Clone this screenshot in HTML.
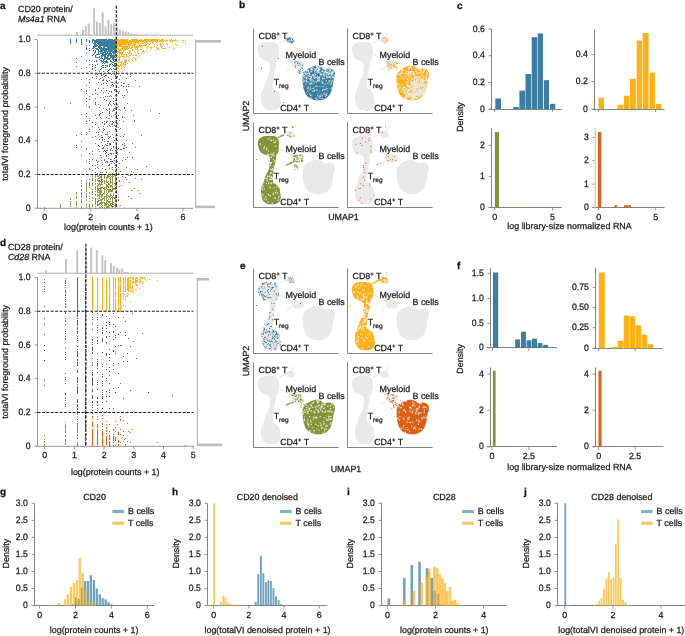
<!DOCTYPE html>
<html><head><meta charset="utf-8"><style>
html,body{margin:0;padding:0;background:#fff;width:685px;height:636px;overflow:hidden}
svg{display:block;will-change:transform}
text{font-family:"Liberation Sans",sans-serif;text-rendering:geometricPrecision;stroke:#1a1a1a;stroke-width:0.25px}
</style></head><body><svg width="685" height="636" viewBox="0 0 685 636" font-family="Liberation Sans, sans-serif"><line x1="37.5" y1="39.6" x2="37.5" y2="208.3" stroke="#7c7c7c" stroke-width="0.8"/><line x1="34.5" y1="208.2" x2="37.5" y2="208.2" stroke="#7c7c7c" stroke-width="0.8"/><text transform="translate(30.5 210.7) scale(0.93 1)" font-size="9.3" text-anchor="end" fill="#1a1a1a">0</text><line x1="34.5" y1="174.48" x2="37.5" y2="174.48" stroke="#7c7c7c" stroke-width="0.8"/><text transform="translate(30.5 176.98) scale(0.93 1)" font-size="9.3" text-anchor="end" fill="#1a1a1a">0.2</text><line x1="34.5" y1="140.76" x2="37.5" y2="140.76" stroke="#7c7c7c" stroke-width="0.8"/><text transform="translate(30.5 143.26) scale(0.93 1)" font-size="9.3" text-anchor="end" fill="#1a1a1a">0.4</text><line x1="34.5" y1="107.04" x2="37.5" y2="107.04" stroke="#7c7c7c" stroke-width="0.8"/><text transform="translate(30.5 109.54) scale(0.93 1)" font-size="9.3" text-anchor="end" fill="#1a1a1a">0.6</text><line x1="34.5" y1="73.32" x2="37.5" y2="73.32" stroke="#7c7c7c" stroke-width="0.8"/><text transform="translate(30.5 75.82) scale(0.93 1)" font-size="9.3" text-anchor="end" fill="#1a1a1a">0.8</text><line x1="34.5" y1="39.6" x2="37.5" y2="39.6" stroke="#7c7c7c" stroke-width="0.8"/><text transform="translate(30.5 42.1) scale(0.93 1)" font-size="9.3" text-anchor="end" fill="#1a1a1a">1.0</text><line x1="37.5" y1="208.3" x2="193.2" y2="208.3" stroke="#7c7c7c" stroke-width="0.8"/><line x1="44.7" y1="208.2" x2="44.7" y2="211.2" stroke="#7c7c7c" stroke-width="0.8"/><text x="44.7" y="220.2" font-size="8.9" text-anchor="middle" fill="#1a1a1a">0</text><line x1="90.8" y1="208.2" x2="90.8" y2="211.2" stroke="#7c7c7c" stroke-width="0.8"/><text x="90.8" y="220.2" font-size="8.9" text-anchor="middle" fill="#1a1a1a">2</text><line x1="136.9" y1="208.2" x2="136.9" y2="211.2" stroke="#7c7c7c" stroke-width="0.8"/><text x="136.9" y="220.2" font-size="8.9" text-anchor="middle" fill="#1a1a1a">4</text><line x1="183" y1="208.2" x2="183" y2="211.2" stroke="#7c7c7c" stroke-width="0.8"/><text x="183" y="220.2" font-size="8.9" text-anchor="middle" fill="#1a1a1a">6</text><text x="108.4" y="230" font-size="8.9" text-anchor="middle" fill="#1a1a1a">log(protein counts + 1)</text><text x="8.4" y="123.9" font-size="8.9" text-anchor="middle" transform="rotate(-90 8.4 123.9)" fill="#1a1a1a">totalVI foreground probability</text><rect x="67.85" y="34.7" width="1.9" height="0.5" fill="#c2c2c2"/><rect x="76.05" y="31.9" width="1.9" height="3.3" fill="#c2c2c2"/><rect x="82.05" y="29.9" width="1.9" height="5.3" fill="#c2c2c2"/><rect x="84.85" y="26.2" width="1.9" height="9" fill="#c2c2c2"/><rect x="87.75" y="23.6" width="1.9" height="11.6" fill="#c2c2c2"/><rect x="93.15" y="8.2" width="1.9" height="27" fill="#c2c2c2"/><rect x="96.05" y="21.7" width="1.9" height="13.5" fill="#c2c2c2"/><rect x="98.95" y="23" width="1.9" height="12.2" fill="#c2c2c2"/><rect x="101.75" y="12.5" width="1.9" height="22.7" fill="#c2c2c2"/><rect x="104.65" y="26.2" width="1.9" height="9" fill="#c2c2c2"/><rect x="107.45" y="20" width="1.9" height="15.2" fill="#c2c2c2"/><rect x="110.25" y="24.2" width="1.9" height="11" fill="#c2c2c2"/><rect x="113.15" y="23.2" width="1.9" height="12" fill="#c2c2c2"/><rect x="116.25" y="27.2" width="1.9" height="8" fill="#c2c2c2"/><rect x="118.95" y="29.4" width="1.9" height="5.8" fill="#c2c2c2"/><rect x="121.85" y="30.8" width="1.9" height="4.4" fill="#c2c2c2"/><rect x="124.65" y="31.6" width="1.9" height="3.6" fill="#c2c2c2"/><rect x="127.55" y="32.2" width="1.9" height="3" fill="#c2c2c2"/><rect x="130.35" y="33.2" width="1.9" height="2" fill="#c2c2c2"/><rect x="133.25" y="33.9" width="1.9" height="1.3" fill="#c2c2c2"/><rect x="136.05" y="34.2" width="1.9" height="1" fill="#c2c2c2"/><rect x="139.05" y="34.6" width="1.9" height="0.6" fill="#c2c2c2"/><rect x="142.05" y="34.8" width="1.9" height="0.4" fill="#c2c2c2"/><line x1="37.2" y1="35.2" x2="193.2" y2="35.2" stroke="#b0b0b0" stroke-width="1"/><line x1="195.6" y1="39.6" x2="195.6" y2="208.2" stroke="#b4b4b4" stroke-width="1.1"/><rect x="195.6" y="40" width="25.4" height="2.6" fill="#bdbdbd"/><rect x="195.6" y="205.6" width="19.4" height="2.6" fill="#bdbdbd"/><text x="18" y="12.4" font-size="8.9" text-anchor="start" fill="#1a1a1a">CD20 protein/</text><text x="18" y="22.4" font-size="8.9" fill="#1a1a1a"><tspan font-style="italic">Ms4a1</tspan> RNA</text><path d="M103 108h1v1h-1zM112 167h1v1h-1zM95 168h1v1h-1zM104 123h1v1h-1zM118 167h1v1h-1zM109 165h1v1h-1zM86 161h1v1h-1zM116 151h1v1h-1zM86 116h1v1h-1zM86 134h1v1h-1zM110 87h1v1h-1zM106 145h1v1h-1zM110 143h1v1h-1zM111 91h1v1h-1zM113 109h1v1h-1zM120 136h1v1h-1zM102 168h1v1h-1zM105 153h1v1h-1zM101 142h1v1h-1zM95 115h1v1h-1zM97 94h1v1h-1zM109 103h1v1h-1zM107 121h1v1h-1zM121 85h1v1h-1zM105 75h1v1h-1zM97 162h1v1h-1zM89 159h1v1h-1zM116 125h1v1h-1zM123 97h1v1h-1zM111 116h1v1h-1zM114 104h1v1h-1zM99 114h1v1h-1zM95 89h1v1h-1zM100 78h1v1h-1zM89 168h1v1h-1zM109 103h1v1h-1zM86 91h1v1h-1zM76 145h1v1h-1zM95 172h1v1h-1zM118 127h1v1h-1zM109 168h1v1h-1zM111 96h1v1h-1zM112 134h1v1h-1zM113 86h1v1h-1zM117 118h1v1h-1zM113 85h1v1h-1zM116 146h1v1h-1zM86 132h1v1h-1zM92 77h1v1h-1zM125 159h1v1h-1zM110 150h1v1h-1zM114 125h1v1h-1zM99 174h1v1h-1zM102 132h1v1h-1zM96 78h1v1h-1zM117 104h1v1h-1zM89 106h1v1h-1zM105 169h1v1h-1zM123 86h1v1h-1zM95 93h1v1h-1zM97 164h1v1h-1zM114 110h1v1h-1zM110 153h1v1h-1zM108 158h1v1h-1zM104 174h1v1h-1zM110 159h1v1h-1zM115 171h1v1h-1zM113 86h1v1h-1zM102 148h1v1h-1zM102 139h1v1h-1zM103 88h1v1h-1zM111 74h1v1h-1zM95 165h1v1h-1zM109 164h1v1h-1zM101 90h1v1h-1zM114 158h1v1h-1zM134 121h1v1h-1zM111 159h1v1h-1zM104 121h1v1h-1zM106 75h1v1h-1zM118 148h1v1h-1zM92 137h1v1h-1zM116 120h1v1h-1zM124 95h1v1h-1zM103 92h1v1h-1zM114 74h1v1h-1zM119 91h1v1h-1zM89 99h1v1h-1zM108 138h1v1h-1zM120 171h1v1h-1zM116 148h1v1h-1zM108 104h1v1h-1zM119 79h1v1h-1zM103 74h1v1h-1zM117 152h1v1h-1zM103 151h1v1h-1zM109 111h1v1h-1zM114 83h1v1h-1zM114 108h1v1h-1zM95 93h1v1h-1zM121 82h1v1h-1zM115 95h1v1h-1zM106 156h1v1h-1zM92 94h1v1h-1zM96 76h1v1h-1zM124 134h1v1h-1zM86 101h1v1h-1zM123 157h1v1h-1zM111 82h1v1h-1zM111 92h1v1h-1zM120 75h1v1h-1zM124 107h1v1h-1zM98 161h1v1h-1zM118 173h1v1h-1zM123 121h1v1h-1zM103 80h1v1h-1zM86 90h1v1h-1zM116 153h1v1h-1zM106 150h1v1h-1zM116 115h1v1h-1zM106 161h1v1h-1zM118 82h1v1h-1zM99 115h1v1h-1zM117 83h1v1h-1zM86 123h1v1h-1zM119 120h1v1h-1zM104 129h1v1h-1zM106 155h1v1h-1zM127 157h1v1h-1zM107 126h1v1h-1zM104 141h1v1h-1zM92 122h1v1h-1zM89 163h1v1h-1zM100 117h1v1h-1zM107 96h1v1h-1zM116 123h1v1h-1zM89 82h1v1h-1zM99 129h1v1h-1zM95 122h1v1h-1zM98 104h1v1h-1zM92 126h1v1h-1zM111 79h1v1h-1zM99 79h1v1h-1zM86 148h1v1h-1zM81 89h1v1h-1zM96 160h1v1h-1zM115 167h1v1h-1zM115 150h1v1h-1zM122 95h1v1h-1zM114 83h1v1h-1zM117 107h1v1h-1zM122 160h1v1h-1zM129 152h1v1h-1zM86 78h1v1h-1zM95 74h1v1h-1zM114 90h1v1h-1zM113 122h1v1h-1zM117 140h1v1h-1zM110 101h1v1h-1zM116 172h1v1h-1zM95 172h1v1h-1zM102 140h1v1h-1zM97 167h1v1h-1zM97 74h1v1h-1zM114 163h1v1h-1zM76 147h1v1h-1zM126 147h1v1h-1zM111 161h1v1h-1zM86 91h1v1h-1zM118 148h1v1h-1zM122 116h1v1h-1zM127 103h1v1h-1zM110 104h1v1h-1zM109 131h1v1h-1zM131 110h1v1h-1zM118 93h1v1h-1zM126 167h1v1h-1zM118 87h1v1h-1zM96 118h1v1h-1zM109 80h1v1h-1zM106 121h1v1h-1zM112 150h1v1h-1zM112 169h1v1h-1zM111 154h1v1h-1zM103 97h1v1h-1zM116 145h1v1h-1zM99 139h1v1h-1zM106 172h1v1h-1zM106 100h1v1h-1zM108 118h1v1h-1zM111 79h1v1h-1zM119 163h1v1h-1zM112 124h1v1h-1zM95 90h1v1h-1zM95 104h1v1h-1zM115 75h1v1h-1zM95 102h1v1h-1zM125 110h1v1h-1zM98 168h1v1h-1zM112 161h1v1h-1zM124 148h1v1h-1zM115 157h1v1h-1zM126 86h1v1h-1zM118 106h1v1h-1zM105 144h1v1h-1zM115 128h1v1h-1zM113 147h1v1h-1zM117 77h1v1h-1zM121 149h1v1h-1zM104 76h1v1h-1zM102 174h1v1h-1zM117 135h1v1h-1zM92 154h1v1h-1zM109 123h1v1h-1zM115 165h1v1h-1zM107 134h1v1h-1zM109 143h1v1h-1zM107 150h1v1h-1zM95 98h1v1h-1zM99 107h1v1h-1zM101 135h1v1h-1zM81 141h1v1h-1zM113 101h1v1h-1zM106 109h1v1h-1zM128 84h1v1h-1zM112 111h1v1h-1zM104 160h1v1h-1zM86 121h1v1h-1zM86 93h1v1h-1zM106 90h1v1h-1zM86 105h1v1h-1zM95 104h1v1h-1zM107 161h1v1h-1zM109 137h1v1h-1zM124 117h1v1h-1zM120 110h1v1h-1zM95 124h1v1h-1zM95 174h1v1h-1zM112 123h1v1h-1zM89 120h1v1h-1zM104 99h1v1h-1zM103 148h1v1h-1zM115 100h1v1h-1zM111 153h1v1h-1zM104 124h1v1h-1zM76 135h1v1h-1zM89 96h1v1h-1zM109 112h1v1h-1zM104 159h1v1h-1zM103 148h1v1h-1zM106 117h1v1h-1zM97 173h1v1h-1zM115 106h1v1h-1zM110 104h1v1h-1zM102 122h1v1h-1zM98 127h1v1h-1zM101 84h1v1h-1zM108 154h1v1h-1zM133 172h1v1h-1zM103 128h1v1h-1zM119 129h1v1h-1zM81 147h1v1h-1zM113 153h1v1h-1zM133 115h1v1h-1zM115 78h1v1h-1zM117 161h1v1h-1zM112 84h1v1h-1zM95 103h1v1h-1zM109 125h1v1h-1zM131 171h1v1h-1zM120 128h1v1h-1zM107 143h1v1h-1zM113 142h1v1h-1zM115 89h1v1h-1zM126 89h1v1h-1zM107 162h1v1h-1zM123 83h1v1h-1zM98 145h1v1h-1zM98 73h1v1h-1zM115 114h1v1h-1zM99 146h1v1h-1zM116 169h1v1h-1zM124 145h1v1h-1zM119 79h1v1h-1zM106 122h1v1h-1zM115 155h1v1h-1zM86 85h1v1h-1zM127 92h1v1h-1zM89 79h1v1h-1zM89 118h1v1h-1zM106 100h1v1h-1zM103 128h1v1h-1zM107 145h1v1h-1zM89 169h1v1h-1zM112 126h1v1h-1zM104 139h1v1h-1zM101 75h1v1h-1zM124 148h1v1h-1zM101 118h1v1h-1zM98 134h1v1h-1zM110 153h1v1h-1zM112 82h1v1h-1zM98 82h1v1h-1zM107 73h1v1h-1zM100 155h1v1h-1zM108 165h1v1h-1zM104 150h1v1h-1zM111 148h1v1h-1zM86 98h1v1h-1zM96 132h1v1h-1zM95 136h1v1h-1zM114 140h1v1h-1zM115 76h1v1h-1zM110 161h1v1h-1zM89 87h1v1h-1zM106 152h1v1h-1zM105 134h1v1h-1zM115 129h1v1h-1zM128 86h1v1h-1zM100 172h1v1h-1zM124 83h1v1h-1zM110 126h1v1h-1zM106 134h1v1h-1zM106 80h1v1h-1zM117 76h1v1h-1zM86 149h1v1h-1zM112 121h1v1h-1zM111 105h1v1h-1zM124 108h1v1h-1zM100 97h1v1h-1zM92 170h1v1h-1zM110 95h1v1h-1zM109 109h1v1h-1zM132 143h1v1h-1zM113 110h1v1h-1zM113 103h1v1h-1zM110 121h1v1h-1zM109 115h1v1h-1zM100 113h1v1h-1zM112 173h1v1h-1zM102 77h1v1h-1zM119 109h1v1h-1zM116 150h1v1h-1zM98 149h1v1h-1zM124 143h1v1h-1zM102 172h1v1h-1zM89 131h1v1h-1zM107 148h1v1h-1zM92 151h1v1h-1zM86 171h1v1h-1zM100 105h1v1h-1zM117 154h1v1h-1zM112 123h1v1h-1zM89 153h1v1h-1zM116 91h1v1h-1zM105 151h1v1h-1zM110 144h1v1h-1zM126 78h1v1h-1zM99 151h1v1h-1zM107 132h1v1h-1zM92 159h1v1h-1zM81 134h1v1h-1zM114 160h1v1h-1zM137 169h1v1h-1zM117 83h1v1h-1zM111 85h1v1h-1zM102 80h1v1h-1zM103 79h1v1h-1zM113 98h1v1h-1zM123 136h1v1h-1zM110 136h1v1h-1zM103 174h1v1h-1zM113 146h1v1h-1zM89 161h1v1h-1zM130 76h1v1h-1zM109 91h1v1h-1zM117 91h1v1h-1zM103 126h1v1h-1zM108 136h1v1h-1zM113 137h1v1h-1zM103 83h1v1h-1zM118 92h1v1h-1zM109 96h1v1h-1zM109 168h1v1h-1zM107 81h1v1h-1zM106 83h1v1h-1zM126 140h1v1h-1zM102 112h1v1h-1zM135 147h1v1h-1zM104 146h1v1h-1zM97 174h1v1h-1zM107 110h1v1h-1zM81 79h1v1h-1zM115 126h1v1h-1zM108 77h1v1h-1zM117 149h1v1h-1zM103 130h1v1h-1zM81 155h1v1h-1zM108 93h1v1h-1zM105 96h1v1h-1zM86 113h1v1h-1zM102 137h1v1h-1zM115 95h1v1h-1zM113 98h1v1h-1zM110 149h1v1h-1zM109 118h1v1h-1zM108 141h1v1h-1zM130 74h1v1h-1zM103 147h1v1h-1zM111 124h1v1h-1zM109 102h1v1h-1zM98 132h1v1h-1zM109 111h1v1h-1zM98 88h1v1h-1zM89 107h1v1h-1zM122 144h1v1h-1zM122 117h1v1h-1zM92 154h1v1h-1zM120 149h1v1h-1zM107 85h1v1h-1zM113 115h1v1h-1zM101 74h1v1h-1zM117 123h1v1h-1zM109 108h1v1h-1zM127 74h1v1h-1zM117 91h1v1h-1zM114 89h1v1h-1zM109 144h1v1h-1zM105 162h1v1h-1zM118 115h1v1h-1zM135 80h1v1h-1zM89 129h1v1h-1zM123 148h1v1h-1zM111 163h1v1h-1zM81 114h1v1h-1zM101 137h1v1h-1zM101 160h1v1h-1zM109 113h1v1h-1zM115 108h1v1h-1zM107 141h1v1h-1zM108 105h1v1h-1zM110 153h1v1h-1zM116 94h1v1h-1zM102 164h1v1h-1zM105 134h1v1h-1zM92 165h1v1h-1zM101 157h1v1h-1zM102 145h1v1h-1zM95 143h1v1h-1zM116 117h1v1h-1zM44 107h1v1h-1zM159 113h1v1h-1zM141 135h1v1h-1zM150 110h1v1h-1zM139 86h1v1h-1zM134 120h1v1h-1zM70 103h1v1h-1zM146 166h1v1h-1zM132 157h1v1h-1z" fill="#707070"/><path d="M60 204h1v1h-1zM60 206h1v1h-1zM60 207h1v1h-1zM60 204h1v1h-1zM60 204h1v1h-1zM60 205h1v1h-1zM70 203h1v1h-1zM70 201h1v1h-1zM70 202h1v1h-1zM70 204h1v1h-1zM70 206h1v1h-1zM70 203h1v1h-1zM70 203h1v1h-1zM70 199h1v1h-1zM70 198h1v1h-1zM70 202h1v1h-1zM76 203h1v1h-1zM76 204h1v1h-1zM76 198h1v1h-1zM76 196h1v1h-1zM76 204h1v1h-1zM76 197h1v1h-1zM76 192h1v1h-1zM76 202h1v1h-1zM76 193h1v1h-1zM76 201h1v1h-1zM76 198h1v1h-1zM76 194h1v1h-1zM76 205h1v1h-1zM76 202h1v1h-1zM76 193h1v1h-1zM76 207h1v1h-1zM81 199h1v1h-1zM81 194h1v1h-1zM81 186h1v1h-1zM81 190h1v1h-1zM81 181h1v1h-1zM81 189h1v1h-1zM81 208h1v1h-1zM81 206h1v1h-1zM81 207h1v1h-1zM81 195h1v1h-1zM81 207h1v1h-1zM81 193h1v1h-1zM81 190h1v1h-1zM81 202h1v1h-1zM81 183h1v1h-1zM81 196h1v1h-1zM81 180h1v1h-1zM81 197h1v1h-1zM81 190h1v1h-1zM81 192h1v1h-1zM81 200h1v1h-1zM81 185h1v1h-1zM81 208h1v1h-1zM81 201h1v1h-1zM86 199h1v1h-1zM86 183h1v1h-1zM86 194h1v1h-1zM86 207h1v1h-1zM86 199h1v1h-1zM86 191h1v1h-1zM86 185h1v1h-1zM86 205h1v1h-1zM86 186h1v1h-1zM86 197h1v1h-1zM86 193h1v1h-1zM86 196h1v1h-1zM86 195h1v1h-1zM86 180h1v1h-1zM86 182h1v1h-1zM86 182h1v1h-1zM86 187h1v1h-1zM86 188h1v1h-1zM86 204h1v1h-1zM86 207h1v1h-1zM86 184h1v1h-1zM86 189h1v1h-1zM86 190h1v1h-1zM86 199h1v1h-1zM86 200h1v1h-1zM86 182h1v1h-1zM89 192h1v1h-1zM89 207h1v1h-1zM89 198h1v1h-1zM89 198h1v1h-1zM89 206h1v1h-1zM89 179h1v1h-1zM89 182h1v1h-1zM89 184h1v1h-1zM89 208h1v1h-1zM89 196h1v1h-1zM89 204h1v1h-1zM89 187h1v1h-1zM89 184h1v1h-1zM89 185h1v1h-1zM89 185h1v1h-1zM89 204h1v1h-1zM89 207h1v1h-1zM89 205h1v1h-1zM89 183h1v1h-1zM89 184h1v1h-1zM89 193h1v1h-1zM89 201h1v1h-1zM89 183h1v1h-1zM89 204h1v1h-1zM89 198h1v1h-1zM89 208h1v1h-1zM89 179h1v1h-1zM89 196h1v1h-1zM89 185h1v1h-1zM89 184h1v1h-1zM92 189h1v1h-1zM92 176h1v1h-1zM92 183h1v1h-1zM92 178h1v1h-1zM92 176h1v1h-1zM92 205h1v1h-1zM92 183h1v1h-1zM92 200h1v1h-1zM92 197h1v1h-1zM92 197h1v1h-1zM92 176h1v1h-1zM92 206h1v1h-1zM92 194h1v1h-1zM92 204h1v1h-1zM92 175h1v1h-1zM92 192h1v1h-1zM92 185h1v1h-1zM92 191h1v1h-1zM92 183h1v1h-1zM92 197h1v1h-1zM92 194h1v1h-1zM92 184h1v1h-1zM92 185h1v1h-1zM92 179h1v1h-1zM92 198h1v1h-1zM92 180h1v1h-1zM92 184h1v1h-1zM92 189h1v1h-1zM92 194h1v1h-1zM92 189h1v1h-1zM92 205h1v1h-1zM92 205h1v1h-1zM92 198h1v1h-1zM92 204h1v1h-1zM95 206h1v1h-1zM95 184h1v1h-1zM95 183h1v1h-1zM95 187h1v1h-1zM95 201h1v1h-1zM95 183h1v1h-1zM95 180h1v1h-1zM95 187h1v1h-1zM95 200h1v1h-1zM95 189h1v1h-1zM95 194h1v1h-1zM95 199h1v1h-1zM95 203h1v1h-1zM95 179h1v1h-1zM95 186h1v1h-1zM95 176h1v1h-1zM95 202h1v1h-1zM95 199h1v1h-1zM95 191h1v1h-1zM95 206h1v1h-1zM95 198h1v1h-1zM95 189h1v1h-1zM95 191h1v1h-1zM95 177h1v1h-1zM95 188h1v1h-1zM95 186h1v1h-1zM95 188h1v1h-1zM95 181h1v1h-1zM95 195h1v1h-1zM95 208h1v1h-1zM95 175h1v1h-1zM95 181h1v1h-1zM95 203h1v1h-1zM95 204h1v1h-1zM95 200h1v1h-1zM95 186h1v1h-1zM44 207h1v1h-1zM97 179h1v1h-1zM97 191h1v1h-1zM97 189h1v1h-1zM97 195h1v1h-1zM97 191h1v1h-1zM97 185h1v1h-1zM97 203h1v1h-1zM97 196h1v1h-1zM97 203h1v1h-1zM97 183h1v1h-1zM98 185h1v1h-1zM97 205h1v1h-1zM98 192h1v1h-1zM97 180h1v1h-1zM98 178h1v1h-1zM97 176h1v1h-1zM98 189h1v1h-1zM97 208h1v1h-1zM97 187h1v1h-1zM97 187h1v1h-1zM98 190h1v1h-1zM97 201h1v1h-1zM97 205h1v1h-1zM97 202h1v1h-1zM97 204h1v1h-1zM98 198h1v1h-1zM97 199h1v1h-1zM97 185h1v1h-1zM97 199h1v1h-1zM98 204h1v1h-1zM97 202h1v1h-1zM97 203h1v1h-1zM97 190h1v1h-1zM97 191h1v1h-1zM97 201h1v1h-1zM97 203h1v1h-1zM97 192h1v1h-1zM97 186h1v1h-1zM97 175h1v1h-1zM97 188h1v1h-1zM99 207h1v1h-1zM99 188h1v1h-1zM99 204h1v1h-1zM99 200h1v1h-1zM100 190h1v1h-1zM99 195h1v1h-1zM100 189h1v1h-1zM99 182h1v1h-1zM99 175h1v1h-1zM99 200h1v1h-1zM100 193h1v1h-1zM99 193h1v1h-1zM100 200h1v1h-1zM99 191h1v1h-1zM100 194h1v1h-1zM99 183h1v1h-1zM100 181h1v1h-1zM99 184h1v1h-1zM100 184h1v1h-1zM99 193h1v1h-1zM99 191h1v1h-1zM100 202h1v1h-1zM99 198h1v1h-1zM100 191h1v1h-1zM99 178h1v1h-1zM100 193h1v1h-1zM99 192h1v1h-1zM99 190h1v1h-1zM100 187h1v1h-1zM100 207h1v1h-1zM99 175h1v1h-1zM99 203h1v1h-1zM99 197h1v1h-1zM100 191h1v1h-1zM99 203h1v1h-1zM99 177h1v1h-1zM99 194h1v1h-1zM100 203h1v1h-1zM100 188h1v1h-1zM99 186h1v1h-1zM101 196h1v1h-1zM101 183h1v1h-1zM101 190h1v1h-1zM101 177h1v1h-1zM101 195h1v1h-1zM102 198h1v1h-1zM101 201h1v1h-1zM101 200h1v1h-1zM101 202h1v1h-1zM101 176h1v1h-1zM102 181h1v1h-1zM101 174h1v1h-1zM101 181h1v1h-1zM101 182h1v1h-1zM101 196h1v1h-1zM101 192h1v1h-1zM102 195h1v1h-1zM101 177h1v1h-1zM101 206h1v1h-1zM101 184h1v1h-1zM101 188h1v1h-1zM101 200h1v1h-1zM101 192h1v1h-1zM101 194h1v1h-1zM101 191h1v1h-1zM101 179h1v1h-1zM101 188h1v1h-1zM101 199h1v1h-1zM101 177h1v1h-1zM101 187h1v1h-1zM102 203h1v1h-1zM101 203h1v1h-1zM101 197h1v1h-1zM101 177h1v1h-1zM102 205h1v1h-1zM102 199h1v1h-1zM101 199h1v1h-1zM101 203h1v1h-1zM101 178h1v1h-1zM102 202h1v1h-1zM104 192h1v1h-1zM104 181h1v1h-1zM104 203h1v1h-1zM104 207h1v1h-1zM104 204h1v1h-1zM104 193h1v1h-1zM104 200h1v1h-1zM104 200h1v1h-1zM104 197h1v1h-1zM104 182h1v1h-1zM104 204h1v1h-1zM104 180h1v1h-1zM104 190h1v1h-1zM104 192h1v1h-1zM104 180h1v1h-1zM104 180h1v1h-1zM104 204h1v1h-1zM104 196h1v1h-1zM104 199h1v1h-1zM104 175h1v1h-1zM104 204h1v1h-1zM104 175h1v1h-1zM104 188h1v1h-1zM104 200h1v1h-1zM104 208h1v1h-1zM104 187h1v1h-1zM104 175h1v1h-1zM104 175h1v1h-1zM104 188h1v1h-1zM104 178h1v1h-1zM104 205h1v1h-1zM104 177h1v1h-1zM104 202h1v1h-1zM104 187h1v1h-1zM104 204h1v1h-1zM104 202h1v1h-1zM104 205h1v1h-1zM104 198h1v1h-1zM104 189h1v1h-1zM104 192h1v1h-1zM106 188h1v1h-1zM106 205h1v1h-1zM106 179h1v1h-1zM106 185h1v1h-1zM106 188h1v1h-1zM106 202h1v1h-1zM106 188h1v1h-1zM106 184h1v1h-1zM106 178h1v1h-1zM106 197h1v1h-1zM106 180h1v1h-1zM106 177h1v1h-1zM106 198h1v1h-1zM106 203h1v1h-1zM106 190h1v1h-1zM106 195h1v1h-1zM106 200h1v1h-1zM106 199h1v1h-1zM106 177h1v1h-1zM106 199h1v1h-1zM106 188h1v1h-1zM106 207h1v1h-1zM106 196h1v1h-1zM106 199h1v1h-1zM106 202h1v1h-1zM106 200h1v1h-1zM106 185h1v1h-1zM106 204h1v1h-1zM106 179h1v1h-1zM106 186h1v1h-1zM106 177h1v1h-1zM106 192h1v1h-1zM106 198h1v1h-1zM106 206h1v1h-1zM106 194h1v1h-1zM106 196h1v1h-1zM106 205h1v1h-1zM106 191h1v1h-1zM106 196h1v1h-1zM106 182h1v1h-1zM108 195h1v1h-1zM108 184h1v1h-1zM108 186h1v1h-1zM108 206h1v1h-1zM109 190h1v1h-1zM108 187h1v1h-1zM108 196h1v1h-1zM108 189h1v1h-1zM108 201h1v1h-1zM108 199h1v1h-1zM109 196h1v1h-1zM108 202h1v1h-1zM108 207h1v1h-1zM108 176h1v1h-1zM109 178h1v1h-1zM108 187h1v1h-1zM108 202h1v1h-1zM108 177h1v1h-1zM109 184h1v1h-1zM108 177h1v1h-1zM108 205h1v1h-1zM109 176h1v1h-1zM109 174h1v1h-1zM108 184h1v1h-1zM108 181h1v1h-1zM108 191h1v1h-1zM108 199h1v1h-1zM108 184h1v1h-1zM109 189h1v1h-1zM109 197h1v1h-1zM108 202h1v1h-1zM108 191h1v1h-1zM109 205h1v1h-1zM108 192h1v1h-1zM108 199h1v1h-1zM108 204h1v1h-1zM108 191h1v1h-1zM108 206h1v1h-1zM109 191h1v1h-1zM108 190h1v1h-1zM110 205h1v1h-1zM111 203h1v1h-1zM110 198h1v1h-1zM110 189h1v1h-1zM111 191h1v1h-1zM111 176h1v1h-1zM110 185h1v1h-1zM111 206h1v1h-1zM110 186h1v1h-1zM110 191h1v1h-1zM110 198h1v1h-1zM110 186h1v1h-1zM110 198h1v1h-1zM110 199h1v1h-1zM111 195h1v1h-1zM110 182h1v1h-1zM110 191h1v1h-1zM111 205h1v1h-1zM110 205h1v1h-1zM110 190h1v1h-1zM111 185h1v1h-1zM110 181h1v1h-1zM110 196h1v1h-1zM110 198h1v1h-1zM110 204h1v1h-1zM110 198h1v1h-1zM110 175h1v1h-1zM110 195h1v1h-1zM110 179h1v1h-1zM110 183h1v1h-1zM110 205h1v1h-1zM110 195h1v1h-1zM111 197h1v1h-1zM110 190h1v1h-1zM110 178h1v1h-1zM110 201h1v1h-1zM110 191h1v1h-1zM110 177h1v1h-1zM110 191h1v1h-1zM110 201h1v1h-1zM112 206h1v1h-1zM112 203h1v1h-1zM112 180h1v1h-1zM112 176h1v1h-1zM112 189h1v1h-1zM112 178h1v1h-1zM112 197h1v1h-1zM112 198h1v1h-1zM112 206h1v1h-1zM113 197h1v1h-1zM112 188h1v1h-1zM112 196h1v1h-1zM113 195h1v1h-1zM112 190h1v1h-1zM113 189h1v1h-1zM112 186h1v1h-1zM113 174h1v1h-1zM112 203h1v1h-1zM112 181h1v1h-1zM113 206h1v1h-1zM113 176h1v1h-1zM112 179h1v1h-1zM112 175h1v1h-1zM112 179h1v1h-1zM113 204h1v1h-1zM113 193h1v1h-1zM113 197h1v1h-1zM112 206h1v1h-1zM112 184h1v1h-1zM112 201h1v1h-1zM112 206h1v1h-1zM112 202h1v1h-1zM112 177h1v1h-1zM112 197h1v1h-1zM112 198h1v1h-1zM113 194h1v1h-1zM112 198h1v1h-1zM113 188h1v1h-1zM112 183h1v1h-1zM113 193h1v1h-1zM115 204h1v1h-1zM115 196h1v1h-1zM115 178h1v1h-1zM115 200h1v1h-1zM115 181h1v1h-1zM115 192h1v1h-1zM115 205h1v1h-1zM115 185h1v1h-1zM115 178h1v1h-1zM115 183h1v1h-1zM115 192h1v1h-1zM115 204h1v1h-1zM115 205h1v1h-1zM115 179h1v1h-1zM115 197h1v1h-1zM115 207h1v1h-1zM115 206h1v1h-1zM115 175h1v1h-1zM115 176h1v1h-1zM115 207h1v1h-1zM115 201h1v1h-1zM115 178h1v1h-1zM115 187h1v1h-1zM115 203h1v1h-1zM115 185h1v1h-1zM115 198h1v1h-1zM115 198h1v1h-1zM115 188h1v1h-1zM115 180h1v1h-1zM115 206h1v1h-1zM115 201h1v1h-1zM115 189h1v1h-1zM115 206h1v1h-1zM115 191h1v1h-1zM115 195h1v1h-1zM115 201h1v1h-1zM115 200h1v1h-1zM115 207h1v1h-1zM115 175h1v1h-1zM115 196h1v1h-1zM107 197h1v1h-1zM115 184h1v1h-1zM98 184h1v1h-1zM107 195h1v1h-1zM110 178h1v1h-1zM98 176h1v1h-1zM111 186h1v1h-1zM111 176h1v1h-1zM98 185h1v1h-1zM107 203h1v1h-1zM113 174h1v1h-1zM106 195h1v1h-1zM112 200h1v1h-1zM115 204h1v1h-1zM107 193h1v1h-1zM100 194h1v1h-1zM112 178h1v1h-1zM115 200h1v1h-1zM114 205h1v1h-1zM99 181h1v1h-1zM108 192h1v1h-1zM98 192h1v1h-1zM104 191h1v1h-1zM99 193h1v1h-1zM108 192h1v1h-1zM98 195h1v1h-1zM106 188h1v1h-1zM107 200h1v1h-1zM106 206h1v1h-1zM99 203h1v1h-1zM107 207h1v1h-1zM106 187h1v1h-1zM108 176h1v1h-1zM103 193h1v1h-1zM112 187h1v1h-1zM101 175h1v1h-1zM102 187h1v1h-1zM107 203h1v1h-1zM98 188h1v1h-1zM99 195h1v1h-1zM111 176h1v1h-1zM112 207h1v1h-1zM104 183h1v1h-1zM99 194h1v1h-1zM101 201h1v1h-1zM110 181h1v1h-1zM105 187h1v1h-1zM99 191h1v1h-1zM104 187h1v1h-1zM107 182h1v1h-1zM110 187h1v1h-1zM104 192h1v1h-1zM101 203h1v1h-1zM106 201h1v1h-1zM108 175h1v1h-1zM102 194h1v1h-1zM112 191h1v1h-1zM97 194h1v1h-1zM113 193h1v1h-1zM106 179h1v1h-1zM111 182h1v1h-1zM101 196h1v1h-1zM112 198h1v1h-1zM100 176h1v1h-1zM99 196h1v1h-1zM114 205h1v1h-1zM100 185h1v1h-1zM114 197h1v1h-1zM109 201h1v1h-1zM115 189h1v1h-1zM112 204h1v1h-1zM109 207h1v1h-1zM108 181h1v1h-1zM105 189h1v1h-1zM113 202h1v1h-1zM111 190h1v1h-1zM105 205h1v1h-1zM111 203h1v1h-1zM107 206h1v1h-1zM115 182h1v1h-1zM107 177h1v1h-1zM98 190h1v1h-1zM98 180h1v1h-1zM102 205h1v1h-1zM110 203h1v1h-1zM106 181h1v1h-1zM97 183h1v1h-1zM110 186h1v1h-1zM114 189h1v1h-1zM112 203h1v1h-1zM99 184h1v1h-1zM98 201h1v1h-1zM102 184h1v1h-1zM101 197h1v1h-1zM106 203h1v1h-1zM105 204h1v1h-1zM111 190h1v1h-1zM99 191h1v1h-1zM98 200h1v1h-1zM109 202h1v1h-1zM101 204h1v1h-1zM110 196h1v1h-1zM98 205h1v1h-1zM104 176h1v1h-1zM104 196h1v1h-1zM102 196h1v1h-1zM115 177h1v1h-1zM114 188h1v1h-1zM115 199h1v1h-1zM101 180h1v1h-1zM112 203h1v1h-1zM112 199h1v1h-1zM99 207h1v1h-1zM107 189h1v1h-1zM111 174h1v1h-1zM100 177h1v1h-1zM110 191h1v1h-1zM100 192h1v1h-1zM108 183h1v1h-1zM97 175h1v1h-1zM102 182h1v1h-1zM115 183h1v1h-1zM112 184h1v1h-1zM115 192h1v1h-1zM111 191h1v1h-1zM107 193h1v1h-1zM100 191h1v1h-1zM100 199h1v1h-1zM99 194h1v1h-1zM98 181h1v1h-1zM102 207h1v1h-1zM107 201h1v1h-1zM104 176h1v1h-1zM114 175h1v1h-1zM103 202h1v1h-1zM107 175h1v1h-1zM108 190h1v1h-1zM107 176h1v1h-1zM106 202h1v1h-1zM103 198h1v1h-1zM99 186h1v1h-1zM101 190h1v1h-1zM114 198h1v1h-1zM105 196h1v1h-1zM98 198h1v1h-1zM105 203h1v1h-1zM103 188h1v1h-1zM105 203h1v1h-1zM107 193h1v1h-1zM107 185h1v1h-1zM115 196h1v1h-1zM97 205h1v1h-1zM110 194h1v1h-1zM99 180h1v1h-1zM107 186h1v1h-1zM112 182h1v1h-1zM110 180h1v1h-1zM114 183h1v1h-1zM98 205h1v1h-1zM102 179h1v1h-1z" fill="#8c9b48"/><path d="M118.9 180.9h1.2v1.2h-1.2zM138.9 192.9h1.2v1.2h-1.2zM117.9 176.9h1.2v1.2h-1.2zM119.9 204.9h1.2v1.2h-1.2zM120.9 184.9h1.2v1.2h-1.2zM117.9 198.9h1.2v1.2h-1.2zM115.9 182.9h1.2v1.2h-1.2zM125.9 178.9h1.2v1.2h-1.2zM115.9 205.9h1.2v1.2h-1.2zM130.9 189.9h1.2v1.2h-1.2zM130.9 197.9h1.2v1.2h-1.2zM116.9 173.9h1.2v1.2h-1.2zM127.9 174.9h1.2v1.2h-1.2zM134.9 177.9h1.2v1.2h-1.2zM115.9 184.9h1.2v1.2h-1.2zM121.9 175.9h1.2v1.2h-1.2zM140.9 178.9h1.2v1.2h-1.2zM130.9 197.9h1.2v1.2h-1.2zM127.9 195.9h1.2v1.2h-1.2zM128.9 181.9h1.2v1.2h-1.2zM133.9 187.9h1.2v1.2h-1.2zM129.9 174.9h1.2v1.2h-1.2zM118.9 179.9h1.2v1.2h-1.2zM120.9 184.9h1.2v1.2h-1.2zM124.9 176.9h1.2v1.2h-1.2zM118.9 185.9h1.2v1.2h-1.2zM117.9 199.9h1.2v1.2h-1.2zM115.9 183.9h1.2v1.2h-1.2zM137.9 189.9h1.2v1.2h-1.2zM117.9 196.9h1.2v1.2h-1.2z" fill="#db6018"/><path d="M81 40h1.1v1.1h-1.1zM70 39h1.1v1.1h-1.1zM81 41h1.1v1.1h-1.1zM70 40h1.1v1.1h-1.1zM76 40h1.1v1.1h-1.1zM81 41h1.1v1.1h-1.1zM76 40h1.1v1.1h-1.1zM95 70h1.1v1.1h-1.1zM89 48h1.1v1.1h-1.1zM76 39h1.1v1.1h-1.1zM81 39h1.1v1.1h-1.1zM86 40h1.1v1.1h-1.1zM95 46h1.1v1.1h-1.1zM81 44h1.1v1.1h-1.1zM86 41h1.1v1.1h-1.1zM89 60h1.1v1.1h-1.1zM92 40h1.1v1.1h-1.1zM95 52h1.1v1.1h-1.1zM89 45h1.1v1.1h-1.1zM76 40h1.1v1.1h-1.1zM70 41h1.1v1.1h-1.1zM70 39h1.1v1.1h-1.1zM92 66h1.1v1.1h-1.1zM89 50h1.1v1.1h-1.1zM92 69h1.1v1.1h-1.1zM89 41h1.1v1.1h-1.1zM92 42h1.1v1.1h-1.1zM89 41h1.1v1.1h-1.1zM89 40h1.1v1.1h-1.1zM70 41h1.1v1.1h-1.1zM86 47h1.1v1.1h-1.1zM86 45h1.1v1.1h-1.1zM86 39h1.1v1.1h-1.1zM76 42h1.1v1.1h-1.1zM89 42h1.1v1.1h-1.1zM70 42h1.1v1.1h-1.1zM81 56h1.1v1.1h-1.1zM70 43h1.1v1.1h-1.1zM92 68h1.1v1.1h-1.1zM95 42h1.1v1.1h-1.1zM89 45h1.1v1.1h-1.1zM76 40h1.1v1.1h-1.1zM95 67h1.1v1.1h-1.1zM95 65h1.1v1.1h-1.1zM95 40h1.1v1.1h-1.1zM95 40h1.1v1.1h-1.1zM95 42h1.1v1.1h-1.1zM81 40h1.1v1.1h-1.1zM81 40h1.1v1.1h-1.1zM76 40h1.1v1.1h-1.1zM76 39h1.1v1.1h-1.1zM81 40h1.1v1.1h-1.1zM95 40h1.1v1.1h-1.1zM95 40h1.1v1.1h-1.1zM95 41h1.1v1.1h-1.1zM89 40h1.1v1.1h-1.1zM89 40h1.1v1.1h-1.1zM86 60h1.1v1.1h-1.1zM86 53h1.1v1.1h-1.1zM81 40h1.1v1.1h-1.1zM89 71h1.1v1.1h-1.1zM95 40h1.1v1.1h-1.1zM81 42h1.1v1.1h-1.1zM92 48h1.1v1.1h-1.1zM92 39h1.1v1.1h-1.1zM76 41h1.1v1.1h-1.1zM81 68h1.1v1.1h-1.1zM76 41h1.1v1.1h-1.1zM70 41h1.1v1.1h-1.1zM70 39h1.1v1.1h-1.1zM89 41h1.1v1.1h-1.1zM76 40h1.1v1.1h-1.1zM95 42h1.1v1.1h-1.1zM76 58h1.1v1.1h-1.1zM70 43h1.1v1.1h-1.1zM95 40h1.1v1.1h-1.1zM70 43h1.1v1.1h-1.1zM95 41h1.1v1.1h-1.1zM86 41h1.1v1.1h-1.1zM89 64h1.1v1.1h-1.1zM70 41h1.1v1.1h-1.1zM76 40h1.1v1.1h-1.1zM95 41h1.1v1.1h-1.1zM76 41h1.1v1.1h-1.1zM76 41h1.1v1.1h-1.1zM86 67h1.1v1.1h-1.1zM81 41h1.1v1.1h-1.1zM92 42h1.1v1.1h-1.1zM92 41h1.1v1.1h-1.1zM86 48h1.1v1.1h-1.1zM86 40h1.1v1.1h-1.1zM70 40h1.1v1.1h-1.1zM92 41h1.1v1.1h-1.1zM92 64h1.1v1.1h-1.1zM70 42h1.1v1.1h-1.1zM89 41h1.1v1.1h-1.1zM81 43h1.1v1.1h-1.1zM76 40h1.1v1.1h-1.1zM76 66h1.1v1.1h-1.1zM76 62h1.1v1.1h-1.1zM86 39h1.1v1.1h-1.1zM76 42h1.1v1.1h-1.1zM92 55h1.1v1.1h-1.1zM86 49h1.1v1.1h-1.1zM95 43h1.1v1.1h-1.1zM92 42h1.1v1.1h-1.1zM86 41h1.1v1.1h-1.1zM70 39h1.1v1.1h-1.1zM70 40h1.1v1.1h-1.1zM76 39h1.1v1.1h-1.1zM112 58h1.1v1.1h-1.1zM114 52h1.1v1.1h-1.1zM99 39h1.1v1.1h-1.1zM107 49h1.1v1.1h-1.1zM105 49h1.1v1.1h-1.1zM94 43h1.1v1.1h-1.1zM108 58h1.1v1.1h-1.1zM95 45h1.1v1.1h-1.1zM108 41h1.1v1.1h-1.1zM114 63h1.1v1.1h-1.1zM114 46h1.1v1.1h-1.1zM98 47h1.1v1.1h-1.1zM98 40h1.1v1.1h-1.1zM114 56h1.1v1.1h-1.1zM112 50h1.1v1.1h-1.1zM108 40h1.1v1.1h-1.1zM110 49h1.1v1.1h-1.1zM108 51h1.1v1.1h-1.1zM100 69h1.1v1.1h-1.1zM109 41h1.1v1.1h-1.1zM108 51h1.1v1.1h-1.1zM115 41h1.1v1.1h-1.1zM101 44h1.1v1.1h-1.1zM99 44h1.1v1.1h-1.1zM110 40h1.1v1.1h-1.1zM115 60h1.1v1.1h-1.1zM111 39h1.1v1.1h-1.1zM99 40h1.1v1.1h-1.1zM112 47h1.1v1.1h-1.1zM101 39h1.1v1.1h-1.1zM113 48h1.1v1.1h-1.1zM107 43h1.1v1.1h-1.1zM105 39h1.1v1.1h-1.1zM107 43h1.1v1.1h-1.1zM113 58h1.1v1.1h-1.1zM113 56h1.1v1.1h-1.1zM104 49h1.1v1.1h-1.1zM95 55h1.1v1.1h-1.1zM111 41h1.1v1.1h-1.1zM101 39h1.1v1.1h-1.1zM115 45h1.1v1.1h-1.1zM99 43h1.1v1.1h-1.1zM110 60h1.1v1.1h-1.1zM105 48h1.1v1.1h-1.1zM107 46h1.1v1.1h-1.1zM99 39h1.1v1.1h-1.1zM104 59h1.1v1.1h-1.1zM106 42h1.1v1.1h-1.1zM114 40h1.1v1.1h-1.1zM105 58h1.1v1.1h-1.1zM113 45h1.1v1.1h-1.1zM114 47h1.1v1.1h-1.1zM105 53h1.1v1.1h-1.1zM114 49h1.1v1.1h-1.1zM109 45h1.1v1.1h-1.1zM114 40h1.1v1.1h-1.1zM114 59h1.1v1.1h-1.1zM104 42h1.1v1.1h-1.1zM107 44h1.1v1.1h-1.1zM112 51h1.1v1.1h-1.1zM112 44h1.1v1.1h-1.1zM96 57h1.1v1.1h-1.1zM110 46h1.1v1.1h-1.1zM111 49h1.1v1.1h-1.1zM104 41h1.1v1.1h-1.1zM99 46h1.1v1.1h-1.1zM110 52h1.1v1.1h-1.1zM112 59h1.1v1.1h-1.1zM99 47h1.1v1.1h-1.1zM93 47h1.1v1.1h-1.1zM98 50h1.1v1.1h-1.1zM112 43h1.1v1.1h-1.1zM107 58h1.1v1.1h-1.1zM107 56h1.1v1.1h-1.1zM110 52h1.1v1.1h-1.1zM98 44h1.1v1.1h-1.1zM98 49h1.1v1.1h-1.1zM115 43h1.1v1.1h-1.1zM101 57h1.1v1.1h-1.1zM102 49h1.1v1.1h-1.1zM112 40h1.1v1.1h-1.1zM105 41h1.1v1.1h-1.1zM114 69h1.1v1.1h-1.1zM106 40h1.1v1.1h-1.1zM100 46h1.1v1.1h-1.1zM108 54h1.1v1.1h-1.1zM99 57h1.1v1.1h-1.1zM101 41h1.1v1.1h-1.1zM108 44h1.1v1.1h-1.1zM101 40h1.1v1.1h-1.1zM105 51h1.1v1.1h-1.1zM109 49h1.1v1.1h-1.1zM112 41h1.1v1.1h-1.1zM111 51h1.1v1.1h-1.1zM115 43h1.1v1.1h-1.1zM102 40h1.1v1.1h-1.1zM109 69h1.1v1.1h-1.1zM104 41h1.1v1.1h-1.1zM113 51h1.1v1.1h-1.1zM111 46h1.1v1.1h-1.1zM113 62h1.1v1.1h-1.1zM103 50h1.1v1.1h-1.1zM104 43h1.1v1.1h-1.1zM108 54h1.1v1.1h-1.1zM97 45h1.1v1.1h-1.1zM100 43h1.1v1.1h-1.1zM99 59h1.1v1.1h-1.1zM109 51h1.1v1.1h-1.1zM110 52h1.1v1.1h-1.1zM110 40h1.1v1.1h-1.1zM109 49h1.1v1.1h-1.1zM110 50h1.1v1.1h-1.1zM100 41h1.1v1.1h-1.1zM101 53h1.1v1.1h-1.1zM96 61h1.1v1.1h-1.1zM112 43h1.1v1.1h-1.1zM111 46h1.1v1.1h-1.1zM99 41h1.1v1.1h-1.1zM110 57h1.1v1.1h-1.1zM106 39h1.1v1.1h-1.1zM114 45h1.1v1.1h-1.1zM115 41h1.1v1.1h-1.1zM102 55h1.1v1.1h-1.1zM111 47h1.1v1.1h-1.1zM102 43h1.1v1.1h-1.1zM96 57h1.1v1.1h-1.1zM100 44h1.1v1.1h-1.1zM105 45h1.1v1.1h-1.1zM99 40h1.1v1.1h-1.1zM100 51h1.1v1.1h-1.1zM102 40h1.1v1.1h-1.1zM114 48h1.1v1.1h-1.1zM98 39h1.1v1.1h-1.1zM111 40h1.1v1.1h-1.1zM101 56h1.1v1.1h-1.1zM105 46h1.1v1.1h-1.1zM102 67h1.1v1.1h-1.1zM108 41h1.1v1.1h-1.1zM99 51h1.1v1.1h-1.1zM106 54h1.1v1.1h-1.1zM109 66h1.1v1.1h-1.1zM112 59h1.1v1.1h-1.1zM113 47h1.1v1.1h-1.1zM104 47h1.1v1.1h-1.1zM103 54h1.1v1.1h-1.1zM112 40h1.1v1.1h-1.1zM104 51h1.1v1.1h-1.1zM114 61h1.1v1.1h-1.1zM104 45h1.1v1.1h-1.1zM101 48h1.1v1.1h-1.1zM108 54h1.1v1.1h-1.1zM108 42h1.1v1.1h-1.1zM102 43h1.1v1.1h-1.1zM99 48h1.1v1.1h-1.1zM110 43h1.1v1.1h-1.1zM107 65h1.1v1.1h-1.1zM107 40h1.1v1.1h-1.1zM110 40h1.1v1.1h-1.1zM99 51h1.1v1.1h-1.1zM115 66h1.1v1.1h-1.1zM100 50h1.1v1.1h-1.1zM100 53h1.1v1.1h-1.1zM98 50h1.1v1.1h-1.1zM113 57h1.1v1.1h-1.1zM95 45h1.1v1.1h-1.1zM115 44h1.1v1.1h-1.1zM114 55h1.1v1.1h-1.1zM103 55h1.1v1.1h-1.1zM113 55h1.1v1.1h-1.1zM109 50h1.1v1.1h-1.1zM103 44h1.1v1.1h-1.1zM98 47h1.1v1.1h-1.1zM113 41h1.1v1.1h-1.1zM108 41h1.1v1.1h-1.1zM100 41h1.1v1.1h-1.1zM110 52h1.1v1.1h-1.1zM100 52h1.1v1.1h-1.1zM111 54h1.1v1.1h-1.1zM111 46h1.1v1.1h-1.1zM111 39h1.1v1.1h-1.1zM108 45h1.1v1.1h-1.1zM114 40h1.1v1.1h-1.1zM113 44h1.1v1.1h-1.1zM112 40h1.1v1.1h-1.1zM111 43h1.1v1.1h-1.1zM112 59h1.1v1.1h-1.1zM98 54h1.1v1.1h-1.1zM107 53h1.1v1.1h-1.1zM107 59h1.1v1.1h-1.1zM107 41h1.1v1.1h-1.1zM110 53h1.1v1.1h-1.1zM96 49h1.1v1.1h-1.1zM114 40h1.1v1.1h-1.1zM104 48h1.1v1.1h-1.1zM102 50h1.1v1.1h-1.1zM113 51h1.1v1.1h-1.1zM105 42h1.1v1.1h-1.1zM105 43h1.1v1.1h-1.1zM102 50h1.1v1.1h-1.1zM100 50h1.1v1.1h-1.1zM114 46h1.1v1.1h-1.1zM112 55h1.1v1.1h-1.1zM109 43h1.1v1.1h-1.1zM108 44h1.1v1.1h-1.1zM103 67h1.1v1.1h-1.1zM94 47h1.1v1.1h-1.1zM99 44h1.1v1.1h-1.1zM104 46h1.1v1.1h-1.1zM98 57h1.1v1.1h-1.1zM100 39h1.1v1.1h-1.1zM110 40h1.1v1.1h-1.1zM95 51h1.1v1.1h-1.1zM112 42h1.1v1.1h-1.1zM95 50h1.1v1.1h-1.1zM101 43h1.1v1.1h-1.1zM115 57h1.1v1.1h-1.1zM106 53h1.1v1.1h-1.1zM112 47h1.1v1.1h-1.1zM110 68h1.1v1.1h-1.1zM111 56h1.1v1.1h-1.1zM105 52h1.1v1.1h-1.1zM112 48h1.1v1.1h-1.1zM110 61h1.1v1.1h-1.1zM106 40h1.1v1.1h-1.1zM95 41h1.1v1.1h-1.1zM98 53h1.1v1.1h-1.1zM108 46h1.1v1.1h-1.1zM107 42h1.1v1.1h-1.1zM107 51h1.1v1.1h-1.1zM101 44h1.1v1.1h-1.1zM105 40h1.1v1.1h-1.1zM107 43h1.1v1.1h-1.1zM99 56h1.1v1.1h-1.1zM104 52h1.1v1.1h-1.1zM112 40h1.1v1.1h-1.1zM109 55h1.1v1.1h-1.1zM111 41h1.1v1.1h-1.1zM112 62h1.1v1.1h-1.1zM108 47h1.1v1.1h-1.1zM111 41h1.1v1.1h-1.1zM113 54h1.1v1.1h-1.1zM114 49h1.1v1.1h-1.1zM102 65h1.1v1.1h-1.1zM103 55h1.1v1.1h-1.1zM115 44h1.1v1.1h-1.1zM113 49h1.1v1.1h-1.1zM108 56h1.1v1.1h-1.1zM105 57h1.1v1.1h-1.1zM106 50h1.1v1.1h-1.1zM110 49h1.1v1.1h-1.1zM112 55h1.1v1.1h-1.1zM100 60h1.1v1.1h-1.1zM115 44h1.1v1.1h-1.1zM97 43h1.1v1.1h-1.1zM110 52h1.1v1.1h-1.1zM105 44h1.1v1.1h-1.1zM110 45h1.1v1.1h-1.1zM107 48h1.1v1.1h-1.1zM113 47h1.1v1.1h-1.1zM111 40h1.1v1.1h-1.1zM112 47h1.1v1.1h-1.1zM107 62h1.1v1.1h-1.1zM102 44h1.1v1.1h-1.1zM107 45h1.1v1.1h-1.1zM111 61h1.1v1.1h-1.1zM102 49h1.1v1.1h-1.1zM103 52h1.1v1.1h-1.1zM97 42h1.1v1.1h-1.1zM114 46h1.1v1.1h-1.1zM115 46h1.1v1.1h-1.1zM108 46h1.1v1.1h-1.1zM105 45h1.1v1.1h-1.1zM113 42h1.1v1.1h-1.1zM107 46h1.1v1.1h-1.1zM102 40h1.1v1.1h-1.1zM114 43h1.1v1.1h-1.1zM113 40h1.1v1.1h-1.1zM102 43h1.1v1.1h-1.1zM108 49h1.1v1.1h-1.1zM113 51h1.1v1.1h-1.1zM108 44h1.1v1.1h-1.1zM108 46h1.1v1.1h-1.1zM115 49h1.1v1.1h-1.1zM112 43h1.1v1.1h-1.1zM114 63h1.1v1.1h-1.1zM110 47h1.1v1.1h-1.1zM109 65h1.1v1.1h-1.1zM112 55h1.1v1.1h-1.1zM114 45h1.1v1.1h-1.1zM112 59h1.1v1.1h-1.1zM111 44h1.1v1.1h-1.1zM103 39h1.1v1.1h-1.1zM113 56h1.1v1.1h-1.1zM105 61h1.1v1.1h-1.1zM105 43h1.1v1.1h-1.1zM98 50h1.1v1.1h-1.1zM101 60h1.1v1.1h-1.1zM102 67h1.1v1.1h-1.1zM112 64h1.1v1.1h-1.1zM113 40h1.1v1.1h-1.1zM114 50h1.1v1.1h-1.1zM114 50h1.1v1.1h-1.1zM109 40h1.1v1.1h-1.1zM100 41h1.1v1.1h-1.1zM105 40h1.1v1.1h-1.1zM106 62h1.1v1.1h-1.1zM115 47h1.1v1.1h-1.1zM108 51h1.1v1.1h-1.1zM110 44h1.1v1.1h-1.1zM93 54h1.1v1.1h-1.1zM110 55h1.1v1.1h-1.1zM108 72h1.1v1.1h-1.1zM113 40h1.1v1.1h-1.1zM114 40h1.1v1.1h-1.1zM108 55h1.1v1.1h-1.1zM110 41h1.1v1.1h-1.1zM100 49h1.1v1.1h-1.1zM96 42h1.1v1.1h-1.1zM109 43h1.1v1.1h-1.1zM102 39h1.1v1.1h-1.1zM113 45h1.1v1.1h-1.1zM96 48h1.1v1.1h-1.1zM106 60h1.1v1.1h-1.1zM101 41h1.1v1.1h-1.1zM104 44h1.1v1.1h-1.1zM105 51h1.1v1.1h-1.1zM108 59h1.1v1.1h-1.1zM101 42h1.1v1.1h-1.1zM107 71h1.1v1.1h-1.1zM107 48h1.1v1.1h-1.1zM107 55h1.1v1.1h-1.1zM102 51h1.1v1.1h-1.1zM114 42h1.1v1.1h-1.1zM110 61h1.1v1.1h-1.1zM113 68h1.1v1.1h-1.1zM99 56h1.1v1.1h-1.1zM97 57h1.1v1.1h-1.1zM113 41h1.1v1.1h-1.1zM108 55h1.1v1.1h-1.1zM104 39h1.1v1.1h-1.1zM108 50h1.1v1.1h-1.1zM107 44h1.1v1.1h-1.1zM97 49h1.1v1.1h-1.1zM109 54h1.1v1.1h-1.1zM112 43h1.1v1.1h-1.1zM114 46h1.1v1.1h-1.1zM104 45h1.1v1.1h-1.1zM110 45h1.1v1.1h-1.1zM93 46h1.1v1.1h-1.1zM101 50h1.1v1.1h-1.1zM106 46h1.1v1.1h-1.1zM107 53h1.1v1.1h-1.1zM98 44h1.1v1.1h-1.1zM102 41h1.1v1.1h-1.1zM110 48h1.1v1.1h-1.1zM101 40h1.1v1.1h-1.1zM109 40h1.1v1.1h-1.1zM99 59h1.1v1.1h-1.1zM111 55h1.1v1.1h-1.1zM102 40h1.1v1.1h-1.1zM109 40h1.1v1.1h-1.1zM105 62h1.1v1.1h-1.1zM107 41h1.1v1.1h-1.1zM102 48h1.1v1.1h-1.1zM109 45h1.1v1.1h-1.1zM114 71h1.1v1.1h-1.1zM110 46h1.1v1.1h-1.1zM105 49h1.1v1.1h-1.1zM104 55h1.1v1.1h-1.1zM96 60h1.1v1.1h-1.1zM108 40h1.1v1.1h-1.1zM94 61h1.1v1.1h-1.1zM112 46h1.1v1.1h-1.1zM110 52h1.1v1.1h-1.1zM104 55h1.1v1.1h-1.1zM107 58h1.1v1.1h-1.1zM101 49h1.1v1.1h-1.1zM96 44h1.1v1.1h-1.1zM107 51h1.1v1.1h-1.1zM101 43h1.1v1.1h-1.1zM103 59h1.1v1.1h-1.1zM101 47h1.1v1.1h-1.1zM112 41h1.1v1.1h-1.1zM115 54h1.1v1.1h-1.1zM104 63h1.1v1.1h-1.1zM102 61h1.1v1.1h-1.1zM113 52h1.1v1.1h-1.1zM111 40h1.1v1.1h-1.1zM113 68h1.1v1.1h-1.1zM110 41h1.1v1.1h-1.1zM99 54h1.1v1.1h-1.1zM110 58h1.1v1.1h-1.1zM108 48h1.1v1.1h-1.1zM103 46h1.1v1.1h-1.1zM105 45h1.1v1.1h-1.1zM109 48h1.1v1.1h-1.1zM99 45h1.1v1.1h-1.1zM94 53h1.1v1.1h-1.1zM111 69h1.1v1.1h-1.1zM104 52h1.1v1.1h-1.1zM112 46h1.1v1.1h-1.1zM99 71h1.1v1.1h-1.1zM115 53h1.1v1.1h-1.1zM104 61h1.1v1.1h-1.1zM109 46h1.1v1.1h-1.1zM112 43h1.1v1.1h-1.1zM104 39h1.1v1.1h-1.1zM115 55h1.1v1.1h-1.1zM103 46h1.1v1.1h-1.1zM109 52h1.1v1.1h-1.1zM112 42h1.1v1.1h-1.1zM102 40h1.1v1.1h-1.1zM109 47h1.1v1.1h-1.1zM98 49h1.1v1.1h-1.1zM113 53h1.1v1.1h-1.1zM103 42h1.1v1.1h-1.1zM103 52h1.1v1.1h-1.1zM110 45h1.1v1.1h-1.1zM112 51h1.1v1.1h-1.1zM113 43h1.1v1.1h-1.1zM115 53h1.1v1.1h-1.1zM99 41h1.1v1.1h-1.1zM107 61h1.1v1.1h-1.1zM111 48h1.1v1.1h-1.1zM106 45h1.1v1.1h-1.1zM109 45h1.1v1.1h-1.1zM103 47h1.1v1.1h-1.1zM108 42h1.1v1.1h-1.1zM102 52h1.1v1.1h-1.1zM107 46h1.1v1.1h-1.1zM105 67h1.1v1.1h-1.1zM115 48h1.1v1.1h-1.1zM100 45h1.1v1.1h-1.1zM107 48h1.1v1.1h-1.1zM108 55h1.1v1.1h-1.1zM111 50h1.1v1.1h-1.1zM102 42h1.1v1.1h-1.1zM103 45h1.1v1.1h-1.1zM107 55h1.1v1.1h-1.1zM103 48h1.1v1.1h-1.1zM114 42h1.1v1.1h-1.1zM114 50h1.1v1.1h-1.1zM110 47h1.1v1.1h-1.1zM108 48h1.1v1.1h-1.1zM113 43h1.1v1.1h-1.1zM114 41h1.1v1.1h-1.1zM106 42h1.1v1.1h-1.1zM96 45h1.1v1.1h-1.1zM108 51h1.1v1.1h-1.1zM108 53h1.1v1.1h-1.1zM107 41h1.1v1.1h-1.1zM109 66h1.1v1.1h-1.1zM102 45h1.1v1.1h-1.1zM110 56h1.1v1.1h-1.1zM114 64h1.1v1.1h-1.1zM103 42h1.1v1.1h-1.1zM111 51h1.1v1.1h-1.1zM103 53h1.1v1.1h-1.1zM106 51h1.1v1.1h-1.1zM115 43h1.1v1.1h-1.1zM115 48h1.1v1.1h-1.1zM108 44h1.1v1.1h-1.1zM102 44h1.1v1.1h-1.1zM102 39h1.1v1.1h-1.1zM113 40h1.1v1.1h-1.1zM115 41h1.1v1.1h-1.1zM103 62h1.1v1.1h-1.1zM113 65h1.1v1.1h-1.1zM113 44h1.1v1.1h-1.1zM110 42h1.1v1.1h-1.1zM104 56h1.1v1.1h-1.1zM104 50h1.1v1.1h-1.1zM102 56h1.1v1.1h-1.1zM110 64h1.1v1.1h-1.1zM102 53h1.1v1.1h-1.1zM112 45h1.1v1.1h-1.1zM102 40h1.1v1.1h-1.1zM107 46h1.1v1.1h-1.1zM111 43h1.1v1.1h-1.1zM108 42h1.1v1.1h-1.1zM105 56h1.1v1.1h-1.1zM97 48h1.1v1.1h-1.1zM110 53h1.1v1.1h-1.1zM106 50h1.1v1.1h-1.1zM110 41h1.1v1.1h-1.1zM102 63h1.1v1.1h-1.1zM115 42h1.1v1.1h-1.1zM108 39h1.1v1.1h-1.1zM114 41h1.1v1.1h-1.1zM104 57h1.1v1.1h-1.1zM102 56h1.1v1.1h-1.1zM98 52h1.1v1.1h-1.1zM113 48h1.1v1.1h-1.1zM104 58h1.1v1.1h-1.1zM99 43h1.1v1.1h-1.1zM111 43h1.1v1.1h-1.1zM101 68h1.1v1.1h-1.1zM108 54h1.1v1.1h-1.1zM114 42h1.1v1.1h-1.1zM103 71h1.1v1.1h-1.1zM103 49h1.1v1.1h-1.1zM101 39h1.1v1.1h-1.1zM113 47h1.1v1.1h-1.1zM112 50h1.1v1.1h-1.1zM107 47h1.1v1.1h-1.1zM110 54h1.1v1.1h-1.1zM105 48h1.1v1.1h-1.1zM114 44h1.1v1.1h-1.1zM102 44h1.1v1.1h-1.1zM115 54h1.1v1.1h-1.1zM110 47h1.1v1.1h-1.1zM104 54h1.1v1.1h-1.1zM95 44h1.1v1.1h-1.1zM112 45h1.1v1.1h-1.1zM108 51h1.1v1.1h-1.1zM111 43h1.1v1.1h-1.1zM109 47h1.1v1.1h-1.1zM107 52h1.1v1.1h-1.1zM115 51h1.1v1.1h-1.1zM112 42h1.1v1.1h-1.1zM113 48h1.1v1.1h-1.1zM112 56h1.1v1.1h-1.1zM108 50h1.1v1.1h-1.1zM104 42h1.1v1.1h-1.1zM109 40h1.1v1.1h-1.1zM103 60h1.1v1.1h-1.1zM94 45h1.1v1.1h-1.1zM104 39h1.1v1.1h-1.1zM115 61h1.1v1.1h-1.1zM113 45h1.1v1.1h-1.1zM103 46h1.1v1.1h-1.1zM97 43h1.1v1.1h-1.1zM115 44h1.1v1.1h-1.1zM103 50h1.1v1.1h-1.1zM98 57h1.1v1.1h-1.1zM110 43h1.1v1.1h-1.1zM98 46h1.1v1.1h-1.1zM97 64h1.1v1.1h-1.1zM97 54h1.1v1.1h-1.1zM110 45h1.1v1.1h-1.1zM107 42h1.1v1.1h-1.1zM108 46h1.1v1.1h-1.1zM112 41h1.1v1.1h-1.1zM104 42h1.1v1.1h-1.1zM110 40h1.1v1.1h-1.1zM95 42h1.1v1.1h-1.1zM100 43h1.1v1.1h-1.1zM100 40h1.1v1.1h-1.1zM105 51h1.1v1.1h-1.1zM101 60h1.1v1.1h-1.1zM114 43h1.1v1.1h-1.1zM107 52h1.1v1.1h-1.1zM102 44h1.1v1.1h-1.1zM111 44h1.1v1.1h-1.1zM105 52h1.1v1.1h-1.1zM106 62h1.1v1.1h-1.1zM107 41h1.1v1.1h-1.1zM107 47h1.1v1.1h-1.1zM99 44h1.1v1.1h-1.1zM107 46h1.1v1.1h-1.1zM104 54h1.1v1.1h-1.1zM111 45h1.1v1.1h-1.1zM101 55h1.1v1.1h-1.1zM101 51h1.1v1.1h-1.1zM100 47h1.1v1.1h-1.1zM101 44h1.1v1.1h-1.1zM114 44h1.1v1.1h-1.1zM102 58h1.1v1.1h-1.1zM110 45h1.1v1.1h-1.1zM103 41h1.1v1.1h-1.1zM98 40h1.1v1.1h-1.1zM112 55h1.1v1.1h-1.1zM107 42h1.1v1.1h-1.1zM107 42h1.1v1.1h-1.1zM93 48h1.1v1.1h-1.1zM96 45h1.1v1.1h-1.1zM110 45h1.1v1.1h-1.1zM109 58h1.1v1.1h-1.1zM105 44h1.1v1.1h-1.1zM107 40h1.1v1.1h-1.1zM105 40h1.1v1.1h-1.1zM107 40h1.1v1.1h-1.1zM111 42h1.1v1.1h-1.1zM107 52h1.1v1.1h-1.1zM102 50h1.1v1.1h-1.1zM101 61h1.1v1.1h-1.1zM101 49h1.1v1.1h-1.1zM101 57h1.1v1.1h-1.1zM103 61h1.1v1.1h-1.1zM108 70h1.1v1.1h-1.1zM109 43h1.1v1.1h-1.1zM107 43h1.1v1.1h-1.1zM94 46h1.1v1.1h-1.1zM107 48h1.1v1.1h-1.1zM113 52h1.1v1.1h-1.1zM100 41h1.1v1.1h-1.1zM111 57h1.1v1.1h-1.1zM115 54h1.1v1.1h-1.1zM106 58h1.1v1.1h-1.1zM106 44h1.1v1.1h-1.1zM102 48h1.1v1.1h-1.1zM94 41h1.1v1.1h-1.1zM109 43h1.1v1.1h-1.1zM114 65h1.1v1.1h-1.1zM110 40h1.1v1.1h-1.1zM108 49h1.1v1.1h-1.1zM106 51h1.1v1.1h-1.1zM105 40h1.1v1.1h-1.1zM115 50h1.1v1.1h-1.1zM101 49h1.1v1.1h-1.1zM114 45h1.1v1.1h-1.1zM108 41h1.1v1.1h-1.1zM114 50h1.1v1.1h-1.1zM98 42h1.1v1.1h-1.1zM103 47h1.1v1.1h-1.1zM110 40h1.1v1.1h-1.1zM112 71h1.1v1.1h-1.1zM109 49h1.1v1.1h-1.1zM103 39h1.1v1.1h-1.1zM100 46h1.1v1.1h-1.1zM102 55h1.1v1.1h-1.1zM112 42h1.1v1.1h-1.1zM112 57h1.1v1.1h-1.1zM104 48h1.1v1.1h-1.1zM107 61h1.1v1.1h-1.1zM94 44h1.1v1.1h-1.1zM103 41h1.1v1.1h-1.1zM95 57h1.1v1.1h-1.1zM109 49h1.1v1.1h-1.1zM107 42h1.1v1.1h-1.1zM106 49h1.1v1.1h-1.1zM109 45h1.1v1.1h-1.1zM115 40h1.1v1.1h-1.1zM111 40h1.1v1.1h-1.1zM103 55h1.1v1.1h-1.1zM114 42h1.1v1.1h-1.1zM115 49h1.1v1.1h-1.1zM113 46h1.1v1.1h-1.1zM103 54h1.1v1.1h-1.1zM107 42h1.1v1.1h-1.1zM115 54h1.1v1.1h-1.1zM109 41h1.1v1.1h-1.1zM100 42h1.1v1.1h-1.1zM107 66h1.1v1.1h-1.1zM112 41h1.1v1.1h-1.1zM111 41h1.1v1.1h-1.1zM112 52h1.1v1.1h-1.1zM114 55h1.1v1.1h-1.1zM100 46h1.1v1.1h-1.1zM107 59h1.1v1.1h-1.1zM104 44h1.1v1.1h-1.1zM114 64h1.1v1.1h-1.1zM106 57h1.1v1.1h-1.1zM94 42h1.1v1.1h-1.1zM110 57h1.1v1.1h-1.1zM98 50h1.1v1.1h-1.1zM108 43h1.1v1.1h-1.1zM107 41h1.1v1.1h-1.1zM104 47h1.1v1.1h-1.1zM97 40h1.1v1.1h-1.1zM109 53h1.1v1.1h-1.1zM112 71h1.1v1.1h-1.1zM99 54h1.1v1.1h-1.1zM100 42h1.1v1.1h-1.1zM113 43h1.1v1.1h-1.1zM114 40h1.1v1.1h-1.1zM106 44h1.1v1.1h-1.1zM101 55h1.1v1.1h-1.1zM107 57h1.1v1.1h-1.1zM105 48h1.1v1.1h-1.1zM105 40h1.1v1.1h-1.1zM103 44h1.1v1.1h-1.1zM95 41h1.1v1.1h-1.1zM102 44h1.1v1.1h-1.1zM103 42h1.1v1.1h-1.1zM107 40h1.1v1.1h-1.1zM111 57h1.1v1.1h-1.1zM112 41h1.1v1.1h-1.1zM101 48h1.1v1.1h-1.1zM109 39h1.1v1.1h-1.1zM106 46h1.1v1.1h-1.1zM111 53h1.1v1.1h-1.1zM114 47h1.1v1.1h-1.1zM108 50h1.1v1.1h-1.1zM107 44h1.1v1.1h-1.1zM115 41h1.1v1.1h-1.1zM111 42h1.1v1.1h-1.1zM111 48h1.1v1.1h-1.1zM109 47h1.1v1.1h-1.1zM103 43h1.1v1.1h-1.1zM100 51h1.1v1.1h-1.1zM115 60h1.1v1.1h-1.1zM114 63h1.1v1.1h-1.1zM106 41h1.1v1.1h-1.1zM109 53h1.1v1.1h-1.1zM111 48h1.1v1.1h-1.1zM111 57h1.1v1.1h-1.1zM101 66h1.1v1.1h-1.1zM105 42h1.1v1.1h-1.1zM96 41h1.1v1.1h-1.1zM113 48h1.1v1.1h-1.1zM105 52h1.1v1.1h-1.1zM114 44h1.1v1.1h-1.1zM105 55h1.1v1.1h-1.1zM98 44h1.1v1.1h-1.1zM115 45h1.1v1.1h-1.1zM104 44h1.1v1.1h-1.1zM110 45h1.1v1.1h-1.1zM111 41h1.1v1.1h-1.1zM110 45h1.1v1.1h-1.1zM107 40h1.1v1.1h-1.1zM106 48h1.1v1.1h-1.1zM114 57h1.1v1.1h-1.1zM103 65h1.1v1.1h-1.1zM111 44h1.1v1.1h-1.1zM96 54h1.1v1.1h-1.1zM112 41h1.1v1.1h-1.1zM111 41h1.1v1.1h-1.1zM109 44h1.1v1.1h-1.1zM107 46h1.1v1.1h-1.1zM110 46h1.1v1.1h-1.1zM112 42h1.1v1.1h-1.1zM105 40h1.1v1.1h-1.1zM99 48h1.1v1.1h-1.1zM110 44h1.1v1.1h-1.1zM115 65h1.1v1.1h-1.1zM106 40h1.1v1.1h-1.1zM103 43h1.1v1.1h-1.1zM112 41h1.1v1.1h-1.1zM100 40h1.1v1.1h-1.1zM102 43h1.1v1.1h-1.1zM111 48h1.1v1.1h-1.1zM100 58h1.1v1.1h-1.1zM106 65h1.1v1.1h-1.1zM108 42h1.1v1.1h-1.1zM101 45h1.1v1.1h-1.1zM108 49h1.1v1.1h-1.1zM110 48h1.1v1.1h-1.1zM107 49h1.1v1.1h-1.1zM104 40h1.1v1.1h-1.1zM114 66h1.1v1.1h-1.1zM114 47h1.1v1.1h-1.1zM102 42h1.1v1.1h-1.1zM110 39h1.1v1.1h-1.1zM109 64h1.1v1.1h-1.1zM98 40h1.1v1.1h-1.1zM110 53h1.1v1.1h-1.1zM99 54h1.1v1.1h-1.1zM101 49h1.1v1.1h-1.1zM99 51h1.1v1.1h-1.1zM104 55h1.1v1.1h-1.1zM104 42h1.1v1.1h-1.1zM104 46h1.1v1.1h-1.1zM104 42h1.1v1.1h-1.1zM99 48h1.1v1.1h-1.1zM111 57h1.1v1.1h-1.1zM99 42h1.1v1.1h-1.1zM93 43h1.1v1.1h-1.1zM110 47h1.1v1.1h-1.1zM114 52h1.1v1.1h-1.1zM99 57h1.1v1.1h-1.1zM98 51h1.1v1.1h-1.1zM112 51h1.1v1.1h-1.1zM95 44h1.1v1.1h-1.1zM114 39h1.1v1.1h-1.1zM114 53h1.1v1.1h-1.1zM100 41h1.1v1.1h-1.1zM115 59h1.1v1.1h-1.1zM110 53h1.1v1.1h-1.1zM113 45h1.1v1.1h-1.1zM95 50h1.1v1.1h-1.1zM102 50h1.1v1.1h-1.1zM111 51h1.1v1.1h-1.1zM105 50h1.1v1.1h-1.1zM111 43h1.1v1.1h-1.1zM109 48h1.1v1.1h-1.1zM109 50h1.1v1.1h-1.1zM111 63h1.1v1.1h-1.1zM114 46h1.1v1.1h-1.1zM95 50h1.1v1.1h-1.1zM103 47h1.1v1.1h-1.1zM113 53h1.1v1.1h-1.1zM107 52h1.1v1.1h-1.1zM100 58h1.1v1.1h-1.1zM104 49h1.1v1.1h-1.1zM100 51h1.1v1.1h-1.1zM108 51h1.1v1.1h-1.1zM106 49h1.1v1.1h-1.1zM102 50h1.1v1.1h-1.1zM110 39h1.1v1.1h-1.1zM108 51h1.1v1.1h-1.1zM104 63h1.1v1.1h-1.1zM114 51h1.1v1.1h-1.1zM115 50h1.1v1.1h-1.1zM104 54h1.1v1.1h-1.1zM110 48h1.1v1.1h-1.1zM98 40h1.1v1.1h-1.1zM101 58h1.1v1.1h-1.1zM113 60h1.1v1.1h-1.1zM105 40h1.1v1.1h-1.1zM105 40h1.1v1.1h-1.1zM114 42h1.1v1.1h-1.1zM106 57h1.1v1.1h-1.1zM107 41h1.1v1.1h-1.1zM104 57h1.1v1.1h-1.1zM107 40h1.1v1.1h-1.1zM106 51h1.1v1.1h-1.1zM93 50h1.1v1.1h-1.1zM93 46h1.1v1.1h-1.1zM109 39h1.1v1.1h-1.1zM109 40h1.1v1.1h-1.1zM109 64h1.1v1.1h-1.1zM100 44h1.1v1.1h-1.1zM107 41h1.1v1.1h-1.1zM104 63h1.1v1.1h-1.1zM93 39h1.1v1.1h-1.1zM114 49h1.1v1.1h-1.1zM98 40h1.1v1.1h-1.1zM99 56h1.1v1.1h-1.1zM107 41h1.1v1.1h-1.1zM105 53h1.1v1.1h-1.1zM100 48h1.1v1.1h-1.1zM107 48h1.1v1.1h-1.1zM112 49h1.1v1.1h-1.1zM106 61h1.1v1.1h-1.1zM101 47h1.1v1.1h-1.1zM106 42h1.1v1.1h-1.1zM108 56h1.1v1.1h-1.1zM115 63h1.1v1.1h-1.1zM115 51h1.1v1.1h-1.1zM95 48h1.1v1.1h-1.1zM96 39h1.1v1.1h-1.1zM106 49h1.1v1.1h-1.1zM114 63h1.1v1.1h-1.1zM111 45h1.1v1.1h-1.1zM107 44h1.1v1.1h-1.1zM104 55h1.1v1.1h-1.1zM102 42h1.1v1.1h-1.1zM112 40h1.1v1.1h-1.1zM107 45h1.1v1.1h-1.1zM103 41h1.1v1.1h-1.1zM105 54h1.1v1.1h-1.1zM102 61h1.1v1.1h-1.1zM109 51h1.1v1.1h-1.1zM112 45h1.1v1.1h-1.1zM105 44h1.1v1.1h-1.1zM109 59h1.1v1.1h-1.1zM113 56h1.1v1.1h-1.1zM109 49h1.1v1.1h-1.1zM109 51h1.1v1.1h-1.1zM110 51h1.1v1.1h-1.1zM101 44h1.1v1.1h-1.1zM109 46h1.1v1.1h-1.1zM99 43h1.1v1.1h-1.1zM112 50h1.1v1.1h-1.1zM108 56h1.1v1.1h-1.1zM105 50h1.1v1.1h-1.1zM112 48h1.1v1.1h-1.1zM112 39h1.1v1.1h-1.1zM104 42h1.1v1.1h-1.1zM102 54h1.1v1.1h-1.1zM115 52h1.1v1.1h-1.1zM113 56h1.1v1.1h-1.1zM108 40h1.1v1.1h-1.1zM106 40h1.1v1.1h-1.1zM107 44h1.1v1.1h-1.1zM102 45h1.1v1.1h-1.1zM100 52h1.1v1.1h-1.1zM113 46h1.1v1.1h-1.1zM107 53h1.1v1.1h-1.1zM94 46h1.1v1.1h-1.1zM111 61h1.1v1.1h-1.1zM105 41h1.1v1.1h-1.1zM104 41h1.1v1.1h-1.1zM99 42h1.1v1.1h-1.1zM106 45h1.1v1.1h-1.1zM105 44h1.1v1.1h-1.1zM115 46h1.1v1.1h-1.1zM102 41h1.1v1.1h-1.1zM109 53h1.1v1.1h-1.1zM106 43h1.1v1.1h-1.1zM98 43h1.1v1.1h-1.1zM104 39h1.1v1.1h-1.1zM105 39h1.1v1.1h-1.1zM112 51h1.1v1.1h-1.1zM105 65h1.1v1.1h-1.1zM111 56h1.1v1.1h-1.1zM113 59h1.1v1.1h-1.1zM113 68h1.1v1.1h-1.1zM95 56h1.1v1.1h-1.1zM113 47h1.1v1.1h-1.1zM94 52h1.1v1.1h-1.1zM115 69h1.1v1.1h-1.1zM111 50h1.1v1.1h-1.1zM115 47h1.1v1.1h-1.1zM114 41h1.1v1.1h-1.1zM96 46h1.1v1.1h-1.1zM114 46h1.1v1.1h-1.1zM111 50h1.1v1.1h-1.1zM105 43h1.1v1.1h-1.1zM104 42h1.1v1.1h-1.1zM113 42h1.1v1.1h-1.1zM107 40h1.1v1.1h-1.1zM107 42h1.1v1.1h-1.1zM111 39h1.1v1.1h-1.1zM109 40h1.1v1.1h-1.1zM96 42h1.1v1.1h-1.1zM108 42h1.1v1.1h-1.1zM96 42h1.1v1.1h-1.1zM114 42h1.1v1.1h-1.1zM110 42h1.1v1.1h-1.1zM111 41h1.1v1.1h-1.1zM103 42h1.1v1.1h-1.1zM111 42h1.1v1.1h-1.1zM99 42h1.1v1.1h-1.1zM105 42h1.1v1.1h-1.1zM95 42h1.1v1.1h-1.1zM111 40h1.1v1.1h-1.1zM112 40h1.1v1.1h-1.1zM97 41h1.1v1.1h-1.1zM98 41h1.1v1.1h-1.1zM113 41h1.1v1.1h-1.1zM109 40h1.1v1.1h-1.1zM110 42h1.1v1.1h-1.1zM108 42h1.1v1.1h-1.1zM111 40h1.1v1.1h-1.1zM95 41h1.1v1.1h-1.1zM112 40h1.1v1.1h-1.1zM106 42h1.1v1.1h-1.1zM111 39h1.1v1.1h-1.1zM104 39h1.1v1.1h-1.1zM95 42h1.1v1.1h-1.1zM102 41h1.1v1.1h-1.1zM103 40h1.1v1.1h-1.1zM97 40h1.1v1.1h-1.1zM112 41h1.1v1.1h-1.1zM99 39h1.1v1.1h-1.1zM99 41h1.1v1.1h-1.1zM103 41h1.1v1.1h-1.1zM111 40h1.1v1.1h-1.1zM108 39h1.1v1.1h-1.1zM111 40h1.1v1.1h-1.1zM99 42h1.1v1.1h-1.1zM101 40h1.1v1.1h-1.1zM113 41h1.1v1.1h-1.1zM113 40h1.1v1.1h-1.1zM104 42h1.1v1.1h-1.1zM104 42h1.1v1.1h-1.1zM97 42h1.1v1.1h-1.1zM96 41h1.1v1.1h-1.1zM93 40h1.1v1.1h-1.1zM114 41h1.1v1.1h-1.1zM111 40h1.1v1.1h-1.1zM101 39h1.1v1.1h-1.1zM105 42h1.1v1.1h-1.1zM104 40h1.1v1.1h-1.1zM114 42h1.1v1.1h-1.1zM108 39h1.1v1.1h-1.1zM107 41h1.1v1.1h-1.1zM114 40h1.1v1.1h-1.1zM108 41h1.1v1.1h-1.1zM101 41h1.1v1.1h-1.1zM108 42h1.1v1.1h-1.1zM104 40h1.1v1.1h-1.1zM115 39h1.1v1.1h-1.1zM112 41h1.1v1.1h-1.1zM105 41h1.1v1.1h-1.1zM110 42h1.1v1.1h-1.1zM109 42h1.1v1.1h-1.1zM93 40h1.1v1.1h-1.1zM96 42h1.1v1.1h-1.1zM113 40h1.1v1.1h-1.1zM106 41h1.1v1.1h-1.1zM94 40h1.1v1.1h-1.1zM110 41h1.1v1.1h-1.1zM99 42h1.1v1.1h-1.1zM99 41h1.1v1.1h-1.1zM102 42h1.1v1.1h-1.1zM107 42h1.1v1.1h-1.1zM108 40h1.1v1.1h-1.1zM115 41h1.1v1.1h-1.1zM108 40h1.1v1.1h-1.1zM96 41h1.1v1.1h-1.1zM111 42h1.1v1.1h-1.1zM101 40h1.1v1.1h-1.1zM104 42h1.1v1.1h-1.1zM96 42h1.1v1.1h-1.1zM96 40h1.1v1.1h-1.1zM94 40h1.1v1.1h-1.1zM101 42h1.1v1.1h-1.1zM115 40h1.1v1.1h-1.1zM100 42h1.1v1.1h-1.1zM97 40h1.1v1.1h-1.1zM103 39h1.1v1.1h-1.1zM99 40h1.1v1.1h-1.1zM101 42h1.1v1.1h-1.1zM99 40h1.1v1.1h-1.1zM113 41h1.1v1.1h-1.1zM112 41h1.1v1.1h-1.1zM110 40h1.1v1.1h-1.1zM96 42h1.1v1.1h-1.1zM103 41h1.1v1.1h-1.1zM108 42h1.1v1.1h-1.1zM99 40h1.1v1.1h-1.1zM114 41h1.1v1.1h-1.1zM99 41h1.1v1.1h-1.1zM99 42h1.1v1.1h-1.1zM94 42h1.1v1.1h-1.1zM106 40h1.1v1.1h-1.1zM114 40h1.1v1.1h-1.1zM98 39h1.1v1.1h-1.1zM105 42h1.1v1.1h-1.1zM108 40h1.1v1.1h-1.1zM111 39h1.1v1.1h-1.1zM100 41h1.1v1.1h-1.1zM115 41h1.1v1.1h-1.1zM108 42h1.1v1.1h-1.1zM102 42h1.1v1.1h-1.1zM110 40h1.1v1.1h-1.1zM102 42h1.1v1.1h-1.1zM101 40h1.1v1.1h-1.1zM112 41h1.1v1.1h-1.1zM104 41h1.1v1.1h-1.1zM113 40h1.1v1.1h-1.1zM100 39h1.1v1.1h-1.1zM102 41h1.1v1.1h-1.1zM112 41h1.1v1.1h-1.1zM106 40h1.1v1.1h-1.1zM106 40h1.1v1.1h-1.1zM112 42h1.1v1.1h-1.1zM112 40h1.1v1.1h-1.1zM108 42h1.1v1.1h-1.1zM104 42h1.1v1.1h-1.1zM113 42h1.1v1.1h-1.1zM111 41h1.1v1.1h-1.1zM113 40h1.1v1.1h-1.1zM109 41h1.1v1.1h-1.1zM107 40h1.1v1.1h-1.1zM94 41h1.1v1.1h-1.1zM111 40h1.1v1.1h-1.1zM97 40h1.1v1.1h-1.1zM95 41h1.1v1.1h-1.1zM115 42h1.1v1.1h-1.1zM101 41h1.1v1.1h-1.1zM94 42h1.1v1.1h-1.1zM100 39h1.1v1.1h-1.1zM107 40h1.1v1.1h-1.1zM99 39h1.1v1.1h-1.1zM103 41h1.1v1.1h-1.1zM111 39h1.1v1.1h-1.1zM111 39h1.1v1.1h-1.1zM98 41h1.1v1.1h-1.1zM100 40h1.1v1.1h-1.1zM106 40h1.1v1.1h-1.1zM111 40h1.1v1.1h-1.1zM112 42h1.1v1.1h-1.1zM105 39h1.1v1.1h-1.1zM110 39h1.1v1.1h-1.1zM104 41h1.1v1.1h-1.1zM94 41h1.1v1.1h-1.1zM109 41h1.1v1.1h-1.1zM102 41h1.1v1.1h-1.1zM106 40h1.1v1.1h-1.1zM112 42h1.1v1.1h-1.1zM111 42h1.1v1.1h-1.1zM100 42h1.1v1.1h-1.1zM94 41h1.1v1.1h-1.1zM96 41h1.1v1.1h-1.1zM108 41h1.1v1.1h-1.1zM103 40h1.1v1.1h-1.1zM97 40h1.1v1.1h-1.1zM99 40h1.1v1.1h-1.1zM109 41h1.1v1.1h-1.1zM103 40h1.1v1.1h-1.1zM109 40h1.1v1.1h-1.1zM99 41h1.1v1.1h-1.1zM109 42h1.1v1.1h-1.1zM110 42h1.1v1.1h-1.1zM114 42h1.1v1.1h-1.1zM109 39h1.1v1.1h-1.1zM97 39h1.1v1.1h-1.1zM112 42h1.1v1.1h-1.1zM107 40h1.1v1.1h-1.1zM101 40h1.1v1.1h-1.1zM107 42h1.1v1.1h-1.1zM100 39h1.1v1.1h-1.1zM97 40h1.1v1.1h-1.1zM113 42h1.1v1.1h-1.1zM103 39h1.1v1.1h-1.1zM95 40h1.1v1.1h-1.1zM110 41h1.1v1.1h-1.1zM115 42h1.1v1.1h-1.1zM111 41h1.1v1.1h-1.1zM111 40h1.1v1.1h-1.1zM95 41h1.1v1.1h-1.1zM104 40h1.1v1.1h-1.1zM98 39h1.1v1.1h-1.1zM113 41h1.1v1.1h-1.1zM114 42h1.1v1.1h-1.1zM103 42h1.1v1.1h-1.1z" fill="#3c7da2"/><path d="M124 62h1.1v1.1h-1.1zM118 40h1.1v1.1h-1.1zM130.9 39h1.1v1.1h-1.1zM145.9 44h1.1v1.1h-1.1zM117 57h1.1v1.1h-1.1zM117 43h1.1v1.1h-1.1zM152.9 40h1.1v1.1h-1.1zM120 44h1.1v1.1h-1.1zM124 42h1.1v1.1h-1.1zM118 42h1.1v1.1h-1.1zM130.9 47h1.1v1.1h-1.1zM136.9 39h1.1v1.1h-1.1zM137.9 41h1.1v1.1h-1.1zM125 41h1.1v1.1h-1.1zM133.9 44h1.1v1.1h-1.1zM127 43h1.1v1.1h-1.1zM131.9 40h1.1v1.1h-1.1zM120 43h1.1v1.1h-1.1zM145.9 39h1.1v1.1h-1.1zM117 65h1.1v1.1h-1.1zM116 41h1.1v1.1h-1.1zM161.9 40h1.1v1.1h-1.1zM161.9 40h1.1v1.1h-1.1zM158.9 39h1.1v1.1h-1.1zM116 43h1.1v1.1h-1.1zM177.9 41h1.1v1.1h-1.1zM119 55h1.1v1.1h-1.1zM118 68h1.1v1.1h-1.1zM158.9 41h1.1v1.1h-1.1zM129.9 51h1.1v1.1h-1.1zM132.9 40h1.1v1.1h-1.1zM117 43h1.1v1.1h-1.1zM122 39h1.1v1.1h-1.1zM138.9 42h1.1v1.1h-1.1zM144.9 39h1.1v1.1h-1.1zM133.9 41h1.1v1.1h-1.1zM118 57h1.1v1.1h-1.1zM123 43h1.1v1.1h-1.1zM148.9 40h1.1v1.1h-1.1zM124 43h1.1v1.1h-1.1zM119 55h1.1v1.1h-1.1zM116 40h1.1v1.1h-1.1zM135.9 41h1.1v1.1h-1.1zM128 41h1.1v1.1h-1.1zM131.9 49h1.1v1.1h-1.1zM142.9 50h1.1v1.1h-1.1zM137.9 41h1.1v1.1h-1.1zM148.9 41h1.1v1.1h-1.1zM119 53h1.1v1.1h-1.1zM136.9 40h1.1v1.1h-1.1zM123 40h1.1v1.1h-1.1zM126 56h1.1v1.1h-1.1zM161.9 48h1.1v1.1h-1.1zM139.9 40h1.1v1.1h-1.1zM125 40h1.1v1.1h-1.1zM152.9 42h1.1v1.1h-1.1zM140.9 53h1.1v1.1h-1.1zM142.9 43h1.1v1.1h-1.1zM118 49h1.1v1.1h-1.1zM132.9 41h1.1v1.1h-1.1zM173.9 40h1.1v1.1h-1.1zM133.9 46h1.1v1.1h-1.1zM157.9 40h1.1v1.1h-1.1zM174.9 39h1.1v1.1h-1.1zM122 40h1.1v1.1h-1.1zM121 45h1.1v1.1h-1.1zM126 39h1.1v1.1h-1.1zM135.9 39h1.1v1.1h-1.1zM121 43h1.1v1.1h-1.1zM120 44h1.1v1.1h-1.1zM133.9 44h1.1v1.1h-1.1zM133.9 41h1.1v1.1h-1.1zM117 39h1.1v1.1h-1.1zM124 40h1.1v1.1h-1.1zM128 56h1.1v1.1h-1.1zM121 44h1.1v1.1h-1.1zM118 41h1.1v1.1h-1.1zM135.9 42h1.1v1.1h-1.1zM118 50h1.1v1.1h-1.1zM146.9 41h1.1v1.1h-1.1zM120 64h1.1v1.1h-1.1zM134.9 39h1.1v1.1h-1.1zM119 44h1.1v1.1h-1.1zM133.9 45h1.1v1.1h-1.1zM134.9 40h1.1v1.1h-1.1zM118 52h1.1v1.1h-1.1zM133.9 40h1.1v1.1h-1.1zM116 43h1.1v1.1h-1.1zM172.9 40h1.1v1.1h-1.1zM118 47h1.1v1.1h-1.1zM124 42h1.1v1.1h-1.1zM118 44h1.1v1.1h-1.1zM122 43h1.1v1.1h-1.1zM120 40h1.1v1.1h-1.1zM124 42h1.1v1.1h-1.1zM127 40h1.1v1.1h-1.1zM134.9 44h1.1v1.1h-1.1zM116 40h1.1v1.1h-1.1zM126 43h1.1v1.1h-1.1zM127 40h1.1v1.1h-1.1zM126 39h1.1v1.1h-1.1zM124 44h1.1v1.1h-1.1zM129.9 40h1.1v1.1h-1.1zM138.9 41h1.1v1.1h-1.1zM150.9 48h1.1v1.1h-1.1zM118 56h1.1v1.1h-1.1zM121 44h1.1v1.1h-1.1zM120 41h1.1v1.1h-1.1zM159.9 40h1.1v1.1h-1.1zM117 41h1.1v1.1h-1.1zM120 42h1.1v1.1h-1.1zM127 39h1.1v1.1h-1.1zM133.9 42h1.1v1.1h-1.1zM116 43h1.1v1.1h-1.1zM128.9 41h1.1v1.1h-1.1zM131.9 47h1.1v1.1h-1.1zM165.9 43h1.1v1.1h-1.1zM148.9 41h1.1v1.1h-1.1zM119 42h1.1v1.1h-1.1zM155.9 39h1.1v1.1h-1.1zM116 40h1.1v1.1h-1.1zM119 59h1.1v1.1h-1.1zM125 49h1.1v1.1h-1.1zM116 47h1.1v1.1h-1.1zM127 48h1.1v1.1h-1.1zM132.9 42h1.1v1.1h-1.1zM120 53h1.1v1.1h-1.1zM120 49h1.1v1.1h-1.1zM125 42h1.1v1.1h-1.1zM116 40h1.1v1.1h-1.1zM145.9 41h1.1v1.1h-1.1zM121 42h1.1v1.1h-1.1zM136.9 40h1.1v1.1h-1.1zM118 44h1.1v1.1h-1.1zM118 43h1.1v1.1h-1.1zM130.9 40h1.1v1.1h-1.1zM120 42h1.1v1.1h-1.1zM126 43h1.1v1.1h-1.1zM134.9 58h1.1v1.1h-1.1zM121 51h1.1v1.1h-1.1zM117 43h1.1v1.1h-1.1zM116 41h1.1v1.1h-1.1zM174.9 43h1.1v1.1h-1.1zM128.9 59h1.1v1.1h-1.1zM133.9 43h1.1v1.1h-1.1zM133.9 43h1.1v1.1h-1.1zM143.9 52h1.1v1.1h-1.1zM119 44h1.1v1.1h-1.1zM129.9 42h1.1v1.1h-1.1zM121 41h1.1v1.1h-1.1zM128.9 51h1.1v1.1h-1.1zM132.9 42h1.1v1.1h-1.1zM143.9 40h1.1v1.1h-1.1zM134.9 44h1.1v1.1h-1.1zM133.9 43h1.1v1.1h-1.1zM141.9 40h1.1v1.1h-1.1zM170.9 40h1.1v1.1h-1.1zM171.9 41h1.1v1.1h-1.1zM138.9 41h1.1v1.1h-1.1zM140.9 40h1.1v1.1h-1.1zM120 39h1.1v1.1h-1.1zM118 41h1.1v1.1h-1.1zM117 51h1.1v1.1h-1.1zM123 43h1.1v1.1h-1.1zM126 41h1.1v1.1h-1.1zM116 44h1.1v1.1h-1.1zM172.9 48h1.1v1.1h-1.1zM133.9 45h1.1v1.1h-1.1zM136.9 43h1.1v1.1h-1.1zM140.9 40h1.1v1.1h-1.1zM145.9 45h1.1v1.1h-1.1zM130.9 39h1.1v1.1h-1.1zM128.9 52h1.1v1.1h-1.1zM121 39h1.1v1.1h-1.1zM119 46h1.1v1.1h-1.1zM121 39h1.1v1.1h-1.1zM116 45h1.1v1.1h-1.1zM175.9 40h1.1v1.1h-1.1zM128.9 41h1.1v1.1h-1.1zM127 39h1.1v1.1h-1.1zM117 40h1.1v1.1h-1.1zM132.9 40h1.1v1.1h-1.1zM137.9 41h1.1v1.1h-1.1zM119 57h1.1v1.1h-1.1zM117 43h1.1v1.1h-1.1zM124 54h1.1v1.1h-1.1zM120 64h1.1v1.1h-1.1zM118 45h1.1v1.1h-1.1zM143.9 42h1.1v1.1h-1.1zM117 53h1.1v1.1h-1.1zM129.9 40h1.1v1.1h-1.1zM130.9 42h1.1v1.1h-1.1zM121 41h1.1v1.1h-1.1zM128.9 51h1.1v1.1h-1.1zM120 43h1.1v1.1h-1.1zM135.9 41h1.1v1.1h-1.1zM155.9 40h1.1v1.1h-1.1zM134.9 40h1.1v1.1h-1.1zM120 64h1.1v1.1h-1.1zM137.9 53h1.1v1.1h-1.1zM122 43h1.1v1.1h-1.1zM117 42h1.1v1.1h-1.1zM128 43h1.1v1.1h-1.1zM151.9 39h1.1v1.1h-1.1zM118 41h1.1v1.1h-1.1zM128.9 42h1.1v1.1h-1.1zM128.9 42h1.1v1.1h-1.1zM117 42h1.1v1.1h-1.1zM121 41h1.1v1.1h-1.1zM127 46h1.1v1.1h-1.1zM140.9 40h1.1v1.1h-1.1zM160.9 45h1.1v1.1h-1.1zM118 43h1.1v1.1h-1.1zM121 44h1.1v1.1h-1.1zM156.9 40h1.1v1.1h-1.1zM131.9 39h1.1v1.1h-1.1zM139.9 46h1.1v1.1h-1.1zM117 40h1.1v1.1h-1.1zM172.9 40h1.1v1.1h-1.1zM140.9 39h1.1v1.1h-1.1zM117 42h1.1v1.1h-1.1zM146.9 39h1.1v1.1h-1.1zM140.9 40h1.1v1.1h-1.1zM118 45h1.1v1.1h-1.1zM118 43h1.1v1.1h-1.1zM153.9 44h1.1v1.1h-1.1zM169.9 40h1.1v1.1h-1.1zM137.9 46h1.1v1.1h-1.1zM118 44h1.1v1.1h-1.1zM118 50h1.1v1.1h-1.1zM121 42h1.1v1.1h-1.1zM119 49h1.1v1.1h-1.1zM119 42h1.1v1.1h-1.1zM125 62h1.1v1.1h-1.1zM130.9 42h1.1v1.1h-1.1zM131.9 60h1.1v1.1h-1.1zM123 63h1.1v1.1h-1.1zM121 41h1.1v1.1h-1.1zM123 40h1.1v1.1h-1.1zM120 52h1.1v1.1h-1.1zM132.9 55h1.1v1.1h-1.1zM121 63h1.1v1.1h-1.1zM137.9 53h1.1v1.1h-1.1zM121 44h1.1v1.1h-1.1zM124 43h1.1v1.1h-1.1zM128.9 43h1.1v1.1h-1.1zM123 63h1.1v1.1h-1.1zM151.9 41h1.1v1.1h-1.1zM138.9 40h1.1v1.1h-1.1zM150.9 40h1.1v1.1h-1.1zM126 43h1.1v1.1h-1.1zM141.9 42h1.1v1.1h-1.1zM123 40h1.1v1.1h-1.1zM123 43h1.1v1.1h-1.1zM120 39h1.1v1.1h-1.1zM138.9 41h1.1v1.1h-1.1zM125 65h1.1v1.1h-1.1zM122 47h1.1v1.1h-1.1zM155.9 41h1.1v1.1h-1.1zM122 56h1.1v1.1h-1.1zM118 45h1.1v1.1h-1.1zM127 43h1.1v1.1h-1.1zM134.9 40h1.1v1.1h-1.1zM124 59h1.1v1.1h-1.1zM118 40h1.1v1.1h-1.1zM130.9 42h1.1v1.1h-1.1zM125 42h1.1v1.1h-1.1zM144.9 43h1.1v1.1h-1.1zM120 49h1.1v1.1h-1.1zM143.9 41h1.1v1.1h-1.1zM126 42h1.1v1.1h-1.1zM161.9 40h1.1v1.1h-1.1zM123 43h1.1v1.1h-1.1zM128 48h1.1v1.1h-1.1zM118 71h1.1v1.1h-1.1zM129.9 43h1.1v1.1h-1.1zM156.9 39h1.1v1.1h-1.1zM124 45h1.1v1.1h-1.1zM116 59h1.1v1.1h-1.1zM154.9 49h1.1v1.1h-1.1zM128 53h1.1v1.1h-1.1zM118 42h1.1v1.1h-1.1zM131.9 40h1.1v1.1h-1.1zM125 47h1.1v1.1h-1.1zM127 39h1.1v1.1h-1.1zM123 39h1.1v1.1h-1.1zM121 46h1.1v1.1h-1.1zM119 44h1.1v1.1h-1.1zM130.9 42h1.1v1.1h-1.1zM139.9 40h1.1v1.1h-1.1zM146.9 40h1.1v1.1h-1.1zM165.9 39h1.1v1.1h-1.1zM117 61h1.1v1.1h-1.1zM118 43h1.1v1.1h-1.1zM123 46h1.1v1.1h-1.1zM120 41h1.1v1.1h-1.1zM131.9 40h1.1v1.1h-1.1zM120 40h1.1v1.1h-1.1zM122 46h1.1v1.1h-1.1zM119 42h1.1v1.1h-1.1zM177.9 41h1.1v1.1h-1.1zM127 42h1.1v1.1h-1.1zM118 40h1.1v1.1h-1.1zM136.9 47h1.1v1.1h-1.1zM123 41h1.1v1.1h-1.1zM135.9 40h1.1v1.1h-1.1zM149.9 47h1.1v1.1h-1.1zM137.9 41h1.1v1.1h-1.1zM159.9 40h1.1v1.1h-1.1zM122 40h1.1v1.1h-1.1zM134.9 43h1.1v1.1h-1.1zM124 61h1.1v1.1h-1.1zM130.9 40h1.1v1.1h-1.1zM123 55h1.1v1.1h-1.1zM125 40h1.1v1.1h-1.1zM154.9 39h1.1v1.1h-1.1zM123 42h1.1v1.1h-1.1zM124 49h1.1v1.1h-1.1zM128.9 55h1.1v1.1h-1.1zM127 41h1.1v1.1h-1.1zM131.9 45h1.1v1.1h-1.1zM124 41h1.1v1.1h-1.1zM157.9 40h1.1v1.1h-1.1zM145.9 41h1.1v1.1h-1.1zM116 39h1.1v1.1h-1.1zM143.9 40h1.1v1.1h-1.1zM117 43h1.1v1.1h-1.1zM137.9 56h1.1v1.1h-1.1zM129.9 41h1.1v1.1h-1.1zM160.9 39h1.1v1.1h-1.1zM139.9 45h1.1v1.1h-1.1zM117 64h1.1v1.1h-1.1zM131.9 40h1.1v1.1h-1.1zM117 39h1.1v1.1h-1.1zM136.9 45h1.1v1.1h-1.1zM118 40h1.1v1.1h-1.1zM131.9 46h1.1v1.1h-1.1zM182.9 40h1.1v1.1h-1.1zM121 44h1.1v1.1h-1.1zM136.9 40h1.1v1.1h-1.1zM119 43h1.1v1.1h-1.1zM117 41h1.1v1.1h-1.1zM135.9 41h1.1v1.1h-1.1zM142.9 50h1.1v1.1h-1.1zM131.9 41h1.1v1.1h-1.1zM164.9 48h1.1v1.1h-1.1zM129.9 40h1.1v1.1h-1.1zM124 44h1.1v1.1h-1.1zM116 66h1.1v1.1h-1.1zM128 43h1.1v1.1h-1.1zM125 52h1.1v1.1h-1.1zM125 65h1.1v1.1h-1.1zM161.9 41h1.1v1.1h-1.1zM122 40h1.1v1.1h-1.1zM155.9 47h1.1v1.1h-1.1zM145.9 47h1.1v1.1h-1.1zM122 47h1.1v1.1h-1.1zM131.9 43h1.1v1.1h-1.1zM127 43h1.1v1.1h-1.1zM117 64h1.1v1.1h-1.1zM119 57h1.1v1.1h-1.1zM156.9 45h1.1v1.1h-1.1zM117 42h1.1v1.1h-1.1zM121 44h1.1v1.1h-1.1zM126 48h1.1v1.1h-1.1zM121 42h1.1v1.1h-1.1zM128 42h1.1v1.1h-1.1zM120 41h1.1v1.1h-1.1zM158.9 49h1.1v1.1h-1.1zM125 47h1.1v1.1h-1.1zM143.9 45h1.1v1.1h-1.1zM149.9 41h1.1v1.1h-1.1zM127 43h1.1v1.1h-1.1zM118 66h1.1v1.1h-1.1zM128.9 47h1.1v1.1h-1.1zM118 44h1.1v1.1h-1.1zM144.9 40h1.1v1.1h-1.1zM117 68h1.1v1.1h-1.1zM116 42h1.1v1.1h-1.1zM137.9 42h1.1v1.1h-1.1zM123 44h1.1v1.1h-1.1zM118 43h1.1v1.1h-1.1zM119 42h1.1v1.1h-1.1zM161.9 40h1.1v1.1h-1.1zM121 46h1.1v1.1h-1.1zM156.9 41h1.1v1.1h-1.1zM176.9 45h1.1v1.1h-1.1zM128.9 50h1.1v1.1h-1.1zM118 65h1.1v1.1h-1.1zM135.9 40h1.1v1.1h-1.1zM145.9 50h1.1v1.1h-1.1zM119 50h1.1v1.1h-1.1zM129.9 40h1.1v1.1h-1.1zM118 42h1.1v1.1h-1.1zM121 42h1.1v1.1h-1.1zM140.9 45h1.1v1.1h-1.1zM124 67h1.1v1.1h-1.1zM118 56h1.1v1.1h-1.1zM174.9 40h1.1v1.1h-1.1zM122 40h1.1v1.1h-1.1zM118 43h1.1v1.1h-1.1zM129.9 55h1.1v1.1h-1.1zM124 57h1.1v1.1h-1.1zM128.9 55h1.1v1.1h-1.1zM124 46h1.1v1.1h-1.1zM121 41h1.1v1.1h-1.1zM116 64h1.1v1.1h-1.1zM120 52h1.1v1.1h-1.1zM134.9 48h1.1v1.1h-1.1zM160.9 46h1.1v1.1h-1.1zM136.9 39h1.1v1.1h-1.1zM125 47h1.1v1.1h-1.1zM129.9 41h1.1v1.1h-1.1zM155.9 39h1.1v1.1h-1.1zM120 44h1.1v1.1h-1.1zM118 48h1.1v1.1h-1.1zM152.9 40h1.1v1.1h-1.1zM123 51h1.1v1.1h-1.1zM135.9 42h1.1v1.1h-1.1zM184.9 40h1.1v1.1h-1.1zM121 41h1.1v1.1h-1.1zM134.9 59h1.1v1.1h-1.1zM132.9 45h1.1v1.1h-1.1zM129.9 43h1.1v1.1h-1.1zM121 40h1.1v1.1h-1.1zM119 52h1.1v1.1h-1.1zM143.9 40h1.1v1.1h-1.1zM130.9 47h1.1v1.1h-1.1zM116 42h1.1v1.1h-1.1zM120 46h1.1v1.1h-1.1zM145.9 39h1.1v1.1h-1.1zM127 41h1.1v1.1h-1.1zM140.9 41h1.1v1.1h-1.1zM146.9 40h1.1v1.1h-1.1zM159.9 41h1.1v1.1h-1.1zM119 40h1.1v1.1h-1.1zM123 42h1.1v1.1h-1.1zM125 42h1.1v1.1h-1.1zM162.9 39h1.1v1.1h-1.1zM122 44h1.1v1.1h-1.1zM136.9 40h1.1v1.1h-1.1zM117 44h1.1v1.1h-1.1zM133.9 41h1.1v1.1h-1.1zM117 41h1.1v1.1h-1.1zM138.9 41h1.1v1.1h-1.1zM128 42h1.1v1.1h-1.1zM126 54h1.1v1.1h-1.1zM116 41h1.1v1.1h-1.1zM120 43h1.1v1.1h-1.1zM123 43h1.1v1.1h-1.1zM120 43h1.1v1.1h-1.1zM126 39h1.1v1.1h-1.1zM128.9 61h1.1v1.1h-1.1zM118 51h1.1v1.1h-1.1zM127 42h1.1v1.1h-1.1zM128 46h1.1v1.1h-1.1zM162.9 44h1.1v1.1h-1.1zM118 40h1.1v1.1h-1.1zM135.9 55h1.1v1.1h-1.1zM117 52h1.1v1.1h-1.1zM143.9 40h1.1v1.1h-1.1zM117 41h1.1v1.1h-1.1zM135.9 42h1.1v1.1h-1.1zM121 52h1.1v1.1h-1.1zM116 43h1.1v1.1h-1.1zM149.9 43h1.1v1.1h-1.1zM119 62h1.1v1.1h-1.1zM118 43h1.1v1.1h-1.1zM116 41h1.1v1.1h-1.1zM151.9 42h1.1v1.1h-1.1zM156.9 48h1.1v1.1h-1.1zM130.9 54h1.1v1.1h-1.1zM166.9 40h1.1v1.1h-1.1zM127 41h1.1v1.1h-1.1zM128 48h1.1v1.1h-1.1zM120 42h1.1v1.1h-1.1zM128 42h1.1v1.1h-1.1zM119 42h1.1v1.1h-1.1zM136.9 49h1.1v1.1h-1.1zM121 54h1.1v1.1h-1.1zM124 41h1.1v1.1h-1.1zM136.9 48h1.1v1.1h-1.1zM137.9 41h1.1v1.1h-1.1zM123 41h1.1v1.1h-1.1zM139.9 49h1.1v1.1h-1.1zM120 43h1.1v1.1h-1.1zM133.9 46h1.1v1.1h-1.1zM121 41h1.1v1.1h-1.1zM116 57h1.1v1.1h-1.1zM134.9 55h1.1v1.1h-1.1zM120 40h1.1v1.1h-1.1zM142.9 45h1.1v1.1h-1.1zM127 40h1.1v1.1h-1.1zM127 52h1.1v1.1h-1.1zM150.9 40h1.1v1.1h-1.1zM122 44h1.1v1.1h-1.1zM119 44h1.1v1.1h-1.1zM148.9 41h1.1v1.1h-1.1zM153.9 39h1.1v1.1h-1.1zM140.9 39h1.1v1.1h-1.1zM155.9 40h1.1v1.1h-1.1zM130.9 39h1.1v1.1h-1.1zM124 39h1.1v1.1h-1.1zM124 48h1.1v1.1h-1.1zM134.9 47h1.1v1.1h-1.1zM119 43h1.1v1.1h-1.1zM131.9 40h1.1v1.1h-1.1zM148.9 41h1.1v1.1h-1.1zM130.9 40h1.1v1.1h-1.1zM123 41h1.1v1.1h-1.1zM131.9 43h1.1v1.1h-1.1zM122 41h1.1v1.1h-1.1zM155.9 41h1.1v1.1h-1.1zM121 46h1.1v1.1h-1.1zM130.9 39h1.1v1.1h-1.1zM142.9 43h1.1v1.1h-1.1zM141.9 42h1.1v1.1h-1.1zM117 40h1.1v1.1h-1.1zM132.9 57h1.1v1.1h-1.1zM129.9 43h1.1v1.1h-1.1zM118 43h1.1v1.1h-1.1zM126 41h1.1v1.1h-1.1zM127 39h1.1v1.1h-1.1zM117 41h1.1v1.1h-1.1zM126 43h1.1v1.1h-1.1zM122 65h1.1v1.1h-1.1zM119 42h1.1v1.1h-1.1zM128 43h1.1v1.1h-1.1zM120 50h1.1v1.1h-1.1zM123 46h1.1v1.1h-1.1zM117 51h1.1v1.1h-1.1zM118 42h1.1v1.1h-1.1zM128.9 41h1.1v1.1h-1.1zM147.9 40h1.1v1.1h-1.1zM169.9 40h1.1v1.1h-1.1zM119 44h1.1v1.1h-1.1zM125 43h1.1v1.1h-1.1zM126 49h1.1v1.1h-1.1zM138.9 40h1.1v1.1h-1.1zM171.9 42h1.1v1.1h-1.1zM134.9 41h1.1v1.1h-1.1zM120 43h1.1v1.1h-1.1zM135.9 41h1.1v1.1h-1.1zM118 45h1.1v1.1h-1.1zM122 49h1.1v1.1h-1.1zM118 43h1.1v1.1h-1.1zM118 43h1.1v1.1h-1.1zM128.9 41h1.1v1.1h-1.1zM120 44h1.1v1.1h-1.1zM129.9 48h1.1v1.1h-1.1zM126 61h1.1v1.1h-1.1zM133.9 41h1.1v1.1h-1.1zM116 71h1.1v1.1h-1.1zM137.9 42h1.1v1.1h-1.1zM119 55h1.1v1.1h-1.1zM116 54h1.1v1.1h-1.1zM145.9 45h1.1v1.1h-1.1zM128.9 44h1.1v1.1h-1.1zM154.9 39h1.1v1.1h-1.1zM123 39h1.1v1.1h-1.1zM132.9 40h1.1v1.1h-1.1zM122 44h1.1v1.1h-1.1zM156.9 49h1.1v1.1h-1.1zM126 47h1.1v1.1h-1.1zM160.9 47h1.1v1.1h-1.1zM120 44h1.1v1.1h-1.1zM129.9 42h1.1v1.1h-1.1zM136.9 42h1.1v1.1h-1.1zM126 44h1.1v1.1h-1.1zM122 43h1.1v1.1h-1.1zM146.9 41h1.1v1.1h-1.1zM125 40h1.1v1.1h-1.1zM168.9 40h1.1v1.1h-1.1zM128 42h1.1v1.1h-1.1zM138.9 45h1.1v1.1h-1.1zM120 43h1.1v1.1h-1.1zM133.9 41h1.1v1.1h-1.1zM119 54h1.1v1.1h-1.1zM128 44h1.1v1.1h-1.1zM137.9 42h1.1v1.1h-1.1zM118 43h1.1v1.1h-1.1zM127 42h1.1v1.1h-1.1zM120 39h1.1v1.1h-1.1zM143.9 41h1.1v1.1h-1.1zM129.9 42h1.1v1.1h-1.1zM141.9 42h1.1v1.1h-1.1zM141.9 41h1.1v1.1h-1.1zM144.9 41h1.1v1.1h-1.1zM168.9 39h1.1v1.1h-1.1zM125 43h1.1v1.1h-1.1zM150.9 39h1.1v1.1h-1.1zM119 45h1.1v1.1h-1.1zM119 42h1.1v1.1h-1.1zM126 40h1.1v1.1h-1.1zM161.9 39h1.1v1.1h-1.1zM140.9 40h1.1v1.1h-1.1zM128.9 42h1.1v1.1h-1.1zM122 41h1.1v1.1h-1.1zM133.9 41h1.1v1.1h-1.1zM117 52h1.1v1.1h-1.1zM135.9 41h1.1v1.1h-1.1zM138.9 42h1.1v1.1h-1.1zM150.9 40h1.1v1.1h-1.1zM117 40h1.1v1.1h-1.1zM127 40h1.1v1.1h-1.1zM126 43h1.1v1.1h-1.1zM137.9 40h1.1v1.1h-1.1zM116 40h1.1v1.1h-1.1zM135.9 58h1.1v1.1h-1.1zM120 43h1.1v1.1h-1.1zM125 50h1.1v1.1h-1.1zM122 44h1.1v1.1h-1.1zM128 41h1.1v1.1h-1.1zM140.9 46h1.1v1.1h-1.1zM119 44h1.1v1.1h-1.1zM125 48h1.1v1.1h-1.1zM130.9 41h1.1v1.1h-1.1zM149.9 40h1.1v1.1h-1.1zM152.9 39h1.1v1.1h-1.1zM132.9 42h1.1v1.1h-1.1zM147.9 39h1.1v1.1h-1.1zM122 40h1.1v1.1h-1.1zM133.9 44h1.1v1.1h-1.1zM133.9 41h1.1v1.1h-1.1zM123 42h1.1v1.1h-1.1zM134.9 42h1.1v1.1h-1.1zM122 43h1.1v1.1h-1.1zM143.9 41h1.1v1.1h-1.1zM117 40h1.1v1.1h-1.1zM137.9 40h1.1v1.1h-1.1zM124 43h1.1v1.1h-1.1zM128.9 43h1.1v1.1h-1.1zM124 40h1.1v1.1h-1.1zM175.9 40h1.1v1.1h-1.1zM146.9 41h1.1v1.1h-1.1zM121 39h1.1v1.1h-1.1zM126 44h1.1v1.1h-1.1zM126 46h1.1v1.1h-1.1zM119 42h1.1v1.1h-1.1zM125 63h1.1v1.1h-1.1zM120 41h1.1v1.1h-1.1zM126 47h1.1v1.1h-1.1zM130.9 40h1.1v1.1h-1.1zM117 43h1.1v1.1h-1.1zM122 48h1.1v1.1h-1.1zM118 39h1.1v1.1h-1.1zM119 40h1.1v1.1h-1.1zM117 42h1.1v1.1h-1.1zM118 52h1.1v1.1h-1.1zM121 44h1.1v1.1h-1.1zM117 40h1.1v1.1h-1.1zM118 52h1.1v1.1h-1.1zM131.9 41h1.1v1.1h-1.1zM117 53h1.1v1.1h-1.1zM121 40h1.1v1.1h-1.1zM126 42h1.1v1.1h-1.1zM122 42h1.1v1.1h-1.1zM117 55h1.1v1.1h-1.1zM120 42h1.1v1.1h-1.1zM128 46h1.1v1.1h-1.1zM124 44h1.1v1.1h-1.1zM121 66h1.1v1.1h-1.1zM164.9 41h1.1v1.1h-1.1zM131.9 43h1.1v1.1h-1.1zM133.9 51h1.1v1.1h-1.1zM117 45h1.1v1.1h-1.1zM121 43h1.1v1.1h-1.1zM136.9 41h1.1v1.1h-1.1zM118 43h1.1v1.1h-1.1zM135.9 40h1.1v1.1h-1.1zM171.9 40h1.1v1.1h-1.1zM124 48h1.1v1.1h-1.1zM138.9 45h1.1v1.1h-1.1zM128 43h1.1v1.1h-1.1zM173.9 49h1.1v1.1h-1.1zM127 45h1.1v1.1h-1.1zM138.9 44h1.1v1.1h-1.1zM163.9 48h1.1v1.1h-1.1zM121 53h1.1v1.1h-1.1zM122 43h1.1v1.1h-1.1zM147.9 46h1.1v1.1h-1.1zM119 42h1.1v1.1h-1.1zM120 40h1.1v1.1h-1.1zM119 42h1.1v1.1h-1.1zM123 48h1.1v1.1h-1.1zM121 39h1.1v1.1h-1.1zM126 39h1.1v1.1h-1.1zM149.9 39h1.1v1.1h-1.1zM171.9 40h1.1v1.1h-1.1zM116 43h1.1v1.1h-1.1zM130.9 53h1.1v1.1h-1.1zM121 44h1.1v1.1h-1.1zM124 64h1.1v1.1h-1.1zM118 40h1.1v1.1h-1.1zM136.9 52h1.1v1.1h-1.1zM129.9 43h1.1v1.1h-1.1zM128.9 41h1.1v1.1h-1.1zM119 54h1.1v1.1h-1.1zM132.9 45h1.1v1.1h-1.1zM159.9 45h1.1v1.1h-1.1zM123 50h1.1v1.1h-1.1zM118 43h1.1v1.1h-1.1zM161.9 43h1.1v1.1h-1.1zM141.9 40h1.1v1.1h-1.1zM139.9 39h1.1v1.1h-1.1zM132.9 44h1.1v1.1h-1.1zM135.9 42h1.1v1.1h-1.1zM118 41h1.1v1.1h-1.1zM166.9 44h1.1v1.1h-1.1zM142.9 50h1.1v1.1h-1.1zM119 45h1.1v1.1h-1.1zM117 39h1.1v1.1h-1.1zM127 43h1.1v1.1h-1.1zM125 60h1.1v1.1h-1.1zM130.9 40h1.1v1.1h-1.1zM127 42h1.1v1.1h-1.1zM128 42h1.1v1.1h-1.1zM120 39h1.1v1.1h-1.1zM117 42h1.1v1.1h-1.1zM146.9 48h1.1v1.1h-1.1zM130.9 42h1.1v1.1h-1.1zM116 41h1.1v1.1h-1.1zM132.9 41h1.1v1.1h-1.1zM124 41h1.1v1.1h-1.1zM118 43h1.1v1.1h-1.1zM118 52h1.1v1.1h-1.1zM150.9 47h1.1v1.1h-1.1zM117 61h1.1v1.1h-1.1zM121 64h1.1v1.1h-1.1zM154.9 40h1.1v1.1h-1.1zM124 43h1.1v1.1h-1.1zM131.9 41h1.1v1.1h-1.1zM160.9 42h1.1v1.1h-1.1zM116 42h1.1v1.1h-1.1zM137.9 50h1.1v1.1h-1.1zM127 45h1.1v1.1h-1.1zM128.9 40h1.1v1.1h-1.1zM122 41h1.1v1.1h-1.1zM142.9 41h1.1v1.1h-1.1zM143.9 40h1.1v1.1h-1.1zM120 40h1.1v1.1h-1.1zM128.9 44h1.1v1.1h-1.1zM168.9 49h1.1v1.1h-1.1zM121 50h1.1v1.1h-1.1zM124 43h1.1v1.1h-1.1zM119 42h1.1v1.1h-1.1zM116 42h1.1v1.1h-1.1zM162.9 41h1.1v1.1h-1.1zM125 59h1.1v1.1h-1.1zM160.9 40h1.1v1.1h-1.1zM119 41h1.1v1.1h-1.1zM136.9 47h1.1v1.1h-1.1zM128 43h1.1v1.1h-1.1zM145.9 41h1.1v1.1h-1.1zM144.9 39h1.1v1.1h-1.1zM150.9 40h1.1v1.1h-1.1zM140.9 49h1.1v1.1h-1.1zM146.9 43h1.1v1.1h-1.1zM146.9 43h1.1v1.1h-1.1zM135.9 47h1.1v1.1h-1.1zM147.9 40h1.1v1.1h-1.1zM128.9 43h1.1v1.1h-1.1zM153.9 40h1.1v1.1h-1.1zM134.9 42h1.1v1.1h-1.1zM140.9 39h1.1v1.1h-1.1zM122 53h1.1v1.1h-1.1zM144.9 39h1.1v1.1h-1.1zM123 44h1.1v1.1h-1.1zM117 42h1.1v1.1h-1.1zM134.9 40h1.1v1.1h-1.1zM134.9 47h1.1v1.1h-1.1zM126 41h1.1v1.1h-1.1zM121 61h1.1v1.1h-1.1zM141.9 43h1.1v1.1h-1.1zM136.9 40h1.1v1.1h-1.1zM122 43h1.1v1.1h-1.1zM120 41h1.1v1.1h-1.1zM149.9 43h1.1v1.1h-1.1zM159.9 44h1.1v1.1h-1.1zM129.9 45h1.1v1.1h-1.1zM121 42h1.1v1.1h-1.1zM140.9 40h1.1v1.1h-1.1zM127 43h1.1v1.1h-1.1zM153.9 39h1.1v1.1h-1.1zM132.9 40h1.1v1.1h-1.1zM159.9 40h1.1v1.1h-1.1zM122 42h1.1v1.1h-1.1zM157.9 48h1.1v1.1h-1.1zM127 43h1.1v1.1h-1.1zM159.9 43h1.1v1.1h-1.1zM150.9 41h1.1v1.1h-1.1zM116 66h1.1v1.1h-1.1zM124 45h1.1v1.1h-1.1zM139.9 40h1.1v1.1h-1.1zM120 62h1.1v1.1h-1.1zM117 46h1.1v1.1h-1.1zM124 42h1.1v1.1h-1.1zM153.9 46h1.1v1.1h-1.1zM124 39h1.1v1.1h-1.1zM128 60h1.1v1.1h-1.1zM125 41h1.1v1.1h-1.1zM119 58h1.1v1.1h-1.1zM128.9 40h1.1v1.1h-1.1zM122 41h1.1v1.1h-1.1zM182.9 42h1.1v1.1h-1.1zM120 40h1.1v1.1h-1.1zM123 64h1.1v1.1h-1.1zM120 52h1.1v1.1h-1.1zM128.9 42h1.1v1.1h-1.1zM134.9 40h1.1v1.1h-1.1zM124 62h1.1v1.1h-1.1zM122 42h1.1v1.1h-1.1zM133.9 39h1.1v1.1h-1.1zM127 42h1.1v1.1h-1.1zM132.9 41h1.1v1.1h-1.1zM120 40h1.1v1.1h-1.1zM144.9 41h1.1v1.1h-1.1zM123 56h1.1v1.1h-1.1zM133.9 41h1.1v1.1h-1.1zM119 60h1.1v1.1h-1.1zM128.9 45h1.1v1.1h-1.1zM120 39h1.1v1.1h-1.1zM126 60h1.1v1.1h-1.1zM137.9 40h1.1v1.1h-1.1zM136.9 42h1.1v1.1h-1.1zM123 55h1.1v1.1h-1.1zM144.9 44h1.1v1.1h-1.1zM116 40h1.1v1.1h-1.1zM128.9 42h1.1v1.1h-1.1zM122 43h1.1v1.1h-1.1zM129.9 51h1.1v1.1h-1.1zM116 46h1.1v1.1h-1.1zM127 40h1.1v1.1h-1.1zM134.9 52h1.1v1.1h-1.1zM126 44h1.1v1.1h-1.1zM134.9 41h1.1v1.1h-1.1zM131.9 41h1.1v1.1h-1.1zM123 41h1.1v1.1h-1.1zM137.9 44h1.1v1.1h-1.1zM119 51h1.1v1.1h-1.1zM119 41h1.1v1.1h-1.1zM128 43h1.1v1.1h-1.1zM163.9 40h1.1v1.1h-1.1zM135.9 46h1.1v1.1h-1.1zM121 68h1.1v1.1h-1.1zM116 41h1.1v1.1h-1.1zM120 44h1.1v1.1h-1.1zM116 49h1.1v1.1h-1.1zM116 48h1.1v1.1h-1.1zM120 41h1.1v1.1h-1.1zM118 41h1.1v1.1h-1.1zM130.9 40h1.1v1.1h-1.1zM128.9 57h1.1v1.1h-1.1zM123 62h1.1v1.1h-1.1zM129.9 40h1.1v1.1h-1.1zM118 59h1.1v1.1h-1.1zM118 68h1.1v1.1h-1.1zM116 40h1.1v1.1h-1.1zM146.9 40h1.1v1.1h-1.1zM134.9 41h1.1v1.1h-1.1zM125 44h1.1v1.1h-1.1zM136.9 40h1.1v1.1h-1.1zM118 42h1.1v1.1h-1.1zM119 42h1.1v1.1h-1.1zM132.9 42h1.1v1.1h-1.1zM120 53h1.1v1.1h-1.1zM161.9 40h1.1v1.1h-1.1zM169.9 41h1.1v1.1h-1.1zM153.9 40h1.1v1.1h-1.1zM164.9 41h1.1v1.1h-1.1zM141.9 46h1.1v1.1h-1.1zM131.9 43h1.1v1.1h-1.1zM118 62h1.1v1.1h-1.1zM122 52h1.1v1.1h-1.1zM117 52h1.1v1.1h-1.1zM143.9 41h1.1v1.1h-1.1zM122 47h1.1v1.1h-1.1zM116 40h1.1v1.1h-1.1zM149.9 49h1.1v1.1h-1.1zM165.9 40h1.1v1.1h-1.1zM136.9 47h1.1v1.1h-1.1zM131.9 43h1.1v1.1h-1.1zM126 42h1.1v1.1h-1.1zM116 48h1.1v1.1h-1.1zM117 45h1.1v1.1h-1.1zM138.9 40h1.1v1.1h-1.1zM154.9 41h1.1v1.1h-1.1zM130.9 41h1.1v1.1h-1.1zM165.9 40h1.1v1.1h-1.1zM117 43h1.1v1.1h-1.1zM168.9 47h1.1v1.1h-1.1zM117 51h1.1v1.1h-1.1zM119 40h1.1v1.1h-1.1zM143.9 41h1.1v1.1h-1.1zM125 40h1.1v1.1h-1.1zM126 55h1.1v1.1h-1.1zM128 46h1.1v1.1h-1.1zM120 41h1.1v1.1h-1.1zM122 41h1.1v1.1h-1.1zM116 55h1.1v1.1h-1.1zM151.9 40h1.1v1.1h-1.1zM122 54h1.1v1.1h-1.1zM120 53h1.1v1.1h-1.1zM119 44h1.1v1.1h-1.1zM143.9 41h1.1v1.1h-1.1zM120 43h1.1v1.1h-1.1zM138.9 45h1.1v1.1h-1.1zM141.9 51h1.1v1.1h-1.1zM133.9 45h1.1v1.1h-1.1zM130.9 42h1.1v1.1h-1.1zM129.9 41h1.1v1.1h-1.1zM125 42h1.1v1.1h-1.1zM124 41h1.1v1.1h-1.1zM124 42h1.1v1.1h-1.1zM116 48h1.1v1.1h-1.1zM130.9 40h1.1v1.1h-1.1zM116 71h1.1v1.1h-1.1zM122 41h1.1v1.1h-1.1zM117 67h1.1v1.1h-1.1zM121 43h1.1v1.1h-1.1zM142.9 40h1.1v1.1h-1.1zM120 65h1.1v1.1h-1.1zM149.9 40h1.1v1.1h-1.1zM137.9 40h1.1v1.1h-1.1zM117 46h1.1v1.1h-1.1zM117 61h1.1v1.1h-1.1zM127 63h1.1v1.1h-1.1zM131.9 41h1.1v1.1h-1.1zM125 44h1.1v1.1h-1.1zM137.9 40h1.1v1.1h-1.1zM123 43h1.1v1.1h-1.1zM144.9 41h1.1v1.1h-1.1zM123 66h1.1v1.1h-1.1zM123 48h1.1v1.1h-1.1zM118 43h1.1v1.1h-1.1zM132.9 39h1.1v1.1h-1.1zM118 43h1.1v1.1h-1.1zM131.9 50h1.1v1.1h-1.1zM121 46h1.1v1.1h-1.1zM121 44h1.1v1.1h-1.1zM121 44h1.1v1.1h-1.1zM119 40h1.1v1.1h-1.1zM120 41h1.1v1.1h-1.1zM139.9 41h1.1v1.1h-1.1zM125 64h1.1v1.1h-1.1zM125 46h1.1v1.1h-1.1zM181.9 40h1.1v1.1h-1.1zM121 44h1.1v1.1h-1.1zM123 47h1.1v1.1h-1.1zM126 40h1.1v1.1h-1.1zM123 44h1.1v1.1h-1.1zM128.9 42h1.1v1.1h-1.1zM126 40h1.1v1.1h-1.1zM120 56h1.1v1.1h-1.1zM123 41h1.1v1.1h-1.1zM121 43h1.1v1.1h-1.1zM142.9 45h1.1v1.1h-1.1zM118 40h1.1v1.1h-1.1zM121 48h1.1v1.1h-1.1zM145.9 42h1.1v1.1h-1.1zM184.9 43h1.1v1.1h-1.1zM117 48h1.1v1.1h-1.1zM147.9 40h1.1v1.1h-1.1zM123 47h1.1v1.1h-1.1zM118 44h1.1v1.1h-1.1zM181.9 40h1.1v1.1h-1.1zM135.9 40h1.1v1.1h-1.1zM117 41h1.1v1.1h-1.1zM131.9 40h1.1v1.1h-1.1zM126 46h1.1v1.1h-1.1zM119 45h1.1v1.1h-1.1zM119 43h1.1v1.1h-1.1zM119 42h1.1v1.1h-1.1zM127 47h1.1v1.1h-1.1zM137.9 47h1.1v1.1h-1.1zM117 40h1.1v1.1h-1.1zM122 42h1.1v1.1h-1.1zM141.9 40h1.1v1.1h-1.1zM148.9 44h1.1v1.1h-1.1zM142.9 40h1.1v1.1h-1.1zM133.9 40h1.1v1.1h-1.1zM119 40h1.1v1.1h-1.1zM124 47h1.1v1.1h-1.1zM129.9 43h1.1v1.1h-1.1zM117 44h1.1v1.1h-1.1zM149.9 47h1.1v1.1h-1.1zM128.9 53h1.1v1.1h-1.1zM118 40h1.1v1.1h-1.1zM151.9 40h1.1v1.1h-1.1zM128.9 42h1.1v1.1h-1.1zM142.9 51h1.1v1.1h-1.1zM122 43h1.1v1.1h-1.1zM135.9 40h1.1v1.1h-1.1zM119 54h1.1v1.1h-1.1zM144.9 40h1.1v1.1h-1.1zM128 45h1.1v1.1h-1.1zM135.9 42h1.1v1.1h-1.1zM139.9 43h1.1v1.1h-1.1zM124 44h1.1v1.1h-1.1zM143.9 39h1.1v1.1h-1.1zM120 40h1.1v1.1h-1.1zM144.9 45h1.1v1.1h-1.1zM125 43h1.1v1.1h-1.1zM117 42h1.1v1.1h-1.1zM118 50h1.1v1.1h-1.1zM135.9 40h1.1v1.1h-1.1zM116 44h1.1v1.1h-1.1zM119 53h1.1v1.1h-1.1zM140.9 41h1.1v1.1h-1.1zM155.9 42h1.1v1.1h-1.1zM121 62h1.1v1.1h-1.1zM135.9 42h1.1v1.1h-1.1zM127 48h1.1v1.1h-1.1zM152.9 42h1.1v1.1h-1.1zM126 43h1.1v1.1h-1.1zM171.9 41h1.1v1.1h-1.1zM136.9 42h1.1v1.1h-1.1zM119 43h1.1v1.1h-1.1zM145.9 41h1.1v1.1h-1.1zM133.9 40h1.1v1.1h-1.1zM117 51h1.1v1.1h-1.1zM123 41h1.1v1.1h-1.1zM117 67h1.1v1.1h-1.1zM129.9 40h1.1v1.1h-1.1zM131.9 43h1.1v1.1h-1.1zM169.9 40h1.1v1.1h-1.1zM118 40h1.1v1.1h-1.1zM125 61h1.1v1.1h-1.1zM170.9 39h1.1v1.1h-1.1zM116 39h1.1v1.1h-1.1zM128.9 42h1.1v1.1h-1.1zM129.9 42h1.1v1.1h-1.1zM122 44h1.1v1.1h-1.1zM127 40h1.1v1.1h-1.1zM117 43h1.1v1.1h-1.1zM119 66h1.1v1.1h-1.1zM148.9 44h1.1v1.1h-1.1zM119 43h1.1v1.1h-1.1zM118 41h1.1v1.1h-1.1zM123 52h1.1v1.1h-1.1zM118 50h1.1v1.1h-1.1zM156.9 40h1.1v1.1h-1.1zM119 58h1.1v1.1h-1.1zM145.9 40h1.1v1.1h-1.1zM138.9 55h1.1v1.1h-1.1zM118 45h1.1v1.1h-1.1zM128.9 45h1.1v1.1h-1.1zM116 48h1.1v1.1h-1.1zM129.9 42h1.1v1.1h-1.1zM162.9 48h1.1v1.1h-1.1zM121 40h1.1v1.1h-1.1zM125 46h1.1v1.1h-1.1zM124 40h1.1v1.1h-1.1zM133.9 43h1.1v1.1h-1.1zM117 55h1.1v1.1h-1.1zM123 39h1.1v1.1h-1.1zM143.9 41h1.1v1.1h-1.1zM175.9 44h1.1v1.1h-1.1zM121 54h1.1v1.1h-1.1zM134.9 47h1.1v1.1h-1.1zM129.9 44h1.1v1.1h-1.1zM149.9 40h1.1v1.1h-1.1zM130.9 43h1.1v1.1h-1.1zM126 41h1.1v1.1h-1.1zM130.9 39h1.1v1.1h-1.1zM117 41h1.1v1.1h-1.1zM118 44h1.1v1.1h-1.1zM149.9 41h1.1v1.1h-1.1zM116 59h1.1v1.1h-1.1zM124 41h1.1v1.1h-1.1zM120 45h1.1v1.1h-1.1zM117 40h1.1v1.1h-1.1zM118 42h1.1v1.1h-1.1zM123 42h1.1v1.1h-1.1zM119 43h1.1v1.1h-1.1zM123 44h1.1v1.1h-1.1zM118 60h1.1v1.1h-1.1zM118 45h1.1v1.1h-1.1z" fill="#fcb116"/><line x1="37.5" y1="73.32" x2="193.4" y2="73.32" stroke="#1e1e1e" stroke-width="1.1" stroke-dasharray="2.9 1.5"/><line x1="37.5" y1="174.48" x2="193.4" y2="174.48" stroke="#1e1e1e" stroke-width="1.1" stroke-dasharray="2.9 1.5"/><line x1="116.3" y1="5.8" x2="116.3" y2="208.2" stroke="#1e1e1e" stroke-width="1.2" stroke-dasharray="2.9 1.5"/><text x="0" y="9" font-size="10" text-anchor="start" font-weight="bold" fill="#111">a</text><line x1="37.5" y1="277.6" x2="37.5" y2="446.3" stroke="#7c7c7c" stroke-width="0.8"/><line x1="34.5" y1="446.2" x2="37.5" y2="446.2" stroke="#7c7c7c" stroke-width="0.8"/><text transform="translate(30.5 448.7) scale(0.93 1)" font-size="9.3" text-anchor="end" fill="#1a1a1a">0</text><line x1="34.5" y1="412.48" x2="37.5" y2="412.48" stroke="#7c7c7c" stroke-width="0.8"/><text transform="translate(30.5 414.98) scale(0.93 1)" font-size="9.3" text-anchor="end" fill="#1a1a1a">0.2</text><line x1="34.5" y1="378.76" x2="37.5" y2="378.76" stroke="#7c7c7c" stroke-width="0.8"/><text transform="translate(30.5 381.26) scale(0.93 1)" font-size="9.3" text-anchor="end" fill="#1a1a1a">0.4</text><line x1="34.5" y1="345.04" x2="37.5" y2="345.04" stroke="#7c7c7c" stroke-width="0.8"/><text transform="translate(30.5 347.54) scale(0.93 1)" font-size="9.3" text-anchor="end" fill="#1a1a1a">0.6</text><line x1="34.5" y1="311.32" x2="37.5" y2="311.32" stroke="#7c7c7c" stroke-width="0.8"/><text transform="translate(30.5 313.82) scale(0.93 1)" font-size="9.3" text-anchor="end" fill="#1a1a1a">0.8</text><line x1="34.5" y1="277.6" x2="37.5" y2="277.6" stroke="#7c7c7c" stroke-width="0.8"/><text transform="translate(30.5 280.1) scale(0.93 1)" font-size="9.3" text-anchor="end" fill="#1a1a1a">1.0</text><line x1="37.5" y1="446.3" x2="193.4" y2="446.3" stroke="#7c7c7c" stroke-width="0.8"/><line x1="44.7" y1="446.2" x2="44.7" y2="449.2" stroke="#7c7c7c" stroke-width="0.8"/><text x="44.7" y="458.2" font-size="8.9" text-anchor="middle" fill="#1a1a1a">0</text><line x1="74.4" y1="446.2" x2="74.4" y2="449.2" stroke="#7c7c7c" stroke-width="0.8"/><text x="74.4" y="458.2" font-size="8.9" text-anchor="middle" fill="#1a1a1a">1</text><line x1="104.1" y1="446.2" x2="104.1" y2="449.2" stroke="#7c7c7c" stroke-width="0.8"/><text x="104.1" y="458.2" font-size="8.9" text-anchor="middle" fill="#1a1a1a">2</text><line x1="133.8" y1="446.2" x2="133.8" y2="449.2" stroke="#7c7c7c" stroke-width="0.8"/><text x="133.8" y="458.2" font-size="8.9" text-anchor="middle" fill="#1a1a1a">3</text><line x1="163.5" y1="446.2" x2="163.5" y2="449.2" stroke="#7c7c7c" stroke-width="0.8"/><text x="163.5" y="458.2" font-size="8.9" text-anchor="middle" fill="#1a1a1a">4</text><line x1="193.2" y1="446.2" x2="193.2" y2="449.2" stroke="#7c7c7c" stroke-width="0.8"/><text x="193.2" y="458.2" font-size="8.9" text-anchor="middle" fill="#1a1a1a">5</text><text x="115.2" y="474.8" font-size="8.9" text-anchor="middle" fill="#1a1a1a">log(protein counts + 1)</text><text x="8.4" y="361.9" font-size="8.9" text-anchor="middle" transform="rotate(-90 8.4 361.9)" fill="#1a1a1a">totalVI foreground probability</text><rect x="45.25" y="270.3" width="1.9" height="2.9" fill="#c2c2c2"/><rect x="65.05" y="259.1" width="1.9" height="14.1" fill="#c2c2c2"/><rect x="76.25" y="250.2" width="1.9" height="23" fill="#c2c2c2"/><rect x="85.05" y="247.2" width="1.9" height="26" fill="#c2c2c2"/><rect x="90.25" y="247.5" width="1.9" height="25.7" fill="#c2c2c2"/><rect x="95.85" y="250.2" width="1.9" height="23" fill="#c2c2c2"/><rect x="101.45" y="255.4" width="1.9" height="17.8" fill="#c2c2c2"/><rect x="104.25" y="260.2" width="1.9" height="13" fill="#c2c2c2"/><rect x="110.05" y="263.1" width="1.9" height="10.1" fill="#c2c2c2"/><rect x="112.75" y="265.8" width="1.9" height="7.4" fill="#c2c2c2"/><rect x="115.95" y="267.6" width="1.9" height="5.6" fill="#c2c2c2"/><rect x="118.35" y="269.5" width="1.9" height="3.7" fill="#c2c2c2"/><rect x="121.25" y="268.2" width="1.9" height="5" fill="#c2c2c2"/><rect x="124.45" y="271.9" width="1.9" height="1.3" fill="#c2c2c2"/><rect x="126.85" y="272.2" width="1.9" height="1" fill="#c2c2c2"/><rect x="130.05" y="272.7" width="1.9" height="0.5" fill="#c2c2c2"/><line x1="37.2" y1="273.2" x2="193.2" y2="273.2" stroke="#b0b0b0" stroke-width="1"/><line x1="197.4" y1="277.6" x2="197.4" y2="446.2" stroke="#b4b4b4" stroke-width="1.1"/><rect x="197.4" y="278" width="11.6" height="2.6" fill="#bdbdbd"/><rect x="197.4" y="443.6" width="24.8" height="2.6" fill="#bdbdbd"/><text x="7.9" y="249.7" font-size="8.9" text-anchor="start" fill="#1a1a1a">CD28 protein/</text><text x="7.9" y="260.4" font-size="8.9" fill="#1a1a1a"><tspan font-style="italic">Cd28</tspan> RNA</text><path d="M44 318h1v1h-1zM44 324h1v1h-1zM44 334h1v1h-1zM44 350h1v1h-1zM44 360h1v1h-1zM44 380h1v1h-1zM44 385h1v1h-1zM44 345h1v1h-1zM65 321h1v1h-1zM65 383h1v1h-1zM65 339h1v1h-1zM65 404h1v1h-1zM65 329h1v1h-1zM65 321h1v1h-1zM65 352h1v1h-1zM65 320h1v1h-1zM65 348h1v1h-1zM65 336h1v1h-1zM65 357h1v1h-1zM65 359h1v1h-1zM65 331h1v1h-1zM65 394h1v1h-1zM65 324h1v1h-1zM65 398h1v1h-1zM65 377h1v1h-1zM65 313h1v1h-1zM65 394h1v1h-1zM65 373h1v1h-1zM65 338h1v1h-1zM65 333h1v1h-1zM65 404h1v1h-1zM65 406h1v1h-1zM65 400h1v1h-1zM65 318h1v1h-1zM65 393h1v1h-1zM65 312h1v1h-1zM65 354h1v1h-1zM65 379h1v1h-1zM77 388h1v1h-1zM77 359h1v1h-1zM77 393h1v1h-1zM77 392h1v1h-1zM77 408h1v1h-1zM77 353h1v1h-1zM77 340h1v1h-1zM77 331h1v1h-1zM77 332h1v1h-1zM77 351h1v1h-1zM77 404h1v1h-1zM77 352h1v1h-1zM77 356h1v1h-1zM77 409h1v1h-1zM77 372h1v1h-1zM77 388h1v1h-1zM77 360h1v1h-1zM77 318h1v1h-1zM77 386h1v1h-1zM77 409h1v1h-1zM77 365h1v1h-1zM77 340h1v1h-1zM77 382h1v1h-1zM77 356h1v1h-1zM77 406h1v1h-1zM77 372h1v1h-1zM77 328h1v1h-1zM77 399h1v1h-1zM77 401h1v1h-1zM77 329h1v1h-1zM77 354h1v1h-1zM77 384h1v1h-1zM77 372h1v1h-1zM77 411h1v1h-1zM77 406h1v1h-1zM77 338h1v1h-1zM77 387h1v1h-1zM77 389h1v1h-1zM77 355h1v1h-1zM77 315h1v1h-1zM77 381h1v1h-1zM77 318h1v1h-1zM77 400h1v1h-1zM77 323h1v1h-1zM77 313h1v1h-1zM77 402h1v1h-1zM77 377h1v1h-1zM77 316h1v1h-1zM77 314h1v1h-1zM77 405h1v1h-1zM77 351h1v1h-1zM77 327h1v1h-1zM77 409h1v1h-1zM77 393h1v1h-1zM77 346h1v1h-1zM77 379h1v1h-1zM77 380h1v1h-1zM77 411h1v1h-1zM77 411h1v1h-1zM77 372h1v1h-1zM77 359h1v1h-1zM77 370h1v1h-1zM77 312h1v1h-1zM77 377h1v1h-1zM77 390h1v1h-1zM77 393h1v1h-1zM77 378h1v1h-1zM77 336h1v1h-1zM77 321h1v1h-1zM77 316h1v1h-1zM77 316h1v1h-1zM77 349h1v1h-1zM77 388h1v1h-1zM77 354h1v1h-1zM77 333h1v1h-1zM77 318h1v1h-1zM77 364h1v1h-1zM77 356h1v1h-1zM77 363h1v1h-1zM77 340h1v1h-1zM77 328h1v1h-1zM77 320h1v1h-1zM77 324h1v1h-1zM77 362h1v1h-1zM77 411h1v1h-1zM77 322h1v1h-1zM77 391h1v1h-1zM77 325h1v1h-1zM77 371h1v1h-1zM77 316h1v1h-1zM85 402h1v1h-1zM85 322h1v1h-1zM85 421h1v1h-1zM85 299h1v1h-1zM85 357h1v1h-1zM85 375h1v1h-1zM85 357h1v1h-1zM85 421h1v1h-1zM85 304h1v1h-1zM85 385h1v1h-1zM85 285h1v1h-1zM85 314h1v1h-1zM85 389h1v1h-1zM85 318h1v1h-1zM85 376h1v1h-1zM85 388h1v1h-1zM85 440h1v1h-1zM85 410h1v1h-1zM85 347h1v1h-1zM85 334h1v1h-1zM85 430h1v1h-1zM85 289h1v1h-1zM85 289h1v1h-1zM85 325h1v1h-1zM85 302h1v1h-1zM85 385h1v1h-1zM85 307h1v1h-1zM85 402h1v1h-1zM85 346h1v1h-1zM85 406h1v1h-1zM85 391h1v1h-1zM85 312h1v1h-1zM85 354h1v1h-1zM85 311h1v1h-1zM85 428h1v1h-1zM85 318h1v1h-1zM85 390h1v1h-1zM85 328h1v1h-1zM85 377h1v1h-1zM85 363h1v1h-1zM85 413h1v1h-1zM85 298h1v1h-1zM85 329h1v1h-1zM85 415h1v1h-1zM85 407h1v1h-1zM85 392h1v1h-1zM85 385h1v1h-1zM85 281h1v1h-1zM85 295h1v1h-1zM85 375h1v1h-1zM85 307h1v1h-1zM85 331h1v1h-1zM85 426h1v1h-1zM85 338h1v1h-1zM85 345h1v1h-1zM85 320h1v1h-1zM85 352h1v1h-1zM85 434h1v1h-1zM85 328h1v1h-1zM85 385h1v1h-1zM85 343h1v1h-1zM85 342h1v1h-1zM85 288h1v1h-1zM85 372h1v1h-1zM85 400h1v1h-1zM85 384h1v1h-1zM85 416h1v1h-1zM85 312h1v1h-1zM85 314h1v1h-1zM85 392h1v1h-1zM85 345h1v1h-1zM85 390h1v1h-1zM85 280h1v1h-1zM85 431h1v1h-1zM85 331h1v1h-1zM85 391h1v1h-1zM85 413h1v1h-1zM85 349h1v1h-1zM85 316h1v1h-1zM85 404h1v1h-1zM85 310h1v1h-1zM85 317h1v1h-1zM85 375h1v1h-1zM85 415h1v1h-1zM85 371h1v1h-1zM85 375h1v1h-1zM85 303h1v1h-1zM85 347h1v1h-1zM85 430h1v1h-1zM85 423h1v1h-1zM85 324h1v1h-1zM85 285h1v1h-1zM85 309h1v1h-1zM85 442h1v1h-1zM85 420h1v1h-1zM85 370h1v1h-1zM85 328h1v1h-1zM85 281h1v1h-1zM85 395h1v1h-1zM85 367h1v1h-1zM85 286h1v1h-1zM85 302h1v1h-1zM85 412h1v1h-1zM85 437h1v1h-1zM85 288h1v1h-1zM85 286h1v1h-1zM85 445h1v1h-1zM85 297h1v1h-1zM85 428h1v1h-1zM85 342h1v1h-1zM85 416h1v1h-1zM85 442h1v1h-1zM85 436h1v1h-1zM85 403h1v1h-1zM85 413h1v1h-1zM85 288h1v1h-1zM85 362h1v1h-1zM85 277h1v1h-1zM85 290h1v1h-1zM85 387h1v1h-1zM85 399h1v1h-1zM85 388h1v1h-1zM85 355h1v1h-1zM85 326h1v1h-1zM85 436h1v1h-1zM85 326h1v1h-1zM85 359h1v1h-1zM85 406h1v1h-1zM85 436h1v1h-1zM85 385h1v1h-1zM85 420h1v1h-1zM85 350h1v1h-1zM85 397h1v1h-1zM85 367h1v1h-1zM85 444h1v1h-1zM85 427h1v1h-1zM85 370h1v1h-1zM85 388h1v1h-1zM85 385h1v1h-1zM85 332h1v1h-1zM85 319h1v1h-1zM85 353h1v1h-1zM85 403h1v1h-1zM85 326h1v1h-1zM85 407h1v1h-1zM85 389h1v1h-1zM85 435h1v1h-1zM85 380h1v1h-1zM85 316h1v1h-1zM85 333h1v1h-1zM85 412h1v1h-1zM85 416h1v1h-1zM85 399h1v1h-1zM85 420h1v1h-1zM85 368h1v1h-1zM85 435h1v1h-1zM85 326h1v1h-1zM85 336h1v1h-1zM85 324h1v1h-1zM85 285h1v1h-1zM85 363h1v1h-1zM85 424h1v1h-1zM85 281h1v1h-1zM85 336h1v1h-1zM85 335h1v1h-1zM85 420h1v1h-1zM85 358h1v1h-1zM85 429h1v1h-1zM85 318h1v1h-1zM85 352h1v1h-1zM85 292h1v1h-1zM85 430h1v1h-1zM85 296h1v1h-1zM85 370h1v1h-1zM85 422h1v1h-1zM85 287h1v1h-1zM85 404h1v1h-1zM85 400h1v1h-1zM85 417h1v1h-1zM85 282h1v1h-1zM85 366h1v1h-1zM85 364h1v1h-1zM85 364h1v1h-1zM85 343h1v1h-1zM85 313h1v1h-1zM85 378h1v1h-1zM85 352h1v1h-1zM85 389h1v1h-1zM85 407h1v1h-1zM85 311h1v1h-1zM85 313h1v1h-1zM85 422h1v1h-1zM85 313h1v1h-1zM85 373h1v1h-1zM85 420h1v1h-1zM85 426h1v1h-1zM85 401h1v1h-1zM85 376h1v1h-1zM85 280h1v1h-1zM85 328h1v1h-1zM85 324h1v1h-1zM85 436h1v1h-1zM85 408h1v1h-1zM85 339h1v1h-1zM85 392h1v1h-1zM85 323h1v1h-1zM85 440h1v1h-1zM85 301h1v1h-1zM85 349h1v1h-1zM85 327h1v1h-1zM85 392h1v1h-1zM85 395h1v1h-1zM85 330h1v1h-1zM85 443h1v1h-1zM85 418h1v1h-1zM85 338h1v1h-1zM85 381h1v1h-1zM85 316h1v1h-1zM85 319h1v1h-1zM85 379h1v1h-1zM92 350h1v1h-1zM92 364h1v1h-1zM92 377h1v1h-1zM92 389h1v1h-1zM92 402h1v1h-1zM92 397h1v1h-1zM92 317h1v1h-1zM92 385h1v1h-1zM92 348h1v1h-1zM92 329h1v1h-1zM92 383h1v1h-1zM92 391h1v1h-1zM92 323h1v1h-1zM92 380h1v1h-1zM92 405h1v1h-1zM92 342h1v1h-1zM92 317h1v1h-1zM92 397h1v1h-1zM92 389h1v1h-1zM92 398h1v1h-1zM92 319h1v1h-1zM92 379h1v1h-1zM92 380h1v1h-1zM92 398h1v1h-1zM92 384h1v1h-1zM92 344h1v1h-1zM92 370h1v1h-1zM92 340h1v1h-1zM92 358h1v1h-1zM92 381h1v1h-1zM92 373h1v1h-1zM92 347h1v1h-1zM92 410h1v1h-1zM92 362h1v1h-1zM92 350h1v1h-1zM92 362h1v1h-1zM92 395h1v1h-1zM92 353h1v1h-1zM92 339h1v1h-1zM92 312h1v1h-1zM92 401h1v1h-1zM92 365h1v1h-1zM92 390h1v1h-1zM92 378h1v1h-1zM92 382h1v1h-1zM92 372h1v1h-1zM92 349h1v1h-1zM92 364h1v1h-1zM92 405h1v1h-1zM92 407h1v1h-1zM92 352h1v1h-1zM92 396h1v1h-1zM92 372h1v1h-1zM92 375h1v1h-1zM92 374h1v1h-1zM97 361h1v1h-1zM97 327h1v1h-1zM97 353h1v1h-1zM97 359h1v1h-1zM97 311h1v1h-1zM97 343h1v1h-1zM97 410h1v1h-1zM97 368h1v1h-1zM97 363h1v1h-1zM97 398h1v1h-1zM97 389h1v1h-1zM97 365h1v1h-1zM97 340h1v1h-1zM97 343h1v1h-1zM97 405h1v1h-1zM97 341h1v1h-1zM97 317h1v1h-1zM97 364h1v1h-1zM97 397h1v1h-1zM97 410h1v1h-1zM97 384h1v1h-1zM97 319h1v1h-1zM97 397h1v1h-1zM97 311h1v1h-1zM97 408h1v1h-1zM97 325h1v1h-1zM97 337h1v1h-1zM97 382h1v1h-1zM97 401h1v1h-1zM97 382h1v1h-1zM97 313h1v1h-1zM97 380h1v1h-1zM97 382h1v1h-1zM97 402h1v1h-1zM97 341h1v1h-1zM97 382h1v1h-1zM97 353h1v1h-1zM97 389h1v1h-1zM97 330h1v1h-1zM97 372h1v1h-1zM97 332h1v1h-1zM102 392h1v1h-1zM102 340h1v1h-1zM102 352h1v1h-1zM102 364h1v1h-1zM102 330h1v1h-1zM102 397h1v1h-1zM102 327h1v1h-1zM102 390h1v1h-1zM102 402h1v1h-1zM102 385h1v1h-1zM102 339h1v1h-1zM102 327h1v1h-1zM102 376h1v1h-1zM102 374h1v1h-1zM102 328h1v1h-1zM102 398h1v1h-1zM102 314h1v1h-1zM102 338h1v1h-1zM102 315h1v1h-1zM102 394h1v1h-1zM102 377h1v1h-1zM102 381h1v1h-1zM102 333h1v1h-1zM102 396h1v1h-1zM102 408h1v1h-1zM102 366h1v1h-1zM102 383h1v1h-1zM102 341h1v1h-1zM102 332h1v1h-1zM102 411h1v1h-1zM102 332h1v1h-1zM106 378h1v1h-1zM106 331h1v1h-1zM106 396h1v1h-1zM106 355h1v1h-1zM106 342h1v1h-1zM106 336h1v1h-1zM106 396h1v1h-1zM106 369h1v1h-1zM106 380h1v1h-1zM106 354h1v1h-1zM106 343h1v1h-1zM106 322h1v1h-1zM106 364h1v1h-1zM106 353h1v1h-1zM106 391h1v1h-1zM106 343h1v1h-1zM106 328h1v1h-1zM106 411h1v1h-1zM106 342h1v1h-1zM106 337h1v1h-1zM106 401h1v1h-1zM106 316h1v1h-1zM106 325h1v1h-1zM109 322h1v1h-1zM109 354h1v1h-1zM109 336h1v1h-1zM109 383h1v1h-1zM109 360h1v1h-1zM109 318h1v1h-1zM109 332h1v1h-1zM109 390h1v1h-1zM109 375h1v1h-1zM109 371h1v1h-1zM109 408h1v1h-1zM109 367h1v1h-1zM109 349h1v1h-1zM109 392h1v1h-1zM109 357h1v1h-1zM109 396h1v1h-1zM109 324h1v1h-1zM113 351h1v1h-1zM113 365h1v1h-1zM113 313h1v1h-1zM113 332h1v1h-1zM113 331h1v1h-1zM113 369h1v1h-1zM113 363h1v1h-1zM113 388h1v1h-1zM113 339h1v1h-1zM113 324h1v1h-1zM113 388h1v1h-1zM113 408h1v1h-1zM113 350h1v1h-1zM115 335h1v1h-1zM115 346h1v1h-1zM115 392h1v1h-1zM115 326h1v1h-1zM115 353h1v1h-1zM115 337h1v1h-1zM118 334h1v1h-1zM118 345h1v1h-1zM118 363h1v1h-1zM118 317h1v1h-1zM118 387h1v1h-1zM120 383h1v1h-1zM120 345h1v1h-1zM120 332h1v1h-1zM123 361h1v1h-1zM123 356h1v1h-1zM123 317h1v1h-1zM123 398h1v1h-1zM125 321h1v1h-1zM125 332h1v1h-1zM125 335h1v1h-1zM127 361h1v1h-1zM128 338h1v1h-1zM130 346h1v1h-1zM132 313h1v1h-1zM133 341h1v1h-1zM142 333h1v1h-1zM127 353h1v1h-1zM136 358h1v1h-1zM118 373h1v1h-1zM172 395h1v1h-1zM148 392h1v1h-1zM130 390h1v1h-1zM121 345h1v1h-1z" fill="#606060"/><path d="M44 445h1v1h-1zM44 442h1v1h-1zM44 435h1v1h-1zM44 441h1v1h-1zM44 444h1v1h-1zM44 444h1v1h-1zM44 435h1v1h-1zM44 439h1v1h-1zM65 427h1v1h-1zM65 435h1v1h-1zM65 441h1v1h-1zM65 443h1v1h-1zM65 444h1v1h-1zM65 443h1v1h-1zM65 436h1v1h-1zM65 443h1v1h-1zM65 426h1v1h-1zM65 424h1v1h-1zM65 430h1v1h-1zM65 422h1v1h-1zM65 431h1v1h-1zM65 425h1v1h-1zM65 428h1v1h-1zM65 436h1v1h-1zM65 425h1v1h-1zM65 430h1v1h-1zM65 432h1v1h-1zM65 435h1v1h-1zM65 439h1v1h-1zM65 441h1v1h-1zM65 440h1v1h-1zM65 431h1v1h-1zM65 430h1v1h-1zM77 437h1v1h-1zM77 432h1v1h-1zM77 425h1v1h-1zM77 423h1v1h-1zM77 431h1v1h-1zM77 434h1v1h-1zM77 416h1v1h-1zM77 438h1v1h-1zM77 423h1v1h-1zM77 430h1v1h-1zM77 438h1v1h-1zM77 428h1v1h-1zM77 412h1v1h-1zM77 442h1v1h-1zM77 427h1v1h-1zM77 429h1v1h-1zM77 437h1v1h-1zM77 443h1v1h-1zM77 425h1v1h-1zM77 435h1v1h-1zM77 425h1v1h-1zM77 431h1v1h-1zM77 414h1v1h-1zM77 434h1v1h-1zM77 424h1v1h-1zM77 426h1v1h-1zM77 432h1v1h-1zM77 431h1v1h-1zM77 431h1v1h-1zM77 423h1v1h-1zM77 427h1v1h-1zM77 423h1v1h-1zM77 413h1v1h-1zM77 430h1v1h-1zM77 425h1v1h-1zM77 432h1v1h-1zM77 431h1v1h-1zM77 445h1v1h-1zM77 432h1v1h-1zM77 427h1v1h-1zM77 443h1v1h-1zM77 423h1v1h-1zM77 428h1v1h-1zM77 412h1v1h-1zM77 430h1v1h-1zM77 425h1v1h-1zM77 419h1v1h-1zM77 413h1v1h-1zM77 438h1v1h-1zM77 421h1v1h-1zM77 413h1v1h-1zM77 428h1v1h-1zM77 434h1v1h-1zM77 430h1v1h-1zM77 437h1v1h-1zM77 443h1v1h-1zM77 434h1v1h-1zM77 444h1v1h-1zM77 432h1v1h-1zM77 431h1v1h-1z" fill="#849437"/><path d="M92 443.9h1.1v1.1h-1.1zM92 424.9h1.1v1.1h-1.1zM92 444.9h1.1v1.1h-1.1zM92 435.9h1.1v1.1h-1.1zM92 435.9h1.1v1.1h-1.1zM92 438.9h1.1v1.1h-1.1zM92 430.9h1.1v1.1h-1.1zM92 431.9h1.1v1.1h-1.1zM92 438.9h1.1v1.1h-1.1zM92 441.9h1.1v1.1h-1.1zM92 438.9h1.1v1.1h-1.1zM92 438.9h1.1v1.1h-1.1zM92 425.9h1.1v1.1h-1.1zM92 434.9h1.1v1.1h-1.1zM92 436.9h1.1v1.1h-1.1zM92 437.9h1.1v1.1h-1.1zM92 444.9h1.1v1.1h-1.1zM92 441.9h1.1v1.1h-1.1zM92 434.9h1.1v1.1h-1.1zM92 444.9h1.1v1.1h-1.1zM92 415.9h1.1v1.1h-1.1zM92 437.9h1.1v1.1h-1.1zM92 439.9h1.1v1.1h-1.1zM92 439.9h1.1v1.1h-1.1zM92 440.9h1.1v1.1h-1.1zM92 416.9h1.1v1.1h-1.1zM92 441.9h1.1v1.1h-1.1zM92 434.9h1.1v1.1h-1.1zM92 433.9h1.1v1.1h-1.1zM92 432.9h1.1v1.1h-1.1zM92 439.9h1.1v1.1h-1.1zM92 438.9h1.1v1.1h-1.1zM92 422.9h1.1v1.1h-1.1zM92 434.9h1.1v1.1h-1.1zM92 412.9h1.1v1.1h-1.1zM92 418.9h1.1v1.1h-1.1zM92 421.9h1.1v1.1h-1.1zM92 442.9h1.1v1.1h-1.1zM92 423.9h1.1v1.1h-1.1zM92 437.9h1.1v1.1h-1.1zM92 429.9h1.1v1.1h-1.1zM92 422.9h1.1v1.1h-1.1zM92 421.9h1.1v1.1h-1.1zM92 444.9h1.1v1.1h-1.1zM92 429.9h1.1v1.1h-1.1zM92 425.9h1.1v1.1h-1.1zM92 442.9h1.1v1.1h-1.1zM92 439.9h1.1v1.1h-1.1zM92 430.9h1.1v1.1h-1.1zM92 439.9h1.1v1.1h-1.1zM92 433.9h1.1v1.1h-1.1zM92 425.9h1.1v1.1h-1.1zM92 438.9h1.1v1.1h-1.1zM92 438.9h1.1v1.1h-1.1zM92 418.9h1.1v1.1h-1.1zM92 428.9h1.1v1.1h-1.1zM97 438.9h1.1v1.1h-1.1zM97 425.9h1.1v1.1h-1.1zM97 438.9h1.1v1.1h-1.1zM97 429.9h1.1v1.1h-1.1zM97 441.9h1.1v1.1h-1.1zM97 443.9h1.1v1.1h-1.1zM97 433.9h1.1v1.1h-1.1zM97 436.9h1.1v1.1h-1.1zM97 442.9h1.1v1.1h-1.1zM97 439.9h1.1v1.1h-1.1zM97 424.9h1.1v1.1h-1.1zM97 436.9h1.1v1.1h-1.1zM97 430.9h1.1v1.1h-1.1zM97 438.9h1.1v1.1h-1.1zM97 426.9h1.1v1.1h-1.1zM97 428.9h1.1v1.1h-1.1zM97 418.9h1.1v1.1h-1.1zM97 442.9h1.1v1.1h-1.1zM97 429.9h1.1v1.1h-1.1zM97 426.9h1.1v1.1h-1.1zM97 443.9h1.1v1.1h-1.1zM97 438.9h1.1v1.1h-1.1zM97 434.9h1.1v1.1h-1.1zM97 439.9h1.1v1.1h-1.1zM97 434.9h1.1v1.1h-1.1zM97 431.9h1.1v1.1h-1.1zM97 429.9h1.1v1.1h-1.1zM97 443.9h1.1v1.1h-1.1zM97 432.9h1.1v1.1h-1.1zM97 439.9h1.1v1.1h-1.1zM97 432.9h1.1v1.1h-1.1zM97 440.9h1.1v1.1h-1.1zM97 429.9h1.1v1.1h-1.1zM97 415.9h1.1v1.1h-1.1zM97 423.9h1.1v1.1h-1.1zM97 434.9h1.1v1.1h-1.1zM97 415.9h1.1v1.1h-1.1zM97 436.9h1.1v1.1h-1.1zM97 437.9h1.1v1.1h-1.1zM97 443.9h1.1v1.1h-1.1zM97 445.9h1.1v1.1h-1.1zM97 435.9h1.1v1.1h-1.1zM97 439.9h1.1v1.1h-1.1zM97 430.9h1.1v1.1h-1.1zM97 430.9h1.1v1.1h-1.1zM102 425.9h1.1v1.1h-1.1zM102 425.9h1.1v1.1h-1.1zM102 428.9h1.1v1.1h-1.1zM102 437.9h1.1v1.1h-1.1zM102 433.9h1.1v1.1h-1.1zM102 434.9h1.1v1.1h-1.1zM102 428.9h1.1v1.1h-1.1zM102 438.9h1.1v1.1h-1.1zM102 439.9h1.1v1.1h-1.1zM102 440.9h1.1v1.1h-1.1zM102 423.9h1.1v1.1h-1.1zM102 437.9h1.1v1.1h-1.1zM102 425.9h1.1v1.1h-1.1zM102 444.9h1.1v1.1h-1.1zM102 423.9h1.1v1.1h-1.1zM102 441.9h1.1v1.1h-1.1zM102 440.9h1.1v1.1h-1.1zM102 442.9h1.1v1.1h-1.1zM102 414.9h1.1v1.1h-1.1zM102 440.9h1.1v1.1h-1.1zM102 443.9h1.1v1.1h-1.1zM102 425.9h1.1v1.1h-1.1zM102 431.9h1.1v1.1h-1.1zM102 430.9h1.1v1.1h-1.1zM102 422.9h1.1v1.1h-1.1zM102 432.9h1.1v1.1h-1.1zM102 435.9h1.1v1.1h-1.1zM102 430.9h1.1v1.1h-1.1zM102 417.9h1.1v1.1h-1.1zM102 432.9h1.1v1.1h-1.1zM102 443.9h1.1v1.1h-1.1zM102 439.9h1.1v1.1h-1.1zM106 427.9h1.1v1.1h-1.1zM106 443.9h1.1v1.1h-1.1zM106 436.9h1.1v1.1h-1.1zM106 442.9h1.1v1.1h-1.1zM106 420.9h1.1v1.1h-1.1zM106 439.9h1.1v1.1h-1.1zM106 443.9h1.1v1.1h-1.1zM106 439.9h1.1v1.1h-1.1zM106 441.9h1.1v1.1h-1.1zM106 432.9h1.1v1.1h-1.1zM106 427.9h1.1v1.1h-1.1zM106 423.9h1.1v1.1h-1.1zM106 423.9h1.1v1.1h-1.1zM106 437.9h1.1v1.1h-1.1zM106 423.9h1.1v1.1h-1.1zM106 442.9h1.1v1.1h-1.1zM106 429.9h1.1v1.1h-1.1zM106 438.9h1.1v1.1h-1.1zM106 442.9h1.1v1.1h-1.1zM106 430.9h1.1v1.1h-1.1zM106 435.9h1.1v1.1h-1.1zM106 436.9h1.1v1.1h-1.1zM106 426.9h1.1v1.1h-1.1zM106 440.9h1.1v1.1h-1.1zM106 437.9h1.1v1.1h-1.1zM109 423.9h1.1v1.1h-1.1zM109 434.9h1.1v1.1h-1.1zM109 445.9h1.1v1.1h-1.1zM109 440.9h1.1v1.1h-1.1zM109 442.9h1.1v1.1h-1.1zM109 430.9h1.1v1.1h-1.1zM109 443.9h1.1v1.1h-1.1zM109 434.9h1.1v1.1h-1.1zM109 441.9h1.1v1.1h-1.1zM109 440.9h1.1v1.1h-1.1zM109 436.9h1.1v1.1h-1.1zM109 435.9h1.1v1.1h-1.1zM109 437.9h1.1v1.1h-1.1zM109 435.9h1.1v1.1h-1.1zM109 438.9h1.1v1.1h-1.1zM109 435.9h1.1v1.1h-1.1zM109 435.9h1.1v1.1h-1.1zM109 434.9h1.1v1.1h-1.1zM109 444.9h1.1v1.1h-1.1zM113 435.9h1.1v1.1h-1.1zM113 436.9h1.1v1.1h-1.1zM113 441.9h1.1v1.1h-1.1zM113 428.9h1.1v1.1h-1.1zM113 437.9h1.1v1.1h-1.1zM113 438.9h1.1v1.1h-1.1zM113 438.9h1.1v1.1h-1.1zM113 439.9h1.1v1.1h-1.1zM113 433.9h1.1v1.1h-1.1zM113 441.9h1.1v1.1h-1.1zM113 429.9h1.1v1.1h-1.1zM113 444.9h1.1v1.1h-1.1zM113 435.9h1.1v1.1h-1.1zM113 436.9h1.1v1.1h-1.1zM115 439.9h1.1v1.1h-1.1zM115 437.9h1.1v1.1h-1.1zM115 426.9h1.1v1.1h-1.1zM115 444.9h1.1v1.1h-1.1zM115 438.9h1.1v1.1h-1.1zM115 420.9h1.1v1.1h-1.1zM115 438.9h1.1v1.1h-1.1zM115 430.9h1.1v1.1h-1.1zM115 436.9h1.1v1.1h-1.1zM115 437.9h1.1v1.1h-1.1zM118 441.9h1.1v1.1h-1.1zM118 433.9h1.1v1.1h-1.1zM118 444.9h1.1v1.1h-1.1zM118 431.9h1.1v1.1h-1.1zM118 432.9h1.1v1.1h-1.1zM118 440.9h1.1v1.1h-1.1zM118 443.9h1.1v1.1h-1.1zM118 439.9h1.1v1.1h-1.1zM120 419.9h1.1v1.1h-1.1zM120 418.9h1.1v1.1h-1.1zM120 441.9h1.1v1.1h-1.1zM120 433.9h1.1v1.1h-1.1zM120 415.9h1.1v1.1h-1.1zM120 441.9h1.1v1.1h-1.1zM123 430.9h1.1v1.1h-1.1zM123 419.9h1.1v1.1h-1.1zM123 440.9h1.1v1.1h-1.1zM123 434.9h1.1v1.1h-1.1zM125 444.9h1.1v1.1h-1.1zM125 437.9h1.1v1.1h-1.1zM125 443.9h1.1v1.1h-1.1zM127 422.9h1.1v1.1h-1.1zM127 440.9h1.1v1.1h-1.1zM128 430.9h1.1v1.1h-1.1zM129.9 431.9h1.1v1.1h-1.1zM131.9 428.9h1.1v1.1h-1.1zM156.9 441.9h1.1v1.1h-1.1zM184.9 444.9h1.1v1.1h-1.1zM124 438.9h1.1v1.1h-1.1zM129.9 441.9h1.1v1.1h-1.1zM120 428.9h1.1v1.1h-1.1zM117 423.9h1.1v1.1h-1.1z" fill="#db6018"/><path d="M44 278.9h1.1v1.1h-1.1zM44 285.9h1.1v1.1h-1.1zM44 288.9h1.1v1.1h-1.1zM44 305.9h1.1v1.1h-1.1zM44 290.9h1.1v1.1h-1.1zM44 281.9h1.1v1.1h-1.1zM65 300.9h1.1v1.1h-1.1zM65 293.9h1.1v1.1h-1.1zM65 281.9h1.1v1.1h-1.1zM65 303.9h1.1v1.1h-1.1zM65 277.9h1.1v1.1h-1.1zM65 290.9h1.1v1.1h-1.1zM65 281.9h1.1v1.1h-1.1zM65 291.9h1.1v1.1h-1.1zM65 284.9h1.1v1.1h-1.1zM65 282.9h1.1v1.1h-1.1zM65 293.9h1.1v1.1h-1.1zM65 279.9h1.1v1.1h-1.1zM65 305.9h1.1v1.1h-1.1zM65 286.9h1.1v1.1h-1.1zM65 280.9h1.1v1.1h-1.1zM65 280.9h1.1v1.1h-1.1zM65 290.9h1.1v1.1h-1.1zM65 290.9h1.1v1.1h-1.1zM65 293.9h1.1v1.1h-1.1zM65 302.9h1.1v1.1h-1.1zM65 289.9h1.1v1.1h-1.1zM65 306.9h1.1v1.1h-1.1zM65 296.9h1.1v1.1h-1.1zM65 294.9h1.1v1.1h-1.1zM65 306.9h1.1v1.1h-1.1zM65 298.9h1.1v1.1h-1.1zM65 306.9h1.1v1.1h-1.1zM65 282.9h1.1v1.1h-1.1zM65 286.9h1.1v1.1h-1.1zM65 290.9h1.1v1.1h-1.1zM77 296.9h1.1v1.1h-1.1zM77 283.9h1.1v1.1h-1.1zM77 285.9h1.1v1.1h-1.1zM77 300.9h1.1v1.1h-1.1zM77 293.9h1.1v1.1h-1.1zM77 296.9h1.1v1.1h-1.1zM77 277.9h1.1v1.1h-1.1zM77 297.9h1.1v1.1h-1.1zM77 276.9h1.1v1.1h-1.1zM77 288.9h1.1v1.1h-1.1zM77 282.9h1.1v1.1h-1.1zM77 304.9h1.1v1.1h-1.1zM77 298.9h1.1v1.1h-1.1zM77 289.9h1.1v1.1h-1.1zM77 277.9h1.1v1.1h-1.1zM77 303.9h1.1v1.1h-1.1zM77 290.9h1.1v1.1h-1.1zM77 285.9h1.1v1.1h-1.1zM77 291.9h1.1v1.1h-1.1zM77 301.9h1.1v1.1h-1.1zM77 303.9h1.1v1.1h-1.1zM77 283.9h1.1v1.1h-1.1zM77 294.9h1.1v1.1h-1.1zM77 297.9h1.1v1.1h-1.1zM77 287.9h1.1v1.1h-1.1zM77 282.9h1.1v1.1h-1.1zM77 305.9h1.1v1.1h-1.1zM77 292.9h1.1v1.1h-1.1zM77 286.9h1.1v1.1h-1.1zM77 286.9h1.1v1.1h-1.1zM77 308.9h1.1v1.1h-1.1zM77 279.9h1.1v1.1h-1.1zM77 278.9h1.1v1.1h-1.1zM77 294.9h1.1v1.1h-1.1zM77 310.9h1.1v1.1h-1.1zM77 310.9h1.1v1.1h-1.1zM77 308.9h1.1v1.1h-1.1zM77 295.9h1.1v1.1h-1.1zM77 285.9h1.1v1.1h-1.1zM77 296.9h1.1v1.1h-1.1zM77 300.9h1.1v1.1h-1.1zM77 303.9h1.1v1.1h-1.1zM77 277.9h1.1v1.1h-1.1zM77 294.9h1.1v1.1h-1.1zM77 302.9h1.1v1.1h-1.1zM77 299.9h1.1v1.1h-1.1zM77 292.9h1.1v1.1h-1.1zM77 293.9h1.1v1.1h-1.1zM77 299.9h1.1v1.1h-1.1zM77 284.9h1.1v1.1h-1.1zM77 300.9h1.1v1.1h-1.1zM77 282.9h1.1v1.1h-1.1zM77 292.9h1.1v1.1h-1.1zM77 306.9h1.1v1.1h-1.1zM77 281.9h1.1v1.1h-1.1zM77 286.9h1.1v1.1h-1.1zM77 294.9h1.1v1.1h-1.1zM77 290.9h1.1v1.1h-1.1zM77 295.9h1.1v1.1h-1.1zM77 298.9h1.1v1.1h-1.1zM77 284.9h1.1v1.1h-1.1zM77 296.9h1.1v1.1h-1.1zM77 297.9h1.1v1.1h-1.1zM77 293.9h1.1v1.1h-1.1zM77 298.9h1.1v1.1h-1.1zM77 279.9h1.1v1.1h-1.1zM77 305.9h1.1v1.1h-1.1zM77 308.9h1.1v1.1h-1.1zM77 299.9h1.1v1.1h-1.1zM77 279.9h1.1v1.1h-1.1zM77 287.9h1.1v1.1h-1.1zM77 293.9h1.1v1.1h-1.1zM77 286.9h1.1v1.1h-1.1zM77 288.9h1.1v1.1h-1.1zM77 302.9h1.1v1.1h-1.1zM77 299.9h1.1v1.1h-1.1zM77 310.9h1.1v1.1h-1.1zM77 300.9h1.1v1.1h-1.1zM77 282.9h1.1v1.1h-1.1zM77 303.9h1.1v1.1h-1.1zM77 286.9h1.1v1.1h-1.1zM77 284.9h1.1v1.1h-1.1zM77 279.9h1.1v1.1h-1.1zM77 301.9h1.1v1.1h-1.1zM77 296.9h1.1v1.1h-1.1zM77 310.9h1.1v1.1h-1.1zM77 280.9h1.1v1.1h-1.1zM77 309.9h1.1v1.1h-1.1zM77 302.9h1.1v1.1h-1.1zM77 307.9h1.1v1.1h-1.1zM77 281.9h1.1v1.1h-1.1zM77 288.9h1.1v1.1h-1.1zM77 285.9h1.1v1.1h-1.1zM77 289.9h1.1v1.1h-1.1zM77 288.9h1.1v1.1h-1.1zM77 284.9h1.1v1.1h-1.1zM77 302.9h1.1v1.1h-1.1zM77 283.9h1.1v1.1h-1.1zM77 277.9h1.1v1.1h-1.1zM77 305.9h1.1v1.1h-1.1zM77 301.9h1.1v1.1h-1.1zM77 307.9h1.1v1.1h-1.1zM77 281.9h1.1v1.1h-1.1zM77 285.9h1.1v1.1h-1.1zM77 303.9h1.1v1.1h-1.1zM77 281.9h1.1v1.1h-1.1zM77 309.9h1.1v1.1h-1.1zM77 276.9h1.1v1.1h-1.1zM77 307.9h1.1v1.1h-1.1zM77 305.9h1.1v1.1h-1.1zM77 308.9h1.1v1.1h-1.1zM77 287.9h1.1v1.1h-1.1zM77 307.9h1.1v1.1h-1.1zM77 289.9h1.1v1.1h-1.1zM77 300.9h1.1v1.1h-1.1zM77 281.9h1.1v1.1h-1.1zM77 310.9h1.1v1.1h-1.1zM77 300.9h1.1v1.1h-1.1zM77 280.9h1.1v1.1h-1.1zM77 285.9h1.1v1.1h-1.1zM77 309.9h1.1v1.1h-1.1zM77 291.9h1.1v1.1h-1.1zM77 306.9h1.1v1.1h-1.1zM77 285.9h1.1v1.1h-1.1zM77 277.9h1.1v1.1h-1.1zM77 297.9h1.1v1.1h-1.1zM77 287.9h1.1v1.1h-1.1zM77 283.9h1.1v1.1h-1.1zM77 286.9h1.1v1.1h-1.1zM77 306.9h1.1v1.1h-1.1zM77 306.9h1.1v1.1h-1.1zM77 284.9h1.1v1.1h-1.1zM77 290.9h1.1v1.1h-1.1zM77 285.9h1.1v1.1h-1.1zM77 304.9h1.1v1.1h-1.1zM77 292.9h1.1v1.1h-1.1zM77 279.9h1.1v1.1h-1.1zM77 309.9h1.1v1.1h-1.1zM77 301.9h1.1v1.1h-1.1zM77 294.9h1.1v1.1h-1.1zM77 298.9h1.1v1.1h-1.1zM77 295.9h1.1v1.1h-1.1zM77 304.9h1.1v1.1h-1.1zM77 283.9h1.1v1.1h-1.1zM77 291.9h1.1v1.1h-1.1zM77 280.9h1.1v1.1h-1.1zM77 305.9h1.1v1.1h-1.1zM77 296.9h1.1v1.1h-1.1zM77 277.9h1.1v1.1h-1.1zM77 285.9h1.1v1.1h-1.1zM77 294.9h1.1v1.1h-1.1zM77 276.9h1.1v1.1h-1.1zM77 277.9h1.1v1.1h-1.1zM77 303.9h1.1v1.1h-1.1zM77 293.9h1.1v1.1h-1.1zM77 303.9h1.1v1.1h-1.1zM77 283.9h1.1v1.1h-1.1zM77 309.9h1.1v1.1h-1.1zM77 281.9h1.1v1.1h-1.1zM77 283.9h1.1v1.1h-1.1zM77 303.9h1.1v1.1h-1.1zM77 287.9h1.1v1.1h-1.1zM77 302.9h1.1v1.1h-1.1zM77 292.9h1.1v1.1h-1.1zM77 307.9h1.1v1.1h-1.1zM77 303.9h1.1v1.1h-1.1zM77 306.9h1.1v1.1h-1.1zM77 279.9h1.1v1.1h-1.1zM77 295.9h1.1v1.1h-1.1zM77 279.9h1.1v1.1h-1.1zM77 286.9h1.1v1.1h-1.1zM77 293.9h1.1v1.1h-1.1zM77 307.9h1.1v1.1h-1.1zM77 281.9h1.1v1.1h-1.1zM77 309.9h1.1v1.1h-1.1zM77 304.9h1.1v1.1h-1.1zM77 281.9h1.1v1.1h-1.1zM77 300.9h1.1v1.1h-1.1zM77 305.9h1.1v1.1h-1.1zM77 291.9h1.1v1.1h-1.1zM77 290.9h1.1v1.1h-1.1zM77 290.9h1.1v1.1h-1.1zM77 282.9h1.1v1.1h-1.1zM77 305.9h1.1v1.1h-1.1zM77 291.9h1.1v1.1h-1.1zM77 305.9h1.1v1.1h-1.1zM77 278.9h1.1v1.1h-1.1zM77 301.9h1.1v1.1h-1.1zM77 284.9h1.1v1.1h-1.1zM77 284.9h1.1v1.1h-1.1zM77 290.9h1.1v1.1h-1.1zM77 278.9h1.1v1.1h-1.1zM77 276.9h1.1v1.1h-1.1zM77 300.9h1.1v1.1h-1.1zM77 296.9h1.1v1.1h-1.1zM77 277.9h1.1v1.1h-1.1zM77 300.9h1.1v1.1h-1.1zM77 308.9h1.1v1.1h-1.1zM77 277.9h1.1v1.1h-1.1zM77 299.9h1.1v1.1h-1.1z" fill="#3c7da2"/><path d="M92 284.9h1.1v1.1h-1.1zM92 286.9h1.1v1.1h-1.1zM92 300.9h1.1v1.1h-1.1zM92 308.9h1.1v1.1h-1.1zM92 308.9h1.1v1.1h-1.1zM92 286.9h1.1v1.1h-1.1zM92 290.9h1.1v1.1h-1.1zM92 277.9h1.1v1.1h-1.1zM92 278.9h1.1v1.1h-1.1zM92 303.9h1.1v1.1h-1.1zM92 288.9h1.1v1.1h-1.1zM92 303.9h1.1v1.1h-1.1zM92 290.9h1.1v1.1h-1.1zM92 307.9h1.1v1.1h-1.1zM92 286.9h1.1v1.1h-1.1zM92 296.9h1.1v1.1h-1.1zM92 284.9h1.1v1.1h-1.1zM92 287.9h1.1v1.1h-1.1zM92 296.9h1.1v1.1h-1.1zM92 292.9h1.1v1.1h-1.1zM92 296.9h1.1v1.1h-1.1zM92 290.9h1.1v1.1h-1.1zM92 298.9h1.1v1.1h-1.1zM92 302.9h1.1v1.1h-1.1zM92 296.9h1.1v1.1h-1.1zM92 304.9h1.1v1.1h-1.1zM92 282.9h1.1v1.1h-1.1zM92 304.9h1.1v1.1h-1.1zM92 276.9h1.1v1.1h-1.1zM92 283.9h1.1v1.1h-1.1zM92 281.9h1.1v1.1h-1.1zM92 294.9h1.1v1.1h-1.1zM92 303.9h1.1v1.1h-1.1zM92 303.9h1.1v1.1h-1.1zM92 306.9h1.1v1.1h-1.1zM92 283.9h1.1v1.1h-1.1zM92 300.9h1.1v1.1h-1.1zM92 299.9h1.1v1.1h-1.1zM92 281.9h1.1v1.1h-1.1zM92 287.9h1.1v1.1h-1.1zM92 295.9h1.1v1.1h-1.1zM92 308.9h1.1v1.1h-1.1zM92 307.9h1.1v1.1h-1.1zM92 299.9h1.1v1.1h-1.1zM92 283.9h1.1v1.1h-1.1zM92 292.9h1.1v1.1h-1.1zM92 300.9h1.1v1.1h-1.1zM92 296.9h1.1v1.1h-1.1zM92 293.9h1.1v1.1h-1.1zM92 306.9h1.1v1.1h-1.1zM92 281.9h1.1v1.1h-1.1zM92 299.9h1.1v1.1h-1.1zM92 299.9h1.1v1.1h-1.1zM92 301.9h1.1v1.1h-1.1zM92 305.9h1.1v1.1h-1.1zM92 307.9h1.1v1.1h-1.1zM92 296.9h1.1v1.1h-1.1zM92 286.9h1.1v1.1h-1.1zM92 278.9h1.1v1.1h-1.1zM92 280.9h1.1v1.1h-1.1zM92 280.9h1.1v1.1h-1.1zM92 309.9h1.1v1.1h-1.1zM92 278.9h1.1v1.1h-1.1zM92 277.9h1.1v1.1h-1.1zM92 295.9h1.1v1.1h-1.1zM92 299.9h1.1v1.1h-1.1zM92 293.9h1.1v1.1h-1.1zM92 278.9h1.1v1.1h-1.1zM92 276.9h1.1v1.1h-1.1zM92 279.9h1.1v1.1h-1.1zM92 283.9h1.1v1.1h-1.1zM92 280.9h1.1v1.1h-1.1zM92 291.9h1.1v1.1h-1.1zM92 292.9h1.1v1.1h-1.1zM92 298.9h1.1v1.1h-1.1zM92 298.9h1.1v1.1h-1.1zM92 280.9h1.1v1.1h-1.1zM92 279.9h1.1v1.1h-1.1zM92 307.9h1.1v1.1h-1.1zM92 279.9h1.1v1.1h-1.1zM92 285.9h1.1v1.1h-1.1zM92 288.9h1.1v1.1h-1.1zM92 302.9h1.1v1.1h-1.1zM92 306.9h1.1v1.1h-1.1zM92 290.9h1.1v1.1h-1.1zM92 302.9h1.1v1.1h-1.1zM92 289.9h1.1v1.1h-1.1zM92 288.9h1.1v1.1h-1.1zM92 302.9h1.1v1.1h-1.1zM92 288.9h1.1v1.1h-1.1zM92 281.9h1.1v1.1h-1.1zM92 294.9h1.1v1.1h-1.1zM92 291.9h1.1v1.1h-1.1zM92 278.9h1.1v1.1h-1.1zM92 278.9h1.1v1.1h-1.1zM92 281.9h1.1v1.1h-1.1zM92 278.9h1.1v1.1h-1.1zM92 300.9h1.1v1.1h-1.1zM92 278.9h1.1v1.1h-1.1zM92 285.9h1.1v1.1h-1.1zM92 285.9h1.1v1.1h-1.1zM92 289.9h1.1v1.1h-1.1zM92 293.9h1.1v1.1h-1.1zM92 283.9h1.1v1.1h-1.1zM92 292.9h1.1v1.1h-1.1zM92 284.9h1.1v1.1h-1.1zM92 286.9h1.1v1.1h-1.1zM92 292.9h1.1v1.1h-1.1zM92 290.9h1.1v1.1h-1.1zM92 303.9h1.1v1.1h-1.1zM92 288.9h1.1v1.1h-1.1zM92 296.9h1.1v1.1h-1.1zM92 277.9h1.1v1.1h-1.1zM92 293.9h1.1v1.1h-1.1zM92 280.9h1.1v1.1h-1.1zM92 293.9h1.1v1.1h-1.1zM92 300.9h1.1v1.1h-1.1zM92 285.9h1.1v1.1h-1.1zM92 277.9h1.1v1.1h-1.1zM92 278.9h1.1v1.1h-1.1zM92 301.9h1.1v1.1h-1.1zM92 280.9h1.1v1.1h-1.1zM92 279.9h1.1v1.1h-1.1zM92 278.9h1.1v1.1h-1.1zM92 280.9h1.1v1.1h-1.1zM92 307.9h1.1v1.1h-1.1zM92 290.9h1.1v1.1h-1.1zM92 277.9h1.1v1.1h-1.1zM92 278.9h1.1v1.1h-1.1zM92 284.9h1.1v1.1h-1.1zM92 294.9h1.1v1.1h-1.1zM92 277.9h1.1v1.1h-1.1zM92 306.9h1.1v1.1h-1.1zM92 289.9h1.1v1.1h-1.1zM92 303.9h1.1v1.1h-1.1zM92 281.9h1.1v1.1h-1.1zM92 307.9h1.1v1.1h-1.1zM92 280.9h1.1v1.1h-1.1zM92 278.9h1.1v1.1h-1.1zM92 306.9h1.1v1.1h-1.1zM92 288.9h1.1v1.1h-1.1zM92 295.9h1.1v1.1h-1.1zM92 308.9h1.1v1.1h-1.1zM92 287.9h1.1v1.1h-1.1zM92 281.9h1.1v1.1h-1.1zM92 302.9h1.1v1.1h-1.1zM92 303.9h1.1v1.1h-1.1zM92 282.9h1.1v1.1h-1.1zM92 307.9h1.1v1.1h-1.1zM92 306.9h1.1v1.1h-1.1zM92 290.9h1.1v1.1h-1.1zM92 306.9h1.1v1.1h-1.1zM92 303.9h1.1v1.1h-1.1zM92 286.9h1.1v1.1h-1.1zM92 290.9h1.1v1.1h-1.1zM92 307.9h1.1v1.1h-1.1zM92 279.9h1.1v1.1h-1.1zM92 287.9h1.1v1.1h-1.1zM92 297.9h1.1v1.1h-1.1zM92 284.9h1.1v1.1h-1.1zM92 306.9h1.1v1.1h-1.1zM92 281.9h1.1v1.1h-1.1zM92 277.9h1.1v1.1h-1.1zM92 299.9h1.1v1.1h-1.1zM92 298.9h1.1v1.1h-1.1zM92 293.9h1.1v1.1h-1.1zM92 281.9h1.1v1.1h-1.1zM92 284.9h1.1v1.1h-1.1zM92 297.9h1.1v1.1h-1.1zM92 282.9h1.1v1.1h-1.1zM97 310.9h1.1v1.1h-1.1zM97 281.9h1.1v1.1h-1.1zM97 278.9h1.1v1.1h-1.1zM97 276.9h1.1v1.1h-1.1zM97 283.9h1.1v1.1h-1.1zM97 306.9h1.1v1.1h-1.1zM97 292.9h1.1v1.1h-1.1zM97 276.9h1.1v1.1h-1.1zM97 289.9h1.1v1.1h-1.1zM97 279.9h1.1v1.1h-1.1zM97 278.9h1.1v1.1h-1.1zM97 305.9h1.1v1.1h-1.1zM97 282.9h1.1v1.1h-1.1zM97 287.9h1.1v1.1h-1.1zM97 277.9h1.1v1.1h-1.1zM97 277.9h1.1v1.1h-1.1zM97 290.9h1.1v1.1h-1.1zM97 291.9h1.1v1.1h-1.1zM97 306.9h1.1v1.1h-1.1zM97 299.9h1.1v1.1h-1.1zM97 281.9h1.1v1.1h-1.1zM97 309.9h1.1v1.1h-1.1zM97 293.9h1.1v1.1h-1.1zM97 305.9h1.1v1.1h-1.1zM97 308.9h1.1v1.1h-1.1zM97 306.9h1.1v1.1h-1.1zM97 301.9h1.1v1.1h-1.1zM97 292.9h1.1v1.1h-1.1zM97 278.9h1.1v1.1h-1.1zM97 304.9h1.1v1.1h-1.1zM97 303.9h1.1v1.1h-1.1zM97 288.9h1.1v1.1h-1.1zM97 302.9h1.1v1.1h-1.1zM97 307.9h1.1v1.1h-1.1zM97 292.9h1.1v1.1h-1.1zM97 285.9h1.1v1.1h-1.1zM97 300.9h1.1v1.1h-1.1zM97 284.9h1.1v1.1h-1.1zM97 305.9h1.1v1.1h-1.1zM97 279.9h1.1v1.1h-1.1zM97 293.9h1.1v1.1h-1.1zM97 290.9h1.1v1.1h-1.1zM97 289.9h1.1v1.1h-1.1zM97 300.9h1.1v1.1h-1.1zM97 287.9h1.1v1.1h-1.1zM97 305.9h1.1v1.1h-1.1zM97 308.9h1.1v1.1h-1.1zM97 298.9h1.1v1.1h-1.1zM97 284.9h1.1v1.1h-1.1zM97 306.9h1.1v1.1h-1.1zM97 299.9h1.1v1.1h-1.1zM97 300.9h1.1v1.1h-1.1zM97 306.9h1.1v1.1h-1.1zM97 277.9h1.1v1.1h-1.1zM97 291.9h1.1v1.1h-1.1zM97 306.9h1.1v1.1h-1.1zM97 295.9h1.1v1.1h-1.1zM97 279.9h1.1v1.1h-1.1zM97 281.9h1.1v1.1h-1.1zM97 296.9h1.1v1.1h-1.1zM97 304.9h1.1v1.1h-1.1zM97 283.9h1.1v1.1h-1.1zM97 296.9h1.1v1.1h-1.1zM97 300.9h1.1v1.1h-1.1zM97 281.9h1.1v1.1h-1.1zM97 299.9h1.1v1.1h-1.1zM97 297.9h1.1v1.1h-1.1zM97 303.9h1.1v1.1h-1.1zM97 284.9h1.1v1.1h-1.1zM97 281.9h1.1v1.1h-1.1zM97 309.9h1.1v1.1h-1.1zM97 279.9h1.1v1.1h-1.1zM97 279.9h1.1v1.1h-1.1zM97 291.9h1.1v1.1h-1.1zM97 298.9h1.1v1.1h-1.1zM97 289.9h1.1v1.1h-1.1zM97 308.9h1.1v1.1h-1.1zM97 277.9h1.1v1.1h-1.1zM97 300.9h1.1v1.1h-1.1zM97 309.9h1.1v1.1h-1.1zM97 288.9h1.1v1.1h-1.1zM97 278.9h1.1v1.1h-1.1zM97 305.9h1.1v1.1h-1.1zM97 279.9h1.1v1.1h-1.1zM97 300.9h1.1v1.1h-1.1zM97 292.9h1.1v1.1h-1.1zM97 286.9h1.1v1.1h-1.1zM97 283.9h1.1v1.1h-1.1zM97 299.9h1.1v1.1h-1.1zM97 281.9h1.1v1.1h-1.1zM97 307.9h1.1v1.1h-1.1zM97 279.9h1.1v1.1h-1.1zM97 289.9h1.1v1.1h-1.1zM97 296.9h1.1v1.1h-1.1zM97 290.9h1.1v1.1h-1.1zM97 294.9h1.1v1.1h-1.1zM97 308.9h1.1v1.1h-1.1zM97 283.9h1.1v1.1h-1.1zM97 281.9h1.1v1.1h-1.1zM97 294.9h1.1v1.1h-1.1zM97 279.9h1.1v1.1h-1.1zM97 300.9h1.1v1.1h-1.1zM97 303.9h1.1v1.1h-1.1zM97 291.9h1.1v1.1h-1.1zM97 281.9h1.1v1.1h-1.1zM97 279.9h1.1v1.1h-1.1zM97 309.9h1.1v1.1h-1.1zM97 295.9h1.1v1.1h-1.1zM97 305.9h1.1v1.1h-1.1zM97 277.9h1.1v1.1h-1.1zM97 304.9h1.1v1.1h-1.1zM97 309.9h1.1v1.1h-1.1zM97 296.9h1.1v1.1h-1.1zM97 282.9h1.1v1.1h-1.1zM97 307.9h1.1v1.1h-1.1zM97 293.9h1.1v1.1h-1.1zM97 306.9h1.1v1.1h-1.1zM97 287.9h1.1v1.1h-1.1zM97 277.9h1.1v1.1h-1.1zM97 280.9h1.1v1.1h-1.1zM97 291.9h1.1v1.1h-1.1zM97 284.9h1.1v1.1h-1.1zM97 285.9h1.1v1.1h-1.1zM97 286.9h1.1v1.1h-1.1zM97 298.9h1.1v1.1h-1.1zM97 284.9h1.1v1.1h-1.1zM97 294.9h1.1v1.1h-1.1zM97 306.9h1.1v1.1h-1.1zM97 305.9h1.1v1.1h-1.1zM97 278.9h1.1v1.1h-1.1zM97 287.9h1.1v1.1h-1.1zM97 286.9h1.1v1.1h-1.1zM97 281.9h1.1v1.1h-1.1zM97 300.9h1.1v1.1h-1.1zM97 287.9h1.1v1.1h-1.1zM97 292.9h1.1v1.1h-1.1zM97 295.9h1.1v1.1h-1.1zM97 288.9h1.1v1.1h-1.1zM97 293.9h1.1v1.1h-1.1zM97 296.9h1.1v1.1h-1.1zM97 305.9h1.1v1.1h-1.1zM97 307.9h1.1v1.1h-1.1zM97 288.9h1.1v1.1h-1.1zM97 278.9h1.1v1.1h-1.1zM97 291.9h1.1v1.1h-1.1zM97 291.9h1.1v1.1h-1.1zM97 299.9h1.1v1.1h-1.1zM97 308.9h1.1v1.1h-1.1zM97 295.9h1.1v1.1h-1.1zM97 285.9h1.1v1.1h-1.1zM97 305.9h1.1v1.1h-1.1zM97 292.9h1.1v1.1h-1.1zM97 303.9h1.1v1.1h-1.1zM97 284.9h1.1v1.1h-1.1zM97 292.9h1.1v1.1h-1.1zM97 297.9h1.1v1.1h-1.1zM97 284.9h1.1v1.1h-1.1zM97 289.9h1.1v1.1h-1.1zM102 296.9h1.1v1.1h-1.1zM102 281.9h1.1v1.1h-1.1zM102 287.9h1.1v1.1h-1.1zM102 283.9h1.1v1.1h-1.1zM102 297.9h1.1v1.1h-1.1zM102 281.9h1.1v1.1h-1.1zM102 290.9h1.1v1.1h-1.1zM102 292.9h1.1v1.1h-1.1zM102 279.9h1.1v1.1h-1.1zM102 276.9h1.1v1.1h-1.1zM102 278.9h1.1v1.1h-1.1zM102 289.9h1.1v1.1h-1.1zM102 284.9h1.1v1.1h-1.1zM102 286.9h1.1v1.1h-1.1zM102 296.9h1.1v1.1h-1.1zM102 293.9h1.1v1.1h-1.1zM102 296.9h1.1v1.1h-1.1zM102 280.9h1.1v1.1h-1.1zM102 296.9h1.1v1.1h-1.1zM102 299.9h1.1v1.1h-1.1zM102 283.9h1.1v1.1h-1.1zM102 305.9h1.1v1.1h-1.1zM102 301.9h1.1v1.1h-1.1zM102 298.9h1.1v1.1h-1.1zM102 276.9h1.1v1.1h-1.1zM102 292.9h1.1v1.1h-1.1zM102 303.9h1.1v1.1h-1.1zM102 299.9h1.1v1.1h-1.1zM102 286.9h1.1v1.1h-1.1zM102 283.9h1.1v1.1h-1.1zM102 290.9h1.1v1.1h-1.1zM102 286.9h1.1v1.1h-1.1zM102 293.9h1.1v1.1h-1.1zM102 297.9h1.1v1.1h-1.1zM102 284.9h1.1v1.1h-1.1zM102 289.9h1.1v1.1h-1.1zM102 284.9h1.1v1.1h-1.1zM102 301.9h1.1v1.1h-1.1zM102 304.9h1.1v1.1h-1.1zM102 293.9h1.1v1.1h-1.1zM102 300.9h1.1v1.1h-1.1zM102 309.9h1.1v1.1h-1.1zM102 307.9h1.1v1.1h-1.1zM102 296.9h1.1v1.1h-1.1zM102 298.9h1.1v1.1h-1.1zM102 299.9h1.1v1.1h-1.1zM102 307.9h1.1v1.1h-1.1zM102 279.9h1.1v1.1h-1.1zM102 283.9h1.1v1.1h-1.1zM102 301.9h1.1v1.1h-1.1zM102 305.9h1.1v1.1h-1.1zM102 277.9h1.1v1.1h-1.1zM102 279.9h1.1v1.1h-1.1zM102 286.9h1.1v1.1h-1.1zM102 297.9h1.1v1.1h-1.1zM102 290.9h1.1v1.1h-1.1zM102 306.9h1.1v1.1h-1.1zM102 279.9h1.1v1.1h-1.1zM102 277.9h1.1v1.1h-1.1zM102 280.9h1.1v1.1h-1.1zM102 295.9h1.1v1.1h-1.1zM102 296.9h1.1v1.1h-1.1zM102 290.9h1.1v1.1h-1.1zM102 294.9h1.1v1.1h-1.1zM102 281.9h1.1v1.1h-1.1zM102 284.9h1.1v1.1h-1.1zM102 279.9h1.1v1.1h-1.1zM102 287.9h1.1v1.1h-1.1zM102 304.9h1.1v1.1h-1.1zM102 289.9h1.1v1.1h-1.1zM102 308.9h1.1v1.1h-1.1zM102 285.9h1.1v1.1h-1.1zM102 305.9h1.1v1.1h-1.1zM102 280.9h1.1v1.1h-1.1zM102 285.9h1.1v1.1h-1.1zM102 284.9h1.1v1.1h-1.1zM102 287.9h1.1v1.1h-1.1zM102 281.9h1.1v1.1h-1.1zM102 307.9h1.1v1.1h-1.1zM102 285.9h1.1v1.1h-1.1zM102 288.9h1.1v1.1h-1.1zM102 287.9h1.1v1.1h-1.1zM102 301.9h1.1v1.1h-1.1zM102 299.9h1.1v1.1h-1.1zM102 301.9h1.1v1.1h-1.1zM102 279.9h1.1v1.1h-1.1zM102 305.9h1.1v1.1h-1.1zM102 304.9h1.1v1.1h-1.1zM102 296.9h1.1v1.1h-1.1zM102 281.9h1.1v1.1h-1.1zM102 276.9h1.1v1.1h-1.1zM102 304.9h1.1v1.1h-1.1zM102 309.9h1.1v1.1h-1.1zM102 283.9h1.1v1.1h-1.1zM102 282.9h1.1v1.1h-1.1zM102 293.9h1.1v1.1h-1.1zM102 288.9h1.1v1.1h-1.1zM102 287.9h1.1v1.1h-1.1zM102 287.9h1.1v1.1h-1.1zM102 281.9h1.1v1.1h-1.1zM102 294.9h1.1v1.1h-1.1zM102 278.9h1.1v1.1h-1.1zM102 284.9h1.1v1.1h-1.1zM102 291.9h1.1v1.1h-1.1zM102 298.9h1.1v1.1h-1.1zM102 306.9h1.1v1.1h-1.1zM102 305.9h1.1v1.1h-1.1zM102 298.9h1.1v1.1h-1.1zM102 293.9h1.1v1.1h-1.1zM102 280.9h1.1v1.1h-1.1zM102 307.9h1.1v1.1h-1.1zM102 291.9h1.1v1.1h-1.1zM102 303.9h1.1v1.1h-1.1zM102 298.9h1.1v1.1h-1.1zM102 293.9h1.1v1.1h-1.1zM102 297.9h1.1v1.1h-1.1zM102 284.9h1.1v1.1h-1.1zM102 277.9h1.1v1.1h-1.1zM102 292.9h1.1v1.1h-1.1zM102 299.9h1.1v1.1h-1.1zM102 301.9h1.1v1.1h-1.1zM102 290.9h1.1v1.1h-1.1zM102 306.9h1.1v1.1h-1.1zM102 309.9h1.1v1.1h-1.1zM102 287.9h1.1v1.1h-1.1zM102 289.9h1.1v1.1h-1.1zM102 277.9h1.1v1.1h-1.1zM102 295.9h1.1v1.1h-1.1zM102 306.9h1.1v1.1h-1.1zM102 282.9h1.1v1.1h-1.1zM102 290.9h1.1v1.1h-1.1zM102 278.9h1.1v1.1h-1.1zM102 298.9h1.1v1.1h-1.1zM102 300.9h1.1v1.1h-1.1zM102 305.9h1.1v1.1h-1.1zM102 308.9h1.1v1.1h-1.1zM102 307.9h1.1v1.1h-1.1zM102 282.9h1.1v1.1h-1.1zM102 302.9h1.1v1.1h-1.1zM102 303.9h1.1v1.1h-1.1zM102 277.9h1.1v1.1h-1.1zM102 305.9h1.1v1.1h-1.1zM102 290.9h1.1v1.1h-1.1zM102 303.9h1.1v1.1h-1.1zM102 279.9h1.1v1.1h-1.1zM102 284.9h1.1v1.1h-1.1zM102 294.9h1.1v1.1h-1.1zM106 304.9h1.1v1.1h-1.1zM106 290.9h1.1v1.1h-1.1zM106 304.9h1.1v1.1h-1.1zM106 288.9h1.1v1.1h-1.1zM106 295.9h1.1v1.1h-1.1zM106 286.9h1.1v1.1h-1.1zM106 284.9h1.1v1.1h-1.1zM106 301.9h1.1v1.1h-1.1zM106 286.9h1.1v1.1h-1.1zM106 304.9h1.1v1.1h-1.1zM106 304.9h1.1v1.1h-1.1zM106 279.9h1.1v1.1h-1.1zM106 308.9h1.1v1.1h-1.1zM106 281.9h1.1v1.1h-1.1zM106 294.9h1.1v1.1h-1.1zM106 309.9h1.1v1.1h-1.1zM106 306.9h1.1v1.1h-1.1zM106 286.9h1.1v1.1h-1.1zM106 305.9h1.1v1.1h-1.1zM106 301.9h1.1v1.1h-1.1zM106 302.9h1.1v1.1h-1.1zM106 283.9h1.1v1.1h-1.1zM106 278.9h1.1v1.1h-1.1zM106 303.9h1.1v1.1h-1.1zM106 282.9h1.1v1.1h-1.1zM106 303.9h1.1v1.1h-1.1zM106 285.9h1.1v1.1h-1.1zM106 283.9h1.1v1.1h-1.1zM106 299.9h1.1v1.1h-1.1zM106 307.9h1.1v1.1h-1.1zM106 276.9h1.1v1.1h-1.1zM106 288.9h1.1v1.1h-1.1zM106 298.9h1.1v1.1h-1.1zM106 294.9h1.1v1.1h-1.1zM106 291.9h1.1v1.1h-1.1zM106 285.9h1.1v1.1h-1.1zM106 302.9h1.1v1.1h-1.1zM106 300.9h1.1v1.1h-1.1zM106 296.9h1.1v1.1h-1.1zM106 287.9h1.1v1.1h-1.1zM106 285.9h1.1v1.1h-1.1zM106 288.9h1.1v1.1h-1.1zM106 293.9h1.1v1.1h-1.1zM106 295.9h1.1v1.1h-1.1zM106 282.9h1.1v1.1h-1.1zM106 285.9h1.1v1.1h-1.1zM106 294.9h1.1v1.1h-1.1zM106 307.9h1.1v1.1h-1.1zM106 293.9h1.1v1.1h-1.1zM106 296.9h1.1v1.1h-1.1zM106 292.9h1.1v1.1h-1.1zM106 296.9h1.1v1.1h-1.1zM106 294.9h1.1v1.1h-1.1zM106 295.9h1.1v1.1h-1.1zM106 287.9h1.1v1.1h-1.1zM106 298.9h1.1v1.1h-1.1zM106 304.9h1.1v1.1h-1.1zM106 287.9h1.1v1.1h-1.1zM106 295.9h1.1v1.1h-1.1zM106 295.9h1.1v1.1h-1.1zM106 281.9h1.1v1.1h-1.1zM106 278.9h1.1v1.1h-1.1zM106 309.9h1.1v1.1h-1.1zM106 296.9h1.1v1.1h-1.1zM106 299.9h1.1v1.1h-1.1zM106 276.9h1.1v1.1h-1.1zM106 281.9h1.1v1.1h-1.1zM106 293.9h1.1v1.1h-1.1zM106 291.9h1.1v1.1h-1.1zM106 299.9h1.1v1.1h-1.1zM106 291.9h1.1v1.1h-1.1zM106 295.9h1.1v1.1h-1.1zM106 308.9h1.1v1.1h-1.1zM106 305.9h1.1v1.1h-1.1zM106 306.9h1.1v1.1h-1.1zM106 280.9h1.1v1.1h-1.1zM106 292.9h1.1v1.1h-1.1zM106 285.9h1.1v1.1h-1.1zM106 281.9h1.1v1.1h-1.1zM106 295.9h1.1v1.1h-1.1zM106 295.9h1.1v1.1h-1.1zM106 282.9h1.1v1.1h-1.1zM106 284.9h1.1v1.1h-1.1zM106 309.9h1.1v1.1h-1.1zM106 296.9h1.1v1.1h-1.1zM106 278.9h1.1v1.1h-1.1zM106 309.9h1.1v1.1h-1.1zM106 310.9h1.1v1.1h-1.1zM106 285.9h1.1v1.1h-1.1zM106 279.9h1.1v1.1h-1.1zM106 298.9h1.1v1.1h-1.1zM106 306.9h1.1v1.1h-1.1zM106 307.9h1.1v1.1h-1.1zM106 282.9h1.1v1.1h-1.1zM106 292.9h1.1v1.1h-1.1zM106 308.9h1.1v1.1h-1.1zM106 297.9h1.1v1.1h-1.1zM106 285.9h1.1v1.1h-1.1zM106 306.9h1.1v1.1h-1.1zM106 301.9h1.1v1.1h-1.1zM106 303.9h1.1v1.1h-1.1zM106 302.9h1.1v1.1h-1.1zM106 300.9h1.1v1.1h-1.1zM106 284.9h1.1v1.1h-1.1zM106 285.9h1.1v1.1h-1.1zM106 306.9h1.1v1.1h-1.1zM106 282.9h1.1v1.1h-1.1zM106 306.9h1.1v1.1h-1.1zM106 286.9h1.1v1.1h-1.1zM106 303.9h1.1v1.1h-1.1zM106 287.9h1.1v1.1h-1.1zM106 299.9h1.1v1.1h-1.1zM106 308.9h1.1v1.1h-1.1zM106 298.9h1.1v1.1h-1.1zM106 287.9h1.1v1.1h-1.1zM106 296.9h1.1v1.1h-1.1zM106 297.9h1.1v1.1h-1.1zM106 302.9h1.1v1.1h-1.1zM106 289.9h1.1v1.1h-1.1zM106 281.9h1.1v1.1h-1.1zM106 295.9h1.1v1.1h-1.1zM106 304.9h1.1v1.1h-1.1zM106 293.9h1.1v1.1h-1.1zM106 292.9h1.1v1.1h-1.1zM106 285.9h1.1v1.1h-1.1zM106 287.9h1.1v1.1h-1.1zM106 288.9h1.1v1.1h-1.1zM106 295.9h1.1v1.1h-1.1zM106 295.9h1.1v1.1h-1.1zM106 276.9h1.1v1.1h-1.1zM106 284.9h1.1v1.1h-1.1zM106 293.9h1.1v1.1h-1.1zM106 304.9h1.1v1.1h-1.1zM106 297.9h1.1v1.1h-1.1zM106 303.9h1.1v1.1h-1.1zM106 307.9h1.1v1.1h-1.1zM106 282.9h1.1v1.1h-1.1zM109 302.9h1.1v1.1h-1.1zM109 302.9h1.1v1.1h-1.1zM109 296.9h1.1v1.1h-1.1zM109 305.9h1.1v1.1h-1.1zM109 307.9h1.1v1.1h-1.1zM109 288.9h1.1v1.1h-1.1zM109 288.9h1.1v1.1h-1.1zM109 308.9h1.1v1.1h-1.1zM109 295.9h1.1v1.1h-1.1zM109 302.9h1.1v1.1h-1.1zM109 286.9h1.1v1.1h-1.1zM109 297.9h1.1v1.1h-1.1zM109 293.9h1.1v1.1h-1.1zM109 279.9h1.1v1.1h-1.1zM109 306.9h1.1v1.1h-1.1zM109 284.9h1.1v1.1h-1.1zM109 308.9h1.1v1.1h-1.1zM109 299.9h1.1v1.1h-1.1zM109 309.9h1.1v1.1h-1.1zM109 296.9h1.1v1.1h-1.1zM109 287.9h1.1v1.1h-1.1zM109 290.9h1.1v1.1h-1.1zM109 300.9h1.1v1.1h-1.1zM109 297.9h1.1v1.1h-1.1zM109 303.9h1.1v1.1h-1.1zM109 298.9h1.1v1.1h-1.1zM109 289.9h1.1v1.1h-1.1zM109 296.9h1.1v1.1h-1.1zM109 305.9h1.1v1.1h-1.1zM109 294.9h1.1v1.1h-1.1zM109 277.9h1.1v1.1h-1.1zM109 295.9h1.1v1.1h-1.1zM109 289.9h1.1v1.1h-1.1zM109 300.9h1.1v1.1h-1.1zM109 287.9h1.1v1.1h-1.1zM109 296.9h1.1v1.1h-1.1zM109 310.9h1.1v1.1h-1.1zM109 306.9h1.1v1.1h-1.1zM109 295.9h1.1v1.1h-1.1zM109 294.9h1.1v1.1h-1.1zM109 289.9h1.1v1.1h-1.1zM109 300.9h1.1v1.1h-1.1zM109 279.9h1.1v1.1h-1.1zM109 286.9h1.1v1.1h-1.1zM109 294.9h1.1v1.1h-1.1zM109 284.9h1.1v1.1h-1.1zM109 293.9h1.1v1.1h-1.1zM109 286.9h1.1v1.1h-1.1zM109 308.9h1.1v1.1h-1.1zM109 292.9h1.1v1.1h-1.1zM109 285.9h1.1v1.1h-1.1zM109 300.9h1.1v1.1h-1.1zM109 302.9h1.1v1.1h-1.1zM109 295.9h1.1v1.1h-1.1zM109 276.9h1.1v1.1h-1.1zM109 285.9h1.1v1.1h-1.1zM109 295.9h1.1v1.1h-1.1zM109 302.9h1.1v1.1h-1.1zM109 282.9h1.1v1.1h-1.1zM109 287.9h1.1v1.1h-1.1zM109 300.9h1.1v1.1h-1.1zM109 276.9h1.1v1.1h-1.1zM109 294.9h1.1v1.1h-1.1zM109 304.9h1.1v1.1h-1.1zM109 284.9h1.1v1.1h-1.1zM109 287.9h1.1v1.1h-1.1zM109 308.9h1.1v1.1h-1.1zM109 294.9h1.1v1.1h-1.1zM109 278.9h1.1v1.1h-1.1zM109 292.9h1.1v1.1h-1.1zM109 306.9h1.1v1.1h-1.1zM109 307.9h1.1v1.1h-1.1zM109 307.9h1.1v1.1h-1.1zM109 299.9h1.1v1.1h-1.1zM109 284.9h1.1v1.1h-1.1zM109 290.9h1.1v1.1h-1.1zM109 279.9h1.1v1.1h-1.1zM109 307.9h1.1v1.1h-1.1zM109 294.9h1.1v1.1h-1.1zM109 309.9h1.1v1.1h-1.1zM109 304.9h1.1v1.1h-1.1zM109 296.9h1.1v1.1h-1.1zM109 294.9h1.1v1.1h-1.1zM109 282.9h1.1v1.1h-1.1zM109 294.9h1.1v1.1h-1.1zM109 282.9h1.1v1.1h-1.1zM109 295.9h1.1v1.1h-1.1zM109 305.9h1.1v1.1h-1.1zM109 281.9h1.1v1.1h-1.1zM109 304.9h1.1v1.1h-1.1zM109 280.9h1.1v1.1h-1.1zM109 308.9h1.1v1.1h-1.1zM109 300.9h1.1v1.1h-1.1zM109 289.9h1.1v1.1h-1.1zM109 293.9h1.1v1.1h-1.1zM109 309.9h1.1v1.1h-1.1zM109 299.9h1.1v1.1h-1.1zM109 277.9h1.1v1.1h-1.1zM109 281.9h1.1v1.1h-1.1zM109 292.9h1.1v1.1h-1.1zM109 304.9h1.1v1.1h-1.1zM109 307.9h1.1v1.1h-1.1zM109 302.9h1.1v1.1h-1.1zM109 282.9h1.1v1.1h-1.1zM109 283.9h1.1v1.1h-1.1zM109 306.9h1.1v1.1h-1.1zM109 306.9h1.1v1.1h-1.1zM109 282.9h1.1v1.1h-1.1zM109 285.9h1.1v1.1h-1.1zM109 298.9h1.1v1.1h-1.1zM109 286.9h1.1v1.1h-1.1zM109 302.9h1.1v1.1h-1.1zM109 301.9h1.1v1.1h-1.1zM109 283.9h1.1v1.1h-1.1zM109 295.9h1.1v1.1h-1.1zM109 303.9h1.1v1.1h-1.1zM109 306.9h1.1v1.1h-1.1zM109 286.9h1.1v1.1h-1.1zM109 286.9h1.1v1.1h-1.1zM109 284.9h1.1v1.1h-1.1zM109 308.9h1.1v1.1h-1.1zM109 302.9h1.1v1.1h-1.1zM109 306.9h1.1v1.1h-1.1zM109 289.9h1.1v1.1h-1.1zM109 305.9h1.1v1.1h-1.1zM109 301.9h1.1v1.1h-1.1zM109 295.9h1.1v1.1h-1.1zM113 308.9h1.1v1.1h-1.1zM113 297.9h1.1v1.1h-1.1zM113 278.9h1.1v1.1h-1.1zM113 279.9h1.1v1.1h-1.1zM113 302.9h1.1v1.1h-1.1zM113 291.9h1.1v1.1h-1.1zM113 295.9h1.1v1.1h-1.1zM113 284.9h1.1v1.1h-1.1zM113 284.9h1.1v1.1h-1.1zM113 287.9h1.1v1.1h-1.1zM113 306.9h1.1v1.1h-1.1zM113 298.9h1.1v1.1h-1.1zM113 277.9h1.1v1.1h-1.1zM113 308.9h1.1v1.1h-1.1zM113 283.9h1.1v1.1h-1.1zM113 277.9h1.1v1.1h-1.1zM113 286.9h1.1v1.1h-1.1zM113 300.9h1.1v1.1h-1.1zM113 291.9h1.1v1.1h-1.1zM113 292.9h1.1v1.1h-1.1zM113 288.9h1.1v1.1h-1.1zM113 304.9h1.1v1.1h-1.1zM113 283.9h1.1v1.1h-1.1zM113 278.9h1.1v1.1h-1.1zM113 300.9h1.1v1.1h-1.1zM113 295.9h1.1v1.1h-1.1zM113 280.9h1.1v1.1h-1.1zM113 303.9h1.1v1.1h-1.1zM113 296.9h1.1v1.1h-1.1zM113 289.9h1.1v1.1h-1.1zM113 299.9h1.1v1.1h-1.1zM113 278.9h1.1v1.1h-1.1zM113 293.9h1.1v1.1h-1.1zM113 298.9h1.1v1.1h-1.1zM113 277.9h1.1v1.1h-1.1zM113 299.9h1.1v1.1h-1.1zM113 287.9h1.1v1.1h-1.1zM113 297.9h1.1v1.1h-1.1zM113 300.9h1.1v1.1h-1.1zM113 295.9h1.1v1.1h-1.1zM113 287.9h1.1v1.1h-1.1zM113 292.9h1.1v1.1h-1.1zM113 278.9h1.1v1.1h-1.1zM113 283.9h1.1v1.1h-1.1zM113 292.9h1.1v1.1h-1.1zM113 302.9h1.1v1.1h-1.1zM113 279.9h1.1v1.1h-1.1zM113 292.9h1.1v1.1h-1.1zM113 302.9h1.1v1.1h-1.1zM113 279.9h1.1v1.1h-1.1zM113 296.9h1.1v1.1h-1.1zM113 298.9h1.1v1.1h-1.1zM113 279.9h1.1v1.1h-1.1zM113 276.9h1.1v1.1h-1.1zM113 294.9h1.1v1.1h-1.1zM113 278.9h1.1v1.1h-1.1zM113 277.9h1.1v1.1h-1.1zM113 289.9h1.1v1.1h-1.1zM113 301.9h1.1v1.1h-1.1zM113 305.9h1.1v1.1h-1.1zM113 293.9h1.1v1.1h-1.1zM113 292.9h1.1v1.1h-1.1zM113 284.9h1.1v1.1h-1.1zM113 305.9h1.1v1.1h-1.1zM113 277.9h1.1v1.1h-1.1zM113 277.9h1.1v1.1h-1.1zM113 306.9h1.1v1.1h-1.1zM113 292.9h1.1v1.1h-1.1zM113 309.9h1.1v1.1h-1.1zM113 285.9h1.1v1.1h-1.1zM113 305.9h1.1v1.1h-1.1zM113 298.9h1.1v1.1h-1.1zM113 299.9h1.1v1.1h-1.1zM113 286.9h1.1v1.1h-1.1zM113 297.9h1.1v1.1h-1.1zM113 285.9h1.1v1.1h-1.1zM113 290.9h1.1v1.1h-1.1zM113 281.9h1.1v1.1h-1.1zM113 303.9h1.1v1.1h-1.1zM113 299.9h1.1v1.1h-1.1zM113 295.9h1.1v1.1h-1.1zM113 286.9h1.1v1.1h-1.1zM113 294.9h1.1v1.1h-1.1zM113 294.9h1.1v1.1h-1.1zM113 278.9h1.1v1.1h-1.1zM113 303.9h1.1v1.1h-1.1zM113 309.9h1.1v1.1h-1.1zM113 291.9h1.1v1.1h-1.1zM113 291.9h1.1v1.1h-1.1zM113 292.9h1.1v1.1h-1.1zM113 285.9h1.1v1.1h-1.1zM113 295.9h1.1v1.1h-1.1zM113 295.9h1.1v1.1h-1.1zM113 299.9h1.1v1.1h-1.1zM113 303.9h1.1v1.1h-1.1zM113 296.9h1.1v1.1h-1.1zM113 292.9h1.1v1.1h-1.1zM113 298.9h1.1v1.1h-1.1zM113 303.9h1.1v1.1h-1.1zM113 289.9h1.1v1.1h-1.1zM113 292.9h1.1v1.1h-1.1zM113 309.9h1.1v1.1h-1.1zM113 298.9h1.1v1.1h-1.1zM113 298.9h1.1v1.1h-1.1zM113 292.9h1.1v1.1h-1.1zM113 278.9h1.1v1.1h-1.1zM113 302.9h1.1v1.1h-1.1zM113 294.9h1.1v1.1h-1.1zM113 278.9h1.1v1.1h-1.1zM113 282.9h1.1v1.1h-1.1zM113 288.9h1.1v1.1h-1.1zM113 292.9h1.1v1.1h-1.1zM113 285.9h1.1v1.1h-1.1zM113 287.9h1.1v1.1h-1.1zM113 280.9h1.1v1.1h-1.1zM113 284.9h1.1v1.1h-1.1zM113 302.9h1.1v1.1h-1.1zM113 288.9h1.1v1.1h-1.1zM115 280.9h1.1v1.1h-1.1zM115 300.9h1.1v1.1h-1.1zM115 292.9h1.1v1.1h-1.1zM115 284.9h1.1v1.1h-1.1zM115 309.9h1.1v1.1h-1.1zM115 302.9h1.1v1.1h-1.1zM115 290.9h1.1v1.1h-1.1zM115 299.9h1.1v1.1h-1.1zM115 282.9h1.1v1.1h-1.1zM115 304.9h1.1v1.1h-1.1zM115 293.9h1.1v1.1h-1.1zM115 296.9h1.1v1.1h-1.1zM115 304.9h1.1v1.1h-1.1zM115 281.9h1.1v1.1h-1.1zM115 298.9h1.1v1.1h-1.1zM115 307.9h1.1v1.1h-1.1zM115 300.9h1.1v1.1h-1.1zM115 284.9h1.1v1.1h-1.1zM115 287.9h1.1v1.1h-1.1zM115 304.9h1.1v1.1h-1.1zM115 295.9h1.1v1.1h-1.1zM115 302.9h1.1v1.1h-1.1zM115 300.9h1.1v1.1h-1.1zM115 284.9h1.1v1.1h-1.1zM115 302.9h1.1v1.1h-1.1zM115 309.9h1.1v1.1h-1.1zM115 291.9h1.1v1.1h-1.1zM115 304.9h1.1v1.1h-1.1zM115 293.9h1.1v1.1h-1.1zM115 294.9h1.1v1.1h-1.1zM115 302.9h1.1v1.1h-1.1zM115 303.9h1.1v1.1h-1.1zM115 281.9h1.1v1.1h-1.1zM115 306.9h1.1v1.1h-1.1zM115 280.9h1.1v1.1h-1.1zM115 291.9h1.1v1.1h-1.1zM115 288.9h1.1v1.1h-1.1zM115 286.9h1.1v1.1h-1.1zM115 283.9h1.1v1.1h-1.1zM115 299.9h1.1v1.1h-1.1zM115 306.9h1.1v1.1h-1.1zM115 302.9h1.1v1.1h-1.1zM115 292.9h1.1v1.1h-1.1zM115 293.9h1.1v1.1h-1.1zM115 292.9h1.1v1.1h-1.1zM115 304.9h1.1v1.1h-1.1zM115 295.9h1.1v1.1h-1.1zM115 300.9h1.1v1.1h-1.1zM115 309.9h1.1v1.1h-1.1zM115 286.9h1.1v1.1h-1.1zM115 295.9h1.1v1.1h-1.1zM115 303.9h1.1v1.1h-1.1zM115 277.9h1.1v1.1h-1.1zM115 296.9h1.1v1.1h-1.1zM115 296.9h1.1v1.1h-1.1zM115 294.9h1.1v1.1h-1.1zM115 305.9h1.1v1.1h-1.1zM115 306.9h1.1v1.1h-1.1zM115 299.9h1.1v1.1h-1.1zM115 284.9h1.1v1.1h-1.1zM115 277.9h1.1v1.1h-1.1zM115 295.9h1.1v1.1h-1.1zM115 296.9h1.1v1.1h-1.1zM115 302.9h1.1v1.1h-1.1zM115 307.9h1.1v1.1h-1.1zM115 283.9h1.1v1.1h-1.1zM115 286.9h1.1v1.1h-1.1zM115 301.9h1.1v1.1h-1.1zM115 296.9h1.1v1.1h-1.1zM115 278.9h1.1v1.1h-1.1zM115 303.9h1.1v1.1h-1.1zM115 302.9h1.1v1.1h-1.1zM115 296.9h1.1v1.1h-1.1zM115 285.9h1.1v1.1h-1.1zM115 292.9h1.1v1.1h-1.1zM115 302.9h1.1v1.1h-1.1zM115 309.9h1.1v1.1h-1.1zM115 292.9h1.1v1.1h-1.1zM115 295.9h1.1v1.1h-1.1zM115 308.9h1.1v1.1h-1.1zM115 288.9h1.1v1.1h-1.1zM115 304.9h1.1v1.1h-1.1zM115 288.9h1.1v1.1h-1.1zM115 304.9h1.1v1.1h-1.1zM115 291.9h1.1v1.1h-1.1zM115 279.9h1.1v1.1h-1.1zM115 308.9h1.1v1.1h-1.1zM115 290.9h1.1v1.1h-1.1zM115 299.9h1.1v1.1h-1.1zM115 294.9h1.1v1.1h-1.1zM115 309.9h1.1v1.1h-1.1zM115 308.9h1.1v1.1h-1.1zM115 281.9h1.1v1.1h-1.1zM115 296.9h1.1v1.1h-1.1zM115 306.9h1.1v1.1h-1.1zM115 296.9h1.1v1.1h-1.1zM115 288.9h1.1v1.1h-1.1zM115 309.9h1.1v1.1h-1.1zM115 282.9h1.1v1.1h-1.1zM115 298.9h1.1v1.1h-1.1zM115 302.9h1.1v1.1h-1.1zM115 281.9h1.1v1.1h-1.1zM115 294.9h1.1v1.1h-1.1zM115 306.9h1.1v1.1h-1.1zM115 304.9h1.1v1.1h-1.1zM115 286.9h1.1v1.1h-1.1zM115 291.9h1.1v1.1h-1.1zM115 295.9h1.1v1.1h-1.1zM115 285.9h1.1v1.1h-1.1zM115 299.9h1.1v1.1h-1.1zM118 304.9h1.1v1.1h-1.1zM118 288.9h1.1v1.1h-1.1zM118 303.9h1.1v1.1h-1.1zM118 300.9h1.1v1.1h-1.1zM118 308.9h1.1v1.1h-1.1zM118 288.9h1.1v1.1h-1.1zM118 287.9h1.1v1.1h-1.1zM118 281.9h1.1v1.1h-1.1zM118 304.9h1.1v1.1h-1.1zM118 284.9h1.1v1.1h-1.1zM118 301.9h1.1v1.1h-1.1zM118 293.9h1.1v1.1h-1.1zM118 292.9h1.1v1.1h-1.1zM118 285.9h1.1v1.1h-1.1zM118 306.9h1.1v1.1h-1.1zM118 296.9h1.1v1.1h-1.1zM118 283.9h1.1v1.1h-1.1zM118 301.9h1.1v1.1h-1.1zM118 308.9h1.1v1.1h-1.1zM118 294.9h1.1v1.1h-1.1zM118 299.9h1.1v1.1h-1.1zM118 283.9h1.1v1.1h-1.1zM118 293.9h1.1v1.1h-1.1zM118 286.9h1.1v1.1h-1.1zM118 286.9h1.1v1.1h-1.1zM118 307.9h1.1v1.1h-1.1zM118 287.9h1.1v1.1h-1.1zM118 296.9h1.1v1.1h-1.1zM118 294.9h1.1v1.1h-1.1zM118 288.9h1.1v1.1h-1.1zM118 296.9h1.1v1.1h-1.1zM118 307.9h1.1v1.1h-1.1zM118 289.9h1.1v1.1h-1.1zM118 288.9h1.1v1.1h-1.1zM118 277.9h1.1v1.1h-1.1zM118 278.9h1.1v1.1h-1.1zM118 308.9h1.1v1.1h-1.1zM118 287.9h1.1v1.1h-1.1zM118 307.9h1.1v1.1h-1.1zM118 286.9h1.1v1.1h-1.1zM118 277.9h1.1v1.1h-1.1zM118 297.9h1.1v1.1h-1.1zM118 281.9h1.1v1.1h-1.1zM118 286.9h1.1v1.1h-1.1zM118 293.9h1.1v1.1h-1.1zM118 279.9h1.1v1.1h-1.1zM118 300.9h1.1v1.1h-1.1zM118 299.9h1.1v1.1h-1.1zM118 283.9h1.1v1.1h-1.1zM118 296.9h1.1v1.1h-1.1zM118 306.9h1.1v1.1h-1.1zM118 290.9h1.1v1.1h-1.1zM118 289.9h1.1v1.1h-1.1zM118 297.9h1.1v1.1h-1.1zM118 301.9h1.1v1.1h-1.1zM118 300.9h1.1v1.1h-1.1zM118 283.9h1.1v1.1h-1.1zM118 289.9h1.1v1.1h-1.1zM118 306.9h1.1v1.1h-1.1zM118 279.9h1.1v1.1h-1.1zM118 296.9h1.1v1.1h-1.1zM118 290.9h1.1v1.1h-1.1zM118 277.9h1.1v1.1h-1.1zM118 298.9h1.1v1.1h-1.1zM118 287.9h1.1v1.1h-1.1zM118 291.9h1.1v1.1h-1.1zM118 289.9h1.1v1.1h-1.1zM118 296.9h1.1v1.1h-1.1zM118 283.9h1.1v1.1h-1.1zM118 293.9h1.1v1.1h-1.1zM118 295.9h1.1v1.1h-1.1zM118 289.9h1.1v1.1h-1.1zM118 287.9h1.1v1.1h-1.1zM118 304.9h1.1v1.1h-1.1zM118 299.9h1.1v1.1h-1.1zM118 299.9h1.1v1.1h-1.1zM118 292.9h1.1v1.1h-1.1zM118 276.9h1.1v1.1h-1.1zM118 280.9h1.1v1.1h-1.1zM118 296.9h1.1v1.1h-1.1zM118 296.9h1.1v1.1h-1.1zM118 302.9h1.1v1.1h-1.1zM118 284.9h1.1v1.1h-1.1zM118 297.9h1.1v1.1h-1.1zM118 304.9h1.1v1.1h-1.1zM118 283.9h1.1v1.1h-1.1zM118 286.9h1.1v1.1h-1.1zM118 298.9h1.1v1.1h-1.1zM118 283.9h1.1v1.1h-1.1zM118 288.9h1.1v1.1h-1.1zM118 290.9h1.1v1.1h-1.1zM118 278.9h1.1v1.1h-1.1zM118 298.9h1.1v1.1h-1.1zM118 290.9h1.1v1.1h-1.1zM118 290.9h1.1v1.1h-1.1zM118 298.9h1.1v1.1h-1.1zM118 279.9h1.1v1.1h-1.1zM118 293.9h1.1v1.1h-1.1zM118 294.9h1.1v1.1h-1.1zM118 309.9h1.1v1.1h-1.1zM118 295.9h1.1v1.1h-1.1zM118 279.9h1.1v1.1h-1.1zM118 309.9h1.1v1.1h-1.1zM120 288.9h1.1v1.1h-1.1zM120 307.9h1.1v1.1h-1.1zM120 292.9h1.1v1.1h-1.1zM120 285.9h1.1v1.1h-1.1zM120 308.9h1.1v1.1h-1.1zM120 285.9h1.1v1.1h-1.1zM120 306.9h1.1v1.1h-1.1zM120 298.9h1.1v1.1h-1.1zM120 300.9h1.1v1.1h-1.1zM120 293.9h1.1v1.1h-1.1zM120 286.9h1.1v1.1h-1.1zM120 288.9h1.1v1.1h-1.1zM120 294.9h1.1v1.1h-1.1zM120 307.9h1.1v1.1h-1.1zM120 281.9h1.1v1.1h-1.1zM120 294.9h1.1v1.1h-1.1zM120 279.9h1.1v1.1h-1.1zM120 310.9h1.1v1.1h-1.1zM120 279.9h1.1v1.1h-1.1zM120 287.9h1.1v1.1h-1.1zM120 295.9h1.1v1.1h-1.1zM120 292.9h1.1v1.1h-1.1zM120 297.9h1.1v1.1h-1.1zM120 301.9h1.1v1.1h-1.1zM120 290.9h1.1v1.1h-1.1zM120 306.9h1.1v1.1h-1.1zM120 305.9h1.1v1.1h-1.1zM120 289.9h1.1v1.1h-1.1zM120 278.9h1.1v1.1h-1.1zM120 276.9h1.1v1.1h-1.1zM120 294.9h1.1v1.1h-1.1zM120 283.9h1.1v1.1h-1.1zM120 298.9h1.1v1.1h-1.1zM120 276.9h1.1v1.1h-1.1zM120 298.9h1.1v1.1h-1.1zM120 301.9h1.1v1.1h-1.1zM120 297.9h1.1v1.1h-1.1zM120 290.9h1.1v1.1h-1.1zM120 300.9h1.1v1.1h-1.1zM120 304.9h1.1v1.1h-1.1zM120 281.9h1.1v1.1h-1.1zM120 307.9h1.1v1.1h-1.1zM120 295.9h1.1v1.1h-1.1zM120 299.9h1.1v1.1h-1.1zM120 292.9h1.1v1.1h-1.1zM120 290.9h1.1v1.1h-1.1zM120 295.9h1.1v1.1h-1.1zM120 300.9h1.1v1.1h-1.1zM120 309.9h1.1v1.1h-1.1zM120 290.9h1.1v1.1h-1.1zM120 280.9h1.1v1.1h-1.1zM120 292.9h1.1v1.1h-1.1zM120 287.9h1.1v1.1h-1.1zM120 300.9h1.1v1.1h-1.1zM120 284.9h1.1v1.1h-1.1zM120 300.9h1.1v1.1h-1.1zM120 286.9h1.1v1.1h-1.1zM120 298.9h1.1v1.1h-1.1zM120 306.9h1.1v1.1h-1.1zM120 286.9h1.1v1.1h-1.1zM120 278.9h1.1v1.1h-1.1zM120 296.9h1.1v1.1h-1.1zM120 278.9h1.1v1.1h-1.1zM120 279.9h1.1v1.1h-1.1zM120 281.9h1.1v1.1h-1.1zM120 292.9h1.1v1.1h-1.1zM120 283.9h1.1v1.1h-1.1zM120 289.9h1.1v1.1h-1.1zM120 280.9h1.1v1.1h-1.1zM120 304.9h1.1v1.1h-1.1zM120 296.9h1.1v1.1h-1.1zM120 303.9h1.1v1.1h-1.1zM120 299.9h1.1v1.1h-1.1zM120 309.9h1.1v1.1h-1.1zM120 294.9h1.1v1.1h-1.1zM120 293.9h1.1v1.1h-1.1zM120 294.9h1.1v1.1h-1.1zM120 304.9h1.1v1.1h-1.1zM120 308.9h1.1v1.1h-1.1zM120 276.9h1.1v1.1h-1.1zM120 294.9h1.1v1.1h-1.1zM120 307.9h1.1v1.1h-1.1zM120 302.9h1.1v1.1h-1.1zM120 284.9h1.1v1.1h-1.1zM120 307.9h1.1v1.1h-1.1zM120 287.9h1.1v1.1h-1.1zM120 299.9h1.1v1.1h-1.1zM120 279.9h1.1v1.1h-1.1zM120 303.9h1.1v1.1h-1.1zM120 281.9h1.1v1.1h-1.1zM120 299.9h1.1v1.1h-1.1zM120 277.9h1.1v1.1h-1.1zM120 283.9h1.1v1.1h-1.1zM120 286.9h1.1v1.1h-1.1zM120 284.9h1.1v1.1h-1.1zM120 303.9h1.1v1.1h-1.1zM123 286.9h1.1v1.1h-1.1zM123 281.9h1.1v1.1h-1.1zM123 290.9h1.1v1.1h-1.1zM123 279.9h1.1v1.1h-1.1zM123 297.9h1.1v1.1h-1.1zM123 304.9h1.1v1.1h-1.1zM123 298.9h1.1v1.1h-1.1zM123 289.9h1.1v1.1h-1.1zM123 282.9h1.1v1.1h-1.1zM123 288.9h1.1v1.1h-1.1zM123 284.9h1.1v1.1h-1.1zM123 280.9h1.1v1.1h-1.1zM123 290.9h1.1v1.1h-1.1zM123 283.9h1.1v1.1h-1.1zM123 288.9h1.1v1.1h-1.1zM123 289.9h1.1v1.1h-1.1zM123 280.9h1.1v1.1h-1.1zM123 278.9h1.1v1.1h-1.1zM123 282.9h1.1v1.1h-1.1zM123 286.9h1.1v1.1h-1.1zM123 292.9h1.1v1.1h-1.1zM123 283.9h1.1v1.1h-1.1zM123 279.9h1.1v1.1h-1.1zM123 293.9h1.1v1.1h-1.1zM123 294.9h1.1v1.1h-1.1zM123 278.9h1.1v1.1h-1.1zM123 292.9h1.1v1.1h-1.1zM123 277.9h1.1v1.1h-1.1zM123 287.9h1.1v1.1h-1.1zM123 294.9h1.1v1.1h-1.1zM123 281.9h1.1v1.1h-1.1zM123 280.9h1.1v1.1h-1.1zM123 279.9h1.1v1.1h-1.1zM123 283.9h1.1v1.1h-1.1zM123 279.9h1.1v1.1h-1.1zM123 278.9h1.1v1.1h-1.1zM123 282.9h1.1v1.1h-1.1zM123 278.9h1.1v1.1h-1.1zM123 286.9h1.1v1.1h-1.1zM123 281.9h1.1v1.1h-1.1zM123 288.9h1.1v1.1h-1.1zM123 276.9h1.1v1.1h-1.1zM123 281.9h1.1v1.1h-1.1zM123 283.9h1.1v1.1h-1.1zM123 295.9h1.1v1.1h-1.1zM123 295.9h1.1v1.1h-1.1zM123 293.9h1.1v1.1h-1.1zM123 285.9h1.1v1.1h-1.1zM123 287.9h1.1v1.1h-1.1zM123 287.9h1.1v1.1h-1.1zM123 284.9h1.1v1.1h-1.1zM123 284.9h1.1v1.1h-1.1zM123 290.9h1.1v1.1h-1.1zM123 277.9h1.1v1.1h-1.1zM123 297.9h1.1v1.1h-1.1zM123 297.9h1.1v1.1h-1.1zM123 294.9h1.1v1.1h-1.1zM123 280.9h1.1v1.1h-1.1zM123 288.9h1.1v1.1h-1.1zM125 279.9h1.1v1.1h-1.1zM125 285.9h1.1v1.1h-1.1zM125 296.9h1.1v1.1h-1.1zM125 278.9h1.1v1.1h-1.1zM125 278.9h1.1v1.1h-1.1zM125 287.9h1.1v1.1h-1.1zM125 293.9h1.1v1.1h-1.1zM125 279.9h1.1v1.1h-1.1zM125 280.9h1.1v1.1h-1.1zM125 282.9h1.1v1.1h-1.1zM125 276.9h1.1v1.1h-1.1zM125 287.9h1.1v1.1h-1.1zM125 280.9h1.1v1.1h-1.1zM125 288.9h1.1v1.1h-1.1zM125 283.9h1.1v1.1h-1.1zM125 279.9h1.1v1.1h-1.1zM125 280.9h1.1v1.1h-1.1zM125 298.9h1.1v1.1h-1.1zM125 295.9h1.1v1.1h-1.1zM125 288.9h1.1v1.1h-1.1zM125 290.9h1.1v1.1h-1.1zM125 285.9h1.1v1.1h-1.1zM125 277.9h1.1v1.1h-1.1zM125 279.9h1.1v1.1h-1.1zM125 286.9h1.1v1.1h-1.1zM125 282.9h1.1v1.1h-1.1zM125 278.9h1.1v1.1h-1.1zM125 290.9h1.1v1.1h-1.1zM125 277.9h1.1v1.1h-1.1zM125 281.9h1.1v1.1h-1.1zM125 276.9h1.1v1.1h-1.1zM125 293.9h1.1v1.1h-1.1zM125 281.9h1.1v1.1h-1.1zM125 278.9h1.1v1.1h-1.1zM125 288.9h1.1v1.1h-1.1zM125 278.9h1.1v1.1h-1.1zM125 300.9h1.1v1.1h-1.1zM125 277.9h1.1v1.1h-1.1zM125 279.9h1.1v1.1h-1.1zM125 285.9h1.1v1.1h-1.1zM125 285.9h1.1v1.1h-1.1zM125 284.9h1.1v1.1h-1.1zM125 289.9h1.1v1.1h-1.1zM125 295.9h1.1v1.1h-1.1zM125 280.9h1.1v1.1h-1.1zM125 305.9h1.1v1.1h-1.1zM125 281.9h1.1v1.1h-1.1zM125 293.9h1.1v1.1h-1.1zM127 282.9h1.1v1.1h-1.1zM127 279.9h1.1v1.1h-1.1zM127 289.9h1.1v1.1h-1.1zM127 289.9h1.1v1.1h-1.1zM127 280.9h1.1v1.1h-1.1zM127 278.9h1.1v1.1h-1.1zM127 294.9h1.1v1.1h-1.1zM127 277.9h1.1v1.1h-1.1zM127 278.9h1.1v1.1h-1.1zM127 294.9h1.1v1.1h-1.1zM127 282.9h1.1v1.1h-1.1zM127 278.9h1.1v1.1h-1.1zM127 288.9h1.1v1.1h-1.1zM127 279.9h1.1v1.1h-1.1zM127 280.9h1.1v1.1h-1.1zM127 277.9h1.1v1.1h-1.1zM127 281.9h1.1v1.1h-1.1zM127 278.9h1.1v1.1h-1.1zM127 281.9h1.1v1.1h-1.1zM127 289.9h1.1v1.1h-1.1zM127 284.9h1.1v1.1h-1.1zM127 287.9h1.1v1.1h-1.1zM127 279.9h1.1v1.1h-1.1zM127 285.9h1.1v1.1h-1.1zM127 292.9h1.1v1.1h-1.1zM127 279.9h1.1v1.1h-1.1zM127 284.9h1.1v1.1h-1.1zM127 281.9h1.1v1.1h-1.1zM127 280.9h1.1v1.1h-1.1zM127 283.9h1.1v1.1h-1.1zM127 277.9h1.1v1.1h-1.1zM127 277.9h1.1v1.1h-1.1zM127 277.9h1.1v1.1h-1.1zM127 284.9h1.1v1.1h-1.1zM127 278.9h1.1v1.1h-1.1zM127 280.9h1.1v1.1h-1.1zM127 286.9h1.1v1.1h-1.1zM127 284.9h1.1v1.1h-1.1zM128 277.9h1.1v1.1h-1.1zM128 285.9h1.1v1.1h-1.1zM128 284.9h1.1v1.1h-1.1zM128 293.9h1.1v1.1h-1.1zM128 278.9h1.1v1.1h-1.1zM128 278.9h1.1v1.1h-1.1zM128 281.9h1.1v1.1h-1.1zM128 284.9h1.1v1.1h-1.1zM128 279.9h1.1v1.1h-1.1zM128 282.9h1.1v1.1h-1.1zM128 286.9h1.1v1.1h-1.1zM128 290.9h1.1v1.1h-1.1zM128 277.9h1.1v1.1h-1.1zM128 287.9h1.1v1.1h-1.1zM128 289.9h1.1v1.1h-1.1zM128 277.9h1.1v1.1h-1.1zM128 279.9h1.1v1.1h-1.1zM128 282.9h1.1v1.1h-1.1zM128 280.9h1.1v1.1h-1.1zM128 288.9h1.1v1.1h-1.1zM128 279.9h1.1v1.1h-1.1zM128 280.9h1.1v1.1h-1.1zM128 283.9h1.1v1.1h-1.1zM128 287.9h1.1v1.1h-1.1zM128 276.9h1.1v1.1h-1.1zM128 290.9h1.1v1.1h-1.1zM128 277.9h1.1v1.1h-1.1zM128 276.9h1.1v1.1h-1.1zM128 286.9h1.1v1.1h-1.1zM128 286.9h1.1v1.1h-1.1zM129.9 277.9h1.1v1.1h-1.1zM129.9 280.9h1.1v1.1h-1.1zM129.9 282.9h1.1v1.1h-1.1zM129.9 290.9h1.1v1.1h-1.1zM129.9 279.9h1.1v1.1h-1.1zM129.9 283.9h1.1v1.1h-1.1zM129.9 284.9h1.1v1.1h-1.1zM129.9 279.9h1.1v1.1h-1.1zM129.9 283.9h1.1v1.1h-1.1zM129.9 282.9h1.1v1.1h-1.1zM129.9 285.9h1.1v1.1h-1.1zM129.9 279.9h1.1v1.1h-1.1zM129.9 290.9h1.1v1.1h-1.1zM129.9 276.9h1.1v1.1h-1.1zM129.9 281.9h1.1v1.1h-1.1zM129.9 281.9h1.1v1.1h-1.1zM129.9 281.9h1.1v1.1h-1.1zM129.9 284.9h1.1v1.1h-1.1zM129.9 300.9h1.1v1.1h-1.1zM129.9 287.9h1.1v1.1h-1.1zM129.9 279.9h1.1v1.1h-1.1zM129.9 289.9h1.1v1.1h-1.1zM129.9 286.9h1.1v1.1h-1.1zM129.9 281.9h1.1v1.1h-1.1zM131.9 278.9h1.1v1.1h-1.1zM131.9 284.9h1.1v1.1h-1.1zM131.9 278.9h1.1v1.1h-1.1zM131.9 280.9h1.1v1.1h-1.1zM131.9 285.9h1.1v1.1h-1.1zM131.9 286.9h1.1v1.1h-1.1zM131.9 284.9h1.1v1.1h-1.1zM131.9 276.9h1.1v1.1h-1.1zM131.9 288.9h1.1v1.1h-1.1zM131.9 290.9h1.1v1.1h-1.1zM131.9 286.9h1.1v1.1h-1.1zM131.9 287.9h1.1v1.1h-1.1zM131.9 278.9h1.1v1.1h-1.1zM131.9 280.9h1.1v1.1h-1.1zM131.9 284.9h1.1v1.1h-1.1zM131.9 280.9h1.1v1.1h-1.1zM131.9 280.9h1.1v1.1h-1.1zM131.9 278.9h1.1v1.1h-1.1zM131.9 281.9h1.1v1.1h-1.1zM132.9 277.9h1.1v1.1h-1.1zM132.9 278.9h1.1v1.1h-1.1zM132.9 278.9h1.1v1.1h-1.1zM132.9 291.9h1.1v1.1h-1.1zM132.9 282.9h1.1v1.1h-1.1zM132.9 278.9h1.1v1.1h-1.1zM132.9 289.9h1.1v1.1h-1.1zM132.9 282.9h1.1v1.1h-1.1zM132.9 276.9h1.1v1.1h-1.1zM132.9 281.9h1.1v1.1h-1.1zM132.9 282.9h1.1v1.1h-1.1zM132.9 277.9h1.1v1.1h-1.1zM132.9 280.9h1.1v1.1h-1.1zM132.9 280.9h1.1v1.1h-1.1zM132.9 278.9h1.1v1.1h-1.1zM134.9 282.9h1.1v1.1h-1.1zM134.9 277.9h1.1v1.1h-1.1zM134.9 278.9h1.1v1.1h-1.1zM134.9 282.9h1.1v1.1h-1.1zM134.9 280.9h1.1v1.1h-1.1zM134.9 280.9h1.1v1.1h-1.1zM134.9 278.9h1.1v1.1h-1.1zM134.9 280.9h1.1v1.1h-1.1zM134.9 279.9h1.1v1.1h-1.1zM134.9 279.9h1.1v1.1h-1.1zM134.9 281.9h1.1v1.1h-1.1zM134.9 288.9h1.1v1.1h-1.1zM135.9 283.9h1.1v1.1h-1.1zM135.9 279.9h1.1v1.1h-1.1zM135.9 283.9h1.1v1.1h-1.1zM135.9 284.9h1.1v1.1h-1.1zM135.9 276.9h1.1v1.1h-1.1zM135.9 280.9h1.1v1.1h-1.1zM135.9 276.9h1.1v1.1h-1.1zM135.9 281.9h1.1v1.1h-1.1zM135.9 277.9h1.1v1.1h-1.1zM135.9 284.9h1.1v1.1h-1.1zM136.9 279.9h1.1v1.1h-1.1zM136.9 280.9h1.1v1.1h-1.1zM136.9 279.9h1.1v1.1h-1.1zM136.9 284.9h1.1v1.1h-1.1zM136.9 278.9h1.1v1.1h-1.1zM136.9 277.9h1.1v1.1h-1.1zM136.9 277.9h1.1v1.1h-1.1zM136.9 280.9h1.1v1.1h-1.1zM138.9 281.9h1.1v1.1h-1.1zM138.9 278.9h1.1v1.1h-1.1zM138.9 287.9h1.1v1.1h-1.1zM138.9 280.9h1.1v1.1h-1.1zM138.9 278.9h1.1v1.1h-1.1zM138.9 278.9h1.1v1.1h-1.1zM139.9 276.9h1.1v1.1h-1.1zM139.9 281.9h1.1v1.1h-1.1zM139.9 279.9h1.1v1.1h-1.1zM139.9 278.9h1.1v1.1h-1.1zM139.9 280.9h1.1v1.1h-1.1zM140.9 277.9h1.1v1.1h-1.1zM140.9 277.9h1.1v1.1h-1.1zM140.9 282.9h1.1v1.1h-1.1zM140.9 276.9h1.1v1.1h-1.1zM141.9 276.9h1.1v1.1h-1.1zM141.9 277.9h1.1v1.1h-1.1zM141.9 281.9h1.1v1.1h-1.1zM142.9 282.9h1.1v1.1h-1.1zM142.9 280.9h1.1v1.1h-1.1zM143.9 276.9h1.1v1.1h-1.1zM143.9 277.9h1.1v1.1h-1.1zM144.9 278.9h1.1v1.1h-1.1zM145.9 279.9h1.1v1.1h-1.1zM146.9 277.9h1.1v1.1h-1.1zM148.9 278.9h1.1v1.1h-1.1zM156.9 279.9h1.1v1.1h-1.1zM129.9 290.9h1.1v1.1h-1.1zM135.9 288.9h1.1v1.1h-1.1zM121 301.9h1.1v1.1h-1.1zM120 306.9h1.1v1.1h-1.1zM127 295.9h1.1v1.1h-1.1z" fill="#fcb116"/><line x1="37.5" y1="311.32" x2="193.4" y2="311.32" stroke="#1e1e1e" stroke-width="1.1" stroke-dasharray="2.9 1.5"/><line x1="37.5" y1="412.48" x2="193.4" y2="412.48" stroke="#1e1e1e" stroke-width="1.1" stroke-dasharray="2.9 1.5"/><line x1="85.9" y1="243.8" x2="85.9" y2="446.2" stroke="#1e1e1e" stroke-width="1.2" stroke-dasharray="2.9 1.5"/><text x="0" y="246.3" font-size="10" text-anchor="start" font-weight="bold" fill="#111">d</text><line x1="491.5" y1="29.2" x2="491.5" y2="109" stroke="#858585" stroke-width="1"/><line x1="488.5" y1="109" x2="491.5" y2="109" stroke="#7c7c7c" stroke-width="0.8"/><text transform="translate(484.9 111.5) scale(0.93 1)" font-size="9.3" text-anchor="end" fill="#1a1a1a">0</text><line x1="488.5" y1="82.5" x2="491.5" y2="82.5" stroke="#7c7c7c" stroke-width="0.8"/><text transform="translate(484.9 85) scale(0.93 1)" font-size="9.3" text-anchor="end" fill="#1a1a1a">0.2</text><line x1="488.5" y1="55.7" x2="491.5" y2="55.7" stroke="#7c7c7c" stroke-width="0.8"/><text transform="translate(484.9 58.2) scale(0.93 1)" font-size="9.3" text-anchor="end" fill="#1a1a1a">0.4</text><line x1="488.5" y1="29.2" x2="491.5" y2="29.2" stroke="#7c7c7c" stroke-width="0.8"/><text transform="translate(484.9 31.7) scale(0.93 1)" font-size="9.3" text-anchor="end" fill="#1a1a1a">0.6</text><line x1="488.7" y1="109.5" x2="561.7" y2="109.5" stroke="#858585" stroke-width="1"/><rect x="495.3" y="98.5" width="5.7" height="10.5" fill="#3c7da2"/><rect x="513.2" y="107" width="5.7" height="2" fill="#3c7da2"/><rect x="519.4" y="90.6" width="5.7" height="18.4" fill="#3c7da2"/><rect x="525.5" y="74" width="5.6" height="35" fill="#3c7da2"/><rect x="531.7" y="37.2" width="5.5" height="71.8" fill="#3c7da2"/><rect x="537.7" y="33.4" width="5.3" height="75.6" fill="#3c7da2"/><rect x="543.8" y="80.2" width="5.2" height="28.8" fill="#3c7da2"/><rect x="550" y="103.8" width="5.3" height="5.2" fill="#3c7da2"/><line x1="494.7" y1="109" x2="494.7" y2="112" stroke="#7c7c7c" stroke-width="0.8"/><line x1="552.5" y1="109" x2="552.5" y2="112" stroke="#7c7c7c" stroke-width="0.8"/><line x1="594.5" y1="29.2" x2="594.5" y2="109" stroke="#858585" stroke-width="1"/><line x1="591.5" y1="109" x2="594.5" y2="109" stroke="#7c7c7c" stroke-width="0.8"/><text transform="translate(587.9 111.5) scale(0.93 1)" font-size="9.3" text-anchor="end" fill="#1a1a1a">0</text><line x1="591.5" y1="81.5" x2="594.5" y2="81.5" stroke="#7c7c7c" stroke-width="0.8"/><text transform="translate(587.9 84) scale(0.93 1)" font-size="9.3" text-anchor="end" fill="#1a1a1a">0.2</text><line x1="591.5" y1="54.7" x2="594.5" y2="54.7" stroke="#7c7c7c" stroke-width="0.8"/><text transform="translate(587.9 57.2) scale(0.93 1)" font-size="9.3" text-anchor="end" fill="#1a1a1a">0.4</text><line x1="592.4" y1="109.5" x2="664.6" y2="109.5" stroke="#858585" stroke-width="1"/><rect x="598.6" y="97.7" width="5.4" height="11.3" fill="#fcb116"/><rect x="617.5" y="104.7" width="5.5" height="4.3" fill="#fcb116"/><rect x="623.9" y="95.8" width="5.3" height="13.2" fill="#fcb116"/><rect x="630" y="78.9" width="5.8" height="30.1" fill="#fcb116"/><rect x="636.7" y="40.6" width="5.3" height="68.4" fill="#fcb116"/><rect x="642.7" y="33" width="5.9" height="76" fill="#fcb116"/><rect x="649.5" y="72.6" width="5.5" height="36.4" fill="#fcb116"/><rect x="656" y="103.8" width="5.6" height="5.2" fill="#fcb116"/><line x1="598.6" y1="109" x2="598.6" y2="112" stroke="#7c7c7c" stroke-width="0.8"/><line x1="655.6" y1="109" x2="655.6" y2="112" stroke="#7c7c7c" stroke-width="0.8"/><line x1="491.5" y1="127.9" x2="491.5" y2="207.5" stroke="#858585" stroke-width="1"/><line x1="488.5" y1="207.5" x2="491.5" y2="207.5" stroke="#7c7c7c" stroke-width="0.8"/><text transform="translate(484.9 210) scale(0.93 1)" font-size="9.3" text-anchor="end" fill="#1a1a1a">0</text><line x1="488.5" y1="176.4" x2="491.5" y2="176.4" stroke="#7c7c7c" stroke-width="0.8"/><text transform="translate(484.9 178.9) scale(0.93 1)" font-size="9.3" text-anchor="end" fill="#1a1a1a">1</text><line x1="488.5" y1="145.3" x2="491.5" y2="145.3" stroke="#7c7c7c" stroke-width="0.8"/><text transform="translate(484.9 147.8) scale(0.93 1)" font-size="9.3" text-anchor="end" fill="#1a1a1a">2</text><line x1="488.9" y1="207.5" x2="561.7" y2="207.5" stroke="#858585" stroke-width="1"/><line x1="494.7" y1="207.5" x2="494.7" y2="210.5" stroke="#7c7c7c" stroke-width="0.8"/><text x="494.7" y="219.5" font-size="8.9" text-anchor="middle" fill="#1a1a1a">0</text><line x1="552.5" y1="207.5" x2="552.5" y2="210.5" stroke="#7c7c7c" stroke-width="0.8"/><text x="552.5" y="219.5" font-size="8.9" text-anchor="middle" fill="#1a1a1a">5</text><rect x="494.9" y="132" width="4.1" height="75.5" fill="#849437"/><rect x="513" y="207.1" width="9" height="0.4" fill="#849437"/><line x1="595.5" y1="128" x2="595.5" y2="207.5" stroke="#858585" stroke-width="1"/><line x1="592.5" y1="207.5" x2="595.5" y2="207.5" stroke="#7c7c7c" stroke-width="0.8"/><text transform="translate(588.9 210) scale(0.93 1)" font-size="9.3" text-anchor="end" fill="#1a1a1a">0</text><line x1="592.5" y1="184.2" x2="595.5" y2="184.2" stroke="#7c7c7c" stroke-width="0.8"/><text transform="translate(588.9 186.7) scale(0.93 1)" font-size="9.3" text-anchor="end" fill="#1a1a1a">1</text><line x1="592.5" y1="160.6" x2="595.5" y2="160.6" stroke="#7c7c7c" stroke-width="0.8"/><text transform="translate(588.9 163.1) scale(0.93 1)" font-size="9.3" text-anchor="end" fill="#1a1a1a">2</text><line x1="592.5" y1="137.4" x2="595.5" y2="137.4" stroke="#7c7c7c" stroke-width="0.8"/><text transform="translate(588.9 139.9) scale(0.93 1)" font-size="9.3" text-anchor="end" fill="#1a1a1a">3</text><line x1="592.4" y1="207.5" x2="664.6" y2="207.5" stroke="#858585" stroke-width="1"/><line x1="598.6" y1="207.5" x2="598.6" y2="210.5" stroke="#7c7c7c" stroke-width="0.8"/><text x="598.6" y="219.5" font-size="8.9" text-anchor="middle" fill="#1a1a1a">0</text><line x1="655.6" y1="207.5" x2="655.6" y2="210.5" stroke="#7c7c7c" stroke-width="0.8"/><text x="655.6" y="219.5" font-size="8.9" text-anchor="middle" fill="#1a1a1a">5</text><rect x="597.9" y="132" width="3.3" height="75.5" fill="#db6018"/><rect x="614.4" y="205.3" width="2.6" height="2.2" fill="#db6018"/><rect x="623.9" y="205.3" width="4.5" height="2.2" fill="#db6018"/><rect x="628.6" y="205.3" width="2.4" height="2.2" fill="#db6018"/><line x1="595.2" y1="128" x2="595.2" y2="207.5" stroke="#d4d4d4" stroke-width="1.6"/><text x="569.5" y="229.3" font-size="8.9" text-anchor="middle" fill="#1a1a1a">log library-size normalized RNA</text><text x="463.4" y="117" font-size="8.9" text-anchor="middle" transform="rotate(-90 463.4 117)" fill="#1a1a1a">Density</text><text x="457" y="9" font-size="10" text-anchor="start" font-weight="bold" fill="#111">c</text><line x1="490.5" y1="268.1" x2="490.5" y2="347.9" stroke="#858585" stroke-width="1"/><line x1="487.5" y1="347.9" x2="490.5" y2="347.9" stroke="#7c7c7c" stroke-width="0.8"/><text transform="translate(483.9 350.4) scale(0.93 1)" font-size="9.3" text-anchor="end" fill="#1a1a1a">0</text><line x1="487.5" y1="323.3" x2="490.5" y2="323.3" stroke="#7c7c7c" stroke-width="0.8"/><text transform="translate(483.9 325.8) scale(0.93 1)" font-size="9.3" text-anchor="end" fill="#1a1a1a">0.5</text><line x1="487.5" y1="298.4" x2="490.5" y2="298.4" stroke="#7c7c7c" stroke-width="0.8"/><text transform="translate(483.9 300.9) scale(0.93 1)" font-size="9.3" text-anchor="end" fill="#1a1a1a">1.0</text><line x1="487.5" y1="273.4" x2="490.5" y2="273.4" stroke="#7c7c7c" stroke-width="0.8"/><text transform="translate(483.9 275.9) scale(0.93 1)" font-size="9.3" text-anchor="end" fill="#1a1a1a">1.5</text><line x1="486.8" y1="347.5" x2="556.9" y2="347.5" stroke="#858585" stroke-width="1"/><rect x="492.9" y="272.5" width="5.3" height="75.4" fill="#3c7da2"/><rect x="515.2" y="339.4" width="4.8" height="8.5" fill="#3c7da2"/><rect x="521" y="331.7" width="4.9" height="16.2" fill="#3c7da2"/><rect x="526.6" y="340.3" width="4.9" height="7.6" fill="#3c7da2"/><rect x="532" y="338.7" width="5" height="9.2" fill="#3c7da2"/><rect x="537.6" y="343.1" width="4.9" height="4.8" fill="#3c7da2"/><rect x="543.2" y="344.9" width="4.9" height="3" fill="#3c7da2"/><line x1="492.6" y1="347.9" x2="492.6" y2="350.9" stroke="#7c7c7c" stroke-width="0.8"/><line x1="528.8" y1="347.9" x2="528.8" y2="350.9" stroke="#7c7c7c" stroke-width="0.8"/><line x1="595.5" y1="268.1" x2="595.5" y2="348.2" stroke="#858585" stroke-width="1"/><line x1="592.5" y1="348.2" x2="595.5" y2="348.2" stroke="#7c7c7c" stroke-width="0.8"/><text transform="translate(588.9 350.7) scale(0.93 1)" font-size="9.3" text-anchor="end" fill="#1a1a1a">0</text><line x1="592.5" y1="327.7" x2="595.5" y2="327.7" stroke="#7c7c7c" stroke-width="0.8"/><text transform="translate(588.9 330.2) scale(0.93 1)" font-size="9.3" text-anchor="end" fill="#1a1a1a">0.25</text><line x1="592.5" y1="307.6" x2="595.5" y2="307.6" stroke="#7c7c7c" stroke-width="0.8"/><text transform="translate(588.9 310.1) scale(0.93 1)" font-size="9.3" text-anchor="end" fill="#1a1a1a">0.50</text><line x1="592.5" y1="287.4" x2="595.5" y2="287.4" stroke="#7c7c7c" stroke-width="0.8"/><text transform="translate(588.9 289.9) scale(0.93 1)" font-size="9.3" text-anchor="end" fill="#1a1a1a">0.75</text><line x1="592.7" y1="348.5" x2="662.8" y2="348.5" stroke="#858585" stroke-width="1"/><rect x="598.8" y="272.5" width="6" height="75.7" fill="#fcb116"/><rect x="611.4" y="347" width="5.6" height="1.2" fill="#fcb116"/><rect x="617.6" y="340.8" width="5.6" height="7.4" fill="#fcb116"/><rect x="623.7" y="315.4" width="5.4" height="32.8" fill="#fcb116"/><rect x="629.6" y="316.3" width="5.5" height="31.9" fill="#fcb116"/><rect x="635.8" y="325.4" width="5.4" height="22.8" fill="#fcb116"/><rect x="641.9" y="334.7" width="5.4" height="13.5" fill="#fcb116"/><rect x="647.9" y="344.3" width="5.6" height="3.9" fill="#fcb116"/><line x1="598.6" y1="348.2" x2="598.6" y2="351.2" stroke="#7c7c7c" stroke-width="0.8"/><line x1="635.1" y1="348.2" x2="635.1" y2="351.2" stroke="#7c7c7c" stroke-width="0.8"/><line x1="490.5" y1="367.3" x2="490.5" y2="446.9" stroke="#858585" stroke-width="1"/><line x1="487.5" y1="446.9" x2="490.5" y2="446.9" stroke="#7c7c7c" stroke-width="0.8"/><text transform="translate(483.9 449.4) scale(0.93 1)" font-size="9.3" text-anchor="end" fill="#1a1a1a">0</text><line x1="487.5" y1="410.2" x2="490.5" y2="410.2" stroke="#7c7c7c" stroke-width="0.8"/><text transform="translate(483.9 412.7) scale(0.93 1)" font-size="9.3" text-anchor="end" fill="#1a1a1a">2</text><line x1="487.5" y1="374.2" x2="490.5" y2="374.2" stroke="#7c7c7c" stroke-width="0.8"/><text transform="translate(483.9 376.7) scale(0.93 1)" font-size="9.3" text-anchor="end" fill="#1a1a1a">4</text><line x1="486.8" y1="446.5" x2="557" y2="446.5" stroke="#858585" stroke-width="1"/><line x1="491.9" y1="446.9" x2="491.9" y2="449.9" stroke="#7c7c7c" stroke-width="0.8"/><text x="491.9" y="458.9" font-size="8.9" text-anchor="middle" fill="#1a1a1a">0</text><line x1="528.9" y1="446.9" x2="528.9" y2="449.9" stroke="#7c7c7c" stroke-width="0.8"/><text x="528.9" y="458.9" font-size="8.9" text-anchor="middle" fill="#1a1a1a">2.5</text><rect x="492.9" y="370.7" width="2.7" height="76.2" fill="#849437"/><line x1="595.5" y1="367.3" x2="595.5" y2="446.9" stroke="#858585" stroke-width="1"/><line x1="592.5" y1="446.9" x2="595.5" y2="446.9" stroke="#7c7c7c" stroke-width="0.8"/><text transform="translate(588.9 449.4) scale(0.93 1)" font-size="9.3" text-anchor="end" fill="#1a1a1a">0</text><line x1="592.5" y1="410.2" x2="595.5" y2="410.2" stroke="#7c7c7c" stroke-width="0.8"/><text transform="translate(588.9 412.7) scale(0.93 1)" font-size="9.3" text-anchor="end" fill="#1a1a1a">2</text><line x1="592.5" y1="374.2" x2="595.5" y2="374.2" stroke="#7c7c7c" stroke-width="0.8"/><text transform="translate(588.9 376.7) scale(0.93 1)" font-size="9.3" text-anchor="end" fill="#1a1a1a">4</text><line x1="592.7" y1="446.5" x2="663.4" y2="446.5" stroke="#858585" stroke-width="1"/><line x1="598.6" y1="446.9" x2="598.6" y2="449.9" stroke="#7c7c7c" stroke-width="0.8"/><text x="598.6" y="458.9" font-size="8.9" text-anchor="middle" fill="#1a1a1a">0</text><line x1="635.1" y1="446.9" x2="635.1" y2="449.9" stroke="#7c7c7c" stroke-width="0.8"/><text x="635.1" y="458.9" font-size="8.9" text-anchor="middle" fill="#1a1a1a">2.5</text><rect x="598.5" y="370.7" width="3.1" height="76.2" fill="#db6018"/><text x="569.5" y="469.8" font-size="8.9" text-anchor="middle" fill="#1a1a1a">log library-size normalized RNA</text><text x="463.4" y="358.9" font-size="8.9" text-anchor="middle" transform="rotate(-90 463.4 358.9)" fill="#1a1a1a">Density</text><text x="457" y="268.5" font-size="10" text-anchor="start" font-weight="bold" fill="#111">f</text><line x1="34.5" y1="503.3" x2="34.5" y2="605.6" stroke="#858585" stroke-width="1"/><line x1="31.5" y1="605.6" x2="34.5" y2="605.6" stroke="#7c7c7c" stroke-width="0.8"/><text transform="translate(27.9 608.1) scale(0.93 1)" font-size="9.3" text-anchor="end" fill="#1a1a1a">0</text><line x1="31.5" y1="588.55" x2="34.5" y2="588.55" stroke="#7c7c7c" stroke-width="0.8"/><text transform="translate(27.9 591.05) scale(0.93 1)" font-size="9.3" text-anchor="end" fill="#1a1a1a">0.5</text><line x1="31.5" y1="571.5" x2="34.5" y2="571.5" stroke="#7c7c7c" stroke-width="0.8"/><text transform="translate(27.9 574) scale(0.93 1)" font-size="9.3" text-anchor="end" fill="#1a1a1a">1.0</text><line x1="31.5" y1="554.45" x2="34.5" y2="554.45" stroke="#7c7c7c" stroke-width="0.8"/><text transform="translate(27.9 556.95) scale(0.93 1)" font-size="9.3" text-anchor="end" fill="#1a1a1a">1.5</text><line x1="31.5" y1="537.4" x2="34.5" y2="537.4" stroke="#7c7c7c" stroke-width="0.8"/><text transform="translate(27.9 539.9) scale(0.93 1)" font-size="9.3" text-anchor="end" fill="#1a1a1a">2.0</text><line x1="31.5" y1="520.35" x2="34.5" y2="520.35" stroke="#7c7c7c" stroke-width="0.8"/><text transform="translate(27.9 522.85) scale(0.93 1)" font-size="9.3" text-anchor="end" fill="#1a1a1a">2.5</text><line x1="31.5" y1="503.3" x2="34.5" y2="503.3" stroke="#7c7c7c" stroke-width="0.8"/><text transform="translate(27.9 505.8) scale(0.93 1)" font-size="9.3" text-anchor="end" fill="#1a1a1a">3.0</text><line x1="34.5" y1="605.5" x2="154.1" y2="605.5" stroke="#858585" stroke-width="1"/><line x1="39.6" y1="605.6" x2="39.6" y2="608.6" stroke="#7c7c7c" stroke-width="0.8"/><text x="39.6" y="617.6" font-size="8.9" text-anchor="middle" fill="#1a1a1a">0</text><line x1="75.5" y1="605.6" x2="75.5" y2="608.6" stroke="#7c7c7c" stroke-width="0.8"/><text x="75.5" y="617.6" font-size="8.9" text-anchor="middle" fill="#1a1a1a">2</text><line x1="111.4" y1="605.6" x2="111.4" y2="608.6" stroke="#7c7c7c" stroke-width="0.8"/><text x="111.4" y="617.6" font-size="8.9" text-anchor="middle" fill="#1a1a1a">4</text><line x1="147.3" y1="605.6" x2="147.3" y2="608.6" stroke="#7c7c7c" stroke-width="0.8"/><text x="147.3" y="617.6" font-size="8.9" text-anchor="middle" fill="#1a1a1a">6</text><rect x="72.1" y="604.24" width="2.3" height="1.36" fill="#3b7ca6" fill-opacity="0.72"/><rect x="74.99" y="597.42" width="2.3" height="8.18" fill="#3b7ca6" fill-opacity="0.72"/><rect x="78.01" y="598.78" width="2.3" height="6.82" fill="#3b7ca6" fill-opacity="0.72"/><rect x="80.9" y="587.53" width="2.3" height="18.07" fill="#3b7ca6" fill-opacity="0.72"/><rect x="83.92" y="581.05" width="2.3" height="24.55" fill="#3b7ca6" fill-opacity="0.72"/><rect x="86.81" y="581.05" width="2.3" height="24.55" fill="#3b7ca6" fill-opacity="0.72"/><rect x="89.7" y="575.25" width="2.3" height="30.35" fill="#3b7ca6" fill-opacity="0.72"/><rect x="92.73" y="580.02" width="2.3" height="25.58" fill="#3b7ca6" fill-opacity="0.72"/><rect x="95.62" y="588.55" width="2.3" height="17.05" fill="#3b7ca6" fill-opacity="0.72"/><rect x="98.64" y="594.35" width="2.3" height="11.25" fill="#3b7ca6" fill-opacity="0.72"/><rect x="101.53" y="598.1" width="2.3" height="7.5" fill="#3b7ca6" fill-opacity="0.72"/><rect x="104.55" y="599.29" width="2.3" height="6.31" fill="#3b7ca6" fill-opacity="0.72"/><rect x="107.44" y="602.19" width="2.3" height="3.41" fill="#3b7ca6" fill-opacity="0.72"/><rect x="110.47" y="604.24" width="2.3" height="1.36" fill="#3b7ca6" fill-opacity="0.72"/><rect x="113.75" y="605.09" width="2.3" height="0.51" fill="#3b7ca6" fill-opacity="0.72"/><rect x="116.64" y="605.26" width="2.3" height="0.34" fill="#3b7ca6" fill-opacity="0.72"/><rect x="51.99" y="604.92" width="2.3" height="0.68" fill="#fbb31f" fill-opacity="0.72"/><rect x="57.9" y="602.97" width="2.3" height="2.63" fill="#fbb31f" fill-opacity="0.72"/><rect x="63.82" y="599.12" width="2.3" height="6.48" fill="#fbb31f" fill-opacity="0.72"/><rect x="66.71" y="594.01" width="2.3" height="11.59" fill="#fbb31f" fill-opacity="0.72"/><rect x="69.73" y="586.85" width="2.3" height="18.76" fill="#fbb31f" fill-opacity="0.72"/><rect x="72.75" y="583.09" width="2.3" height="22.51" fill="#fbb31f" fill-opacity="0.72"/><rect x="75.78" y="580.37" width="2.3" height="25.23" fill="#fbb31f" fill-opacity="0.72"/><rect x="78.67" y="558.2" width="2.3" height="47.4" fill="#fbb31f" fill-opacity="0.72"/><rect x="81.56" y="573.21" width="2.3" height="32.4" fill="#fbb31f" fill-opacity="0.72"/><rect x="84.58" y="588.89" width="2.3" height="16.71" fill="#fbb31f" fill-opacity="0.72"/><rect x="87.47" y="600.49" width="2.3" height="5.12" fill="#fbb31f" fill-opacity="0.72"/><rect x="90.49" y="602.53" width="2.3" height="3.07" fill="#fbb31f" fill-opacity="0.72"/><rect x="93.38" y="604.24" width="2.3" height="1.36" fill="#fbb31f" fill-opacity="0.72"/><text x="94.5" y="500.3" font-size="8.9" text-anchor="middle" fill="#1a1a1a">CD20</text><text x="94.1" y="633.3" font-size="8.9" text-anchor="middle" fill="#1a1a1a">log(protein counts + 1)</text><text x="8.6" y="553.6" font-size="8.9" text-anchor="middle" transform="rotate(-90 8.6 553.6)" fill="#1a1a1a">Density</text><rect x="112.4" y="509.9" width="11.6" height="3.2" fill="#3b7ca6" fill-opacity="0.62"/><rect x="112.4" y="521.6" width="11.6" height="3.2" fill="#fbb31f" fill-opacity="0.72"/><text x="128" y="514.4" font-size="8.9" text-anchor="start" fill="#1a1a1a">B cells</text><text x="128" y="526.1" font-size="8.9" text-anchor="start" fill="#1a1a1a">T cells</text><text x="0" y="494.5" font-size="10" text-anchor="start" font-weight="bold" fill="#111">g</text><line x1="207.5" y1="503.3" x2="207.5" y2="605.6" stroke="#858585" stroke-width="1"/><line x1="204.5" y1="605.6" x2="207.5" y2="605.6" stroke="#7c7c7c" stroke-width="0.8"/><text transform="translate(200.9 608.1) scale(0.93 1)" font-size="9.3" text-anchor="end" fill="#1a1a1a">0</text><line x1="204.5" y1="588.55" x2="207.5" y2="588.55" stroke="#7c7c7c" stroke-width="0.8"/><text transform="translate(200.9 591.05) scale(0.93 1)" font-size="9.3" text-anchor="end" fill="#1a1a1a">0.5</text><line x1="204.5" y1="571.5" x2="207.5" y2="571.5" stroke="#7c7c7c" stroke-width="0.8"/><text transform="translate(200.9 574) scale(0.93 1)" font-size="9.3" text-anchor="end" fill="#1a1a1a">1.0</text><line x1="204.5" y1="554.45" x2="207.5" y2="554.45" stroke="#7c7c7c" stroke-width="0.8"/><text transform="translate(200.9 556.95) scale(0.93 1)" font-size="9.3" text-anchor="end" fill="#1a1a1a">1.5</text><line x1="204.5" y1="537.4" x2="207.5" y2="537.4" stroke="#7c7c7c" stroke-width="0.8"/><text transform="translate(200.9 539.9) scale(0.93 1)" font-size="9.3" text-anchor="end" fill="#1a1a1a">2.0</text><line x1="204.5" y1="520.35" x2="207.5" y2="520.35" stroke="#7c7c7c" stroke-width="0.8"/><text transform="translate(200.9 522.85) scale(0.93 1)" font-size="9.3" text-anchor="end" fill="#1a1a1a">2.5</text><line x1="204.5" y1="503.3" x2="207.5" y2="503.3" stroke="#7c7c7c" stroke-width="0.8"/><text transform="translate(200.9 505.8) scale(0.93 1)" font-size="9.3" text-anchor="end" fill="#1a1a1a">3.0</text><line x1="207.5" y1="605.5" x2="327" y2="605.5" stroke="#858585" stroke-width="1"/><line x1="213.6" y1="605.6" x2="213.6" y2="608.6" stroke="#7c7c7c" stroke-width="0.8"/><text x="213.6" y="617.6" font-size="8.9" text-anchor="middle" fill="#1a1a1a">0</text><line x1="248.8" y1="605.6" x2="248.8" y2="608.6" stroke="#7c7c7c" stroke-width="0.8"/><text x="248.8" y="617.6" font-size="8.9" text-anchor="middle" fill="#1a1a1a">2</text><line x1="284" y1="605.6" x2="284" y2="608.6" stroke="#7c7c7c" stroke-width="0.8"/><text x="284" y="617.6" font-size="8.9" text-anchor="middle" fill="#1a1a1a">4</text><line x1="319.2" y1="605.6" x2="319.2" y2="608.6" stroke="#7c7c7c" stroke-width="0.8"/><text x="319.2" y="617.6" font-size="8.9" text-anchor="middle" fill="#1a1a1a">6</text><rect x="254.77" y="601.92" width="1.9" height="3.68" fill="#3b7ca6" fill-opacity="0.72"/><rect x="257.27" y="574.23" width="1.9" height="31.37" fill="#3b7ca6" fill-opacity="0.72"/><rect x="259.9" y="555.81" width="1.9" height="49.79" fill="#3b7ca6" fill-opacity="0.72"/><rect x="262.39" y="573.21" width="1.9" height="32.4" fill="#3b7ca6" fill-opacity="0.72"/><rect x="264.89" y="582.07" width="1.9" height="23.53" fill="#3b7ca6" fill-opacity="0.72"/><rect x="267.39" y="580.37" width="1.9" height="25.23" fill="#3b7ca6" fill-opacity="0.72"/><rect x="269.88" y="581.05" width="1.9" height="24.55" fill="#3b7ca6" fill-opacity="0.72"/><rect x="272.51" y="588.21" width="1.9" height="17.39" fill="#3b7ca6" fill-opacity="0.72"/><rect x="275.01" y="596.39" width="1.9" height="9.21" fill="#3b7ca6" fill-opacity="0.72"/><rect x="277.64" y="600.14" width="1.9" height="5.46" fill="#3b7ca6" fill-opacity="0.72"/><rect x="280.13" y="604.24" width="1.9" height="1.36" fill="#3b7ca6" fill-opacity="0.72"/><rect x="282.63" y="605.09" width="1.9" height="0.51" fill="#3b7ca6" fill-opacity="0.72"/><rect x="213.18" y="503.3" width="1.9" height="102.3" fill="#fbb31f" fill-opacity="0.72"/><rect x="219.95" y="601.92" width="1.9" height="3.68" fill="#fbb31f" fill-opacity="0.72"/><rect x="222.32" y="596.05" width="1.9" height="9.55" fill="#fbb31f" fill-opacity="0.72"/><rect x="224.55" y="598.1" width="1.9" height="7.5" fill="#fbb31f" fill-opacity="0.72"/><rect x="226.78" y="602.19" width="1.9" height="3.41" fill="#fbb31f" fill-opacity="0.72"/><rect x="229.02" y="603.55" width="1.9" height="2.05" fill="#fbb31f" fill-opacity="0.72"/><rect x="231.25" y="604.82" width="1.9" height="0.78" fill="#fbb31f" fill-opacity="0.72"/><rect x="233.48" y="605.09" width="1.9" height="0.51" fill="#fbb31f" fill-opacity="0.72"/><rect x="235.72" y="604.24" width="1.9" height="1.36" fill="#fbb31f" fill-opacity="0.72"/><rect x="237.95" y="605.09" width="1.9" height="0.51" fill="#fbb31f" fill-opacity="0.72"/><rect x="240.19" y="605.09" width="1.9" height="0.51" fill="#fbb31f" fill-opacity="0.72"/><text x="267.4" y="500.3" font-size="8.9" text-anchor="middle" fill="#1a1a1a">CD20 denoised</text><text x="267.5" y="633.3" font-size="8.9" text-anchor="middle" fill="#1a1a1a">log(totalVI denoised protein + 1)</text><text x="179.4" y="553.6" font-size="8.9" text-anchor="middle" transform="rotate(-90 179.4 553.6)" fill="#1a1a1a">Density</text><rect x="280" y="509.9" width="11.6" height="3.2" fill="#3b7ca6" fill-opacity="0.62"/><rect x="280" y="521.6" width="11.6" height="3.2" fill="#fbb31f" fill-opacity="0.72"/><text x="295.6" y="514.4" font-size="8.9" text-anchor="start" fill="#1a1a1a">B cells</text><text x="295.6" y="526.1" font-size="8.9" text-anchor="start" fill="#1a1a1a">T cells</text><text x="172" y="494.5" font-size="10" text-anchor="start" font-weight="bold" fill="#111">h</text><line x1="381.5" y1="503.3" x2="381.5" y2="605.6" stroke="#858585" stroke-width="1"/><line x1="378.5" y1="605.6" x2="381.5" y2="605.6" stroke="#7c7c7c" stroke-width="0.8"/><text transform="translate(374.9 608.1) scale(0.93 1)" font-size="9.3" text-anchor="end" fill="#1a1a1a">0</text><line x1="378.5" y1="588.55" x2="381.5" y2="588.55" stroke="#7c7c7c" stroke-width="0.8"/><text transform="translate(374.9 591.05) scale(0.93 1)" font-size="9.3" text-anchor="end" fill="#1a1a1a">0.5</text><line x1="378.5" y1="571.5" x2="381.5" y2="571.5" stroke="#7c7c7c" stroke-width="0.8"/><text transform="translate(374.9 574) scale(0.93 1)" font-size="9.3" text-anchor="end" fill="#1a1a1a">1.0</text><line x1="378.5" y1="554.45" x2="381.5" y2="554.45" stroke="#7c7c7c" stroke-width="0.8"/><text transform="translate(374.9 556.95) scale(0.93 1)" font-size="9.3" text-anchor="end" fill="#1a1a1a">1.5</text><line x1="378.5" y1="537.4" x2="381.5" y2="537.4" stroke="#7c7c7c" stroke-width="0.8"/><text transform="translate(374.9 539.9) scale(0.93 1)" font-size="9.3" text-anchor="end" fill="#1a1a1a">2.0</text><line x1="378.5" y1="520.35" x2="381.5" y2="520.35" stroke="#7c7c7c" stroke-width="0.8"/><text transform="translate(374.9 522.85) scale(0.93 1)" font-size="9.3" text-anchor="end" fill="#1a1a1a">2.5</text><line x1="378.5" y1="503.3" x2="381.5" y2="503.3" stroke="#7c7c7c" stroke-width="0.8"/><text transform="translate(374.9 505.8) scale(0.93 1)" font-size="9.3" text-anchor="end" fill="#1a1a1a">3.0</text><line x1="381.5" y1="605.5" x2="507" y2="605.5" stroke="#858585" stroke-width="1"/><line x1="387.4" y1="605.6" x2="387.4" y2="608.6" stroke="#7c7c7c" stroke-width="0.8"/><text x="387.4" y="617.6" font-size="8.9" text-anchor="middle" fill="#1a1a1a">0</text><line x1="435.5" y1="605.6" x2="435.5" y2="608.6" stroke="#7c7c7c" stroke-width="0.8"/><text x="435.5" y="617.6" font-size="8.9" text-anchor="middle" fill="#1a1a1a">2</text><line x1="483.6" y1="605.6" x2="483.6" y2="608.6" stroke="#7c7c7c" stroke-width="0.8"/><text x="483.6" y="617.6" font-size="8.9" text-anchor="middle" fill="#1a1a1a">4</text><rect x="387.5" y="598.44" width="2.6" height="7.16" fill="#3b7ca6" fill-opacity="0.72"/><rect x="403.01" y="577.98" width="2.6" height="27.62" fill="#3b7ca6" fill-opacity="0.72"/><rect x="410.5" y="565.02" width="2.6" height="40.58" fill="#3b7ca6" fill-opacity="0.72"/><rect x="418.25" y="561.95" width="2.6" height="43.65" fill="#3b7ca6" fill-opacity="0.72"/><rect x="425.74" y="568.09" width="2.6" height="37.51" fill="#3b7ca6" fill-opacity="0.72"/><rect x="430.47" y="577.98" width="2.6" height="27.62" fill="#3b7ca6" fill-opacity="0.72"/><rect x="433.23" y="590.94" width="2.6" height="14.66" fill="#3b7ca6" fill-opacity="0.72"/><rect x="436.78" y="594.01" width="2.6" height="11.59" fill="#3b7ca6" fill-opacity="0.72"/><rect x="439.8" y="604.58" width="2.6" height="1.02" fill="#3b7ca6" fill-opacity="0.72"/><rect x="387.5" y="604.92" width="2.6" height="0.68" fill="#fbb31f" fill-opacity="0.72"/><rect x="402.48" y="601.17" width="2.6" height="4.43" fill="#fbb31f" fill-opacity="0.72"/><rect x="412.47" y="590.94" width="2.6" height="14.66" fill="#fbb31f" fill-opacity="0.72"/><rect x="420.36" y="582.75" width="2.6" height="22.85" fill="#fbb31f" fill-opacity="0.72"/><rect x="425.74" y="576.62" width="2.6" height="28.98" fill="#fbb31f" fill-opacity="0.72"/><rect x="428.11" y="568.77" width="2.6" height="36.83" fill="#fbb31f" fill-opacity="0.72"/><rect x="432.97" y="566.73" width="2.6" height="38.87" fill="#fbb31f" fill-opacity="0.72"/><rect x="435.73" y="567.75" width="2.6" height="37.85" fill="#fbb31f" fill-opacity="0.72"/><rect x="438.36" y="573.89" width="2.6" height="31.71" fill="#fbb31f" fill-opacity="0.72"/><rect x="440.99" y="577.98" width="2.6" height="27.62" fill="#fbb31f" fill-opacity="0.72"/><rect x="443.61" y="583.09" width="2.6" height="22.51" fill="#fbb31f" fill-opacity="0.72"/><rect x="445.98" y="590.94" width="2.6" height="14.66" fill="#fbb31f" fill-opacity="0.72"/><rect x="448.74" y="586.85" width="2.6" height="18.76" fill="#fbb31f" fill-opacity="0.72"/><rect x="451.1" y="600.49" width="2.6" height="5.12" fill="#fbb31f" fill-opacity="0.72"/><rect x="453.6" y="599.8" width="2.6" height="5.8" fill="#fbb31f" fill-opacity="0.72"/><rect x="456.36" y="603.55" width="2.6" height="2.05" fill="#fbb31f" fill-opacity="0.72"/><text x="444.3" y="500.3" font-size="8.9" text-anchor="middle" fill="#1a1a1a">CD28</text><text x="444.3" y="633.3" font-size="8.9" text-anchor="middle" fill="#1a1a1a">log(protein counts + 1)</text><text x="353.2" y="553.6" font-size="8.9" text-anchor="middle" transform="rotate(-90 353.2 553.6)" fill="#1a1a1a">Density</text><rect x="462.2" y="509.9" width="11.6" height="3.2" fill="#3b7ca6" fill-opacity="0.62"/><rect x="462.2" y="521.6" width="11.6" height="3.2" fill="#fbb31f" fill-opacity="0.72"/><text x="477.8" y="514.4" font-size="8.9" text-anchor="start" fill="#1a1a1a">B cells</text><text x="477.8" y="526.1" font-size="8.9" text-anchor="start" fill="#1a1a1a">T cells</text><text x="347" y="494.5" font-size="10" text-anchor="start" font-weight="bold" fill="#111">i</text><line x1="557.5" y1="503.3" x2="557.5" y2="605.6" stroke="#858585" stroke-width="1"/><line x1="554.5" y1="605.6" x2="557.5" y2="605.6" stroke="#7c7c7c" stroke-width="0.8"/><text transform="translate(550.9 608.1) scale(0.93 1)" font-size="9.3" text-anchor="end" fill="#1a1a1a">0</text><line x1="554.5" y1="588.55" x2="557.5" y2="588.55" stroke="#7c7c7c" stroke-width="0.8"/><text transform="translate(550.9 591.05) scale(0.93 1)" font-size="9.3" text-anchor="end" fill="#1a1a1a">0.5</text><line x1="554.5" y1="571.5" x2="557.5" y2="571.5" stroke="#7c7c7c" stroke-width="0.8"/><text transform="translate(550.9 574) scale(0.93 1)" font-size="9.3" text-anchor="end" fill="#1a1a1a">1.0</text><line x1="554.5" y1="554.45" x2="557.5" y2="554.45" stroke="#7c7c7c" stroke-width="0.8"/><text transform="translate(550.9 556.95) scale(0.93 1)" font-size="9.3" text-anchor="end" fill="#1a1a1a">1.5</text><line x1="554.5" y1="537.4" x2="557.5" y2="537.4" stroke="#7c7c7c" stroke-width="0.8"/><text transform="translate(550.9 539.9) scale(0.93 1)" font-size="9.3" text-anchor="end" fill="#1a1a1a">2.0</text><line x1="554.5" y1="520.35" x2="557.5" y2="520.35" stroke="#7c7c7c" stroke-width="0.8"/><text transform="translate(550.9 522.85) scale(0.93 1)" font-size="9.3" text-anchor="end" fill="#1a1a1a">2.5</text><line x1="554.5" y1="503.3" x2="557.5" y2="503.3" stroke="#7c7c7c" stroke-width="0.8"/><text transform="translate(550.9 505.8) scale(0.93 1)" font-size="9.3" text-anchor="end" fill="#1a1a1a">3.0</text><line x1="557.5" y1="605.5" x2="685" y2="605.5" stroke="#858585" stroke-width="1"/><line x1="564.8" y1="605.6" x2="564.8" y2="608.6" stroke="#7c7c7c" stroke-width="0.8"/><text x="564.8" y="617.6" font-size="8.9" text-anchor="middle" fill="#1a1a1a">0</text><line x1="612.9" y1="605.6" x2="612.9" y2="608.6" stroke="#7c7c7c" stroke-width="0.8"/><text x="612.9" y="617.6" font-size="8.9" text-anchor="middle" fill="#1a1a1a">2</text><line x1="661" y1="605.6" x2="661" y2="608.6" stroke="#7c7c7c" stroke-width="0.8"/><text x="661" y="617.6" font-size="8.9" text-anchor="middle" fill="#1a1a1a">4</text><rect x="564.43" y="503.3" width="1.8" height="102.3" fill="#3b7ca6" fill-opacity="0.72"/><rect x="571.79" y="605.09" width="1.8" height="0.51" fill="#3b7ca6" fill-opacity="0.72"/><rect x="574.19" y="604.92" width="1.8" height="0.68" fill="#3b7ca6" fill-opacity="0.72"/><rect x="580.99" y="605.43" width="1.8" height="0.17" fill="#3b7ca6" fill-opacity="0.72"/><rect x="593.72" y="604.92" width="1.8" height="0.68" fill="#fbb31f" fill-opacity="0.72"/><rect x="595.84" y="603.76" width="1.8" height="1.84" fill="#fbb31f" fill-opacity="0.72"/><rect x="598.25" y="600.93" width="1.8" height="4.67" fill="#fbb31f" fill-opacity="0.72"/><rect x="600.65" y="597.76" width="1.8" height="7.84" fill="#fbb31f" fill-opacity="0.72"/><rect x="603.06" y="588.89" width="1.8" height="16.71" fill="#fbb31f" fill-opacity="0.72"/><rect x="605.47" y="578.32" width="1.8" height="27.28" fill="#fbb31f" fill-opacity="0.72"/><rect x="607.87" y="572.18" width="1.8" height="33.42" fill="#fbb31f" fill-opacity="0.72"/><rect x="610.28" y="579" width="1.8" height="26.6" fill="#fbb31f" fill-opacity="0.72"/><rect x="612.68" y="577.64" width="1.8" height="27.96" fill="#fbb31f" fill-opacity="0.72"/><rect x="614.95" y="543.54" width="1.8" height="62.06" fill="#fbb31f" fill-opacity="0.72"/><rect x="617.35" y="519.33" width="1.8" height="86.27" fill="#fbb31f" fill-opacity="0.72"/><rect x="619.76" y="577.98" width="1.8" height="27.62" fill="#fbb31f" fill-opacity="0.72"/><rect x="622.16" y="599.94" width="1.8" height="5.66" fill="#fbb31f" fill-opacity="0.72"/><rect x="624.57" y="601.85" width="1.8" height="3.75" fill="#fbb31f" fill-opacity="0.72"/><rect x="626.97" y="604.92" width="1.8" height="0.68" fill="#fbb31f" fill-opacity="0.72"/><rect x="629.38" y="605.19" width="1.8" height="0.41" fill="#fbb31f" fill-opacity="0.72"/><text x="621.9" y="500.3" font-size="8.9" text-anchor="middle" fill="#1a1a1a">CD28 denoised</text><text x="621.3" y="633.3" font-size="8.9" text-anchor="middle" fill="#1a1a1a">log(totalVI denoised protein + 1)</text><text x="528.8" y="553.6" font-size="8.9" text-anchor="middle" transform="rotate(-90 528.8 553.6)" fill="#1a1a1a">Density</text><rect x="641" y="509.9" width="11.6" height="3.2" fill="#3b7ca6" fill-opacity="0.62"/><rect x="641" y="521.6" width="11.6" height="3.2" fill="#fbb31f" fill-opacity="0.72"/><text x="656.6" y="514.4" font-size="8.9" text-anchor="start" fill="#1a1a1a">B cells</text><text x="656.6" y="526.1" font-size="8.9" text-anchor="start" fill="#1a1a1a">T cells</text><text x="524" y="494.5" font-size="10" text-anchor="start" font-weight="bold" fill="#111">j</text><defs><filter id="sb" x="-10%" y="-10%" width="120%" height="120%"><feGaussianBlur stdDeviation="0.45"/></filter><g id="ug" filter="url(#sb)"><path d="M4.4 20C4.7 18 4.7 18 5.8 16.5C6.9 15 6.6 15.3 8.5 14.5C10.4 13.7 10.5 13.9 13 13.6C15.5 13.3 15.6 13.4 18 13.5C20.4 13.6 20.3 13.2 22 14C23.7 14.8 23.6 14.6 24.5 16.5C25.4 18.4 25.3 18.5 25.5 21C25.7 23.5 25.6 23.6 25.3 26C25 28.4 25.2 28.1 24.5 30C23.8 31.9 23.3 31.1 22.8 33C22.3 34.9 22.8 34.9 22.5 37C22.2 39.1 22 38.7 21.5 41C21 43.3 20.9 43.1 20.5 45.5C20.1 47.9 20.3 47.7 20 50C19.7 52.3 19.6 51.7 19.5 54C19.4 56.3 19 56.6 19.5 58.5C20 60.4 20 59.4 21.5 61C23 62.6 23.8 62.1 25.2 64.5C26.6 66.9 26.1 66.8 26.6 70C27.1 73.2 27.7 73.7 27 76.5C26.3 79.3 26.5 79.1 24 80.5C21.5 81.9 20.8 81.9 17.5 81.8C14.2 81.7 14 81.8 11.5 80C9 78.2 9.4 77.9 8.3 75C7.2 72.1 7.4 71.9 7.4 69C7.4 66.1 7.5 66.3 8.2 64C8.9 61.7 9.3 62.5 10 60.5C10.7 58.5 10.2 58.9 11 56.5C11.8 54.1 11.8 54.2 13 51.5C14.2 48.8 14.7 49.2 15.5 46.5C16.3 43.8 15.7 44.2 16 41.5C16.3 38.8 16.9 38.7 16.5 36.5C16.1 34.3 16.2 34.5 14.5 33.2C12.8 31.9 12.1 32.8 10 31.5C7.9 30.2 7.9 30.5 6.5 28.5C5.1 26.5 5.4 26.3 4.8 24C4.2 21.7 4.1 22 4.4 20Z" fill="#e9e9e9"/><path d="M49.2 49C49.4 46.1 49 47 50 45C51 43 51.1 43.1 53 41.5C54.9 39.9 55 40 57 39C59 38 58.5 38.1 60.5 37.7C62.5 37.3 62.5 37.2 64.5 37.5C66.5 37.8 66.3 37.9 68 38.8C69.7 39.7 69.4 40.4 71 40.8C72.6 41.2 72.3 40.4 74 40.3C75.7 40.2 75.7 39.8 77.5 40.5C79.3 41.2 79.8 41.1 80.8 43C81.8 44.9 81.4 45.1 81.2 47.5C81 49.9 80.5 49.5 80 52C79.5 54.5 79.8 54.3 79.3 57C78.8 59.7 79 59.3 78 62C77 64.7 77.5 64.7 75.5 67C73.5 69.3 73.4 69.5 70.5 70.8C67.6 72.1 67.9 71.9 64.7 71.8C61.5 71.7 61.5 71.7 58.5 70.5C55.5 69.3 55.6 69.5 53.5 67.2C51.4 64.9 51.9 65 50.8 62C49.7 59 49.8 59.5 49.4 56C49 52.5 49 51.9 49.2 49Z" fill="#e9e9e9"/><path d="M38.3 32.5C38.8 30.5 39.7 31.6 42 31.5C44.3 31.4 44.9 31.3 47 32C49.1 32.7 49.3 32.2 50 34C50.7 35.8 50.9 37 49.6 38.6C48.3 40.2 47.6 39.9 45 40C42.4 40.1 41.8 41 40 39C38.2 37 37.8 34.5 38.3 32.5Z" fill="#eaeaea"/><path d="M32.5 10C33 8.5 34 8.5 36 8.5C38 8.5 38.7 8.7 40 10C41.3 11.3 41.5 12.2 41 13.5C40.5 14.8 39.9 14.9 38 15C36.1 15.1 35.5 15.3 34 14C32.5 12.7 32 11.5 32.5 10Z" fill="#e8e8e8"/><path d="M25 15L33 11M38.5 9.5L40 4M33 42L40 37M26 26L39 33" stroke="#e6e6e6" stroke-width="1" fill="none"/></g></defs><g transform="translate(253.5 28.5)"><use href="#ug"/><path d="M49.2 49C49.4 46.1 49 47 50 45C51 43 51.1 43.1 53 41.5C54.9 39.9 55 40 57 39C59 38 58.5 38.1 60.5 37.7C62.5 37.3 62.5 37.2 64.5 37.5C66.5 37.8 66.3 37.9 68 38.8C69.7 39.7 69.4 40.4 71 40.8C72.6 41.2 72.3 40.4 74 40.3C75.7 40.2 75.7 39.8 77.5 40.5C79.3 41.2 79.8 41.1 80.8 43C81.8 44.9 81.4 45.1 81.2 47.5C81 49.9 80.5 49.5 80 52C79.5 54.5 79.8 54.3 79.3 57C78.8 59.7 79 59.3 78 62C77 64.7 77.5 64.7 75.5 67C73.5 69.3 73.4 69.5 70.5 70.8C67.6 72.1 67.9 71.9 64.7 71.8C61.5 71.7 61.5 71.7 58.5 70.5C55.5 69.3 55.6 69.5 53.5 67.2C51.4 64.9 51.9 65 50.8 62C49.7 59 49.8 59.5 49.4 56C49 52.5 49 51.9 49.2 49Z" fill="#3c7da2"/><path d="M56.2 58.9h1.2v1.2h-1.2zM68.4 49.3h1.2v1.2h-1.2zM68.9 42.6h1.2v1.2h-1.2zM67.9 53.9h1.2v1.2h-1.2zM78 47.5h1.2v1.2h-1.2zM54.8 44.4h1.2v1.2h-1.2zM77.8 45.3h1.2v1.2h-1.2zM52.6 42.5h1.2v1.2h-1.2zM56 49.7h1.2v1.2h-1.2zM55.7 54.7h1.2v1.2h-1.2zM72.4 66h1.2v1.2h-1.2zM56.9 49h1.2v1.2h-1.2zM77 44.9h1.2v1.2h-1.2zM62.8 60.7h1.2v1.2h-1.2zM67.7 45.6h1.2v1.2h-1.2zM63.5 51.1h1.2v1.2h-1.2zM64 42.2h1.2v1.2h-1.2zM76.1 40.1h1.2v1.2h-1.2zM59.3 52h1.2v1.2h-1.2zM53.1 40.9h1.2v1.2h-1.2zM80.2 46.6h1.2v1.2h-1.2zM48.9 53h1.2v1.2h-1.2zM49.8 44h1.2v1.2h-1.2zM51.1 44.2h1.2v1.2h-1.2zM50.2 48.1h1.2v1.2h-1.2zM50 46.6h1.2v1.2h-1.2zM65.5 47.7h1.2v1.2h-1.2zM75.7 44.6h1.2v1.2h-1.2zM74.9 47.2h1.2v1.2h-1.2zM78.6 43.7h1.2v1.2h-1.2zM79.2 42.7h1.2v1.2h-1.2zM57 42.5h1.2v1.2h-1.2zM72 45.5h1.2v1.2h-1.2zM61.6 40.2h1.2v1.2h-1.2zM75.5 41.6h1.2v1.2h-1.2zM60.2 47h1.2v1.2h-1.2zM57.3 48.1h1.2v1.2h-1.2zM78 51.7h1.2v1.2h-1.2zM63.5 38h1.2v1.2h-1.2zM61.1 40.1h1.2v1.2h-1.2zM61.4 45.3h1.2v1.2h-1.2zM75.4 41.8h1.2v1.2h-1.2zM74.9 47.8h1.2v1.2h-1.2zM53.8 59.3h1.2v1.2h-1.2zM58.9 59.3h1.2v1.2h-1.2zM49.7 52.1h1.2v1.2h-1.2zM63.9 51.7h1.2v1.2h-1.2zM59.7 47.9h1.2v1.2h-1.2zM55.4 45.7h1.2v1.2h-1.2zM65.4 48.8h1.2v1.2h-1.2zM65.3 51.1h1.2v1.2h-1.2zM58.9 46.2h1.2v1.2h-1.2zM62.7 43h1.2v1.2h-1.2zM57.3 39.9h1.2v1.2h-1.2zM75.1 52h1.2v1.2h-1.2zM55.6 44.6h1.2v1.2h-1.2zM60.7 43.9h1.2v1.2h-1.2zM55.6 49.9h1.2v1.2h-1.2zM72.8 46.9h1.2v1.2h-1.2zM59.3 45.7h1.2v1.2h-1.2zM76.6 44.5h1.2v1.2h-1.2zM72.7 42.9h1.2v1.2h-1.2zM74.4 45.2h1.2v1.2h-1.2zM55.5 47.4h1.2v1.2h-1.2zM72.4 43h1.2v1.2h-1.2zM53.9 46.7h1.2v1.2h-1.2zM66.4 45.4h1.2v1.2h-1.2zM55 43.7h1.2v1.2h-1.2zM65.1 48.5h1.2v1.2h-1.2zM60.8 47h1.2v1.2h-1.2zM72.2 40.2h1.2v1.2h-1.2zM65.3 40.6h1.2v1.2h-1.2zM58.6 40.3h1.2v1.2h-1.2zM78.8 48.6h1.2v1.2h-1.2zM77.6 43.5h1.2v1.2h-1.2zM64.8 40.4h1.2v1.2h-1.2zM52.2 45.2h1.2v1.2h-1.2zM63.9 43.6h1.2v1.2h-1.2zM74.6 45.4h1.2v1.2h-1.2zM75.9 44.1h1.2v1.2h-1.2zM72.8 59.4h1.2v1.2h-1.2zM75 40h1.2v1.2h-1.2zM52.7 41.3h1.2v1.2h-1.2zM57.3 39.6h1.2v1.2h-1.2zM68.4 52.9h1.2v1.2h-1.2zM66.5 67.1h1.2v1.2h-1.2zM68.9 40h1.2v1.2h-1.2zM57.6 54h1.2v1.2h-1.2zM63.4 38.5h1.2v1.2h-1.2zM61.7 48.9h1.2v1.2h-1.2zM60.2 49.2h1.2v1.2h-1.2zM75.6 51.5h1.2v1.2h-1.2zM64.6 50.7h1.2v1.2h-1.2zM51.5 44.6h1.2v1.2h-1.2zM79.4 48.3h1.2v1.2h-1.2zM74.3 45.6h1.2v1.2h-1.2zM70 46.6h1.2v1.2h-1.2zM75 48.2h1.2v1.2h-1.2zM78.8 42.7h1.2v1.2h-1.2zM76.3 41.6h1.2v1.2h-1.2zM55 43.5h1.2v1.2h-1.2zM70.8 40.8h1.2v1.2h-1.2zM56.8 68.5h1.2v1.2h-1.2zM69.9 44.1h1.2v1.2h-1.2zM56.8 54.8h1.2v1.2h-1.2zM67.7 42.1h1.2v1.2h-1.2zM61.2 41h1.2v1.2h-1.2zM57.7 50.8h1.2v1.2h-1.2zM63 42h1.2v1.2h-1.2zM78.8 44.7h1.2v1.2h-1.2zM70.1 49.6h1.2v1.2h-1.2zM67.7 69.6h1.2v1.2h-1.2zM52 54.9h1.2v1.2h-1.2zM57.7 41.1h1.2v1.2h-1.2zM65.7 38.2h1.2v1.2h-1.2zM67.8 44.9h1.2v1.2h-1.2zM56.6 52.1h1.2v1.2h-1.2zM73.2 47.7h1.2v1.2h-1.2zM68.8 54.1h1.2v1.2h-1.2zM77.8 58.8h1.2v1.2h-1.2zM63 37.2h1.2v1.2h-1.2zM65 41.7h1.2v1.2h-1.2zM73.6 43.5h1.2v1.2h-1.2zM62.2 39.5h1.2v1.2h-1.2zM70.8 43h1.2v1.2h-1.2zM76.6 41.4h1.2v1.2h-1.2zM52.5 49.5h1.2v1.2h-1.2zM55.6 64.7h1.2v1.2h-1.2zM61.8 48.5h1.2v1.2h-1.2zM77.4 53.6h1.2v1.2h-1.2zM72.2 51.8h1.2v1.2h-1.2zM73 43.6h1.2v1.2h-1.2zM49 46.7h1.2v1.2h-1.2zM71.5 43.2h1.2v1.2h-1.2zM71.2 42.2h1.2v1.2h-1.2zM70 60.3h1.2v1.2h-1.2zM63.9 38.8h1.2v1.2h-1.2zM71.1 55h1.2v1.2h-1.2zM63.6 40.9h1.2v1.2h-1.2zM57.1 40.3h1.2v1.2h-1.2zM79.6 47.9h1.2v1.2h-1.2zM53.6 52.5h1.2v1.2h-1.2zM69.7 45.2h1.2v1.2h-1.2zM78 42.2h1.2v1.2h-1.2zM79.5 48.5h1.2v1.2h-1.2zM77 55.3h1.2v1.2h-1.2zM68.7 39.9h1.2v1.2h-1.2zM64.4 40.9h1.2v1.2h-1.2zM72.7 44.3h1.2v1.2h-1.2zM71.9 65.1h1.2v1.2h-1.2zM53.5 44.5h1.2v1.2h-1.2zM58.8 38.2h1.2v1.2h-1.2zM62.5 37.5h1.2v1.2h-1.2zM71.8 42.2h1.2v1.2h-1.2zM76.4 48.8h1.2v1.2h-1.2zM63.9 41.3h1.2v1.2h-1.2zM62.1 52.8h1.2v1.2h-1.2zM63.4 38.8h1.2v1.2h-1.2zM64.3 48.4h1.2v1.2h-1.2zM54.2 40.9h1.2v1.2h-1.2zM65.9 40h1.2v1.2h-1.2zM64.1 43h1.2v1.2h-1.2zM68.1 41.9h1.2v1.2h-1.2zM65.1 37.4h1.2v1.2h-1.2zM60.5 42.1h1.2v1.2h-1.2zM74.9 44.1h1.2v1.2h-1.2zM56.7 47.3h1.2v1.2h-1.2zM63.4 40.9h1.2v1.2h-1.2zM64.7 51.8h1.2v1.2h-1.2zM52.1 48.6h1.2v1.2h-1.2zM54.3 42.1h1.2v1.2h-1.2zM63.6 49h1.2v1.2h-1.2zM56.5 38.5h1.2v1.2h-1.2zM67.3 46.1h1.2v1.2h-1.2zM64.2 38h1.2v1.2h-1.2zM68.4 61.3h1.2v1.2h-1.2zM58.4 45.8h1.2v1.2h-1.2zM63.1 47.4h1.2v1.2h-1.2zM66.1 44.1h1.2v1.2h-1.2zM52 52.2h1.2v1.2h-1.2zM62.3 57h1.2v1.2h-1.2zM73.1 47.9h1.2v1.2h-1.2zM72.7 48.8h1.2v1.2h-1.2zM60.3 61.9h1.2v1.2h-1.2zM72.7 44.4h1.2v1.2h-1.2zM56.5 66.4h1.2v1.2h-1.2zM71.9 40.6h1.2v1.2h-1.2zM64.6 39.6h1.2v1.2h-1.2zM54.2 57.7h1.2v1.2h-1.2zM60.2 61.3h1.2v1.2h-1.2z" fill="#dfe8ee"/><path d="M73.1 61.5h1v1h-1zM70.6 63.8h1v1h-1zM62.5 70.4h1v1h-1zM77.6 47.2h1v1h-1zM59.4 62.3h1v1h-1zM49.4 56.9h1v1h-1zM54.1 61h1v1h-1zM63.9 70.7h1v1h-1zM57.7 66h1v1h-1zM73.3 54.6h1v1h-1zM64.8 43.8h1v1h-1zM56.4 57h1v1h-1zM52 50.9h1v1h-1zM71.2 66.9h1v1h-1zM64.9 49.7h1v1h-1zM55.1 54h1v1h-1zM62.8 68.8h1v1h-1zM68.4 69.5h1v1h-1zM69.1 47.9h1v1h-1zM63.8 44.1h1v1h-1zM69.9 57h1v1h-1zM69.3 47.3h1v1h-1zM68.5 60.8h1v1h-1zM53.9 62.2h1v1h-1zM60.9 51.8h1v1h-1zM77.2 45.6h1v1h-1zM71.7 46.1h1v1h-1zM74.6 42.7h1v1h-1zM65.5 50.7h1v1h-1zM73.5 41.5h1v1h-1zM63.6 66.1h1v1h-1zM57 60.2h1v1h-1zM55.2 39.3h1v1h-1zM67.1 51.7h1v1h-1zM75.6 51.7h1v1h-1zM50.3 53.1h1v1h-1zM65.8 57.5h1v1h-1zM65.1 51.7h1v1h-1zM56.3 60.8h1v1h-1zM64.4 64.1h1v1h-1zM55.5 47.2h1v1h-1zM51.6 46.3h1v1h-1zM69.7 47h1v1h-1zM53.8 48.6h1v1h-1zM50 57.6h1v1h-1zM77.7 46.2h1v1h-1zM71.8 67.3h1v1h-1zM65.2 68.1h1v1h-1zM49.5 45.7h1v1h-1zM48.9 49.5h1v1h-1zM75.8 43.9h1v1h-1zM75.6 42.4h1v1h-1zM64 42.7h1v1h-1zM67.3 65.6h1v1h-1zM52.5 51.4h1v1h-1zM65.1 43.3h1v1h-1zM51.8 48h1v1h-1zM76.6 47.3h1v1h-1zM54.8 49.5h1v1h-1zM70.7 47.7h1v1h-1zM55.8 61h1v1h-1zM71.7 67.7h1v1h-1zM72.3 60h1v1h-1zM62.2 61.5h1v1h-1zM66.5 46.3h1v1h-1zM72.8 64.4h1v1h-1zM64.2 50.5h1v1h-1zM50.5 43.5h1v1h-1zM58 49.9h1v1h-1zM68.8 50.9h1v1h-1zM66 43.7h1v1h-1zM62.8 69.2h1v1h-1zM62.4 48.5h1v1h-1zM62.2 57.8h1v1h-1zM62.7 53.6h1v1h-1zM65.8 66.8h1v1h-1zM67 44.5h1v1h-1zM60.4 39.6h1v1h-1zM66.4 68.8h1v1h-1zM74.8 42.7h1v1h-1zM70.1 65.6h1v1h-1zM56.1 50.4h1v1h-1zM74.9 48h1v1h-1zM76.7 59.5h1v1h-1zM63.9 49.8h1v1h-1zM62.3 70.8h1v1h-1zM61.5 69.4h1v1h-1zM63.2 42.9h1v1h-1zM60.9 58.7h1v1h-1zM69.7 57.4h1v1h-1zM60.4 53.7h1v1h-1zM52.4 43.3h1v1h-1zM63.7 67h1v1h-1zM69.3 64.4h1v1h-1zM56.2 50.8h1v1h-1zM68.6 66.5h1v1h-1zM72.5 42.6h1v1h-1zM72.4 57.4h1v1h-1zM49.7 50.8h1v1h-1zM50.6 51.4h1v1h-1zM65.2 67.2h1v1h-1zM59.1 55.3h1v1h-1zM74.2 53.7h1v1h-1zM74.8 43h1v1h-1zM59 62.4h1v1h-1zM68.4 67.3h1v1h-1zM68 57.9h1v1h-1zM52.3 64h1v1h-1zM70.4 61h1v1h-1zM75.1 55.1h1v1h-1zM71.4 60.6h1v1h-1zM63.4 57.4h1v1h-1zM58.9 61.7h1v1h-1zM63.3 43.3h1v1h-1zM65.6 69.2h1v1h-1zM75.8 52.8h1v1h-1zM57.3 47.5h1v1h-1zM67.9 57.5h1v1h-1zM58.8 52.8h1v1h-1zM65.9 62.2h1v1h-1z" fill="#a9c6d8"/><path d="M37.8 9.5h1v1h-1zM38 13.4h1v1h-1zM36.1 9.1h1v1h-1zM34 10.1h1v1h-1zM34.7 10.3h1v1h-1zM39.3 11.9h1v1h-1zM36.1 11.1h1v1h-1zM37.1 12.7h1v1h-1zM37.7 14h1v1h-1zM37.2 13.4h1v1h-1zM33.9 12.6h1v1h-1zM34.6 10.9h1v1h-1zM35.5 8.4h1v1h-1zM33.2 10h1v1h-1zM37.7 12.5h1v1h-1zM36.4 10.2h1v1h-1zM35.6 13.3h1v1h-1zM33.5 10.4h1v1h-1zM33.3 11.8h1v1h-1zM37.8 13.9h1v1h-1zM34.3 9.6h1v1h-1zM38.7 12.5h1v1h-1zM35.6 13.1h1v1h-1zM35.8 10.9h1v1h-1zM40.1 12.1h1v1h-1zM35.1 9.2h1v1h-1zM37.1 13.5h1v1h-1zM38.5 10.6h1v1h-1zM32.8 9.2h1v1h-1zM36.9 11.9h1v1h-1z" fill="#3c7da2"/><path d="M43.6 34h1v1h-1zM38.1 32.2h1v1h-1zM43.5 33.3h1v1h-1zM43.8 34.6h1v1h-1zM41 34.1h1v1h-1zM41.4 36.4h1v1h-1zM41.4 38.3h1v1h-1zM44.3 36.2h1v1h-1zM40.9 33.2h1v1h-1zM48.1 38h1v1h-1zM48.5 36.2h1v1h-1zM45.6 34.3h1v1h-1zM46.3 36h1v1h-1zM42 32.3h1v1h-1z" fill="#3c7da2"/><path d="M46.4 42.7h1v1h-1zM43.7 42.9h1v1h-1zM46.4 40.5h1v1h-1zM48.3 41.7h1v1h-1zM44.7 41.2h1v1h-1zM45.2 44h1v1h-1zM48.3 39.8h1v1h-1zM48 39.5h1v1h-1zM46.1 44.5h1v1h-1zM45.5 43.7h1v1h-1zM45.5 42.3h1v1h-1zM49.1 43.6h1v1h-1z" fill="#3c7da2"/><path d="M7.5 39.5h1v1h-1zM29.5 73.5h1v1h-1zM20.5 62.5h1v1h-1zM8.5 17.5h1v1h-1zM24.5 29.5h1v1h-1z" fill="#3c7da2"/><line x1="0" y1="0" x2="0" y2="85" stroke="#858585" stroke-width="1"/><line x1="0" y1="85" x2="85.2" y2="85" stroke="#858585" stroke-width="1"/><text x="5" y="10.8" font-size="8.9" fill="#1a1a1a">CD8<tspan dy="-3" font-size="6">+</tspan><tspan dy="3"> T</tspan></text><text x="32.1" y="29.5" font-size="8.9" text-anchor="start" fill="#1a1a1a">Myeloid</text><text x="65" y="36.4" font-size="8.9" text-anchor="start" fill="#1a1a1a">B cells</text><text x="20.2" y="56" font-size="8.9" fill="#1a1a1a">T<tspan dy="3" font-size="6.5">reg</tspan></text><text x="26.7" y="82.1" font-size="8.9" fill="#1a1a1a">CD4<tspan dy="-3" font-size="6">+</tspan><tspan dy="3"> T</tspan></text></g><g transform="translate(347.5 28.5)"><use href="#ug"/><path d="M49.2 49C49.4 46.1 49 47 50 45C51 43 51.1 43.1 53 41.5C54.9 39.9 55 40 57 39C59 38 58.5 38.1 60.5 37.7C62.5 37.3 62.5 37.2 64.5 37.5C66.5 37.8 66.3 37.9 68 38.8C69.7 39.7 69.4 40.4 71 40.8C72.6 41.2 72.3 40.4 74 40.3C75.7 40.2 75.7 39.8 77.5 40.5C79.3 41.2 79.8 41.1 80.8 43C81.8 44.9 81.4 45.1 81.2 47.5C81 49.9 80.5 49.5 80 52C79.5 54.5 79.8 54.3 79.3 57C78.8 59.7 79 59.3 78 62C77 64.7 77.5 64.7 75.5 67C73.5 69.3 73.4 69.5 70.5 70.8C67.6 72.1 67.9 71.9 64.7 71.8C61.5 71.7 61.5 71.7 58.5 70.5C55.5 69.3 55.6 69.5 53.5 67.2C51.4 64.9 51.9 65 50.8 62C49.7 59 49.8 59.5 49.4 56C49 52.5 49 51.9 49.2 49Z" fill="#fcb116"/><path d="M54.3 60h1.3v1.3h-1.3zM68.7 58.2h1.3v1.3h-1.3zM60.4 64.6h1.3v1.3h-1.3zM52 56.8h1.3v1.3h-1.3zM77.8 59.1h1.3v1.3h-1.3zM74.5 63.8h1.3v1.3h-1.3zM70.6 62.9h1.3v1.3h-1.3zM69.8 51.5h1.3v1.3h-1.3zM65.5 65.6h1.3v1.3h-1.3zM63.4 49.3h1.3v1.3h-1.3zM73.4 51.7h1.3v1.3h-1.3zM70.2 63.2h1.3v1.3h-1.3zM56.4 68.6h1.3v1.3h-1.3zM61.1 64.4h1.3v1.3h-1.3zM68.6 50.6h1.3v1.3h-1.3zM76 56h1.3v1.3h-1.3zM74.9 51.7h1.3v1.3h-1.3zM72.3 50.8h1.3v1.3h-1.3zM59.3 62h1.3v1.3h-1.3zM61.1 67.4h1.3v1.3h-1.3zM66.3 51.6h1.3v1.3h-1.3zM65.2 62h1.3v1.3h-1.3zM67.6 57.5h1.3v1.3h-1.3zM60.5 61h1.3v1.3h-1.3zM63.6 70h1.3v1.3h-1.3zM63.5 65.2h1.3v1.3h-1.3zM75.5 64.2h1.3v1.3h-1.3zM56.7 68.8h1.3v1.3h-1.3zM61.7 61.1h1.3v1.3h-1.3zM65.6 61.2h1.3v1.3h-1.3zM74.5 53.2h1.3v1.3h-1.3zM77 56.8h1.3v1.3h-1.3zM72.6 60.4h1.3v1.3h-1.3zM72.5 52.2h1.3v1.3h-1.3zM61.4 56.5h1.3v1.3h-1.3zM77.2 57.2h1.3v1.3h-1.3zM61 60.8h1.3v1.3h-1.3zM63.3 59.2h1.3v1.3h-1.3zM75.1 59.9h1.3v1.3h-1.3zM73.9 60.4h1.3v1.3h-1.3zM70.7 56.1h1.3v1.3h-1.3zM56 62.2h1.3v1.3h-1.3zM67.5 58.7h1.3v1.3h-1.3zM67.7 61.2h1.3v1.3h-1.3zM68.9 52.4h1.3v1.3h-1.3zM69.7 58.2h1.3v1.3h-1.3zM67 66.6h1.3v1.3h-1.3zM61.8 61.7h1.3v1.3h-1.3zM60.5 38.4h1.3v1.3h-1.3zM64.1 63.6h1.3v1.3h-1.3zM62.1 59h1.3v1.3h-1.3zM66 55.1h1.3v1.3h-1.3zM67.2 55.1h1.3v1.3h-1.3zM71.8 61.4h1.3v1.3h-1.3zM60.7 58.3h1.3v1.3h-1.3zM57.8 62.8h1.3v1.3h-1.3zM58.5 68.8h1.3v1.3h-1.3zM63.9 68.2h1.3v1.3h-1.3zM65.1 57.8h1.3v1.3h-1.3zM71.7 61.8h1.3v1.3h-1.3zM65.5 60.5h1.3v1.3h-1.3zM78 50.9h1.3v1.3h-1.3zM75.6 62.6h1.3v1.3h-1.3zM69.7 47.3h1.3v1.3h-1.3zM72.8 63.8h1.3v1.3h-1.3zM57.6 59.8h1.3v1.3h-1.3zM62.8 52.2h1.3v1.3h-1.3zM78.5 55.2h1.3v1.3h-1.3zM68.1 56.2h1.3v1.3h-1.3zM75.2 65.3h1.3v1.3h-1.3zM72.8 66.2h1.3v1.3h-1.3zM66.1 65.1h1.3v1.3h-1.3zM74.2 55.9h1.3v1.3h-1.3zM58.5 55h1.3v1.3h-1.3zM65.7 51.5h1.3v1.3h-1.3zM65.6 64.1h1.3v1.3h-1.3zM70.9 58.8h1.3v1.3h-1.3zM66.2 61.4h1.3v1.3h-1.3zM66 53h1.3v1.3h-1.3zM59.2 56.6h1.3v1.3h-1.3zM61.3 64.3h1.3v1.3h-1.3zM62.1 58.9h1.3v1.3h-1.3zM51.8 58.6h1.3v1.3h-1.3zM65.6 65.3h1.3v1.3h-1.3zM70.8 57.7h1.3v1.3h-1.3zM52.7 47h1.3v1.3h-1.3zM76.5 62.9h1.3v1.3h-1.3zM54.4 60.6h1.3v1.3h-1.3zM68.5 52.8h1.3v1.3h-1.3zM74.5 59.8h1.3v1.3h-1.3zM66.9 64.4h1.3v1.3h-1.3zM66.7 57.4h1.3v1.3h-1.3zM68.2 57.6h1.3v1.3h-1.3zM64.9 69.8h1.3v1.3h-1.3zM73.4 64.6h1.3v1.3h-1.3zM71.8 57.8h1.3v1.3h-1.3zM61.3 57.4h1.3v1.3h-1.3zM74.4 50.8h1.3v1.3h-1.3zM75.9 58.7h1.3v1.3h-1.3zM64.8 59.8h1.3v1.3h-1.3zM66.1 47.1h1.3v1.3h-1.3zM61.9 61.8h1.3v1.3h-1.3zM66.9 58.2h1.3v1.3h-1.3zM73 56.5h1.3v1.3h-1.3zM60.4 67.3h1.3v1.3h-1.3zM76.3 60.1h1.3v1.3h-1.3zM73.2 57.8h1.3v1.3h-1.3zM63.7 55.3h1.3v1.3h-1.3zM72.4 63.9h1.3v1.3h-1.3zM63.9 52.7h1.3v1.3h-1.3zM57.7 67.6h1.3v1.3h-1.3zM65.9 70.3h1.3v1.3h-1.3zM70.1 63.9h1.3v1.3h-1.3zM61.9 44.6h1.3v1.3h-1.3zM59.8 54h1.3v1.3h-1.3zM62.7 70.4h1.3v1.3h-1.3zM64.2 63.1h1.3v1.3h-1.3zM69 57h1.3v1.3h-1.3zM69.6 58.7h1.3v1.3h-1.3zM66.1 59h1.3v1.3h-1.3zM72.1 54.3h1.3v1.3h-1.3zM77.7 49.3h1.3v1.3h-1.3zM75.7 59.2h1.3v1.3h-1.3zM69.2 69.5h1.3v1.3h-1.3zM75.7 51.1h1.3v1.3h-1.3zM64.6 54.1h1.3v1.3h-1.3zM59.5 53h1.3v1.3h-1.3zM68.9 63.7h1.3v1.3h-1.3zM57.8 47.6h1.3v1.3h-1.3zM67.8 58.8h1.3v1.3h-1.3zM71.5 60.6h1.3v1.3h-1.3zM67.6 61.4h1.3v1.3h-1.3zM75.1 61.7h1.3v1.3h-1.3zM78.7 45.9h1.3v1.3h-1.3zM57.8 68.8h1.3v1.3h-1.3zM54.7 58.4h1.3v1.3h-1.3zM75.3 63.3h1.3v1.3h-1.3zM71.8 65.1h1.3v1.3h-1.3zM72.3 62.3h1.3v1.3h-1.3zM66.8 53.3h1.3v1.3h-1.3zM61.2 60.7h1.3v1.3h-1.3zM78.2 48.5h1.3v1.3h-1.3zM72.1 59.5h1.3v1.3h-1.3zM73 55.8h1.3v1.3h-1.3zM65 61h1.3v1.3h-1.3zM70.6 55.4h1.3v1.3h-1.3zM75.3 62.1h1.3v1.3h-1.3zM69.4 64.6h1.3v1.3h-1.3zM74.9 56.4h1.3v1.3h-1.3zM64 50h1.3v1.3h-1.3zM65.7 53.2h1.3v1.3h-1.3zM64.4 66.5h1.3v1.3h-1.3zM57 57.9h1.3v1.3h-1.3zM59.1 50.3h1.3v1.3h-1.3zM75 59.4h1.3v1.3h-1.3zM64.3 50.3h1.3v1.3h-1.3zM66.9 61.9h1.3v1.3h-1.3zM76.8 57.4h1.3v1.3h-1.3zM59.3 68.1h1.3v1.3h-1.3zM69.3 63h1.3v1.3h-1.3zM74.3 62.9h1.3v1.3h-1.3zM60.8 61.5h1.3v1.3h-1.3zM64 55.9h1.3v1.3h-1.3zM74.5 64.2h1.3v1.3h-1.3zM65.5 68.4h1.3v1.3h-1.3zM77.3 47.3h1.3v1.3h-1.3zM68.5 58.3h1.3v1.3h-1.3zM69.9 50.3h1.3v1.3h-1.3zM70.5 51.9h1.3v1.3h-1.3zM62.9 57.1h1.3v1.3h-1.3zM54.3 43.6h1.3v1.3h-1.3zM67.8 52.1h1.3v1.3h-1.3zM73.7 45.8h1.3v1.3h-1.3zM69.8 61.1h1.3v1.3h-1.3zM61.9 63.6h1.3v1.3h-1.3zM62.1 65.4h1.3v1.3h-1.3zM64.7 55.7h1.3v1.3h-1.3zM58.9 65.1h1.3v1.3h-1.3zM66.8 54h1.3v1.3h-1.3zM66.3 51.6h1.3v1.3h-1.3zM65.6 60.4h1.3v1.3h-1.3zM65.6 58.1h1.3v1.3h-1.3zM62.7 64.8h1.3v1.3h-1.3zM62.5 54.6h1.3v1.3h-1.3zM65.7 54.7h1.3v1.3h-1.3zM59.7 60.9h1.3v1.3h-1.3zM65 58.9h1.3v1.3h-1.3zM76.4 54.6h1.3v1.3h-1.3zM61.1 67.9h1.3v1.3h-1.3zM71.8 63.3h1.3v1.3h-1.3zM68.6 65.8h1.3v1.3h-1.3zM68 68.2h1.3v1.3h-1.3zM72.3 67.8h1.3v1.3h-1.3zM55.8 58.7h1.3v1.3h-1.3zM73.5 42.8h1.3v1.3h-1.3zM68.5 54.6h1.3v1.3h-1.3zM61.3 61.5h1.3v1.3h-1.3zM67.3 62.6h1.3v1.3h-1.3zM73.6 61.7h1.3v1.3h-1.3zM64.5 56.7h1.3v1.3h-1.3zM68.9 65.4h1.3v1.3h-1.3zM60.7 44.2h1.3v1.3h-1.3zM70.9 57h1.3v1.3h-1.3zM58.7 60h1.3v1.3h-1.3zM66.4 68.5h1.3v1.3h-1.3zM78.6 51.9h1.3v1.3h-1.3zM65.9 68.7h1.3v1.3h-1.3zM61.3 58.6h1.3v1.3h-1.3zM66.1 64.3h1.3v1.3h-1.3zM56.1 57.9h1.3v1.3h-1.3zM61.7 57.7h1.3v1.3h-1.3zM65.5 60.5h1.3v1.3h-1.3zM70.5 60.2h1.3v1.3h-1.3zM72.7 62.9h1.3v1.3h-1.3zM65.5 58.4h1.3v1.3h-1.3zM72.9 60.8h1.3v1.3h-1.3zM74.8 55.1h1.3v1.3h-1.3zM68.6 63.2h1.3v1.3h-1.3zM66 54.4h1.3v1.3h-1.3zM68.2 62h1.3v1.3h-1.3zM64.4 55.3h1.3v1.3h-1.3zM67.5 57.1h1.3v1.3h-1.3zM69.5 54.3h1.3v1.3h-1.3zM53.4 41.3h1.3v1.3h-1.3zM72.4 63.4h1.3v1.3h-1.3zM65.7 52.3h1.3v1.3h-1.3zM66.5 68.2h1.3v1.3h-1.3zM60.6 66.1h1.3v1.3h-1.3zM68.3 53.2h1.3v1.3h-1.3zM61 44.4h1.3v1.3h-1.3zM62.4 67h1.3v1.3h-1.3zM72.8 65.1h1.3v1.3h-1.3zM73.1 65.7h1.3v1.3h-1.3zM67.3 59.9h1.3v1.3h-1.3zM65.8 64.9h1.3v1.3h-1.3zM58 63.8h1.3v1.3h-1.3zM69.9 55.7h1.3v1.3h-1.3zM61.3 67.1h1.3v1.3h-1.3zM65.3 63.2h1.3v1.3h-1.3zM67.9 57.6h1.3v1.3h-1.3zM67.9 65.1h1.3v1.3h-1.3zM66.8 67.2h1.3v1.3h-1.3zM69.4 54.5h1.3v1.3h-1.3zM67.7 59.1h1.3v1.3h-1.3zM65.8 64.8h1.3v1.3h-1.3zM54.4 40.5h1.3v1.3h-1.3zM56.5 64.4h1.3v1.3h-1.3zM72 60h1.3v1.3h-1.3zM68.8 54.5h1.3v1.3h-1.3zM73 66.6h1.3v1.3h-1.3zM65.6 64.2h1.3v1.3h-1.3zM71.5 62.5h1.3v1.3h-1.3zM61.7 64.8h1.3v1.3h-1.3zM77.3 59.9h1.3v1.3h-1.3zM73.1 66.6h1.3v1.3h-1.3zM76.3 57.7h1.3v1.3h-1.3zM66 48.9h1.3v1.3h-1.3zM66.5 67.2h1.3v1.3h-1.3zM67.6 69.2h1.3v1.3h-1.3zM68.1 68.6h1.3v1.3h-1.3zM63.5 60.5h1.3v1.3h-1.3zM63.5 69.7h1.3v1.3h-1.3zM69 51.5h1.3v1.3h-1.3zM73.6 61.6h1.3v1.3h-1.3zM74.9 57.3h1.3v1.3h-1.3zM78 58.6h1.3v1.3h-1.3zM75.2 53.1h1.3v1.3h-1.3zM76.8 54.9h1.3v1.3h-1.3zM71 66.4h1.3v1.3h-1.3zM70.9 63.9h1.3v1.3h-1.3zM69.8 54.6h1.3v1.3h-1.3zM73.8 54.7h1.3v1.3h-1.3zM72.3 47.1h1.3v1.3h-1.3zM60.9 50.9h1.3v1.3h-1.3zM75.6 55.1h1.3v1.3h-1.3zM60.9 66.1h1.3v1.3h-1.3zM70.4 64.3h1.3v1.3h-1.3zM77.2 61h1.3v1.3h-1.3zM70.2 56.5h1.3v1.3h-1.3zM75.1 47.2h1.3v1.3h-1.3zM57.3 53.1h1.3v1.3h-1.3zM56 58.3h1.3v1.3h-1.3zM65.4 44.9h1.3v1.3h-1.3zM73.3 49.7h1.3v1.3h-1.3zM55.3 49.7h1.3v1.3h-1.3zM73.7 56.4h1.3v1.3h-1.3zM58.2 66h1.3v1.3h-1.3zM72.2 60.9h1.3v1.3h-1.3zM63.8 71h1.3v1.3h-1.3zM53.2 44.2h1.3v1.3h-1.3zM69.2 56h1.3v1.3h-1.3zM61 56.7h1.3v1.3h-1.3zM67.5 61.2h1.3v1.3h-1.3zM70.1 65.7h1.3v1.3h-1.3zM67.1 60.5h1.3v1.3h-1.3zM71.6 56.9h1.3v1.3h-1.3zM70.5 58.8h1.3v1.3h-1.3zM76.7 57.1h1.3v1.3h-1.3zM63.7 59.6h1.3v1.3h-1.3zM67.9 64.6h1.3v1.3h-1.3zM59.5 63.4h1.3v1.3h-1.3zM65 70.7h1.3v1.3h-1.3zM75.6 52.1h1.3v1.3h-1.3zM71.8 40.2h1.3v1.3h-1.3zM63 64.6h1.3v1.3h-1.3zM65.6 49.3h1.3v1.3h-1.3zM65.5 67.1h1.3v1.3h-1.3zM70.5 58.8h1.3v1.3h-1.3zM70.7 64.3h1.3v1.3h-1.3zM63.6 39.6h1.3v1.3h-1.3zM60.8 58.1h1.3v1.3h-1.3zM69.5 68.5h1.3v1.3h-1.3zM72.8 53.1h1.3v1.3h-1.3zM50.3 45.7h1.3v1.3h-1.3zM59.2 55.8h1.3v1.3h-1.3zM67.1 48.5h1.3v1.3h-1.3zM76.7 55.7h1.3v1.3h-1.3zM66 58.1h1.3v1.3h-1.3zM64.7 63.2h1.3v1.3h-1.3zM77 60.2h1.3v1.3h-1.3zM69.8 66.7h1.3v1.3h-1.3zM67.2 48.7h1.3v1.3h-1.3zM58.6 56h1.3v1.3h-1.3zM66.4 56.4h1.3v1.3h-1.3zM75.1 51.2h1.3v1.3h-1.3zM67 55.6h1.3v1.3h-1.3zM78.1 58.1h1.3v1.3h-1.3zM73.3 63.4h1.3v1.3h-1.3zM63.9 66.9h1.3v1.3h-1.3zM60 62.8h1.3v1.3h-1.3zM70.2 62.3h1.3v1.3h-1.3zM55.8 63.2h1.3v1.3h-1.3zM76.8 51.5h1.3v1.3h-1.3zM71.2 56.1h1.3v1.3h-1.3zM69.2 56.3h1.3v1.3h-1.3zM57 61.8h1.3v1.3h-1.3zM65.3 66.2h1.3v1.3h-1.3zM74.6 52.7h1.3v1.3h-1.3zM67.3 62h1.3v1.3h-1.3zM66 61.7h1.3v1.3h-1.3zM69.2 52h1.3v1.3h-1.3zM70 49h1.3v1.3h-1.3zM67.9 59.9h1.3v1.3h-1.3zM57 64.4h1.3v1.3h-1.3zM77.2 59.9h1.3v1.3h-1.3zM71.4 61.9h1.3v1.3h-1.3zM69 56.9h1.3v1.3h-1.3zM64.2 54h1.3v1.3h-1.3zM55.8 60.6h1.3v1.3h-1.3zM66.3 48.7h1.3v1.3h-1.3zM66.6 58.8h1.3v1.3h-1.3zM65.4 61.6h1.3v1.3h-1.3zM77.3 56.1h1.3v1.3h-1.3zM59.7 49.9h1.3v1.3h-1.3zM67.9 48.4h1.3v1.3h-1.3zM68.3 54.8h1.3v1.3h-1.3zM58.6 66.6h1.3v1.3h-1.3zM61.8 48.3h1.3v1.3h-1.3zM68 65.9h1.3v1.3h-1.3zM71.7 63.7h1.3v1.3h-1.3zM68.1 64.8h1.3v1.3h-1.3zM71 48.5h1.3v1.3h-1.3zM69.5 63.9h1.3v1.3h-1.3zM67.8 64.3h1.3v1.3h-1.3zM63.6 63.7h1.3v1.3h-1.3zM60.1 57.3h1.3v1.3h-1.3zM69.1 64.3h1.3v1.3h-1.3zM69.1 63.4h1.3v1.3h-1.3zM59.2 57.3h1.3v1.3h-1.3zM76.3 58.7h1.3v1.3h-1.3zM57 47.3h1.3v1.3h-1.3zM68.2 56.8h1.3v1.3h-1.3zM75.2 49.1h1.3v1.3h-1.3zM73.6 52.2h1.3v1.3h-1.3zM66.8 62h1.3v1.3h-1.3zM75.6 55.3h1.3v1.3h-1.3zM58.4 67.3h1.3v1.3h-1.3zM69.4 65.9h1.3v1.3h-1.3zM60.1 60.3h1.3v1.3h-1.3zM71.1 56.1h1.3v1.3h-1.3z" fill="#ebe6dc"/><path d="M71.7 43h1.2v1.2h-1.2zM78.9 43.5h1.2v1.2h-1.2zM58.2 42.8h1.2v1.2h-1.2zM71.1 43.7h1.2v1.2h-1.2zM78.9 44.8h1.2v1.2h-1.2zM67.6 48.2h1.2v1.2h-1.2zM59.6 45.1h1.2v1.2h-1.2zM52.3 44.7h1.2v1.2h-1.2zM79.8 50h1.2v1.2h-1.2zM62.2 37.1h1.2v1.2h-1.2zM61.8 43h1.2v1.2h-1.2zM74.8 42.9h1.2v1.2h-1.2zM79.3 43.3h1.2v1.2h-1.2zM61.1 39h1.2v1.2h-1.2zM75.4 43.7h1.2v1.2h-1.2zM67.7 38.6h1.2v1.2h-1.2zM71.7 41h1.2v1.2h-1.2zM53.8 55.2h1.2v1.2h-1.2zM76.7 41h1.2v1.2h-1.2zM60.7 46.9h1.2v1.2h-1.2zM56.6 58.4h1.2v1.2h-1.2zM66 65.3h1.2v1.2h-1.2zM65.8 44.6h1.2v1.2h-1.2zM51 60h1.2v1.2h-1.2zM64.9 45h1.2v1.2h-1.2zM60.7 43.3h1.2v1.2h-1.2zM57.9 66.5h1.2v1.2h-1.2zM52.1 49.4h1.2v1.2h-1.2zM67.9 65.6h1.2v1.2h-1.2zM60.7 40h1.2v1.2h-1.2zM76.3 41.9h1.2v1.2h-1.2zM65 65.5h1.2v1.2h-1.2zM59 42.4h1.2v1.2h-1.2zM77 40.3h1.2v1.2h-1.2zM74.2 65.1h1.2v1.2h-1.2zM62.4 38.3h1.2v1.2h-1.2zM61.8 38.5h1.2v1.2h-1.2zM64.5 69h1.2v1.2h-1.2zM55.3 40.5h1.2v1.2h-1.2zM53.3 62.5h1.2v1.2h-1.2zM78.3 49.7h1.2v1.2h-1.2zM70.6 61.3h1.2v1.2h-1.2zM70.9 44.1h1.2v1.2h-1.2zM66.1 54.6h1.2v1.2h-1.2zM69 48.7h1.2v1.2h-1.2zM66.4 45.3h1.2v1.2h-1.2zM66.3 50.1h1.2v1.2h-1.2zM79.1 51.3h1.2v1.2h-1.2zM74.4 64.7h1.2v1.2h-1.2zM71.4 48.5h1.2v1.2h-1.2zM50.7 55.9h1.2v1.2h-1.2zM63.3 42.3h1.2v1.2h-1.2zM75.6 42.8h1.2v1.2h-1.2zM76.6 41.1h1.2v1.2h-1.2zM60.5 61h1.2v1.2h-1.2zM75.2 65.5h1.2v1.2h-1.2zM63.5 66.2h1.2v1.2h-1.2zM62.1 61.2h1.2v1.2h-1.2zM51.2 45.2h1.2v1.2h-1.2zM73.5 40.8h1.2v1.2h-1.2zM49.6 54.6h1.2v1.2h-1.2zM63.5 53.2h1.2v1.2h-1.2zM62.4 43.8h1.2v1.2h-1.2zM67.9 38.6h1.2v1.2h-1.2zM67.7 40.4h1.2v1.2h-1.2zM72.2 54.5h1.2v1.2h-1.2zM63.1 42.4h1.2v1.2h-1.2zM72.7 49.9h1.2v1.2h-1.2zM62.9 45.5h1.2v1.2h-1.2zM72.7 40.9h1.2v1.2h-1.2zM76.2 63.5h1.2v1.2h-1.2zM62.3 37.8h1.2v1.2h-1.2zM56.9 44.5h1.2v1.2h-1.2zM60.5 42.5h1.2v1.2h-1.2zM53.9 41.7h1.2v1.2h-1.2zM62.6 42.6h1.2v1.2h-1.2zM51.5 42.9h1.2v1.2h-1.2zM60.4 46.1h1.2v1.2h-1.2zM68.1 46.9h1.2v1.2h-1.2zM67.1 42.3h1.2v1.2h-1.2zM62.4 38.1h1.2v1.2h-1.2zM68.6 41.9h1.2v1.2h-1.2zM75.7 41.5h1.2v1.2h-1.2zM58.6 44.7h1.2v1.2h-1.2zM70 44.2h1.2v1.2h-1.2zM54.4 48.8h1.2v1.2h-1.2zM64 42.4h1.2v1.2h-1.2zM68.6 43.9h1.2v1.2h-1.2zM71.1 54.6h1.2v1.2h-1.2zM65 43.3h1.2v1.2h-1.2z" fill="#f4efe6"/><path d="M35.2 9.5h1v1h-1zM38.5 10.3h1v1h-1zM36.7 8.5h1v1h-1zM35.9 9.8h1v1h-1zM36.1 11.6h1v1h-1zM37.9 9.6h1v1h-1zM39.6 11h1v1h-1zM36.9 13.8h1v1h-1zM38.5 11.8h1v1h-1zM36.1 9.8h1v1h-1z" fill="#fcb116"/><path d="M43.5 37.6h1v1h-1zM39.9 37.8h1v1h-1zM41.8 35.6h1v1h-1zM41.2 31.9h1v1h-1zM46.7 38.2h1v1h-1zM45.8 36.6h1v1h-1zM41.7 36.4h1v1h-1zM45.2 36.6h1v1h-1zM40.3 34.5h1v1h-1zM39.7 36.3h1v1h-1zM45.6 34.7h1v1h-1zM39.3 36.4h1v1h-1zM48.8 38h1v1h-1zM39.5 33.4h1v1h-1z" fill="#fcb116"/><path d="M48.4 33.8h1v1h-1zM49.2 34.4h1v1h-1zM41.8 38.5h1v1h-1zM44.1 36.3h1v1h-1zM41.9 36h1v1h-1zM48.4 34.5h1v1h-1zM43.3 35.5h1v1h-1zM49.3 39.5h1v1h-1zM46.7 35.7h1v1h-1zM43.7 39.3h1v1h-1zM42.9 39h1v1h-1zM46.3 37.1h1v1h-1zM42.7 32.7h1v1h-1zM46.7 35.3h1v1h-1zM41.4 34.5h1v1h-1zM40.1 36.4h1v1h-1zM41 40.7h1v1h-1zM46.1 37.5h1v1h-1zM39.6 32.5h1v1h-1zM46.6 38.6h1v1h-1zM48.6 38.2h1v1h-1zM46.7 37.9h1v1h-1zM40.6 40.3h1v1h-1zM48 40.8h1v1h-1zM46.9 35.7h1v1h-1z" fill="#fcb116"/><path d="M19.5 81.5h1v1h-1zM22.5 60.5h1v1h-1z" fill="#fcb116"/><line x1="0" y1="0" x2="0" y2="85" stroke="#858585" stroke-width="1"/><line x1="0" y1="85" x2="85.2" y2="85" stroke="#858585" stroke-width="1"/><text x="5" y="10.8" font-size="8.9" fill="#1a1a1a">CD8<tspan dy="-3" font-size="6">+</tspan><tspan dy="3"> T</tspan></text><text x="32.1" y="29.5" font-size="8.9" text-anchor="start" fill="#1a1a1a">Myeloid</text><text x="65" y="36.4" font-size="8.9" text-anchor="start" fill="#1a1a1a">B cells</text><text x="20.2" y="56" font-size="8.9" fill="#1a1a1a">T<tspan dy="3" font-size="6.5">reg</tspan></text><text x="26.7" y="82.1" font-size="8.9" fill="#1a1a1a">CD4<tspan dy="-3" font-size="6">+</tspan><tspan dy="3"> T</tspan></text></g><g transform="translate(253.5 122.5)"><use href="#ug"/><path d="M4.4 20C4.7 18 4.7 18 5.8 16.5C6.9 15 6.6 15.3 8.5 14.5C10.4 13.7 10.5 13.9 13 13.6C15.5 13.3 15.6 13.4 18 13.5C20.4 13.6 20.3 13.2 22 14C23.7 14.8 23.6 14.6 24.5 16.5C25.4 18.4 25.3 18.5 25.5 21C25.7 23.5 25.6 23.6 25.3 26C25 28.4 25.2 28.1 24.5 30C23.8 31.9 23.3 31.1 22.8 33C22.3 34.9 22.8 34.9 22.5 37C22.2 39.1 22 38.7 21.5 41C21 43.3 20.9 43.1 20.5 45.5C20.1 47.9 20.3 47.7 20 50C19.7 52.3 19.6 51.7 19.5 54C19.4 56.3 19 56.6 19.5 58.5C20 60.4 20 59.4 21.5 61C23 62.6 23.8 62.1 25.2 64.5C26.6 66.9 26.1 66.8 26.6 70C27.1 73.2 27.7 73.7 27 76.5C26.3 79.3 26.5 79.1 24 80.5C21.5 81.9 20.8 81.9 17.5 81.8C14.2 81.7 14 81.8 11.5 80C9 78.2 9.4 77.9 8.3 75C7.2 72.1 7.4 71.9 7.4 69C7.4 66.1 7.5 66.3 8.2 64C8.9 61.7 9.3 62.5 10 60.5C10.7 58.5 10.2 58.9 11 56.5C11.8 54.1 11.8 54.2 13 51.5C14.2 48.8 14.7 49.2 15.5 46.5C16.3 43.8 15.7 44.2 16 41.5C16.3 38.8 16.9 38.7 16.5 36.5C16.1 34.3 16.2 34.5 14.5 33.2C12.8 31.9 12.1 32.8 10 31.5C7.9 30.2 7.9 30.5 6.5 28.5C5.1 26.5 5.4 26.3 4.8 24C4.2 21.7 4.1 22 4.4 20Z" fill="#849437"/><path d="M17.7 56.3h1.2v1.2h-1.2zM16 14.9h1.2v1.2h-1.2zM13.5 31h1.2v1.2h-1.2zM10.2 65.7h1.2v1.2h-1.2zM13.4 53.5h1.2v1.2h-1.2zM22.6 31.2h1.2v1.2h-1.2zM18.8 50.7h1.2v1.2h-1.2zM21.6 17.9h1.2v1.2h-1.2zM24.7 22.7h1.2v1.2h-1.2zM10.6 55.6h1.2v1.2h-1.2zM18.4 55h1.2v1.2h-1.2zM9.1 71.5h1.2v1.2h-1.2zM16.5 56.4h1.2v1.2h-1.2zM16.8 54.5h1.2v1.2h-1.2zM24 77.1h1.2v1.2h-1.2zM21.6 69.6h1.2v1.2h-1.2zM18.7 56h1.2v1.2h-1.2zM13.4 55.9h1.2v1.2h-1.2zM16.7 54.6h1.2v1.2h-1.2zM14.5 58.7h1.2v1.2h-1.2zM17.6 53.6h1.2v1.2h-1.2zM16.6 46.2h1.2v1.2h-1.2zM10.9 55.1h1.2v1.2h-1.2zM14 32.5h1.2v1.2h-1.2zM15.8 34.1h1.2v1.2h-1.2zM17.3 34h1.2v1.2h-1.2zM21 75.3h1.2v1.2h-1.2zM11.6 74h1.2v1.2h-1.2zM17.9 54.3h1.2v1.2h-1.2zM19.3 36.4h1.2v1.2h-1.2zM24.5 74.9h1.2v1.2h-1.2zM24.6 64.1h1.2v1.2h-1.2zM15.1 53.3h1.2v1.2h-1.2zM14.5 60.6h1.2v1.2h-1.2zM10.5 23.7h1.2v1.2h-1.2zM15.4 53.1h1.2v1.2h-1.2zM14 79h1.2v1.2h-1.2zM23.5 70.1h1.2v1.2h-1.2zM5.6 20.9h1.2v1.2h-1.2zM16.2 72.7h1.2v1.2h-1.2zM12.9 57.3h1.2v1.2h-1.2zM21.4 23.2h1.2v1.2h-1.2zM18.6 45.5h1.2v1.2h-1.2zM20.2 19.3h1.2v1.2h-1.2zM12.7 25.2h1.2v1.2h-1.2zM22.3 67.7h1.2v1.2h-1.2zM14.7 71.7h1.2v1.2h-1.2zM18.2 80h1.2v1.2h-1.2zM17.1 53.4h1.2v1.2h-1.2zM14.8 31.7h1.2v1.2h-1.2zM17 60.1h1.2v1.2h-1.2zM16.6 49.6h1.2v1.2h-1.2zM19.1 71.3h1.2v1.2h-1.2zM20.8 74.8h1.2v1.2h-1.2zM17.6 59.7h1.2v1.2h-1.2zM8.4 66.5h1.2v1.2h-1.2zM17.8 46.7h1.2v1.2h-1.2zM16.6 39.7h1.2v1.2h-1.2zM8 63.7h1.2v1.2h-1.2zM22.8 63.7h1.2v1.2h-1.2zM7.8 65.4h1.2v1.2h-1.2zM12.1 76.7h1.2v1.2h-1.2zM9.8 25.2h1.2v1.2h-1.2zM15.8 56h1.2v1.2h-1.2zM16.5 64.9h1.2v1.2h-1.2zM14.2 16.1h1.2v1.2h-1.2zM20.1 38.3h1.2v1.2h-1.2zM19.7 59.6h1.2v1.2h-1.2zM12.3 26.8h1.2v1.2h-1.2zM15.4 63.9h1.2v1.2h-1.2zM16.3 50.9h1.2v1.2h-1.2zM16.4 39.2h1.2v1.2h-1.2zM16.1 41.7h1.2v1.2h-1.2zM24.9 73.2h1.2v1.2h-1.2zM17.4 39.7h1.2v1.2h-1.2zM19.5 29.7h1.2v1.2h-1.2zM19.8 32.5h1.2v1.2h-1.2zM13.4 53.1h1.2v1.2h-1.2zM18.3 32h1.2v1.2h-1.2zM16.4 17.4h1.2v1.2h-1.2zM19.4 48.1h1.2v1.2h-1.2zM7.4 70.6h1.2v1.2h-1.2zM17 60.6h1.2v1.2h-1.2zM16.1 56.2h1.2v1.2h-1.2zM19.9 60.2h1.2v1.2h-1.2zM19.2 46.8h1.2v1.2h-1.2zM19.4 16.9h1.2v1.2h-1.2zM19.7 42.9h1.2v1.2h-1.2zM21.1 19.4h1.2v1.2h-1.2zM19 31.3h1.2v1.2h-1.2zM17.4 17.3h1.2v1.2h-1.2zM19.5 70h1.2v1.2h-1.2zM17.1 31.1h1.2v1.2h-1.2zM14.4 27.8h1.2v1.2h-1.2zM15.8 42.4h1.2v1.2h-1.2zM19.8 64.8h1.2v1.2h-1.2zM9.5 63h1.2v1.2h-1.2zM17.3 49.5h1.2v1.2h-1.2zM16.2 41.9h1.2v1.2h-1.2zM16.4 40.4h1.2v1.2h-1.2zM17.6 39.4h1.2v1.2h-1.2zM12.6 55.3h1.2v1.2h-1.2zM14.4 71.2h1.2v1.2h-1.2zM8.1 73.1h1.2v1.2h-1.2zM10.3 75.9h1.2v1.2h-1.2zM6.4 20.9h1.2v1.2h-1.2zM12.3 60.2h1.2v1.2h-1.2zM19.9 32.7h1.2v1.2h-1.2zM21.2 37.3h1.2v1.2h-1.2zM9.7 59.1h1.2v1.2h-1.2z" fill="#e4e8d8"/><path d="M47.8 37.5h1v1h-1zM47.1 32.2h1v1h-1zM46.4 32.5h1v1h-1zM41.9 32.5h1v1h-1zM48.7 37.8h1v1h-1zM47.5 38.3h1v1h-1zM47.5 37.5h1v1h-1zM40.4 36.6h1v1h-1zM40.4 33h1v1h-1zM42.6 39h1v1h-1zM40 36.8h1v1h-1zM48.3 38h1v1h-1zM40.7 35.4h1v1h-1zM43.3 34.8h1v1h-1zM40.2 33.8h1v1h-1zM48.4 35.7h1v1h-1zM43.3 32.9h1v1h-1zM45.3 38.5h1v1h-1zM48.6 33.7h1v1h-1zM42.5 34.7h1v1h-1zM39.4 37.1h1v1h-1zM43.9 38.6h1v1h-1zM40.3 36.2h1v1h-1zM43.2 36.6h1v1h-1zM48.2 35.8h1v1h-1zM47.2 36.1h1v1h-1zM41.3 33.3h1v1h-1zM44.4 35.8h1v1h-1zM40.2 32.6h1v1h-1zM41.4 38.3h1v1h-1zM39.8 33.6h1v1h-1zM41.7 33.5h1v1h-1zM43.2 36.2h1v1h-1zM45.9 32h1v1h-1zM43 32.6h1v1h-1zM40.6 37.3h1v1h-1zM40.4 33h1v1h-1zM47 35.8h1v1h-1zM43.1 38.5h1v1h-1zM45.7 32.6h1v1h-1z" fill="#849437"/><path d="M32.1 42.5h1v1h-1zM33.3 42h1v1h-1zM33.5 41.4h1v1h-1zM33.5 41.3h1v1h-1zM34.4 41.3h1v1h-1zM35.2 41.1h1v1h-1zM34.7 41.1h1v1h-1zM35.7 40.8h1v1h-1zM36.3 40h1v1h-1zM36.7 40.4h1v1h-1zM37 39.9h1v1h-1zM37.4 39.4h1v1h-1zM37.6 39.9h1v1h-1zM38.3 39.1h1v1h-1zM39 39.2h1v1h-1zM39.5 39.1h1v1h-1zM39.5 38.3h1v1h-1zM39.9 38.7h1v1h-1z" fill="#849437"/><path d="M43.3 44.3h1v1h-1zM42.2 44h1v1h-1zM40.5 41.8h1v1h-1zM42.8 42.3h1v1h-1zM43.7 43.9h1v1h-1zM42.2 42.9h1v1h-1zM40.7 46.4h1v1h-1zM41.3 42h1v1h-1zM40.7 43.2h1v1h-1zM43.8 46h1v1h-1z" fill="#849437"/><path d="M36.9 13.2h1v1h-1zM40.3 13h1v1h-1zM34.9 12.7h1v1h-1zM36.3 13.9h1v1h-1zM35.9 10h1v1h-1zM33.4 12.5h1v1h-1z" fill="#849437"/><path d="M24.3 14.2h1v1h-1zM25.1 14.1h1v1h-1zM25.6 14.1h1v1h-1zM25.6 14.1h1v1h-1zM26.4 13.7h1v1h-1zM26.4 13.8h1v1h-1zM26.9 12.9h1v1h-1zM27.1 12.8h1v1h-1zM27.7 13h1v1h-1zM28 12.4h1v1h-1zM28.7 12.8h1v1h-1zM29 12.4h1v1h-1zM29 12.2h1v1h-1zM29.4 11.8h1v1h-1z" fill="#849437"/><path d="M38 3.5h1.1v1.1h-1.1zM38.5 4.5h1.1v1.1h-1.1zM2.5 36.5h1.1v1.1h-1.1z" fill="#849437"/><line x1="0" y1="0" x2="0" y2="85" stroke="#858585" stroke-width="1"/><line x1="0" y1="85" x2="85.2" y2="85" stroke="#858585" stroke-width="1"/><text x="5" y="10.8" font-size="8.9" fill="#1a1a1a">CD8<tspan dy="-3" font-size="6">+</tspan><tspan dy="3"> T</tspan></text><text x="32.1" y="29.5" font-size="8.9" text-anchor="start" fill="#1a1a1a">Myeloid</text><text x="65" y="36.4" font-size="8.9" text-anchor="start" fill="#1a1a1a">B cells</text><text x="20.2" y="56" font-size="8.9" fill="#1a1a1a">T<tspan dy="3" font-size="6.5">reg</tspan></text><text x="26.7" y="82.1" font-size="8.9" fill="#1a1a1a">CD4<tspan dy="-3" font-size="6">+</tspan><tspan dy="3"> T</tspan></text></g><g transform="translate(347.5 122.5)"><use href="#ug"/><path d="M12.3 65.3h1v1h-1zM10.7 77.3h1v1h-1zM22.6 23.6h1v1h-1zM20.8 17.5h1v1h-1zM13.9 22.4h1v1h-1zM16.6 56.9h1v1h-1zM16.1 46.3h1v1h-1zM12.3 20.5h1v1h-1zM7.5 21.3h1v1h-1zM16.4 49.7h1v1h-1zM8.7 30.3h1v1h-1zM15.4 44.4h1v1h-1zM15.4 42.4h1v1h-1zM13.8 80.3h1v1h-1zM12.4 60.7h1v1h-1zM25.9 71.9h1v1h-1zM21.4 61h1v1h-1zM10.8 65.7h1v1h-1zM23.5 29.3h1v1h-1zM22.9 27.8h1v1h-1zM21.8 62.8h1v1h-1zM12.3 74.9h1v1h-1zM7.2 67.2h1v1h-1zM17.7 19.1h1v1h-1zM22.9 76.1h1v1h-1zM21.3 15.8h1v1h-1zM14.3 15.2h1v1h-1zM15.7 54.3h1v1h-1zM18 40.3h1v1h-1zM15.2 62.5h1v1h-1z" fill="#db6018"/><path d="M42.5 36.8h1v1h-1zM40 37.6h1v1h-1zM44.5 36.7h1v1h-1zM46.6 33.6h1v1h-1zM47.6 37.5h1v1h-1zM40.4 33.9h1v1h-1zM38.8 32.8h1v1h-1z" fill="#db6018"/><path d="M37.5 4h1v1h-1zM34.5 9.5h1v1h-1zM29.5 41.5h1v1h-1zM32.5 40.5h1v1h-1z" fill="#db6018"/><line x1="0" y1="0" x2="0" y2="85" stroke="#858585" stroke-width="1"/><line x1="0" y1="85" x2="85.2" y2="85" stroke="#858585" stroke-width="1"/><text x="5" y="10.8" font-size="8.9" fill="#1a1a1a">CD8<tspan dy="-3" font-size="6">+</tspan><tspan dy="3"> T</tspan></text><text x="32.1" y="29.5" font-size="8.9" text-anchor="start" fill="#1a1a1a">Myeloid</text><text x="65" y="36.4" font-size="8.9" text-anchor="start" fill="#1a1a1a">B cells</text><text x="20.2" y="56" font-size="8.9" fill="#1a1a1a">T<tspan dy="3" font-size="6.5">reg</tspan></text><text x="26.7" y="82.1" font-size="8.9" fill="#1a1a1a">CD4<tspan dy="-3" font-size="6">+</tspan><tspan dy="3"> T</tspan></text></g><text x="343.5" y="220.3" font-size="8.9" text-anchor="middle" fill="#1a1a1a">UMAP1</text><text x="248.6" y="116" font-size="8.9" text-anchor="middle" transform="rotate(-90 248.6 116)" fill="#1a1a1a">UMAP2</text><text x="239" y="8" font-size="10" text-anchor="start" font-weight="bold" fill="#111">b</text><g transform="translate(253.5 268.5)"><use href="#ug"/><path d="M12.9 56.1h1v1h-1zM14.7 54.7h1v1h-1zM8.8 19.7h1v1h-1zM17.4 20.2h1v1h-1zM21.4 14.1h1v1h-1zM21.6 65.1h1v1h-1zM10.5 59.7h1v1h-1zM22.2 17.8h1v1h-1zM20.4 70.4h1v1h-1zM7.9 17.6h1v1h-1zM9.3 25.8h1v1h-1zM23.3 74.8h1v1h-1zM8.8 23.1h1v1h-1zM22.7 65.3h1v1h-1zM20 34.5h1v1h-1zM25.3 67h1v1h-1zM22.2 30.3h1v1h-1zM18.2 69h1v1h-1zM13.8 21.2h1v1h-1zM11.5 68.3h1v1h-1zM11.1 73.3h1v1h-1zM13.3 15.6h1v1h-1zM11.1 23.3h1v1h-1zM20.9 80.4h1v1h-1zM15.7 75.9h1v1h-1zM22.1 16.9h1v1h-1zM15 62.4h1v1h-1zM20.3 63h1v1h-1zM24.6 25h1v1h-1zM21 66.5h1v1h-1zM19 61.3h1v1h-1zM13.8 28.4h1v1h-1zM19.4 18.4h1v1h-1zM6.2 22.3h1v1h-1zM9.2 14.2h1v1h-1zM9.6 70.1h1v1h-1zM14.7 28.8h1v1h-1zM13.7 17h1v1h-1zM9.9 60.9h1v1h-1zM26.3 75.8h1v1h-1zM15.5 48.5h1v1h-1zM16.6 57.4h1v1h-1zM11.2 63.7h1v1h-1zM11.9 63.9h1v1h-1zM24.7 74.2h1v1h-1zM18.1 18.3h1v1h-1zM21.1 15.5h1v1h-1zM8.8 64.4h1v1h-1zM20.5 15h1v1h-1zM15.2 62.2h1v1h-1zM21.7 71.4h1v1h-1zM16.1 43.5h1v1h-1zM11.5 78.7h1v1h-1zM24.5 24.4h1v1h-1zM19.8 75.9h1v1h-1zM10.8 19h1v1h-1zM18.3 63.8h1v1h-1zM15.9 63.8h1v1h-1zM4.6 23.3h1v1h-1zM16.1 28.6h1v1h-1zM18.4 50.7h1v1h-1zM8.7 15.6h1v1h-1zM19.1 61.9h1v1h-1zM24.3 69h1v1h-1zM10.1 27.6h1v1h-1zM10.9 30.7h1v1h-1zM8.9 64.2h1v1h-1zM10.6 68.5h1v1h-1zM19.6 62.5h1v1h-1zM5 20.8h1v1h-1zM22.5 25.4h1v1h-1zM14.8 15.1h1v1h-1zM14.7 20.5h1v1h-1zM7.7 65.3h1v1h-1zM13.3 72.1h1v1h-1zM16.5 77.3h1v1h-1zM18 18.4h1v1h-1zM16.3 15h1v1h-1zM18.5 67.3h1v1h-1zM15.4 72.3h1v1h-1zM17.5 77.9h1v1h-1zM13 69.9h1v1h-1zM14.2 15.1h1v1h-1zM14.2 66.9h1v1h-1zM10.5 77.7h1v1h-1zM15.2 17.5h1v1h-1zM8.5 28.2h1v1h-1zM21 73.6h1v1h-1zM15.3 79.5h1v1h-1zM10.6 70.2h1v1h-1zM23 69.4h1v1h-1zM10.8 60.8h1v1h-1zM9 74.4h1v1h-1zM12.6 78h1v1h-1zM7.9 67.4h1v1h-1zM24 69h1v1h-1zM7.6 18.3h1v1h-1zM7.2 22.5h1v1h-1zM18.6 69.2h1v1h-1zM18.2 19.5h1v1h-1zM17 28.8h1v1h-1zM12.4 60.9h1v1h-1zM17 13.5h1v1h-1zM11 55.3h1v1h-1zM14.9 62.8h1v1h-1zM20.5 67.6h1v1h-1zM13.7 62.9h1v1h-1zM11.1 13.7h1v1h-1zM20.3 22.2h1v1h-1zM17.1 71.8h1v1h-1zM17.3 72.6h1v1h-1zM14.6 74.4h1v1h-1zM5.4 25.7h1v1h-1zM21.8 78h1v1h-1zM15 71.2h1v1h-1zM17.2 57.5h1v1h-1zM19 18.5h1v1h-1zM16.8 75.4h1v1h-1zM14.6 62.2h1v1h-1zM14.2 23.9h1v1h-1zM9.5 65.1h1v1h-1zM17.7 34.3h1v1h-1zM15.1 50.1h1v1h-1zM9.6 62.3h1v1h-1zM13.5 22h1v1h-1zM18.6 72.3h1v1h-1zM15.1 25.5h1v1h-1zM7.9 26.6h1v1h-1zM19.2 65.5h1v1h-1zM12.5 27h1v1h-1zM9.9 14.6h1v1h-1zM21.4 68h1v1h-1zM16.5 22.1h1v1h-1zM10.1 30.9h1v1h-1zM9.7 30.3h1v1h-1zM6.4 23.1h1v1h-1zM6.1 24.1h1v1h-1zM22.6 62.9h1v1h-1zM19.4 63.1h1v1h-1zM10.2 26.5h1v1h-1zM15.6 43.7h1v1h-1zM23.6 66.1h1v1h-1zM12.5 73.6h1v1h-1zM22.5 63.9h1v1h-1zM14.6 65.9h1v1h-1zM22.1 72.9h1v1h-1zM12.1 73.7h1v1h-1zM10.5 72.5h1v1h-1zM19.3 68.6h1v1h-1zM17.3 81.1h1v1h-1zM22.1 80.1h1v1h-1zM16.2 79.6h1v1h-1zM26.2 72.8h1v1h-1zM22.1 24.8h1v1h-1zM13.7 75.7h1v1h-1zM24 65h1v1h-1zM15.1 18.1h1v1h-1zM22.4 76h1v1h-1zM23 72.5h1v1h-1zM18.3 69.6h1v1h-1zM16.4 65.6h1v1h-1zM9.3 71.9h1v1h-1zM11.6 27.7h1v1h-1zM16.5 14.8h1v1h-1zM21.9 65.6h1v1h-1zM18.5 40.2h1v1h-1zM15.7 63.1h1v1h-1zM5.2 19.6h1v1h-1zM9.3 29.4h1v1h-1zM14.4 23.6h1v1h-1zM24.2 65.5h1v1h-1zM16.1 72.8h1v1h-1zM20 79.1h1v1h-1zM19.3 45.9h1v1h-1zM8.3 14.6h1v1h-1zM8.3 25.2h1v1h-1zM20.1 69.6h1v1h-1zM9.8 59h1v1h-1zM23 67.9h1v1h-1zM12.2 62.9h1v1h-1zM19.1 73.9h1v1h-1zM24.3 26.8h1v1h-1zM15.8 46.9h1v1h-1zM7.5 25.2h1v1h-1zM15.6 59.4h1v1h-1zM15.6 76.6h1v1h-1zM9.4 75.3h1v1h-1zM12.6 13.3h1v1h-1zM13.7 75.6h1v1h-1zM21.4 62.3h1v1h-1z" fill="#3c7da2"/><path d="M37.6 10.1h1v1h-1zM36.2 13.5h1v1h-1zM37.8 12h1v1h-1zM34.9 9.1h1v1h-1zM39.2 13.2h1v1h-1zM38.1 9.8h1v1h-1zM35.9 11h1v1h-1zM36.5 8.6h1v1h-1z" fill="#3c7da2"/><path d="M2.5 36.5h1v1h-1zM46.5 34.5h1v1h-1zM13.5 55.5h1v1h-1zM14.5 54.5h1v1h-1z" fill="#3c7da2"/><line x1="0" y1="0" x2="0" y2="85" stroke="#858585" stroke-width="1"/><line x1="0" y1="85" x2="85.2" y2="85" stroke="#858585" stroke-width="1"/><text x="5" y="10.8" font-size="8.9" fill="#1a1a1a">CD8<tspan dy="-3" font-size="6">+</tspan><tspan dy="3"> T</tspan></text><text x="32.1" y="29.5" font-size="8.9" text-anchor="start" fill="#1a1a1a">Myeloid</text><text x="65" y="36.4" font-size="8.9" text-anchor="start" fill="#1a1a1a">B cells</text><text x="20.2" y="56" font-size="8.9" fill="#1a1a1a">T<tspan dy="3" font-size="6.5">reg</tspan></text><text x="26.7" y="82.1" font-size="8.9" fill="#1a1a1a">CD4<tspan dy="-3" font-size="6">+</tspan><tspan dy="3"> T</tspan></text></g><g transform="translate(347.5 268.5)"><use href="#ug"/><path d="M4.4 20C4.7 18 4.7 18 5.8 16.5C6.9 15 6.6 15.3 8.5 14.5C10.4 13.7 10.5 13.9 13 13.6C15.5 13.3 15.6 13.4 18 13.5C20.4 13.6 20.3 13.2 22 14C23.7 14.8 23.6 14.6 24.5 16.5C25.4 18.4 25.3 18.5 25.5 21C25.7 23.5 25.6 23.6 25.3 26C25 28.4 25.2 28.1 24.5 30C23.8 31.9 23.3 31.1 22.8 33C22.3 34.9 22.8 34.9 22.5 37C22.2 39.1 22 38.7 21.5 41C21 43.3 20.9 43.1 20.5 45.5C20.1 47.9 20.3 47.7 20 50C19.7 52.3 19.6 51.7 19.5 54C19.4 56.3 19 56.6 19.5 58.5C20 60.4 20 59.4 21.5 61C23 62.6 23.8 62.1 25.2 64.5C26.6 66.9 26.1 66.8 26.6 70C27.1 73.2 27.7 73.7 27 76.5C26.3 79.3 26.5 79.1 24 80.5C21.5 81.9 20.8 81.9 17.5 81.8C14.2 81.7 14 81.8 11.5 80C9 78.2 9.4 77.9 8.3 75C7.2 72.1 7.4 71.9 7.4 69C7.4 66.1 7.5 66.3 8.2 64C8.9 61.7 9.3 62.5 10 60.5C10.7 58.5 10.2 58.9 11 56.5C11.8 54.1 11.8 54.2 13 51.5C14.2 48.8 14.7 49.2 15.5 46.5C16.3 43.8 15.7 44.2 16 41.5C16.3 38.8 16.9 38.7 16.5 36.5C16.1 34.3 16.2 34.5 14.5 33.2C12.8 31.9 12.1 32.8 10 31.5C7.9 30.2 7.9 30.5 6.5 28.5C5.1 26.5 5.4 26.3 4.8 24C4.2 21.7 4.1 22 4.4 20Z" fill="#fcb116"/><path d="M18.2 49.2h1.2v1.2h-1.2zM18.8 48.7h1.2v1.2h-1.2zM14.4 57.4h1.2v1.2h-1.2zM22.8 29.7h1.2v1.2h-1.2zM17.1 52.2h1.2v1.2h-1.2zM9.9 75.9h1.2v1.2h-1.2zM15.5 45.3h1.2v1.2h-1.2zM15 47.2h1.2v1.2h-1.2zM16.6 17.3h1.2v1.2h-1.2zM17.2 25.2h1.2v1.2h-1.2zM18.2 34.4h1.2v1.2h-1.2zM16.1 61.4h1.2v1.2h-1.2zM11.3 59.2h1.2v1.2h-1.2zM23.1 30.4h1.2v1.2h-1.2zM14.1 30.9h1.2v1.2h-1.2zM16.8 47.9h1.2v1.2h-1.2zM20.1 42h1.2v1.2h-1.2zM18.6 33.7h1.2v1.2h-1.2zM21.6 71.5h1.2v1.2h-1.2zM8.6 62.6h1.2v1.2h-1.2zM17.3 53.6h1.2v1.2h-1.2zM20.6 36.1h1.2v1.2h-1.2zM10.5 68h1.2v1.2h-1.2zM15.3 59.8h1.2v1.2h-1.2zM21.3 33.5h1.2v1.2h-1.2zM15.8 46.3h1.2v1.2h-1.2zM18.8 59h1.2v1.2h-1.2zM21.3 35.3h1.2v1.2h-1.2zM15.9 44.1h1.2v1.2h-1.2zM10 16.1h1.2v1.2h-1.2zM16.6 72.2h1.2v1.2h-1.2zM23 30h1.2v1.2h-1.2zM15.8 61.6h1.2v1.2h-1.2zM18.5 27.7h1.2v1.2h-1.2zM17.1 39h1.2v1.2h-1.2zM18.3 49.1h1.2v1.2h-1.2zM18.7 33.6h1.2v1.2h-1.2zM15.8 42.9h1.2v1.2h-1.2zM20.4 59.8h1.2v1.2h-1.2zM16.7 48.2h1.2v1.2h-1.2zM19.3 13.5h1.2v1.2h-1.2zM12.4 30.1h1.2v1.2h-1.2zM18.2 57.5h1.2v1.2h-1.2zM18.1 42.2h1.2v1.2h-1.2zM16.9 40.2h1.2v1.2h-1.2zM20.2 59.9h1.2v1.2h-1.2zM15.8 51.1h1.2v1.2h-1.2zM15.6 27.7h1.2v1.2h-1.2zM14.8 52.8h1.2v1.2h-1.2zM21.9 61.9h1.2v1.2h-1.2zM16.3 45.3h1.2v1.2h-1.2zM9.1 72.9h1.2v1.2h-1.2zM18.5 43.4h1.2v1.2h-1.2zM11.4 54.7h1.2v1.2h-1.2zM5.6 23.1h1.2v1.2h-1.2zM19 49.5h1.2v1.2h-1.2zM19.6 66h1.2v1.2h-1.2zM20.5 14.4h1.2v1.2h-1.2zM13.8 14.4h1.2v1.2h-1.2zM10 30.1h1.2v1.2h-1.2zM15.4 25.1h1.2v1.2h-1.2zM14.4 30.7h1.2v1.2h-1.2zM15.9 30h1.2v1.2h-1.2zM8.8 30h1.2v1.2h-1.2zM14.9 34.2h1.2v1.2h-1.2zM11.7 57.9h1.2v1.2h-1.2zM9.8 22.4h1.2v1.2h-1.2zM16.5 42.5h1.2v1.2h-1.2zM20.5 35.3h1.2v1.2h-1.2zM12.4 30.1h1.2v1.2h-1.2zM16 47.5h1.2v1.2h-1.2zM6.2 23.3h1.2v1.2h-1.2zM16.3 27.6h1.2v1.2h-1.2zM14.4 79.6h1.2v1.2h-1.2zM10.1 71.3h1.2v1.2h-1.2zM8.7 69.2h1.2v1.2h-1.2zM20.9 35.6h1.2v1.2h-1.2zM10.2 61.3h1.2v1.2h-1.2zM14.9 26.2h1.2v1.2h-1.2zM14.6 48.1h1.2v1.2h-1.2zM18.3 33h1.2v1.2h-1.2zM16.6 52.8h1.2v1.2h-1.2zM14 68.7h1.2v1.2h-1.2zM20 33.9h1.2v1.2h-1.2zM9.9 23.9h1.2v1.2h-1.2zM20.3 42.3h1.2v1.2h-1.2zM10.1 30.5h1.2v1.2h-1.2zM19.1 41.6h1.2v1.2h-1.2zM15.2 48.7h1.2v1.2h-1.2zM18.1 56.6h1.2v1.2h-1.2zM12.1 57.6h1.2v1.2h-1.2zM16.9 56.9h1.2v1.2h-1.2zM14.1 53.6h1.2v1.2h-1.2zM17.2 50.6h1.2v1.2h-1.2zM13.2 14.9h1.2v1.2h-1.2zM14.7 21.2h1.2v1.2h-1.2zM16.2 47.6h1.2v1.2h-1.2zM17.8 29h1.2v1.2h-1.2zM15.5 57.8h1.2v1.2h-1.2zM9.2 26.6h1.2v1.2h-1.2zM12.4 55.9h1.2v1.2h-1.2zM11.8 58.8h1.2v1.2h-1.2zM11.9 24h1.2v1.2h-1.2zM17.4 46.1h1.2v1.2h-1.2zM18.3 49h1.2v1.2h-1.2zM12.4 65h1.2v1.2h-1.2zM21.2 63.8h1.2v1.2h-1.2zM6.8 16.8h1.2v1.2h-1.2zM8 18.3h1.2v1.2h-1.2zM19.6 34.4h1.2v1.2h-1.2zM21.4 34.7h1.2v1.2h-1.2zM16.2 20.9h1.2v1.2h-1.2zM12.4 24.2h1.2v1.2h-1.2zM20.6 77.5h1.2v1.2h-1.2zM18.8 40.8h1.2v1.2h-1.2zM18.4 43.4h1.2v1.2h-1.2zM10.2 14.4h1.2v1.2h-1.2zM14 30.1h1.2v1.2h-1.2zM16 39.5h1.2v1.2h-1.2zM9.6 67.3h1.2v1.2h-1.2zM14 59h1.2v1.2h-1.2zM18.9 31.5h1.2v1.2h-1.2zM8.4 72.4h1.2v1.2h-1.2zM10.9 59h1.2v1.2h-1.2zM18.8 69.7h1.2v1.2h-1.2zM17.1 40.6h1.2v1.2h-1.2zM9.5 27.5h1.2v1.2h-1.2zM15.7 71.1h1.2v1.2h-1.2zM15.3 56h1.2v1.2h-1.2zM22.6 24.3h1.2v1.2h-1.2zM21.9 65.6h1.2v1.2h-1.2zM20 24.3h1.2v1.2h-1.2zM10.5 19.3h1.2v1.2h-1.2zM13.5 60h1.2v1.2h-1.2zM12.3 16.9h1.2v1.2h-1.2zM17.8 51.1h1.2v1.2h-1.2zM18.5 38.2h1.2v1.2h-1.2zM18.1 68.4h1.2v1.2h-1.2zM14.7 30.6h1.2v1.2h-1.2zM15.1 74.5h1.2v1.2h-1.2z" fill="#f1ede4"/><path d="M38.5 10.7h1.1v1.1h-1.1zM34.4 10.1h1.1v1.1h-1.1zM35.8 12.7h1.1v1.1h-1.1zM39.7 13.3h1.1v1.1h-1.1zM38.7 11.2h1.1v1.1h-1.1zM32.9 10.6h1.1v1.1h-1.1zM35.1 8.8h1.1v1.1h-1.1zM36.8 9.1h1.1v1.1h-1.1zM36.6 13.5h1.1v1.1h-1.1zM36.1 8.5h1.1v1.1h-1.1zM35.1 9.3h1.1v1.1h-1.1zM37.7 10.3h1.1v1.1h-1.1zM37.9 14.2h1.1v1.1h-1.1zM35 8.4h1.1v1.1h-1.1zM37.1 8.7h1.1v1.1h-1.1zM34.8 11.3h1.1v1.1h-1.1zM32.5 10.9h1.1v1.1h-1.1zM35.3 12.9h1.1v1.1h-1.1zM34.5 12.3h1.1v1.1h-1.1zM32.4 10.5h1.1v1.1h-1.1zM34.2 12.8h1.1v1.1h-1.1zM33.1 11.9h1.1v1.1h-1.1zM38.4 11.4h1.1v1.1h-1.1zM34.6 13.3h1.1v1.1h-1.1zM34.2 9.1h1.1v1.1h-1.1zM35.2 10.2h1.1v1.1h-1.1zM38.9 9.4h1.1v1.1h-1.1zM38 9.8h1.1v1.1h-1.1zM34.5 9.4h1.1v1.1h-1.1zM35.8 9.1h1.1v1.1h-1.1z" fill="#fcb116"/><path d="M24.8 14.1h1.1v1.1h-1.1zM25 14.5h1.1v1.1h-1.1zM25.2 14.4h1.1v1.1h-1.1zM25.7 13.9h1.1v1.1h-1.1zM26.4 13.8h1.1v1.1h-1.1zM26.6 13.2h1.1v1.1h-1.1zM26.7 13.2h1.1v1.1h-1.1zM27.3 13h1.1v1.1h-1.1zM27.3 13.1h1.1v1.1h-1.1zM28.3 12.8h1.1v1.1h-1.1zM28.7 12.5h1.1v1.1h-1.1zM28.5 12.1h1.1v1.1h-1.1zM28.9 12.2h1.1v1.1h-1.1zM29.8 11.5h1.1v1.1h-1.1zM29.7 11.3h1.1v1.1h-1.1zM30.5 11.6h1.1v1.1h-1.1zM30.8 11h1.1v1.1h-1.1zM31.2 11.3h1.1v1.1h-1.1zM31.4 11h1.1v1.1h-1.1zM32.2 10.6h1.1v1.1h-1.1z" fill="#fcb116"/><path d="M2.5 36.5h1.1v1.1h-1.1zM45.5 34.5h1.1v1.1h-1.1zM46.5 32.5h1.1v1.1h-1.1zM38 3.5h1.1v1.1h-1.1z" fill="#fcb116"/><line x1="0" y1="0" x2="0" y2="85" stroke="#858585" stroke-width="1"/><line x1="0" y1="85" x2="85.2" y2="85" stroke="#858585" stroke-width="1"/><text x="5" y="10.8" font-size="8.9" fill="#1a1a1a">CD8<tspan dy="-3" font-size="6">+</tspan><tspan dy="3"> T</tspan></text><text x="32.1" y="29.5" font-size="8.9" text-anchor="start" fill="#1a1a1a">Myeloid</text><text x="65" y="36.4" font-size="8.9" text-anchor="start" fill="#1a1a1a">B cells</text><text x="20.2" y="56" font-size="8.9" fill="#1a1a1a">T<tspan dy="3" font-size="6.5">reg</tspan></text><text x="26.7" y="82.1" font-size="8.9" fill="#1a1a1a">CD4<tspan dy="-3" font-size="6">+</tspan><tspan dy="3"> T</tspan></text></g><g transform="translate(253.5 362.5)"><use href="#ug"/><path d="M49.2 49C49.4 46.1 49 47 50 45C51 43 51.1 43.1 53 41.5C54.9 39.9 55 40 57 39C59 38 58.5 38.1 60.5 37.7C62.5 37.3 62.5 37.2 64.5 37.5C66.5 37.8 66.3 37.9 68 38.8C69.7 39.7 69.4 40.4 71 40.8C72.6 41.2 72.3 40.4 74 40.3C75.7 40.2 75.7 39.8 77.5 40.5C79.3 41.2 79.8 41.1 80.8 43C81.8 44.9 81.4 45.1 81.2 47.5C81 49.9 80.5 49.5 80 52C79.5 54.5 79.8 54.3 79.3 57C78.8 59.7 79 59.3 78 62C77 64.7 77.5 64.7 75.5 67C73.5 69.3 73.4 69.5 70.5 70.8C67.6 72.1 67.9 71.9 64.7 71.8C61.5 71.7 61.5 71.7 58.5 70.5C55.5 69.3 55.6 69.5 53.5 67.2C51.4 64.9 51.9 65 50.8 62C49.7 59 49.8 59.5 49.4 56C49 52.5 49 51.9 49.2 49Z" fill="#849437"/><path d="M64.2 48.8h1.2v1.2h-1.2zM49.8 57.6h1.2v1.2h-1.2zM56.9 42.3h1.2v1.2h-1.2zM56.3 41.9h1.2v1.2h-1.2zM71.1 66.4h1.2v1.2h-1.2zM58.8 64.2h1.2v1.2h-1.2zM53.5 49.9h1.2v1.2h-1.2zM68.1 41.4h1.2v1.2h-1.2zM53.9 43.1h1.2v1.2h-1.2zM77.8 48.4h1.2v1.2h-1.2zM60.3 67.3h1.2v1.2h-1.2zM55.5 53.6h1.2v1.2h-1.2zM51.6 43.4h1.2v1.2h-1.2zM75.8 56.6h1.2v1.2h-1.2zM77.8 49.3h1.2v1.2h-1.2zM74.9 48.2h1.2v1.2h-1.2zM59.7 68.8h1.2v1.2h-1.2zM70.8 49.1h1.2v1.2h-1.2zM76 61h1.2v1.2h-1.2zM65.5 37.8h1.2v1.2h-1.2zM55.7 68.3h1.2v1.2h-1.2zM67.1 61.7h1.2v1.2h-1.2zM57.3 61.2h1.2v1.2h-1.2zM57.3 42.6h1.2v1.2h-1.2zM79.6 44.2h1.2v1.2h-1.2zM69.8 60.2h1.2v1.2h-1.2zM63.4 38.3h1.2v1.2h-1.2zM58.7 44.4h1.2v1.2h-1.2zM71.1 41.5h1.2v1.2h-1.2zM67.5 65h1.2v1.2h-1.2zM72.2 66h1.2v1.2h-1.2zM53.6 58.8h1.2v1.2h-1.2zM62.4 54h1.2v1.2h-1.2zM54 60.5h1.2v1.2h-1.2zM57.9 40.3h1.2v1.2h-1.2zM49 50.5h1.2v1.2h-1.2zM68.8 69.6h1.2v1.2h-1.2zM66.1 59.8h1.2v1.2h-1.2zM64.9 67.2h1.2v1.2h-1.2zM75.1 52.9h1.2v1.2h-1.2zM62.5 37.8h1.2v1.2h-1.2zM55 45.7h1.2v1.2h-1.2zM53.5 61h1.2v1.2h-1.2zM64.1 39.6h1.2v1.2h-1.2zM66.9 47.4h1.2v1.2h-1.2zM69.8 65.4h1.2v1.2h-1.2zM75.2 48.6h1.2v1.2h-1.2zM49.4 50.8h1.2v1.2h-1.2zM67 47.4h1.2v1.2h-1.2zM56 45.3h1.2v1.2h-1.2zM74.2 55.8h1.2v1.2h-1.2zM54.5 63.2h1.2v1.2h-1.2zM63.6 39.7h1.2v1.2h-1.2zM70.4 44.9h1.2v1.2h-1.2zM62.6 65.9h1.2v1.2h-1.2zM76.5 42.5h1.2v1.2h-1.2zM77.1 48.5h1.2v1.2h-1.2zM77.3 55.9h1.2v1.2h-1.2zM62.1 46.6h1.2v1.2h-1.2zM64.2 62.6h1.2v1.2h-1.2zM63.6 38.5h1.2v1.2h-1.2zM68.1 43.5h1.2v1.2h-1.2zM65.2 42.5h1.2v1.2h-1.2zM55.5 67.5h1.2v1.2h-1.2zM48.9 48.2h1.2v1.2h-1.2zM68.2 40.2h1.2v1.2h-1.2zM50.1 49.3h1.2v1.2h-1.2zM63.9 47.3h1.2v1.2h-1.2zM74.6 54h1.2v1.2h-1.2zM66.1 46.3h1.2v1.2h-1.2zM60.7 53.9h1.2v1.2h-1.2zM52.5 46.6h1.2v1.2h-1.2zM53.9 56.5h1.2v1.2h-1.2zM50.5 47.1h1.2v1.2h-1.2zM67.6 42.3h1.2v1.2h-1.2zM73.6 48.2h1.2v1.2h-1.2zM66.6 62.9h1.2v1.2h-1.2zM77.8 41.6h1.2v1.2h-1.2zM64.5 37.5h1.2v1.2h-1.2zM76.6 53.8h1.2v1.2h-1.2zM62.8 55h1.2v1.2h-1.2zM53.7 44.8h1.2v1.2h-1.2zM54.4 48h1.2v1.2h-1.2zM71.2 48h1.2v1.2h-1.2zM63.6 43.1h1.2v1.2h-1.2zM50.5 57.1h1.2v1.2h-1.2zM64.5 48.1h1.2v1.2h-1.2zM69.6 41.5h1.2v1.2h-1.2zM51.5 49.1h1.2v1.2h-1.2zM74 57.4h1.2v1.2h-1.2zM56.8 58.8h1.2v1.2h-1.2zM73.2 63.1h1.2v1.2h-1.2zM50.3 53.9h1.2v1.2h-1.2zM73.9 43.1h1.2v1.2h-1.2zM75.8 56.3h1.2v1.2h-1.2zM60.4 49.7h1.2v1.2h-1.2zM71.4 48.5h1.2v1.2h-1.2zM56.3 41.5h1.2v1.2h-1.2zM70 54.6h1.2v1.2h-1.2zM64.7 49.2h1.2v1.2h-1.2zM61 43.9h1.2v1.2h-1.2zM76.7 56.3h1.2v1.2h-1.2zM76.5 45.5h1.2v1.2h-1.2zM53.7 50.5h1.2v1.2h-1.2zM69.6 61.1h1.2v1.2h-1.2zM68.4 48.8h1.2v1.2h-1.2zM72.2 56h1.2v1.2h-1.2zM69.4 58.4h1.2v1.2h-1.2zM68.6 48.1h1.2v1.2h-1.2zM72.6 62.2h1.2v1.2h-1.2zM57.3 48.1h1.2v1.2h-1.2zM61.3 55.1h1.2v1.2h-1.2zM64.1 37h1.2v1.2h-1.2zM62 61.3h1.2v1.2h-1.2zM70.4 67.9h1.2v1.2h-1.2zM52.8 44.2h1.2v1.2h-1.2zM59 39.6h1.2v1.2h-1.2zM63.6 38.8h1.2v1.2h-1.2zM72.8 57h1.2v1.2h-1.2zM52.4 41.9h1.2v1.2h-1.2zM77.1 59.7h1.2v1.2h-1.2zM53.6 48.2h1.2v1.2h-1.2zM66.1 53.6h1.2v1.2h-1.2zM68 64.4h1.2v1.2h-1.2zM73.7 43.3h1.2v1.2h-1.2zM67.1 43.5h1.2v1.2h-1.2zM56.5 57.8h1.2v1.2h-1.2zM75.8 53.2h1.2v1.2h-1.2zM55.7 44.9h1.2v1.2h-1.2zM75.8 47.4h1.2v1.2h-1.2zM66.8 44.8h1.2v1.2h-1.2zM60.8 49.2h1.2v1.2h-1.2zM70.4 40.8h1.2v1.2h-1.2zM65 41.9h1.2v1.2h-1.2zM50.1 56h1.2v1.2h-1.2zM67.2 45.1h1.2v1.2h-1.2zM76.4 42.5h1.2v1.2h-1.2zM57.9 43.9h1.2v1.2h-1.2zM61.6 44.8h1.2v1.2h-1.2zM55.6 47h1.2v1.2h-1.2zM59.8 48.2h1.2v1.2h-1.2zM62.8 43.1h1.2v1.2h-1.2zM54.4 61.6h1.2v1.2h-1.2zM59.3 56.3h1.2v1.2h-1.2zM71.4 63.1h1.2v1.2h-1.2zM70.7 41.8h1.2v1.2h-1.2zM64.8 44.9h1.2v1.2h-1.2zM59.6 39h1.2v1.2h-1.2zM69.4 45.3h1.2v1.2h-1.2zM59.3 54.3h1.2v1.2h-1.2z" fill="#dfe3d2"/><path d="M40.9 35.7h1v1h-1zM42.9 36.5h1v1h-1zM41.2 31.9h1v1h-1zM45.5 32.1h1v1h-1zM44.9 37.4h1v1h-1zM44.3 31.7h1v1h-1zM43.6 35.8h1v1h-1zM46.5 34h1v1h-1zM44.3 33h1v1h-1zM42 33.6h1v1h-1zM39.7 32.7h1v1h-1zM47 36.4h1v1h-1zM38.6 31.9h1v1h-1zM46.8 35.4h1v1h-1zM44.1 34.5h1v1h-1zM45.2 36.9h1v1h-1zM41.1 38.6h1v1h-1zM41.6 36.9h1v1h-1zM48.2 37h1v1h-1zM46.8 32.3h1v1h-1zM44.5 38.5h1v1h-1zM38.3 32.6h1v1h-1zM43.4 35.2h1v1h-1zM41 33.5h1v1h-1zM48.8 37.9h1v1h-1zM40 31.6h1v1h-1zM46.5 36.6h1v1h-1zM42.5 32.6h1v1h-1zM47.2 36.9h1v1h-1zM46 38.7h1v1h-1z" fill="#849437"/><path d="M32.1 42.4h1v1h-1zM33 41.4h1v1h-1zM33.6 41.1h1v1h-1zM34.3 41.6h1v1h-1zM34.6 41.1h1v1h-1zM34.6 40.9h1v1h-1zM35.4 40.5h1v1h-1zM36.1 40.1h1v1h-1zM36.2 40.1h1v1h-1zM36.3 40.1h1v1h-1zM37 40.2h1v1h-1zM37.1 40.3h1v1h-1zM38.4 40.1h1v1h-1zM38.4 39.1h1v1h-1zM38.3 39.6h1v1h-1zM39.6 39.1h1v1h-1z" fill="#849437"/><path d="M55 42.6h1v1h-1zM51.2 45.4h1v1h-1zM53.3 43.6h1v1h-1zM47.6 40.2h1v1h-1zM51.2 43.7h1v1h-1zM49.9 44.2h1v1h-1zM51.4 44.1h1v1h-1zM52.1 40.6h1v1h-1zM47 44.5h1v1h-1zM53.5 44.8h1v1h-1zM54.6 41.7h1v1h-1zM50.2 41.7h1v1h-1zM46.9 42.8h1v1h-1zM50 41.4h1v1h-1zM46.4 39h1v1h-1zM53.7 41.1h1v1h-1z" fill="#849437"/><line x1="0" y1="0" x2="0" y2="85" stroke="#858585" stroke-width="1"/><line x1="0" y1="85" x2="85.2" y2="85" stroke="#858585" stroke-width="1"/><text x="5" y="10.8" font-size="8.9" fill="#1a1a1a">CD8<tspan dy="-3" font-size="6">+</tspan><tspan dy="3"> T</tspan></text><text x="32.1" y="29.5" font-size="8.9" text-anchor="start" fill="#1a1a1a">Myeloid</text><text x="65" y="36.4" font-size="8.9" text-anchor="start" fill="#1a1a1a">B cells</text><text x="20.2" y="56" font-size="8.9" fill="#1a1a1a">T<tspan dy="3" font-size="6.5">reg</tspan></text><text x="26.7" y="82.1" font-size="8.9" fill="#1a1a1a">CD4<tspan dy="-3" font-size="6">+</tspan><tspan dy="3"> T</tspan></text></g><g transform="translate(347.5 362.5)"><use href="#ug"/><path d="M49.2 49C49.4 46.1 49 47 50 45C51 43 51.1 43.1 53 41.5C54.9 39.9 55 40 57 39C59 38 58.5 38.1 60.5 37.7C62.5 37.3 62.5 37.2 64.5 37.5C66.5 37.8 66.3 37.9 68 38.8C69.7 39.7 69.4 40.4 71 40.8C72.6 41.2 72.3 40.4 74 40.3C75.7 40.2 75.7 39.8 77.5 40.5C79.3 41.2 79.8 41.1 80.8 43C81.8 44.9 81.4 45.1 81.2 47.5C81 49.9 80.5 49.5 80 52C79.5 54.5 79.8 54.3 79.3 57C78.8 59.7 79 59.3 78 62C77 64.7 77.5 64.7 75.5 67C73.5 69.3 73.4 69.5 70.5 70.8C67.6 72.1 67.9 71.9 64.7 71.8C61.5 71.7 61.5 71.7 58.5 70.5C55.5 69.3 55.6 69.5 53.5 67.2C51.4 64.9 51.9 65 50.8 62C49.7 59 49.8 59.5 49.4 56C49 52.5 49 51.9 49.2 49Z" fill="#db6018"/><path d="M72.7 49.7h1.2v1.2h-1.2zM52.2 41.4h1.2v1.2h-1.2zM59.2 64.4h1.2v1.2h-1.2zM55.8 56.3h1.2v1.2h-1.2zM57.9 38.5h1.2v1.2h-1.2zM75 54.3h1.2v1.2h-1.2zM64.3 58.9h1.2v1.2h-1.2zM67.4 65.9h1.2v1.2h-1.2zM54.8 42.4h1.2v1.2h-1.2zM68.5 45.2h1.2v1.2h-1.2zM64.5 39h1.2v1.2h-1.2zM62.4 59.2h1.2v1.2h-1.2zM64.3 49.7h1.2v1.2h-1.2zM57.4 49h1.2v1.2h-1.2zM59 58.8h1.2v1.2h-1.2zM53.4 44.5h1.2v1.2h-1.2zM71.7 49.9h1.2v1.2h-1.2zM64.3 48.2h1.2v1.2h-1.2zM54.9 41.2h1.2v1.2h-1.2zM65.7 65.4h1.2v1.2h-1.2zM56.2 46.5h1.2v1.2h-1.2zM61.4 68.4h1.2v1.2h-1.2zM61.1 55.1h1.2v1.2h-1.2zM49.3 55.6h1.2v1.2h-1.2zM62.9 45.7h1.2v1.2h-1.2zM61.4 59.4h1.2v1.2h-1.2zM57.4 69.3h1.2v1.2h-1.2zM64.6 42.9h1.2v1.2h-1.2zM61.8 44.8h1.2v1.2h-1.2zM67.7 49.5h1.2v1.2h-1.2zM64.5 42.3h1.2v1.2h-1.2zM70.4 51.2h1.2v1.2h-1.2zM70.9 59.1h1.2v1.2h-1.2zM76.8 54.3h1.2v1.2h-1.2zM50.2 55h1.2v1.2h-1.2zM79.1 52.9h1.2v1.2h-1.2zM69.6 46.3h1.2v1.2h-1.2zM60 56.5h1.2v1.2h-1.2zM78.7 52.9h1.2v1.2h-1.2zM68.5 57h1.2v1.2h-1.2zM65.7 46.4h1.2v1.2h-1.2zM51.1 48.9h1.2v1.2h-1.2zM51.8 53.4h1.2v1.2h-1.2zM68.1 47.1h1.2v1.2h-1.2zM76.1 49.3h1.2v1.2h-1.2zM63.5 62.9h1.2v1.2h-1.2zM53.2 65.2h1.2v1.2h-1.2zM60.6 54.2h1.2v1.2h-1.2zM75.2 44.5h1.2v1.2h-1.2zM78.8 55.2h1.2v1.2h-1.2zM70.1 49.7h1.2v1.2h-1.2zM57.1 66.1h1.2v1.2h-1.2zM66.1 40.5h1.2v1.2h-1.2zM61.7 48.2h1.2v1.2h-1.2zM55.5 54.8h1.2v1.2h-1.2zM71 44.2h1.2v1.2h-1.2zM70.9 65.9h1.2v1.2h-1.2zM65.3 41.9h1.2v1.2h-1.2zM78.2 44.6h1.2v1.2h-1.2zM52 44.6h1.2v1.2h-1.2zM51.3 56.9h1.2v1.2h-1.2zM71.7 40.9h1.2v1.2h-1.2zM65.8 65.1h1.2v1.2h-1.2zM55 63.9h1.2v1.2h-1.2zM50.7 43.6h1.2v1.2h-1.2zM70.3 61.3h1.2v1.2h-1.2zM55.7 47.5h1.2v1.2h-1.2zM70.8 57.5h1.2v1.2h-1.2zM66.9 63.8h1.2v1.2h-1.2zM59.3 54.9h1.2v1.2h-1.2zM74 55.4h1.2v1.2h-1.2zM67.7 50.8h1.2v1.2h-1.2zM61.8 44.6h1.2v1.2h-1.2zM76.9 43.7h1.2v1.2h-1.2zM75.7 43.8h1.2v1.2h-1.2zM73.5 65.5h1.2v1.2h-1.2zM69.8 45.5h1.2v1.2h-1.2zM71.3 43.4h1.2v1.2h-1.2zM78.1 54.7h1.2v1.2h-1.2zM73 40.5h1.2v1.2h-1.2zM73.1 66.2h1.2v1.2h-1.2zM57.4 48.2h1.2v1.2h-1.2zM73.5 55.5h1.2v1.2h-1.2zM76.3 47.1h1.2v1.2h-1.2zM67 42.9h1.2v1.2h-1.2zM55.7 62.6h1.2v1.2h-1.2zM68.7 48h1.2v1.2h-1.2zM59.7 66.4h1.2v1.2h-1.2zM54.2 40.7h1.2v1.2h-1.2zM62.7 44h1.2v1.2h-1.2z" fill="#f0ddd0"/><path d="M48.9 33.1h1v1h-1zM42 38.3h1v1h-1zM39.6 32.7h1v1h-1zM45.7 38h1v1h-1zM44.6 31.9h1v1h-1zM45.5 32.2h1v1h-1zM44.4 39.2h1v1h-1zM44 32h1v1h-1zM45 34.7h1v1h-1zM43.1 39.1h1v1h-1zM44.9 35.5h1v1h-1zM39.8 34.7h1v1h-1zM40.6 31.7h1v1h-1zM38.9 36.1h1v1h-1zM46.7 34.9h1v1h-1zM41.7 36.6h1v1h-1zM45.3 37.4h1v1h-1zM44.2 37.6h1v1h-1z" fill="#db6018"/><path d="M43.8 45.2h1v1h-1zM50.1 43.8h1v1h-1zM51.2 41.5h1v1h-1zM48.7 40.8h1v1h-1zM43.8 38.8h1v1h-1zM47.3 41.5h1v1h-1zM51.8 41.3h1v1h-1zM48 42.2h1v1h-1zM45.7 42.7h1v1h-1zM49.2 42.8h1v1h-1zM46.4 44h1v1h-1zM47.3 39.5h1v1h-1zM45.7 42.3h1v1h-1zM45.7 43.7h1v1h-1z" fill="#db6018"/><line x1="0" y1="0" x2="0" y2="85" stroke="#858585" stroke-width="1"/><line x1="0" y1="85" x2="85.2" y2="85" stroke="#858585" stroke-width="1"/><text x="5" y="10.8" font-size="8.9" fill="#1a1a1a">CD8<tspan dy="-3" font-size="6">+</tspan><tspan dy="3"> T</tspan></text><text x="32.1" y="29.5" font-size="8.9" text-anchor="start" fill="#1a1a1a">Myeloid</text><text x="65" y="36.4" font-size="8.9" text-anchor="start" fill="#1a1a1a">B cells</text><text x="20.2" y="56" font-size="8.9" fill="#1a1a1a">T<tspan dy="3" font-size="6.5">reg</tspan></text><text x="26.7" y="82.1" font-size="8.9" fill="#1a1a1a">CD4<tspan dy="-3" font-size="6">+</tspan><tspan dy="3"> T</tspan></text></g><text x="346" y="472" font-size="8.9" text-anchor="middle" fill="#1a1a1a">UMAP1</text><text x="248.6" y="361" font-size="8.9" text-anchor="middle" transform="rotate(-90 248.6 361)" fill="#1a1a1a">UMAP2</text><text x="240" y="268.6" font-size="10" text-anchor="start" font-weight="bold" fill="#111">e</text></svg></body></html>
